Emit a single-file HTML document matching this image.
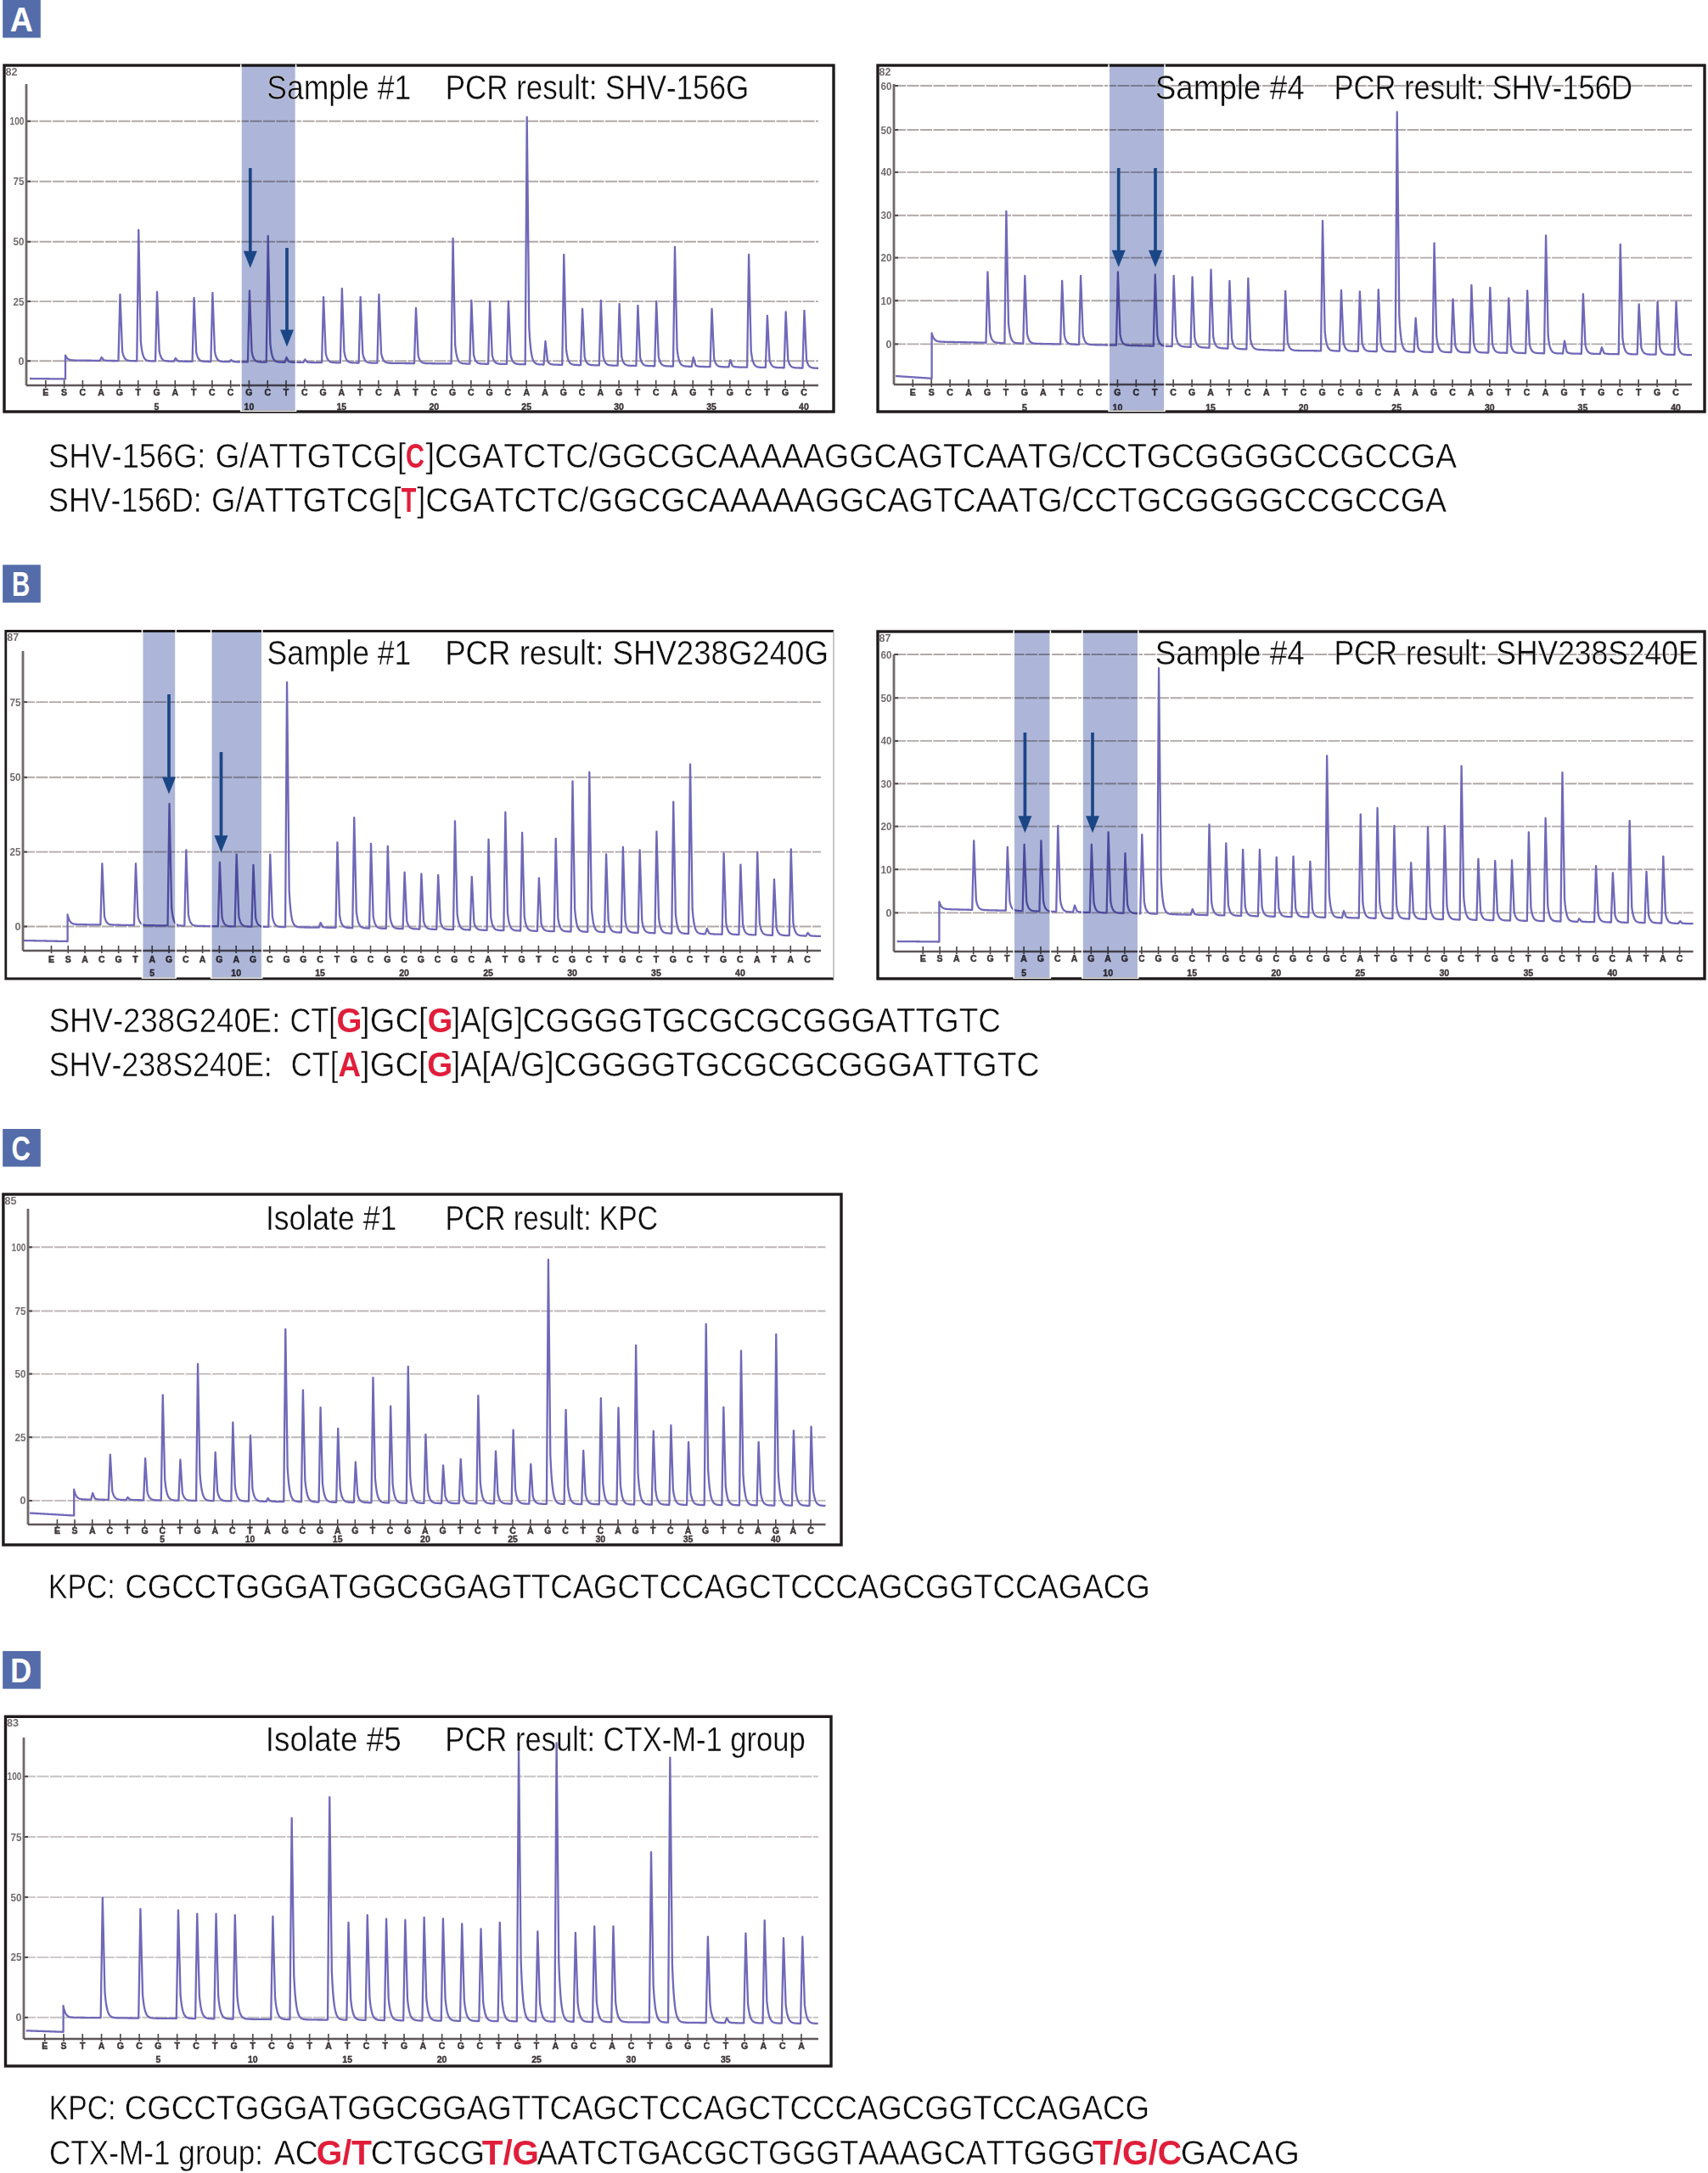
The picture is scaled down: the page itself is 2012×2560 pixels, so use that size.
<!DOCTYPE html>
<html><head><meta charset="utf-8"><style>
html,body{margin:0;padding:0;background:#fff;}
body{width:2012px;height:2560px;overflow:hidden;}
svg{display:block;}
</style></head><body>
<svg width="2012" height="2560" viewBox="0 0 2012 2560">
<defs><filter id="soft" x="-1%" y="-2%" width="102%" height="104%"><feGaussianBlur stdDeviation="0.6"/></filter></defs>
<rect x="0" y="0" width="2012" height="2560" fill="#fff"/>
<rect x="3.2" y="0" width="44.6" height="44.5" fill="#546ca9"/>
<text x="11.86" y="36.7" font-family="Liberation Sans" font-size="41.4" font-weight="bold" fill="#fff" textLength="27.23" lengthAdjust="spacingAndGlyphs" style="font-kerning:none" xml:space="preserve">A</text>
<rect x="3.2" y="665.4" width="44.6" height="44.5" fill="#546ca9"/>
<text x="14.04" y="702.1" font-family="Liberation Sans" font-size="41.4" font-weight="bold" fill="#fff" textLength="21.2" lengthAdjust="spacingAndGlyphs" style="font-kerning:none" xml:space="preserve">B</text>
<rect x="3.2" y="1330" width="44.6" height="44.5" fill="#546ca9"/>
<text x="13.53" y="1366.7" font-family="Liberation Sans" font-size="41.4" font-weight="bold" fill="#fff" textLength="22.42" lengthAdjust="spacingAndGlyphs" style="font-kerning:none" xml:space="preserve">C</text>
<rect x="3.2" y="1945.1" width="44.6" height="44.5" fill="#546ca9"/>
<text x="12.29" y="1981.8" font-family="Liberation Sans" font-size="41.4" font-weight="bold" fill="#fff" textLength="24.96" lengthAdjust="spacingAndGlyphs" style="font-kerning:none" xml:space="preserve">D</text>
<g filter="url(#soft)">
<line x1="31" y1="142.8" x2="964" y2="142.8" stroke="#b0a9a8" stroke-width="1.9" stroke-dasharray="14 1.5"/>
<line x1="31" y1="142.8" x2="36" y2="142.8" stroke="#4b4547" stroke-width="2"/>
<text x="28.5" y="147.3" font-family="Liberation Sans" font-weight="bold" font-size="12" fill="#5a5254" text-anchor="end" textLength="17" lengthAdjust="spacingAndGlyphs" opacity="0.85">100</text>
<line x1="31" y1="213.7" x2="964" y2="213.7" stroke="#b0a9a8" stroke-width="1.9" stroke-dasharray="14 1.5"/>
<line x1="31" y1="213.7" x2="36" y2="213.7" stroke="#4b4547" stroke-width="2"/>
<text x="28.5" y="218.2" font-family="Liberation Sans" font-weight="bold" font-size="12" fill="#5a5254" text-anchor="end" textLength="13" lengthAdjust="spacingAndGlyphs" opacity="0.85">75</text>
<line x1="31" y1="284.8" x2="964" y2="284.8" stroke="#b0a9a8" stroke-width="1.9" stroke-dasharray="14 1.5"/>
<line x1="31" y1="284.8" x2="36" y2="284.8" stroke="#4b4547" stroke-width="2"/>
<text x="28.5" y="289.3" font-family="Liberation Sans" font-weight="bold" font-size="12" fill="#5a5254" text-anchor="end" textLength="13" lengthAdjust="spacingAndGlyphs" opacity="0.85">50</text>
<line x1="31" y1="355.1" x2="964" y2="355.1" stroke="#b0a9a8" stroke-width="1.9" stroke-dasharray="14 1.5"/>
<line x1="31" y1="355.1" x2="36" y2="355.1" stroke="#4b4547" stroke-width="2"/>
<text x="28.5" y="359.6" font-family="Liberation Sans" font-weight="bold" font-size="12" fill="#5a5254" text-anchor="end" textLength="13" lengthAdjust="spacingAndGlyphs" opacity="0.85">25</text>
<line x1="31" y1="425.3" x2="964" y2="425.3" stroke="#b0a9a8" stroke-width="1.9" stroke-dasharray="14 1.5"/>
<line x1="31" y1="425.3" x2="36" y2="425.3" stroke="#4b4547" stroke-width="2"/>
<text x="28.5" y="429.8" font-family="Liberation Sans" font-weight="bold" font-size="12" fill="#5a5254" text-anchor="end" textLength="7" lengthAdjust="spacingAndGlyphs" opacity="0.85">0</text>
<text x="6.5" y="88.5" font-family="Liberation Sans" font-weight="bold" font-size="12" fill="#5a5254" textLength="14" lengthAdjust="spacingAndGlyphs" opacity="0.85">82</text>
<line x1="31" y1="99" x2="31" y2="454" stroke="#6f6769" stroke-width="2.8"/>
<line x1="31" y1="454" x2="964" y2="454" stroke="#5f5759" stroke-width="2.6"/>
<line x1="53.82" y1="448" x2="53.82" y2="457" stroke="#4b4547" stroke-width="1.6"/>
<text x="53.82" y="466" font-family="Liberation Sans" font-weight="bold" font-size="10.5" fill="#3d3638" stroke="#3d3638" stroke-width="0.5" text-anchor="middle">E</text>
<line x1="75.6" y1="448" x2="75.6" y2="457" stroke="#4b4547" stroke-width="1.6"/>
<text x="75.6" y="466" font-family="Liberation Sans" font-weight="bold" font-size="10.5" fill="#3d3638" stroke="#3d3638" stroke-width="0.5" text-anchor="middle">S</text>
<line x1="97.39" y1="448" x2="97.39" y2="457" stroke="#4b4547" stroke-width="1.6"/>
<text x="97.39" y="466" font-family="Liberation Sans" font-weight="bold" font-size="10.5" fill="#3d3638" stroke="#3d3638" stroke-width="0.5" text-anchor="middle">C</text>
<line x1="119.17" y1="448" x2="119.17" y2="457" stroke="#4b4547" stroke-width="1.6"/>
<text x="119.17" y="466" font-family="Liberation Sans" font-weight="bold" font-size="10.5" fill="#3d3638" stroke="#3d3638" stroke-width="0.5" text-anchor="middle">A</text>
<line x1="140.96" y1="448" x2="140.96" y2="457" stroke="#4b4547" stroke-width="1.6"/>
<text x="140.96" y="466" font-family="Liberation Sans" font-weight="bold" font-size="10.5" fill="#3d3638" stroke="#3d3638" stroke-width="0.5" text-anchor="middle">G</text>
<line x1="162.74" y1="448" x2="162.74" y2="457" stroke="#4b4547" stroke-width="1.6"/>
<text x="162.74" y="466" font-family="Liberation Sans" font-weight="bold" font-size="10.5" fill="#3d3638" stroke="#3d3638" stroke-width="0.5" text-anchor="middle">T</text>
<line x1="184.52" y1="448" x2="184.52" y2="457" stroke="#4b4547" stroke-width="1.6"/>
<text x="184.52" y="466" font-family="Liberation Sans" font-weight="bold" font-size="10.5" fill="#3d3638" stroke="#3d3638" stroke-width="0.5" text-anchor="middle">G</text>
<line x1="206.31" y1="448" x2="206.31" y2="457" stroke="#4b4547" stroke-width="1.6"/>
<text x="206.31" y="466" font-family="Liberation Sans" font-weight="bold" font-size="10.5" fill="#3d3638" stroke="#3d3638" stroke-width="0.5" text-anchor="middle">A</text>
<line x1="228.09" y1="448" x2="228.09" y2="457" stroke="#4b4547" stroke-width="1.6"/>
<text x="228.09" y="466" font-family="Liberation Sans" font-weight="bold" font-size="10.5" fill="#3d3638" stroke="#3d3638" stroke-width="0.5" text-anchor="middle">T</text>
<line x1="249.88" y1="448" x2="249.88" y2="457" stroke="#4b4547" stroke-width="1.6"/>
<text x="249.88" y="466" font-family="Liberation Sans" font-weight="bold" font-size="10.5" fill="#3d3638" stroke="#3d3638" stroke-width="0.5" text-anchor="middle">C</text>
<line x1="271.66" y1="448" x2="271.66" y2="457" stroke="#4b4547" stroke-width="1.6"/>
<text x="271.66" y="466" font-family="Liberation Sans" font-weight="bold" font-size="10.5" fill="#3d3638" stroke="#3d3638" stroke-width="0.5" text-anchor="middle">C</text>
<line x1="293.44" y1="448" x2="293.44" y2="457" stroke="#4b4547" stroke-width="1.6"/>
<text x="293.44" y="466" font-family="Liberation Sans" font-weight="bold" font-size="10.5" fill="#3d3638" stroke="#3d3638" stroke-width="0.5" text-anchor="middle">G</text>
<line x1="315.23" y1="448" x2="315.23" y2="457" stroke="#4b4547" stroke-width="1.6"/>
<text x="315.23" y="466" font-family="Liberation Sans" font-weight="bold" font-size="10.5" fill="#3d3638" stroke="#3d3638" stroke-width="0.5" text-anchor="middle">C</text>
<line x1="337.01" y1="448" x2="337.01" y2="457" stroke="#4b4547" stroke-width="1.6"/>
<text x="337.01" y="466" font-family="Liberation Sans" font-weight="bold" font-size="10.5" fill="#3d3638" stroke="#3d3638" stroke-width="0.5" text-anchor="middle">T</text>
<line x1="358.8" y1="448" x2="358.8" y2="457" stroke="#4b4547" stroke-width="1.6"/>
<text x="358.8" y="466" font-family="Liberation Sans" font-weight="bold" font-size="10.5" fill="#3d3638" stroke="#3d3638" stroke-width="0.5" text-anchor="middle">C</text>
<line x1="380.58" y1="448" x2="380.58" y2="457" stroke="#4b4547" stroke-width="1.6"/>
<text x="380.58" y="466" font-family="Liberation Sans" font-weight="bold" font-size="10.5" fill="#3d3638" stroke="#3d3638" stroke-width="0.5" text-anchor="middle">G</text>
<line x1="402.36" y1="448" x2="402.36" y2="457" stroke="#4b4547" stroke-width="1.6"/>
<text x="402.36" y="466" font-family="Liberation Sans" font-weight="bold" font-size="10.5" fill="#3d3638" stroke="#3d3638" stroke-width="0.5" text-anchor="middle">A</text>
<line x1="424.15" y1="448" x2="424.15" y2="457" stroke="#4b4547" stroke-width="1.6"/>
<text x="424.15" y="466" font-family="Liberation Sans" font-weight="bold" font-size="10.5" fill="#3d3638" stroke="#3d3638" stroke-width="0.5" text-anchor="middle">T</text>
<line x1="445.93" y1="448" x2="445.93" y2="457" stroke="#4b4547" stroke-width="1.6"/>
<text x="445.93" y="466" font-family="Liberation Sans" font-weight="bold" font-size="10.5" fill="#3d3638" stroke="#3d3638" stroke-width="0.5" text-anchor="middle">C</text>
<line x1="467.72" y1="448" x2="467.72" y2="457" stroke="#4b4547" stroke-width="1.6"/>
<text x="467.72" y="466" font-family="Liberation Sans" font-weight="bold" font-size="10.5" fill="#3d3638" stroke="#3d3638" stroke-width="0.5" text-anchor="middle">A</text>
<line x1="489.5" y1="448" x2="489.5" y2="457" stroke="#4b4547" stroke-width="1.6"/>
<text x="489.5" y="466" font-family="Liberation Sans" font-weight="bold" font-size="10.5" fill="#3d3638" stroke="#3d3638" stroke-width="0.5" text-anchor="middle">T</text>
<line x1="511.28" y1="448" x2="511.28" y2="457" stroke="#4b4547" stroke-width="1.6"/>
<text x="511.28" y="466" font-family="Liberation Sans" font-weight="bold" font-size="10.5" fill="#3d3638" stroke="#3d3638" stroke-width="0.5" text-anchor="middle">C</text>
<line x1="533.07" y1="448" x2="533.07" y2="457" stroke="#4b4547" stroke-width="1.6"/>
<text x="533.07" y="466" font-family="Liberation Sans" font-weight="bold" font-size="10.5" fill="#3d3638" stroke="#3d3638" stroke-width="0.5" text-anchor="middle">G</text>
<line x1="554.85" y1="448" x2="554.85" y2="457" stroke="#4b4547" stroke-width="1.6"/>
<text x="554.85" y="466" font-family="Liberation Sans" font-weight="bold" font-size="10.5" fill="#3d3638" stroke="#3d3638" stroke-width="0.5" text-anchor="middle">C</text>
<line x1="576.64" y1="448" x2="576.64" y2="457" stroke="#4b4547" stroke-width="1.6"/>
<text x="576.64" y="466" font-family="Liberation Sans" font-weight="bold" font-size="10.5" fill="#3d3638" stroke="#3d3638" stroke-width="0.5" text-anchor="middle">G</text>
<line x1="598.42" y1="448" x2="598.42" y2="457" stroke="#4b4547" stroke-width="1.6"/>
<text x="598.42" y="466" font-family="Liberation Sans" font-weight="bold" font-size="10.5" fill="#3d3638" stroke="#3d3638" stroke-width="0.5" text-anchor="middle">C</text>
<line x1="620.2" y1="448" x2="620.2" y2="457" stroke="#4b4547" stroke-width="1.6"/>
<text x="620.2" y="466" font-family="Liberation Sans" font-weight="bold" font-size="10.5" fill="#3d3638" stroke="#3d3638" stroke-width="0.5" text-anchor="middle">A</text>
<line x1="641.99" y1="448" x2="641.99" y2="457" stroke="#4b4547" stroke-width="1.6"/>
<text x="641.99" y="466" font-family="Liberation Sans" font-weight="bold" font-size="10.5" fill="#3d3638" stroke="#3d3638" stroke-width="0.5" text-anchor="middle">A</text>
<line x1="663.77" y1="448" x2="663.77" y2="457" stroke="#4b4547" stroke-width="1.6"/>
<text x="663.77" y="466" font-family="Liberation Sans" font-weight="bold" font-size="10.5" fill="#3d3638" stroke="#3d3638" stroke-width="0.5" text-anchor="middle">G</text>
<line x1="685.56" y1="448" x2="685.56" y2="457" stroke="#4b4547" stroke-width="1.6"/>
<text x="685.56" y="466" font-family="Liberation Sans" font-weight="bold" font-size="10.5" fill="#3d3638" stroke="#3d3638" stroke-width="0.5" text-anchor="middle">C</text>
<line x1="707.34" y1="448" x2="707.34" y2="457" stroke="#4b4547" stroke-width="1.6"/>
<text x="707.34" y="466" font-family="Liberation Sans" font-weight="bold" font-size="10.5" fill="#3d3638" stroke="#3d3638" stroke-width="0.5" text-anchor="middle">A</text>
<line x1="729.12" y1="448" x2="729.12" y2="457" stroke="#4b4547" stroke-width="1.6"/>
<text x="729.12" y="466" font-family="Liberation Sans" font-weight="bold" font-size="10.5" fill="#3d3638" stroke="#3d3638" stroke-width="0.5" text-anchor="middle">G</text>
<line x1="750.91" y1="448" x2="750.91" y2="457" stroke="#4b4547" stroke-width="1.6"/>
<text x="750.91" y="466" font-family="Liberation Sans" font-weight="bold" font-size="10.5" fill="#3d3638" stroke="#3d3638" stroke-width="0.5" text-anchor="middle">T</text>
<line x1="772.69" y1="448" x2="772.69" y2="457" stroke="#4b4547" stroke-width="1.6"/>
<text x="772.69" y="466" font-family="Liberation Sans" font-weight="bold" font-size="10.5" fill="#3d3638" stroke="#3d3638" stroke-width="0.5" text-anchor="middle">C</text>
<line x1="794.48" y1="448" x2="794.48" y2="457" stroke="#4b4547" stroke-width="1.6"/>
<text x="794.48" y="466" font-family="Liberation Sans" font-weight="bold" font-size="10.5" fill="#3d3638" stroke="#3d3638" stroke-width="0.5" text-anchor="middle">A</text>
<line x1="816.26" y1="448" x2="816.26" y2="457" stroke="#4b4547" stroke-width="1.6"/>
<text x="816.26" y="466" font-family="Liberation Sans" font-weight="bold" font-size="10.5" fill="#3d3638" stroke="#3d3638" stroke-width="0.5" text-anchor="middle">G</text>
<line x1="838.04" y1="448" x2="838.04" y2="457" stroke="#4b4547" stroke-width="1.6"/>
<text x="838.04" y="466" font-family="Liberation Sans" font-weight="bold" font-size="10.5" fill="#3d3638" stroke="#3d3638" stroke-width="0.5" text-anchor="middle">T</text>
<line x1="859.83" y1="448" x2="859.83" y2="457" stroke="#4b4547" stroke-width="1.6"/>
<text x="859.83" y="466" font-family="Liberation Sans" font-weight="bold" font-size="10.5" fill="#3d3638" stroke="#3d3638" stroke-width="0.5" text-anchor="middle">G</text>
<line x1="881.61" y1="448" x2="881.61" y2="457" stroke="#4b4547" stroke-width="1.6"/>
<text x="881.61" y="466" font-family="Liberation Sans" font-weight="bold" font-size="10.5" fill="#3d3638" stroke="#3d3638" stroke-width="0.5" text-anchor="middle">C</text>
<line x1="903.4" y1="448" x2="903.4" y2="457" stroke="#4b4547" stroke-width="1.6"/>
<text x="903.4" y="466" font-family="Liberation Sans" font-weight="bold" font-size="10.5" fill="#3d3638" stroke="#3d3638" stroke-width="0.5" text-anchor="middle">T</text>
<line x1="925.18" y1="448" x2="925.18" y2="457" stroke="#4b4547" stroke-width="1.6"/>
<text x="925.18" y="466" font-family="Liberation Sans" font-weight="bold" font-size="10.5" fill="#3d3638" stroke="#3d3638" stroke-width="0.5" text-anchor="middle">G</text>
<line x1="946.96" y1="448" x2="946.96" y2="457" stroke="#4b4547" stroke-width="1.6"/>
<text x="946.96" y="466" font-family="Liberation Sans" font-weight="bold" font-size="10.5" fill="#3d3638" stroke="#3d3638" stroke-width="0.5" text-anchor="middle">C</text>
<text x="184.52" y="482.5" font-family="Liberation Sans" font-weight="bold" font-size="10.5" fill="#3d3638" stroke="#3d3638" stroke-width="0.4" text-anchor="middle">5</text>
<text x="293.44" y="482.5" font-family="Liberation Sans" font-weight="bold" font-size="10.5" fill="#3d3638" stroke="#3d3638" stroke-width="0.4" text-anchor="middle">10</text>
<text x="402.36" y="482.5" font-family="Liberation Sans" font-weight="bold" font-size="10.5" fill="#3d3638" stroke="#3d3638" stroke-width="0.4" text-anchor="middle">15</text>
<text x="511.28" y="482.5" font-family="Liberation Sans" font-weight="bold" font-size="10.5" fill="#3d3638" stroke="#3d3638" stroke-width="0.4" text-anchor="middle">20</text>
<text x="620.2" y="482.5" font-family="Liberation Sans" font-weight="bold" font-size="10.5" fill="#3d3638" stroke="#3d3638" stroke-width="0.4" text-anchor="middle">25</text>
<text x="729.12" y="482.5" font-family="Liberation Sans" font-weight="bold" font-size="10.5" fill="#3d3638" stroke="#3d3638" stroke-width="0.4" text-anchor="middle">30</text>
<text x="838.04" y="482.5" font-family="Liberation Sans" font-weight="bold" font-size="10.5" fill="#3d3638" stroke="#3d3638" stroke-width="0.4" text-anchor="middle">35</text>
<text x="946.96" y="482.5" font-family="Liberation Sans" font-weight="bold" font-size="10.5" fill="#3d3638" stroke="#3d3638" stroke-width="0.4" text-anchor="middle">40</text>
<path d="M35 446 L35.5 446.01 L36 446.01 L36.5 446.02 L37 446.02 L37.5 446.03 L38 446.04 L38.5 446.04 L39 446.05 L39.5 446.05 L40 446.06 L40.5 446.07 L41 446.07 L41.5 446.08 L42 446.08 L42.5 446.09 L43 446.1 L43.5 446.1 L44 446.11 L44.5 446.11 L45 446.12 L45.5 446.12 L46 446.13 L46.5 446.14 L47 446.14 L47.5 446.15 L48 446.15 L48.5 446.16 L49 446.17 L49.5 446.17 L50 446.18 L50.5 446.18 L51 446.19 L51.5 446.2 L52 446.2 L52.5 446.21 L53 446.21 L53.5 446.22 L54 446.23 L54.5 446.23 L55 446.24 L55.5 446.24 L56 446.25 L56.5 446.26 L57 446.26 L57.5 446.27 L58 446.27 L58.5 446.28 L59 446.29 L59.5 446.29 L60 446.3 L60.5 446.3 L61 446.31 L61.5 446.32 L62 446.32 L62.5 446.33 L63 446.33 L63.5 446.34 L64 446.35 L64.5 446.35 L65 446.36 L65.5 446.36 L66 446.37 L66.5 446.38 L67 446.38 L67.5 446.39 L68 446.39 L68.5 446.4 L69 446.4 L69.5 446.41 L70 446.42 L70.5 446.42 L71 446.43 L71.5 446.43 L72 446.44 L72.5 446.45 L73 446.45 L73.5 446.46 L74 446.46 L74.5 446.47 L75 446.48 L75.5 446.48 L76 446.49 L76.5 446.49 L77 446.5 L77 418.6 L77.5 419.67 L78 420.55 L78.5 421.27 L79 421.86 L79.5 422.34 L80 422.74 L80.5 423.07 L81 423.34 L81.5 423.56 L82 423.74 L82.5 423.89 L83 424.01 L83.5 424.12 L84 424.2 L84.5 424.27 L85 424.33 L85.5 424.38 L86 424.42 L86.5 424.45 L87 424.48 L87.5 424.5 L88 424.53 L88.5 424.54 L89 424.56 L89.5 424.57 L90 424.58 L90.5 424.59 L91 424.6 L91.5 424.61 L92 424.62 L92.5 424.63 L93 424.63 L93.5 424.64 L94 424.65 L94.5 424.65 L95 424.66 L95.5 424.66 L96 424.67 L96.5 424.67 L97 424.68 L97.5 424.68 L98 424.69 L98.5 424.69 L99 424.7 L99.5 424.7 L100 424.71 L100.5 424.71 L101 424.71 L101.5 424.72 L102 424.72 L102.5 424.73 L103 424.73 L103.5 424.74 L104 424.74 L104.5 424.75 L105 424.75 L105.5 424.76 L106 424.76 L106.5 424.76 L107 424.77 L107.5 424.77 L108 424.78 L108.5 424.78 L109 424.79 L109.5 424.79 L110 424.8 L110.5 424.8 L111 424.8 L111.5 424.81 L112 424.81 L112.5 424.82 L113 424.82 L113.5 424.83 L114 424.83 L114.5 424.84 L115 424.84 L115.5 424.85 L116 424.85 L116.5 424.85 L117 424.86 L117.5 424.86 L117.67 424.86 L118 424.23 L118.5 423.26 L119 422.3 L119.5 421.33 L119.67 421 L120 421.42 L120.5 422.06 L121 422.7 L121.5 423.34 L122 423.98 L122.27 424.32 L122.5 424.38 L123 424.49 L123.5 424.58 L124 424.66 L124.5 424.71 L125 424.76 L125.5 424.8 L126 424.83 L126.5 424.86 L127 424.88 L127.5 424.9 L128 424.91 L128.5 424.93 L129 424.94 L129.5 424.95 L130 424.96 L130.5 424.97 L131 424.97 L131.5 424.98 L132 424.99 L132.5 424.99 L133 425 L133.5 425 L134 425.01 L134.5 425.01 L135 425.02 L135.5 425.02 L136 425.03 L136.5 425.03 L137 425.04 L137.5 425.04 L138 425.05 L138.5 425.05 L139 425.06 L139.46 425.06 L139.5 423.34 L140 403.83 L140.5 384.31 L141 364.8 L141.46 347 L141.5 348.12 L142 360.89 L142.5 373.66 L143 386.43 L143.5 399.19 L144 411.96 L144.06 413.39 L144.5 415.53 L145 417.48 L145.5 419.04 L146 420.28 L146.5 421.27 L147 422.06 L147.5 422.68 L148 423.19 L148.5 423.59 L149 423.91 L149.5 424.16 L150 424.37 L150.5 424.53 L151 424.66 L151.5 424.77 L152 424.86 L152.5 424.92 L153 424.98 L153.5 425.03 L154 425.06 L154.5 425.09 L155 425.12 L155.5 425.14 L156 425.16 L156.5 425.17 L157 425.18 L157.5 425.2 L158 425.21 L158.5 425.21 L159 425.22 L159.5 425.23 L160 425.24 L160.5 425.24 L161 425.25 L161.24 425.25 L161.5 405.2 L162 366.64 L162.5 328.07 L163 289.51 L163.24 271 L163.5 284.11 L164 309.34 L164.5 334.56 L165 359.78 L165.5 385 L165.84 402.16 L166 403.78 L166.5 408.16 L167 411.65 L167.5 414.43 L168 416.65 L168.5 418.41 L169 419.82 L169.5 420.95 L170 421.84 L170.5 422.56 L171 423.13 L171.5 423.58 L172 423.94 L172.5 424.24 L173 424.47 L173.5 424.65 L174 424.8 L174.5 424.92 L175 425.02 L175.5 425.1 L176 425.16 L176.5 425.21 L177 425.25 L177.5 425.29 L178 425.31 L178.5 425.34 L179 425.36 L179.5 425.37 L180 425.39 L180.5 425.4 L181 425.41 L181.5 425.42 L182 425.43 L182.5 425.43 L183 425.44 L183.02 425.44 L183.5 406.06 L184 385.7 L184.5 365.34 L185 344.97 L185.02 344 L185.5 356.68 L186 370 L186.5 383.32 L187 396.65 L187.5 409.97 L187.62 413.27 L188 415.19 L188.5 417.29 L189 418.97 L189.5 420.3 L190 421.36 L190.5 422.21 L191 422.89 L191.5 423.43 L192 423.86 L192.5 424.2 L193 424.48 L193.5 424.7 L194 424.88 L194.5 425.02 L195 425.13 L195.5 425.22 L196 425.3 L196.5 425.36 L197 425.4 L197.5 425.44 L198 425.48 L198.5 425.5 L199 425.52 L199.5 425.54 L200 425.56 L200.5 425.57 L201 425.58 L201.5 425.59 L202 425.6 L202.5 425.61 L203 425.62 L203.5 425.63 L204 425.63 L204.5 425.64 L204.81 425.64 L205 425.29 L205.5 424.38 L206 423.47 L206.5 422.56 L206.81 422 L207 422.23 L207.5 422.83 L208 423.44 L208.5 424.04 L209 424.64 L209.41 425.14 L209.5 425.16 L210 425.27 L210.5 425.36 L211 425.43 L211.5 425.49 L212 425.54 L212.5 425.58 L213 425.61 L213.5 425.64 L214 425.66 L214.5 425.68 L215 425.69 L215.5 425.71 L216 425.72 L216.5 425.73 L217 425.74 L217.5 425.75 L218 425.75 L218.5 425.76 L219 425.77 L219.5 425.77 L220 425.78 L220.5 425.78 L221 425.79 L221.5 425.79 L222 425.8 L222.5 425.8 L223 425.81 L223.5 425.81 L224 425.82 L224.5 425.82 L225 425.83 L225.5 425.83 L226 425.84 L226.5 425.84 L226.59 425.84 L227 410.57 L227.5 391.86 L228 373.15 L228.5 354.44 L228.59 351 L229 360.99 L229.5 373.23 L230 385.47 L230.5 397.71 L231 409.95 L231.19 414.65 L231.5 416.12 L232 418.11 L232.5 419.7 L233 420.96 L233.5 421.97 L234 422.77 L234.5 423.42 L235 423.93 L235.5 424.34 L236 424.66 L236.5 424.92 L237 425.13 L237.5 425.3 L238 425.44 L238.5 425.54 L239 425.63 L239.5 425.7 L240 425.76 L240.5 425.8 L241 425.84 L241.5 425.87 L242 425.9 L242.5 425.92 L243 425.94 L243.5 425.95 L244 425.96 L244.5 425.98 L245 425.99 L245.5 425.99 L246 426 L246.5 426.01 L247 426.02 L247.5 426.02 L248 426.03 L248.38 426.03 L248.5 421.01 L249 400.75 L249.5 380.49 L250 360.23 L250.38 345 L250.5 348.29 L251 361.54 L251.5 374.79 L252 388.05 L252.5 401.3 L252.98 413.92 L253 414.05 L253.5 416.5 L254 418.45 L254.5 420.01 L255 421.25 L255.5 422.24 L256 423.03 L256.5 423.66 L257 424.16 L257.5 424.56 L258 424.88 L258.5 425.14 L259 425.35 L259.5 425.51 L260 425.64 L260.5 425.75 L261 425.83 L261.5 425.9 L262 425.96 L262.5 426 L263 426.04 L263.5 426.07 L264 426.1 L264.5 426.12 L265 426.13 L265.5 426.15 L266 426.16 L266.5 426.17 L267 426.18 L267.5 426.19 L268 426.2 L268.5 426.21 L269 426.21 L269.5 426.22 L270 426.23 L270.16 426.23 L270.5 425.85 L271 425.29 L271.5 424.73 L272 424.18 L272.16 424 L272.5 424.25 L273 424.62 L273.5 425 L274 425.37 L274.5 425.74 L274.76 425.94 L275 425.97 L275.5 426.04 L276 426.09 L276.5 426.14 L277 426.17 L277.5 426.2 L278 426.23 L278.5 426.25 L279 426.26 L279.5 426.28 L280 426.29 L280.5 426.3 L281 426.31 L281.5 426.32 L282 426.33 L282.5 426.33 L283 426.34 L283.5 426.35 L284 426.35 L284.5 426.36 L285 426.36 L285.5 426.37 L286 426.37 L286.5 426.38 L287 426.38 L287.5 426.39 L288 426.39 L288.5 426.4 L289 426.4 L289.5 426.41 L290 426.41 L290.5 426.41 L291 426.42 L291.5 426.42 L291.94 426.43 L292 424.08 L292.5 403.1 L293 382.11 L293.5 361.13 L293.94 342.5 L294 344.04 L294.5 357.76 L295 371.49 L295.5 385.22 L296 398.94 L296.5 412.67 L296.54 413.88 L297 416.24 L297.5 418.32 L298 419.99 L298.5 421.31 L299 422.37 L299.5 423.21 L300 423.88 L300.5 424.42 L301 424.85 L301.5 425.19 L302 425.46 L302.5 425.68 L303 425.86 L303.5 426 L304 426.11 L304.5 426.2 L305 426.27 L305.5 426.33 L306 426.38 L306.5 426.42 L307 426.45 L307.5 426.48 L308 426.5 L308.5 426.52 L309 426.53 L309.5 426.54 L310 426.56 L310.5 426.57 L311 426.57 L311.5 426.58 L312 426.59 L312.5 426.6 L313 426.6 L313.5 426.61 L313.73 426.61 L314 406.4 L314.5 369.25 L315 332.09 L315.5 294.94 L315.73 278 L316 291.22 L316.5 315.52 L317 339.82 L317.5 364.12 L318 388.42 L318.33 404.36 L318.5 406.04 L319 410.23 L319.5 413.58 L320 416.24 L320.5 418.36 L321 420.06 L321.5 421.41 L322 422.48 L322.5 423.34 L323 424.03 L323.5 424.57 L324 425.01 L324.5 425.36 L325 425.63 L325.5 425.86 L326 426.03 L326.5 426.18 L327 426.29 L327.5 426.38 L328 426.46 L328.5 426.52 L329 426.57 L329.5 426.61 L330 426.64 L330.5 426.67 L331 426.69 L331.5 426.71 L332 426.72 L332.5 426.74 L333 426.75 L333.5 426.76 L334 426.77 L334.5 426.77 L335 426.78 L335.5 426.79 L335.51 426.79 L336 425.37 L336.5 423.93 L337 422.48 L337.5 421.03 L337.51 421 L338 421.93 L338.5 422.88 L339 423.84 L339.5 424.79 L340 425.75 L340.11 425.96 L340.5 426.11 L341 426.26 L341.5 426.38 L342 426.48 L342.5 426.56 L343 426.62 L343.5 426.68 L344 426.72 L344.5 426.75 L345 426.78 L345.5 426.8 L346 426.82 L346.5 426.84 L347 426.85 L347.5 426.87 L348 426.88 L348.5 426.88 L349 426.89 L349.5 426.9 L350 426.91 L350.5 426.91 L351 426.92 L351.5 426.92 L352 426.93 L352.5 426.93 L353 426.94 L353.5 426.94 L354 426.95 L354.5 426.95 L355 426.96 L355.5 426.96 L356 426.97 L356.5 426.97 L357 426.97 L357.3 426.98 L357.5 426.62 L358 425.75 L358.5 424.88 L359 424.01 L359.3 423.5 L359.5 423.73 L360 424.31 L360.5 424.89 L361 425.46 L361.5 426.04 L361.9 426.49 L362 426.52 L362.5 426.62 L363 426.71 L363.5 426.78 L364 426.83 L364.5 426.88 L365 426.91 L365.5 426.94 L366 426.97 L366.5 426.99 L367 427.01 L367.5 427.02 L368 427.03 L368.5 427.04 L369 427.05 L369.5 427.06 L370 427.07 L370.5 427.08 L371 427.08 L371.5 427.09 L372 427.09 L372.5 427.1 L373 427.1 L373.5 427.11 L374 427.11 L374.5 427.12 L375 427.12 L375.5 427.13 L376 427.13 L376.5 427.14 L377 427.14 L377.5 427.15 L378 427.15 L378.5 427.15 L379 427.16 L379.08 427.16 L379.5 410.96 L380 391.67 L380.5 372.38 L381 353.09 L381.08 350 L381.5 360.6 L382 373.22 L382.5 385.84 L383 398.46 L383.5 411.08 L383.68 415.62 L384 417.19 L384.5 419.23 L385 420.86 L385.5 422.15 L386 423.18 L386.5 424.01 L387 424.67 L387.5 425.19 L388 425.61 L388.5 425.94 L389 426.21 L389.5 426.42 L390 426.6 L390.5 426.73 L391 426.84 L391.5 426.93 L392 427 L392.5 427.06 L393 427.11 L393.5 427.15 L394 427.18 L394.5 427.2 L395 427.22 L395.5 427.24 L396 427.26 L396.5 427.27 L397 427.28 L397.5 427.29 L398 427.3 L398.5 427.31 L399 427.31 L399.5 427.32 L400 427.33 L400.5 427.33 L400.86 427.34 L401 421.4 L401.5 399.56 L402 377.73 L402.5 355.89 L402.86 340 L403 343.88 L403.5 358.17 L404 372.45 L404.5 386.74 L405 401.02 L405.46 414.27 L405.5 414.49 L406 417.11 L406.5 419.2 L407 420.87 L407.5 422.2 L408 423.26 L408.5 424.11 L409 424.78 L409.5 425.32 L410 425.75 L410.5 426.09 L411 426.37 L411.5 426.59 L412 426.76 L412.5 426.9 L413 427.02 L413.5 427.11 L414 427.18 L414.5 427.24 L415 427.29 L415.5 427.33 L416 427.36 L416.5 427.38 L417 427.41 L417.5 427.42 L418 427.44 L418.5 427.45 L419 427.46 L419.5 427.47 L420 427.48 L420.5 427.49 L421 427.5 L421.5 427.5 L422 427.51 L422.5 427.52 L422.65 427.52 L423 413.87 L423.5 394.49 L424 375.11 L424.5 355.73 L424.65 350 L425 358.92 L425.5 371.6 L426 384.28 L426.5 396.96 L427 409.64 L427.25 415.93 L427.5 417.19 L428 419.3 L428.5 420.99 L429 422.33 L429.5 423.4 L430 424.25 L430.5 424.93 L431 425.48 L431.5 425.91 L432 426.26 L432.5 426.54 L433 426.76 L433.5 426.93 L434 427.08 L434.5 427.19 L435 427.28 L435.5 427.36 L436 427.42 L436.5 427.46 L437 427.5 L437.5 427.54 L438 427.56 L438.5 427.58 L439 427.6 L439.5 427.62 L440 427.63 L440.5 427.64 L441 427.65 L441.5 427.66 L442 427.67 L442.5 427.68 L443 427.68 L443.5 427.69 L444 427.69 L444.43 427.7 L444.5 424.96 L445 404.78 L445.5 384.6 L446 364.43 L446.43 347 L446.5 348.79 L447 361.99 L447.5 375.19 L448 388.39 L448.5 401.59 L449 414.79 L449.03 415.63 L449.5 417.96 L450 419.95 L450.5 421.54 L451 422.81 L451.5 423.82 L452 424.62 L452.5 425.27 L453 425.78 L453.5 426.19 L454 426.52 L454.5 426.78 L455 426.99 L455.5 427.16 L456 427.29 L456.5 427.4 L457 427.48 L457.5 427.55 L458 427.61 L458.5 427.66 L459 427.69 L459.5 427.73 L460 427.75 L460.5 427.77 L461 427.79 L461.5 427.8 L462 427.82 L462.5 427.83 L463 427.84 L463.5 427.85 L464 427.85 L464.5 427.86 L465 427.87 L465.5 427.87 L466 427.88 L466.5 427.88 L467 427.89 L467.5 427.89 L468 427.9 L468.5 427.9 L469 427.91 L469.5 427.91 L470 427.92 L470.5 427.92 L471 427.92 L471.5 427.93 L472 427.93 L472.5 427.94 L473 427.94 L473.5 427.95 L474 427.95 L474.5 427.95 L475 427.96 L475.5 427.96 L476 427.97 L476.5 427.97 L477 427.98 L477.5 427.98 L478 427.98 L478.5 427.99 L479 427.99 L479.5 428 L480 428 L480.5 428 L481 428.01 L481.5 428.01 L482 428.02 L482.5 428.02 L483 428.02 L483.5 428.03 L484 428.03 L484.5 428.04 L485 428.04 L485.5 428.05 L486 428.05 L486.5 428.05 L487 428.06 L487.5 428.06 L488 428.07 L488.5 411.8 L489 395.53 L489.5 379.27 L490 363 L490.5 373.64 L491 384.29 L491.5 394.93 L492 405.57 L492.5 416.21 L492.6 418.34 L493 419.97 L493.5 421.63 L494 422.95 L494.5 424 L495 424.85 L495.5 425.52 L496 426.05 L496.5 426.48 L497 426.82 L497.5 427.09 L498 427.31 L498.5 427.49 L499 427.63 L499.5 427.74 L500 427.83 L500.5 427.9 L501 427.96 L501.5 428.01 L502 428.05 L502.5 428.08 L503 428.11 L503.5 428.13 L504 428.15 L504.5 428.16 L505 428.17 L505.5 428.18 L506 428.19 L506.5 428.2 L507 428.21 L507.5 428.22 L508 428.22 L508.5 428.23 L509 428.24 L509.5 428.24 L510 428.25 L510.5 428.25 L511 428.26 L511.5 428.26 L512 428.27 L512.5 428.27 L513 428.27 L513.5 428.28 L514 428.28 L514.5 428.29 L515 428.29 L515.5 428.3 L516 428.3 L516.5 428.3 L517 428.31 L517.5 428.31 L518 428.32 L518.5 428.32 L519 428.32 L519.5 428.33 L520 428.33 L520.5 428.34 L521 428.34 L521.5 428.35 L522 428.35 L522.5 428.35 L523 428.36 L523.5 428.36 L524 428.37 L524.5 428.37 L525 428.38 L525.5 428.38 L526 428.38 L526.5 428.39 L527 428.39 L527.5 428.4 L528 428.4 L528.5 428.4 L529 428.41 L529.5 428.41 L530 428.42 L530.5 428.42 L531 428.43 L531.5 428.43 L531.57 428.43 L532 396.58 L532.5 359.73 L533 322.87 L533.5 286.01 L533.57 281 L534 301.83 L534.5 325.93 L535 350.04 L535.5 374.15 L536 398.25 L536.17 406.35 L536.5 409.45 L537 413.32 L537.5 416.41 L538 418.87 L538.5 420.82 L539 422.39 L539.5 423.63 L540 424.63 L540.5 425.42 L541 426.05 L541.5 426.55 L542 426.96 L542.5 427.28 L543 427.53 L543.5 427.74 L544 427.9 L544.5 428.04 L545 428.14 L545.5 428.23 L546 428.3 L546.5 428.35 L547 428.4 L547.5 428.43 L548 428.46 L548.5 428.49 L549 428.51 L549.5 428.53 L550 428.54 L550.5 428.55 L551 428.57 L551.5 428.58 L552 428.58 L552.5 428.59 L553 428.6 L553.35 428.6 L553.5 423.08 L554 404.43 L554.5 385.78 L555 367.13 L555.35 354 L555.5 357.61 L556 369.81 L556.5 382.02 L557 394.22 L557.5 406.42 L557.95 417.45 L558 417.7 L558.5 419.93 L559 421.71 L559.5 423.12 L560 424.25 L560.5 425.15 L561 425.87 L561.5 426.45 L562 426.91 L562.5 427.27 L563 427.56 L563.5 427.8 L564 427.98 L564.5 428.13 L565 428.25 L565.5 428.35 L566 428.43 L566.5 428.49 L567 428.54 L567.5 428.58 L568 428.62 L568.5 428.64 L569 428.67 L569.5 428.69 L570 428.7 L570.5 428.72 L571 428.73 L571.5 428.74 L572 428.75 L572.5 428.76 L573 428.76 L573.5 428.77 L574 428.78 L574.5 428.78 L575 428.79 L575.14 428.79 L575.5 415.36 L576 396.91 L576.5 378.46 L577 360.02 L577.14 355 L577.5 363.78 L578 375.85 L578.5 387.92 L579 399.99 L579.5 412.06 L579.74 417.76 L580 419.01 L580.5 421.01 L581 422.61 L581.5 423.88 L582 424.89 L582.5 425.7 L583 426.35 L583.5 426.86 L584 427.27 L584.5 427.6 L585 427.86 L585.5 428.07 L586 428.24 L586.5 428.38 L587 428.48 L587.5 428.57 L588 428.64 L588.5 428.7 L589 428.74 L589.5 428.78 L590 428.81 L590.5 428.84 L591 428.86 L591.5 428.88 L592 428.89 L592.5 428.9 L593 428.92 L593.5 428.92 L594 428.93 L594.5 428.94 L595 428.95 L595.5 428.95 L596 428.96 L596.5 428.97 L596.92 428.97 L597 426.01 L597.5 407.52 L598 389.03 L598.5 370.53 L598.92 355 L599 356.93 L599.5 369.03 L600 381.13 L600.5 393.23 L601 405.34 L601.5 417.44 L601.52 417.92 L602 420.1 L602.5 421.92 L603 423.38 L603.5 424.53 L604 425.46 L604.5 426.2 L605 426.78 L605.5 427.25 L606 427.63 L606.5 427.93 L607 428.17 L607.5 428.37 L608 428.52 L608.5 428.65 L609 428.75 L609.5 428.83 L610 428.9 L610.5 428.95 L611 429 L611.5 429.03 L612 429.06 L612.5 429.09 L613 429.11 L613.5 429.13 L614 429.15 L614.5 429.16 L615 429.17 L615.5 429.19 L616 429.2 L616.5 429.21 L617 429.21 L617.5 429.22 L618 429.23 L618.5 429.24 L618.7 429.24 L619 386.14 L619.5 313.33 L620 240.52 L620.5 167.71 L620.7 138 L621 166.19 L621.5 213.81 L622 261.43 L622.5 309.04 L623 356.66 L623.3 385.62 L623.5 389.34 L624 397.47 L624.5 403.95 L625 409.12 L625.5 413.23 L626 416.51 L626.5 419.13 L627 421.21 L627.5 422.88 L628 424.2 L628.5 425.26 L629 426.1 L629.5 426.78 L630 427.31 L630.5 427.74 L631 428.09 L631.5 428.36 L632 428.58 L632.5 428.76 L633 428.9 L633.5 429.02 L634 429.11 L634.5 429.19 L635 429.25 L635.5 429.3 L636 429.34 L636.5 429.37 L637 429.4 L637.5 429.43 L638 429.45 L638.5 429.46 L639 429.48 L639.5 429.49 L640 429.51 L640.49 429.52 L640.5 429.35 L641 422.47 L641.5 415.59 L642 408.71 L642.49 401.99 L642.5 402.1 L643 406.61 L643.5 411.13 L644 415.64 L644.5 420.15 L645 424.66 L645.09 425.46 L645.5 426.17 L646 426.87 L646.5 427.44 L647 427.89 L647.5 428.24 L648 428.53 L648.5 428.76 L649 428.95 L649.5 429.1 L650 429.22 L650.5 429.31 L651 429.39 L651.5 429.45 L652 429.51 L652.5 429.55 L653 429.59 L653.5 429.62 L654 429.64 L654.5 429.66 L655 429.68 L655.5 429.7 L656 429.71 L656.5 429.72 L657 429.73 L657.5 429.74 L658 429.75 L658.5 429.76 L659 429.77 L659.5 429.78 L660 429.79 L660.5 429.79 L661 429.8 L661.5 429.81 L662 429.82 L662.27 429.82 L662.5 415.02 L663 382.57 L663.5 350.11 L664 317.65 L664.27 300 L664.5 309.68 L665 330.91 L665.5 352.14 L666 373.38 L666.5 394.61 L666.87 410.4 L667 411.51 L667.5 415.25 L668 418.23 L668.5 420.61 L669 422.51 L669.5 424.02 L670 425.22 L670.5 426.19 L671 426.95 L671.5 427.57 L672 428.06 L672.5 428.45 L673 428.76 L673.5 429.01 L674 429.21 L674.5 429.37 L675 429.5 L675.5 429.61 L676 429.69 L676.5 429.76 L677 429.82 L677.5 429.87 L678 429.9 L678.5 429.94 L679 429.96 L679.5 429.99 L680 430.01 L680.5 430.02 L681 430.04 L681.5 430.05 L682 430.06 L682.5 430.07 L683 430.08 L683.5 430.09 L684 430.1 L684.06 430.1 L684.5 415.43 L685 398.9 L685.5 382.37 L686 365.85 L686.06 364 L686.5 373.6 L687 384.42 L687.5 395.24 L688 406.06 L688.5 416.87 L688.66 420.25 L689 421.69 L689.5 423.42 L690 424.8 L690.5 425.9 L691 426.78 L691.5 427.48 L692 428.04 L692.5 428.49 L693 428.85 L693.5 429.14 L694 429.37 L694.5 429.55 L695 429.7 L695.5 429.82 L696 429.91 L696.5 429.99 L697 430.06 L697.5 430.11 L698 430.15 L698.5 430.19 L699 430.22 L699.5 430.24 L700 430.26 L700.5 430.28 L701 430.3 L701.5 430.31 L702 430.32 L702.5 430.33 L703 430.34 L703.5 430.35 L704 430.36 L704.5 430.37 L705 430.38 L705.5 430.39 L705.84 430.39 L706 424.28 L706.5 405.18 L707 386.08 L707.5 366.99 L707.84 354 L708 358 L708.5 370.5 L709 383 L709.5 395.49 L710 407.99 L710.44 418.99 L710.5 419.3 L711 421.58 L711.5 423.39 L712 424.84 L712.5 425.99 L713 426.91 L713.5 427.64 L714 428.23 L714.5 428.7 L715 429.07 L715.5 429.37 L716 429.61 L716.5 429.81 L717 429.96 L717.5 430.09 L718 430.19 L718.5 430.27 L719 430.34 L719.5 430.39 L720 430.43 L720.5 430.47 L721 430.5 L721.5 430.53 L722 430.55 L722.5 430.57 L723 430.58 L723.5 430.6 L724 430.61 L724.5 430.62 L725 430.63 L725.5 430.64 L726 430.65 L726.5 430.66 L727 430.67 L727.5 430.68 L727.62 430.68 L728 417.01 L728.5 398.84 L729 380.67 L729.5 362.5 L729.62 358 L730 366.94 L730.5 378.83 L731 390.73 L731.5 402.62 L732 414.51 L732.22 419.84 L732.5 421.13 L733 423.09 L733.5 424.65 L734 425.9 L734.5 426.9 L735 427.69 L735.5 428.33 L736 428.83 L736.5 429.24 L737 429.56 L737.5 429.82 L738 430.03 L738.5 430.2 L739 430.33 L739.5 430.44 L740 430.53 L740.5 430.6 L741 430.66 L741.5 430.71 L742 430.74 L742.5 430.78 L743 430.8 L743.5 430.83 L744 430.85 L744.5 430.86 L745 430.88 L745.5 430.89 L746 430.9 L746.5 430.92 L747 430.93 L747.5 430.93 L748 430.94 L748.5 430.95 L749 430.96 L749.41 430.97 L749.5 427.7 L750 409.96 L750.5 392.22 L751 374.48 L751.41 360 L751.5 362.13 L752 373.75 L752.5 385.36 L753 396.97 L753.5 408.58 L754 420.2 L754.01 420.38 L754.5 422.52 L755 424.26 L755.5 425.65 L756 426.75 L756.5 427.63 L757 428.34 L757.5 428.9 L758 429.35 L758.5 429.71 L759 430 L759.5 430.23 L760 430.41 L760.5 430.56 L761 430.68 L761.5 430.78 L762 430.85 L762.5 430.92 L763 430.97 L763.5 431.01 L764 431.05 L764.5 431.08 L765 431.1 L765.5 431.13 L766 431.14 L766.5 431.16 L767 431.17 L767.5 431.19 L768 431.2 L768.5 431.21 L769 431.22 L769.5 431.23 L770 431.23 L770.5 431.24 L771 431.25 L771.19 431.25 L771.5 419.51 L772 400.45 L772.5 381.38 L773 362.32 L773.19 355 L773.5 362.68 L774 375.16 L774.5 387.64 L775 400.11 L775.5 412.59 L775.79 419.88 L776 420.91 L776.5 423.03 L777 424.73 L777.5 426.08 L778 427.15 L778.5 428.01 L779 428.7 L779.5 429.25 L780 429.68 L780.5 430.03 L781 430.31 L781.5 430.54 L782 430.72 L782.5 430.86 L783 430.98 L783.5 431.08 L784 431.15 L784.5 431.21 L785 431.27 L785.5 431.31 L786 431.34 L786.5 431.37 L787 431.4 L787.5 431.42 L788 431.43 L788.5 431.45 L789 431.46 L789.5 431.48 L790 431.49 L790.5 431.5 L791 431.51 L791.5 431.52 L792 431.52 L792.5 431.53 L792.98 431.54 L793 429.85 L793.5 394.72 L794 359.58 L794.5 324.45 L794.98 291 L795 292.1 L795.5 315.09 L796 338.07 L796.5 361.06 L797 384.04 L797.5 407.03 L797.58 410.52 L798 414.22 L798.5 417.76 L799 420.59 L799.5 422.84 L800 424.63 L800.5 426.06 L801 427.2 L801.5 428.11 L802 428.84 L802.5 429.42 L803 429.89 L803.5 430.26 L804 430.55 L804.5 430.79 L805 430.98 L805.5 431.13 L806 431.26 L806.5 431.36 L807 431.44 L807.5 431.5 L808 431.56 L808.5 431.6 L809 431.64 L809.5 431.67 L810 431.69 L810.5 431.72 L811 431.74 L811.5 431.75 L812 431.77 L812.5 431.78 L813 431.79 L813.5 431.8 L814 431.81 L814.5 431.82 L814.76 431.82 L815 430.52 L815.5 427.82 L816 425.11 L816.5 422.4 L816.76 421 L817 421.85 L817.5 423.63 L818 425.42 L818.5 427.2 L819 428.98 L819.36 430.26 L819.5 430.37 L820 430.68 L820.5 430.94 L821 431.14 L821.5 431.3 L822 431.44 L822.5 431.54 L823 431.63 L823.5 431.7 L824 431.76 L824.5 431.8 L825 431.84 L825.5 431.87 L826 431.9 L826.5 431.92 L827 431.94 L827.5 431.96 L828 431.97 L828.5 431.99 L829 432 L829.5 432.01 L830 432.02 L830.5 432.03 L831 432.04 L831.5 432.05 L832 432.05 L832.5 432.06 L833 432.07 L833.5 432.08 L834 432.08 L834.5 432.09 L835 432.1 L835.5 432.1 L836 432.11 L836.5 432.12 L836.54 432.12 L837 416.59 L837.5 399.56 L838 382.53 L838.5 365.5 L838.54 364 L839 374.16 L839.5 385.31 L840 396.46 L840.5 407.6 L841 418.75 L841.14 421.96 L841.5 423.49 L842 425.26 L842.5 426.68 L843 427.81 L843.5 428.71 L844 429.43 L844.5 430 L845 430.46 L845.5 430.83 L846 431.12 L846.5 431.35 L847 431.54 L847.5 431.7 L848 431.82 L848.5 431.92 L849 432 L849.5 432.06 L850 432.11 L850.5 432.16 L851 432.19 L851.5 432.22 L852 432.25 L852.5 432.27 L853 432.29 L853.5 432.31 L854 432.32 L854.5 432.33 L855 432.34 L855.5 432.35 L856 432.36 L856.5 432.37 L857 432.38 L857.5 432.39 L858 432.4 L858.33 432.4 L858.5 431.68 L859 429.58 L859.5 427.48 L860 425.38 L860.33 424 L860.5 424.47 L861 425.86 L861.5 427.25 L862 428.63 L862.5 430.02 L862.93 431.2 L863 431.24 L863.5 431.5 L864 431.7 L864.5 431.87 L865 432 L865.5 432.11 L866 432.19 L866.5 432.26 L867 432.32 L867.5 432.37 L868 432.41 L868.5 432.44 L869 432.47 L869.5 432.49 L870 432.51 L870.5 432.53 L871 432.54 L871.5 432.55 L872 432.57 L872.5 432.58 L873 432.59 L873.5 432.6 L874 432.6 L874.5 432.61 L875 432.62 L875.5 432.63 L876 432.64 L876.5 432.64 L877 432.65 L877.5 432.66 L878 432.66 L878.5 432.67 L879 432.68 L879.5 432.69 L880 432.69 L880.11 432.69 L880.5 406.95 L881 373.78 L881.5 340.6 L882 307.43 L882.11 300 L882.5 316.84 L883 338.54 L883.5 360.24 L884 381.94 L884.5 403.65 L884.71 412.85 L885 415.29 L885.5 418.85 L886 421.69 L886.5 423.95 L887 425.75 L887.5 427.19 L888 428.33 L888.5 429.25 L889 429.98 L889.5 430.56 L890 431.02 L890.5 431.4 L891 431.7 L891.5 431.93 L892 432.13 L892.5 432.28 L893 432.4 L893.5 432.5 L894 432.58 L894.5 432.65 L895 432.7 L895.5 432.75 L896 432.79 L896.5 432.82 L897 432.84 L897.5 432.86 L898 432.88 L898.5 432.9 L899 432.91 L899.5 432.93 L900 432.94 L900.5 432.95 L901 432.96 L901.5 432.97 L901.9 432.97 L902 429.8 L902.5 414.56 L903 399.31 L903.5 384.07 L903.9 372 L904 374.07 L904.5 384.05 L905 394.03 L905.5 404.01 L906 413.99 L906.5 423.89 L906.5 423.91 L907 425.77 L907.5 427.26 L908 428.44 L908.5 429.39 L909 430.14 L909.5 430.75 L910 431.23 L910.5 431.61 L911 431.92 L911.5 432.17 L912 432.36 L912.5 432.52 L913 432.65 L913.5 432.75 L914 432.84 L914.5 432.91 L915 432.96 L915.5 433.01 L916 433.05 L916.5 433.08 L917 433.1 L917.5 433.13 L918 433.14 L918.5 433.16 L919 433.18 L919.5 433.19 L920 433.2 L920.5 433.21 L921 433.22 L921.5 433.23 L922 433.24 L922.5 433.25 L923 433.25 L923.5 433.26 L923.68 433.26 L924 422.74 L924.5 406.3 L925 389.86 L925.5 373.42 L925.68 367.5 L926 374.39 L926.5 385.15 L927 395.91 L927.5 406.67 L928 417.43 L928.28 423.46 L928.5 424.4 L929 426.22 L929.5 427.68 L930 428.84 L930.5 429.76 L931 430.5 L931.5 431.09 L932 431.56 L932.5 431.94 L933 432.24 L933.5 432.48 L934 432.67 L934.5 432.83 L935 432.95 L935.5 433.05 L936 433.14 L936.5 433.2 L937 433.26 L937.5 433.3 L938 433.34 L938.5 433.37 L939 433.39 L939.5 433.42 L940 433.44 L940.5 433.45 L941 433.47 L941.5 433.48 L942 433.49 L942.5 433.5 L943 433.51 L943.5 433.52 L944 433.53 L944.5 433.54 L945 433.54 L945.46 433.55 L945.5 432.34 L946 415.45 L946.5 398.56 L947 381.67 L947.46 366 L947.5 366.79 L948 377.85 L948.5 388.9 L949 399.96 L949.5 411.01 L950 422.06 L950.06 423.48 L950.5 425.31 L951 427 L951.5 428.36 L952 429.44 L952.5 430.3 L953 430.99 L953.5 431.54 L954 431.97 L954.5 432.32 L955 432.61 L955.5 432.83 L956 433.01 L956.5 433.16 L957 433.27 L957.5 433.37 L958 433.45 L958.5 433.51 L959 433.56 L959.5 433.6 L960 433.64 L960.5 433.67 L961 433.69 L961.5 433.71 L962 433.73 L962.5 433.74 L963 433.76 L963.5 433.77 L964 433.78" fill="none" stroke="#7068b8" stroke-width="2.3" stroke-linejoin="round"/>
</g>
<rect x="5" y="77" width="977" height="408" fill="none" stroke="#1f1b1c" stroke-width="3.4"/>
<rect x="284.5" y="77" width="63.3" height="406.5" fill="#adb6d8" style="mix-blend-mode:multiply"/>
<path d="M283.7 75.5 V484.3 H348.6 V75.5" fill="none" stroke="#fff" stroke-width="1.5"/>
<line x1="294.8" y1="198" x2="294.8" y2="297.7" stroke="#1b4685" stroke-width="3.7"/>
<path d="M286.8 295.7 L302.8 295.7 L294.8 315.7 Z" fill="#1b4685"/>
<line x1="338" y1="292" x2="338" y2="390.4" stroke="#1b4685" stroke-width="3.7"/>
<path d="M330 388.4 L346 388.4 L338 408.4 Z" fill="#1b4685"/>
<text x="314.18" y="117.4" font-family="Liberation Sans" font-size="41.3" fill="#0c0c0c" textLength="170.15" lengthAdjust="spacingAndGlyphs" style="font-kerning:none" xml:space="preserve" stroke="#fff" stroke-width="0.5" stroke-opacity="0.8">Sample #1</text>
<text x="524.73" y="117.4" font-family="Liberation Sans" font-size="41.3" fill="#0c0c0c" textLength="357.38" lengthAdjust="spacingAndGlyphs" style="font-kerning:none" xml:space="preserve" stroke="#fff" stroke-width="0.5" stroke-opacity="0.8">PCR result: SHV-156G</text>
<g filter="url(#soft)">
<line x1="1053" y1="101" x2="1993" y2="101" stroke="#b0a9a8" stroke-width="1.9" stroke-dasharray="14 1.5"/>
<line x1="1053" y1="101" x2="1058" y2="101" stroke="#4b4547" stroke-width="2"/>
<text x="1050.5" y="105.5" font-family="Liberation Sans" font-weight="bold" font-size="12" fill="#5a5254" text-anchor="end" textLength="13" lengthAdjust="spacingAndGlyphs" opacity="0.85">60</text>
<line x1="1053" y1="153" x2="1993" y2="153" stroke="#b0a9a8" stroke-width="1.9" stroke-dasharray="14 1.5"/>
<line x1="1053" y1="153" x2="1058" y2="153" stroke="#4b4547" stroke-width="2"/>
<text x="1050.5" y="157.5" font-family="Liberation Sans" font-weight="bold" font-size="12" fill="#5a5254" text-anchor="end" textLength="13" lengthAdjust="spacingAndGlyphs" opacity="0.85">50</text>
<line x1="1053" y1="202.9" x2="1993" y2="202.9" stroke="#b0a9a8" stroke-width="1.9" stroke-dasharray="14 1.5"/>
<line x1="1053" y1="202.9" x2="1058" y2="202.9" stroke="#4b4547" stroke-width="2"/>
<text x="1050.5" y="207.4" font-family="Liberation Sans" font-weight="bold" font-size="12" fill="#5a5254" text-anchor="end" textLength="13" lengthAdjust="spacingAndGlyphs" opacity="0.85">40</text>
<line x1="1053" y1="253.8" x2="1993" y2="253.8" stroke="#b0a9a8" stroke-width="1.9" stroke-dasharray="14 1.5"/>
<line x1="1053" y1="253.8" x2="1058" y2="253.8" stroke="#4b4547" stroke-width="2"/>
<text x="1050.5" y="258.3" font-family="Liberation Sans" font-weight="bold" font-size="12" fill="#5a5254" text-anchor="end" textLength="13" lengthAdjust="spacingAndGlyphs" opacity="0.85">30</text>
<line x1="1053" y1="303.6" x2="1993" y2="303.6" stroke="#b0a9a8" stroke-width="1.9" stroke-dasharray="14 1.5"/>
<line x1="1053" y1="303.6" x2="1058" y2="303.6" stroke="#4b4547" stroke-width="2"/>
<text x="1050.5" y="308.1" font-family="Liberation Sans" font-weight="bold" font-size="12" fill="#5a5254" text-anchor="end" textLength="13" lengthAdjust="spacingAndGlyphs" opacity="0.85">20</text>
<line x1="1053" y1="354.2" x2="1993" y2="354.2" stroke="#b0a9a8" stroke-width="1.9" stroke-dasharray="14 1.5"/>
<line x1="1053" y1="354.2" x2="1058" y2="354.2" stroke="#4b4547" stroke-width="2"/>
<text x="1050.5" y="358.7" font-family="Liberation Sans" font-weight="bold" font-size="12" fill="#5a5254" text-anchor="end" textLength="13" lengthAdjust="spacingAndGlyphs" opacity="0.85">10</text>
<line x1="1053" y1="405.4" x2="1993" y2="405.4" stroke="#b0a9a8" stroke-width="1.9" stroke-dasharray="14 1.5"/>
<line x1="1053" y1="405.4" x2="1058" y2="405.4" stroke="#4b4547" stroke-width="2"/>
<text x="1050.5" y="409.9" font-family="Liberation Sans" font-weight="bold" font-size="12" fill="#5a5254" text-anchor="end" textLength="7" lengthAdjust="spacingAndGlyphs" opacity="0.85">0</text>
<text x="1035.5" y="88.5" font-family="Liberation Sans" font-weight="bold" font-size="12" fill="#5a5254" textLength="14" lengthAdjust="spacingAndGlyphs" opacity="0.85">82</text>
<line x1="1053" y1="99" x2="1053" y2="453" stroke="#6f6769" stroke-width="2.8"/>
<line x1="1053" y1="453" x2="1993" y2="453" stroke="#5f5759" stroke-width="2.6"/>
<line x1="1075.29" y1="447" x2="1075.29" y2="456" stroke="#4b4547" stroke-width="1.6"/>
<text x="1075.29" y="466" font-family="Liberation Sans" font-weight="bold" font-size="10.5" fill="#3d3638" stroke="#3d3638" stroke-width="0.5" text-anchor="middle">E</text>
<line x1="1097.21" y1="447" x2="1097.21" y2="456" stroke="#4b4547" stroke-width="1.6"/>
<text x="1097.21" y="466" font-family="Liberation Sans" font-weight="bold" font-size="10.5" fill="#3d3638" stroke="#3d3638" stroke-width="0.5" text-anchor="middle">S</text>
<line x1="1119.13" y1="447" x2="1119.13" y2="456" stroke="#4b4547" stroke-width="1.6"/>
<text x="1119.13" y="466" font-family="Liberation Sans" font-weight="bold" font-size="10.5" fill="#3d3638" stroke="#3d3638" stroke-width="0.5" text-anchor="middle">C</text>
<line x1="1141.05" y1="447" x2="1141.05" y2="456" stroke="#4b4547" stroke-width="1.6"/>
<text x="1141.05" y="466" font-family="Liberation Sans" font-weight="bold" font-size="10.5" fill="#3d3638" stroke="#3d3638" stroke-width="0.5" text-anchor="middle">A</text>
<line x1="1162.97" y1="447" x2="1162.97" y2="456" stroke="#4b4547" stroke-width="1.6"/>
<text x="1162.97" y="466" font-family="Liberation Sans" font-weight="bold" font-size="10.5" fill="#3d3638" stroke="#3d3638" stroke-width="0.5" text-anchor="middle">G</text>
<line x1="1184.89" y1="447" x2="1184.89" y2="456" stroke="#4b4547" stroke-width="1.6"/>
<text x="1184.89" y="466" font-family="Liberation Sans" font-weight="bold" font-size="10.5" fill="#3d3638" stroke="#3d3638" stroke-width="0.5" text-anchor="middle">T</text>
<line x1="1206.81" y1="447" x2="1206.81" y2="456" stroke="#4b4547" stroke-width="1.6"/>
<text x="1206.81" y="466" font-family="Liberation Sans" font-weight="bold" font-size="10.5" fill="#3d3638" stroke="#3d3638" stroke-width="0.5" text-anchor="middle">G</text>
<line x1="1228.73" y1="447" x2="1228.73" y2="456" stroke="#4b4547" stroke-width="1.6"/>
<text x="1228.73" y="466" font-family="Liberation Sans" font-weight="bold" font-size="10.5" fill="#3d3638" stroke="#3d3638" stroke-width="0.5" text-anchor="middle">A</text>
<line x1="1250.65" y1="447" x2="1250.65" y2="456" stroke="#4b4547" stroke-width="1.6"/>
<text x="1250.65" y="466" font-family="Liberation Sans" font-weight="bold" font-size="10.5" fill="#3d3638" stroke="#3d3638" stroke-width="0.5" text-anchor="middle">T</text>
<line x1="1272.57" y1="447" x2="1272.57" y2="456" stroke="#4b4547" stroke-width="1.6"/>
<text x="1272.57" y="466" font-family="Liberation Sans" font-weight="bold" font-size="10.5" fill="#3d3638" stroke="#3d3638" stroke-width="0.5" text-anchor="middle">C</text>
<line x1="1294.49" y1="447" x2="1294.49" y2="456" stroke="#4b4547" stroke-width="1.6"/>
<text x="1294.49" y="466" font-family="Liberation Sans" font-weight="bold" font-size="10.5" fill="#3d3638" stroke="#3d3638" stroke-width="0.5" text-anchor="middle">C</text>
<line x1="1316.41" y1="447" x2="1316.41" y2="456" stroke="#4b4547" stroke-width="1.6"/>
<text x="1316.41" y="466" font-family="Liberation Sans" font-weight="bold" font-size="10.5" fill="#3d3638" stroke="#3d3638" stroke-width="0.5" text-anchor="middle">G</text>
<line x1="1338.33" y1="447" x2="1338.33" y2="456" stroke="#4b4547" stroke-width="1.6"/>
<text x="1338.33" y="466" font-family="Liberation Sans" font-weight="bold" font-size="10.5" fill="#3d3638" stroke="#3d3638" stroke-width="0.5" text-anchor="middle">C</text>
<line x1="1360.25" y1="447" x2="1360.25" y2="456" stroke="#4b4547" stroke-width="1.6"/>
<text x="1360.25" y="466" font-family="Liberation Sans" font-weight="bold" font-size="10.5" fill="#3d3638" stroke="#3d3638" stroke-width="0.5" text-anchor="middle">T</text>
<line x1="1382.17" y1="447" x2="1382.17" y2="456" stroke="#4b4547" stroke-width="1.6"/>
<text x="1382.17" y="466" font-family="Liberation Sans" font-weight="bold" font-size="10.5" fill="#3d3638" stroke="#3d3638" stroke-width="0.5" text-anchor="middle">C</text>
<line x1="1404.09" y1="447" x2="1404.09" y2="456" stroke="#4b4547" stroke-width="1.6"/>
<text x="1404.09" y="466" font-family="Liberation Sans" font-weight="bold" font-size="10.5" fill="#3d3638" stroke="#3d3638" stroke-width="0.5" text-anchor="middle">G</text>
<line x1="1426.01" y1="447" x2="1426.01" y2="456" stroke="#4b4547" stroke-width="1.6"/>
<text x="1426.01" y="466" font-family="Liberation Sans" font-weight="bold" font-size="10.5" fill="#3d3638" stroke="#3d3638" stroke-width="0.5" text-anchor="middle">A</text>
<line x1="1447.93" y1="447" x2="1447.93" y2="456" stroke="#4b4547" stroke-width="1.6"/>
<text x="1447.93" y="466" font-family="Liberation Sans" font-weight="bold" font-size="10.5" fill="#3d3638" stroke="#3d3638" stroke-width="0.5" text-anchor="middle">T</text>
<line x1="1469.85" y1="447" x2="1469.85" y2="456" stroke="#4b4547" stroke-width="1.6"/>
<text x="1469.85" y="466" font-family="Liberation Sans" font-weight="bold" font-size="10.5" fill="#3d3638" stroke="#3d3638" stroke-width="0.5" text-anchor="middle">C</text>
<line x1="1491.77" y1="447" x2="1491.77" y2="456" stroke="#4b4547" stroke-width="1.6"/>
<text x="1491.77" y="466" font-family="Liberation Sans" font-weight="bold" font-size="10.5" fill="#3d3638" stroke="#3d3638" stroke-width="0.5" text-anchor="middle">A</text>
<line x1="1513.69" y1="447" x2="1513.69" y2="456" stroke="#4b4547" stroke-width="1.6"/>
<text x="1513.69" y="466" font-family="Liberation Sans" font-weight="bold" font-size="10.5" fill="#3d3638" stroke="#3d3638" stroke-width="0.5" text-anchor="middle">T</text>
<line x1="1535.61" y1="447" x2="1535.61" y2="456" stroke="#4b4547" stroke-width="1.6"/>
<text x="1535.61" y="466" font-family="Liberation Sans" font-weight="bold" font-size="10.5" fill="#3d3638" stroke="#3d3638" stroke-width="0.5" text-anchor="middle">C</text>
<line x1="1557.53" y1="447" x2="1557.53" y2="456" stroke="#4b4547" stroke-width="1.6"/>
<text x="1557.53" y="466" font-family="Liberation Sans" font-weight="bold" font-size="10.5" fill="#3d3638" stroke="#3d3638" stroke-width="0.5" text-anchor="middle">G</text>
<line x1="1579.45" y1="447" x2="1579.45" y2="456" stroke="#4b4547" stroke-width="1.6"/>
<text x="1579.45" y="466" font-family="Liberation Sans" font-weight="bold" font-size="10.5" fill="#3d3638" stroke="#3d3638" stroke-width="0.5" text-anchor="middle">C</text>
<line x1="1601.37" y1="447" x2="1601.37" y2="456" stroke="#4b4547" stroke-width="1.6"/>
<text x="1601.37" y="466" font-family="Liberation Sans" font-weight="bold" font-size="10.5" fill="#3d3638" stroke="#3d3638" stroke-width="0.5" text-anchor="middle">G</text>
<line x1="1623.29" y1="447" x2="1623.29" y2="456" stroke="#4b4547" stroke-width="1.6"/>
<text x="1623.29" y="466" font-family="Liberation Sans" font-weight="bold" font-size="10.5" fill="#3d3638" stroke="#3d3638" stroke-width="0.5" text-anchor="middle">C</text>
<line x1="1645.21" y1="447" x2="1645.21" y2="456" stroke="#4b4547" stroke-width="1.6"/>
<text x="1645.21" y="466" font-family="Liberation Sans" font-weight="bold" font-size="10.5" fill="#3d3638" stroke="#3d3638" stroke-width="0.5" text-anchor="middle">A</text>
<line x1="1667.13" y1="447" x2="1667.13" y2="456" stroke="#4b4547" stroke-width="1.6"/>
<text x="1667.13" y="466" font-family="Liberation Sans" font-weight="bold" font-size="10.5" fill="#3d3638" stroke="#3d3638" stroke-width="0.5" text-anchor="middle">A</text>
<line x1="1689.05" y1="447" x2="1689.05" y2="456" stroke="#4b4547" stroke-width="1.6"/>
<text x="1689.05" y="466" font-family="Liberation Sans" font-weight="bold" font-size="10.5" fill="#3d3638" stroke="#3d3638" stroke-width="0.5" text-anchor="middle">G</text>
<line x1="1710.97" y1="447" x2="1710.97" y2="456" stroke="#4b4547" stroke-width="1.6"/>
<text x="1710.97" y="466" font-family="Liberation Sans" font-weight="bold" font-size="10.5" fill="#3d3638" stroke="#3d3638" stroke-width="0.5" text-anchor="middle">C</text>
<line x1="1732.89" y1="447" x2="1732.89" y2="456" stroke="#4b4547" stroke-width="1.6"/>
<text x="1732.89" y="466" font-family="Liberation Sans" font-weight="bold" font-size="10.5" fill="#3d3638" stroke="#3d3638" stroke-width="0.5" text-anchor="middle">A</text>
<line x1="1754.81" y1="447" x2="1754.81" y2="456" stroke="#4b4547" stroke-width="1.6"/>
<text x="1754.81" y="466" font-family="Liberation Sans" font-weight="bold" font-size="10.5" fill="#3d3638" stroke="#3d3638" stroke-width="0.5" text-anchor="middle">G</text>
<line x1="1776.73" y1="447" x2="1776.73" y2="456" stroke="#4b4547" stroke-width="1.6"/>
<text x="1776.73" y="466" font-family="Liberation Sans" font-weight="bold" font-size="10.5" fill="#3d3638" stroke="#3d3638" stroke-width="0.5" text-anchor="middle">T</text>
<line x1="1798.65" y1="447" x2="1798.65" y2="456" stroke="#4b4547" stroke-width="1.6"/>
<text x="1798.65" y="466" font-family="Liberation Sans" font-weight="bold" font-size="10.5" fill="#3d3638" stroke="#3d3638" stroke-width="0.5" text-anchor="middle">C</text>
<line x1="1820.57" y1="447" x2="1820.57" y2="456" stroke="#4b4547" stroke-width="1.6"/>
<text x="1820.57" y="466" font-family="Liberation Sans" font-weight="bold" font-size="10.5" fill="#3d3638" stroke="#3d3638" stroke-width="0.5" text-anchor="middle">A</text>
<line x1="1842.49" y1="447" x2="1842.49" y2="456" stroke="#4b4547" stroke-width="1.6"/>
<text x="1842.49" y="466" font-family="Liberation Sans" font-weight="bold" font-size="10.5" fill="#3d3638" stroke="#3d3638" stroke-width="0.5" text-anchor="middle">G</text>
<line x1="1864.41" y1="447" x2="1864.41" y2="456" stroke="#4b4547" stroke-width="1.6"/>
<text x="1864.41" y="466" font-family="Liberation Sans" font-weight="bold" font-size="10.5" fill="#3d3638" stroke="#3d3638" stroke-width="0.5" text-anchor="middle">T</text>
<line x1="1886.33" y1="447" x2="1886.33" y2="456" stroke="#4b4547" stroke-width="1.6"/>
<text x="1886.33" y="466" font-family="Liberation Sans" font-weight="bold" font-size="10.5" fill="#3d3638" stroke="#3d3638" stroke-width="0.5" text-anchor="middle">G</text>
<line x1="1908.25" y1="447" x2="1908.25" y2="456" stroke="#4b4547" stroke-width="1.6"/>
<text x="1908.25" y="466" font-family="Liberation Sans" font-weight="bold" font-size="10.5" fill="#3d3638" stroke="#3d3638" stroke-width="0.5" text-anchor="middle">C</text>
<line x1="1930.17" y1="447" x2="1930.17" y2="456" stroke="#4b4547" stroke-width="1.6"/>
<text x="1930.17" y="466" font-family="Liberation Sans" font-weight="bold" font-size="10.5" fill="#3d3638" stroke="#3d3638" stroke-width="0.5" text-anchor="middle">T</text>
<line x1="1952.09" y1="447" x2="1952.09" y2="456" stroke="#4b4547" stroke-width="1.6"/>
<text x="1952.09" y="466" font-family="Liberation Sans" font-weight="bold" font-size="10.5" fill="#3d3638" stroke="#3d3638" stroke-width="0.5" text-anchor="middle">G</text>
<line x1="1974.01" y1="447" x2="1974.01" y2="456" stroke="#4b4547" stroke-width="1.6"/>
<text x="1974.01" y="466" font-family="Liberation Sans" font-weight="bold" font-size="10.5" fill="#3d3638" stroke="#3d3638" stroke-width="0.5" text-anchor="middle">C</text>
<text x="1206.81" y="483.5" font-family="Liberation Sans" font-weight="bold" font-size="10.5" fill="#3d3638" stroke="#3d3638" stroke-width="0.4" text-anchor="middle">5</text>
<text x="1316.41" y="483.5" font-family="Liberation Sans" font-weight="bold" font-size="10.5" fill="#3d3638" stroke="#3d3638" stroke-width="0.4" text-anchor="middle">10</text>
<text x="1426.01" y="483.5" font-family="Liberation Sans" font-weight="bold" font-size="10.5" fill="#3d3638" stroke="#3d3638" stroke-width="0.4" text-anchor="middle">15</text>
<text x="1535.61" y="483.5" font-family="Liberation Sans" font-weight="bold" font-size="10.5" fill="#3d3638" stroke="#3d3638" stroke-width="0.4" text-anchor="middle">20</text>
<text x="1645.21" y="483.5" font-family="Liberation Sans" font-weight="bold" font-size="10.5" fill="#3d3638" stroke="#3d3638" stroke-width="0.4" text-anchor="middle">25</text>
<text x="1754.81" y="483.5" font-family="Liberation Sans" font-weight="bold" font-size="10.5" fill="#3d3638" stroke="#3d3638" stroke-width="0.4" text-anchor="middle">30</text>
<text x="1864.41" y="483.5" font-family="Liberation Sans" font-weight="bold" font-size="10.5" fill="#3d3638" stroke="#3d3638" stroke-width="0.4" text-anchor="middle">35</text>
<text x="1974.01" y="483.5" font-family="Liberation Sans" font-weight="bold" font-size="10.5" fill="#3d3638" stroke="#3d3638" stroke-width="0.4" text-anchor="middle">40</text>
<path d="M1055 443 L1055.5 443.03 L1056 443.07 L1056.5 443.1 L1057 443.13 L1057.5 443.16 L1058 443.2 L1058.5 443.23 L1059 443.26 L1059.5 443.3 L1060 443.33 L1060.5 443.36 L1061 443.39 L1061.5 443.43 L1062 443.46 L1062.5 443.49 L1063 443.53 L1063.5 443.56 L1064 443.59 L1064.5 443.62 L1065 443.66 L1065.5 443.69 L1066 443.72 L1066.5 443.76 L1067 443.79 L1067.5 443.82 L1068 443.85 L1068.5 443.89 L1069 443.92 L1069.5 443.95 L1070 443.99 L1070.5 444.02 L1071 444.05 L1071.5 444.08 L1072 444.12 L1072.5 444.15 L1073 444.18 L1073.5 444.22 L1074 444.25 L1074.5 444.28 L1075 444.31 L1075.5 444.35 L1076 444.38 L1076.5 444.41 L1077 444.45 L1077.5 444.48 L1078 444.51 L1078.5 444.54 L1079 444.58 L1079.5 444.61 L1080 444.64 L1080.5 444.68 L1081 444.71 L1081.5 444.74 L1082 444.77 L1082.5 444.81 L1083 444.84 L1083.5 444.87 L1084 444.91 L1084.5 444.94 L1085 444.97 L1085.5 445 L1086 445.04 L1086.5 445.07 L1087 445.1 L1087.5 445.14 L1088 445.17 L1088.5 445.2 L1089 445.23 L1089.5 445.27 L1090 445.3 L1090.5 445.33 L1091 445.37 L1091.5 445.4 L1092 445.43 L1092.5 445.46 L1093 445.5 L1093.5 445.53 L1094 445.56 L1094.5 445.6 L1095 445.63 L1095.5 445.66 L1096 445.69 L1096.5 445.73 L1097 445.76 L1097.5 445.79 L1097.6 445.8 L1097.6 392.3 L1098 393.81 L1098.5 395.39 L1099 396.68 L1099.5 397.75 L1100 398.62 L1100.5 399.34 L1101 399.93 L1101.5 400.41 L1102 400.81 L1102.5 401.14 L1103 401.41 L1103.5 401.63 L1104 401.82 L1104.5 401.97 L1105 402.1 L1105.5 402.21 L1106 402.3 L1106.5 402.37 L1107 402.43 L1107.5 402.49 L1108 402.53 L1108.5 402.57 L1109 402.61 L1109.5 402.64 L1110 402.66 L1110.5 402.68 L1111 402.7 L1111.5 402.72 L1112 402.74 L1112.5 402.76 L1113 402.77 L1113.5 402.78 L1114 402.8 L1114.5 402.81 L1115 402.82 L1115.5 402.83 L1116 402.84 L1116.5 402.86 L1117 402.87 L1117.5 402.88 L1118 402.89 L1118.5 402.9 L1119 402.91 L1119.5 402.92 L1120 402.93 L1120.5 402.94 L1121 402.95 L1121.5 402.96 L1122 402.97 L1122.5 402.98 L1123 402.99 L1123.5 403 L1124 403.01 L1124.5 403.02 L1125 403.03 L1125.5 403.04 L1126 403.05 L1126.5 403.06 L1127 403.07 L1127.5 403.08 L1128 403.09 L1128.5 403.09 L1129 403.1 L1129.5 403.11 L1130 403.12 L1130.5 403.13 L1131 403.14 L1131.5 403.15 L1132 403.16 L1132.5 403.17 L1133 403.18 L1133.5 403.19 L1134 403.2 L1134.5 403.21 L1135 403.22 L1135.5 403.23 L1136 403.24 L1136.5 403.25 L1137 403.26 L1137.5 403.27 L1138 403.28 L1138.5 403.29 L1139 403.3 L1139.5 403.31 L1140 403.32 L1140.5 403.33 L1141 403.34 L1141.5 403.35 L1142 403.36 L1142.5 403.37 L1143 403.38 L1143.5 403.39 L1144 403.4 L1144.5 403.41 L1145 403.42 L1145.5 403.43 L1146 403.44 L1146.5 403.45 L1147 403.46 L1147.5 403.47 L1148 403.48 L1148.5 403.48 L1149 403.49 L1149.5 403.5 L1150 403.51 L1150.5 403.52 L1151 403.53 L1151.5 403.54 L1152 403.55 L1152.5 403.56 L1153 403.57 L1153.5 403.58 L1154 403.59 L1154.5 403.6 L1155 403.61 L1155.5 403.62 L1156 403.63 L1156.5 403.64 L1157 403.65 L1157.5 403.66 L1158 403.67 L1158.5 403.68 L1159 403.69 L1159.5 403.7 L1160 403.71 L1160.5 403.72 L1161 403.73 L1161.47 403.74 L1161.5 402.49 L1162 381.68 L1162.5 360.87 L1163 340.06 L1163.47 320.5 L1163.5 321.32 L1164 334.94 L1164.5 348.56 L1165 362.18 L1165.5 375.81 L1166 389.43 L1166.07 391.34 L1166.5 393.56 L1167 395.66 L1167.5 397.33 L1168 398.67 L1168.5 399.74 L1169 400.59 L1169.5 401.27 L1170 401.81 L1170.5 402.25 L1171 402.6 L1171.5 402.87 L1172 403.1 L1172.5 403.28 L1173 403.43 L1173.5 403.55 L1174 403.64 L1174.5 403.72 L1175 403.79 L1175.5 403.84 L1176 403.88 L1176.5 403.92 L1177 403.95 L1177.5 403.98 L1178 404.01 L1178.5 404.03 L1179 404.04 L1179.5 404.06 L1180 404.08 L1180.5 404.09 L1181 404.1 L1181.5 404.12 L1182 404.13 L1182.5 404.14 L1183 404.15 L1183.39 404.16 L1183.5 395.62 L1184 356.78 L1184.5 317.93 L1185 279.09 L1185.39 248.8 L1185.5 254.39 L1186 279.8 L1186.5 305.21 L1187 330.63 L1187.5 356.04 L1187.99 380.94 L1188 381.05 L1188.5 385.78 L1189 389.55 L1189.5 392.55 L1190 394.95 L1190.5 396.86 L1191 398.38 L1191.5 399.6 L1192 400.57 L1192.5 401.34 L1193 401.96 L1193.5 402.46 L1194 402.85 L1194.5 403.17 L1195 403.43 L1195.5 403.63 L1196 403.8 L1196.5 403.93 L1197 404.04 L1197.5 404.13 L1198 404.2 L1198.5 404.26 L1199 404.31 L1199.5 404.36 L1200 404.39 L1200.5 404.42 L1201 404.45 L1201.5 404.47 L1202 404.49 L1202.5 404.51 L1203 404.52 L1203.5 404.54 L1204 404.55 L1204.5 404.56 L1205 404.58 L1205.31 404.58 L1205.5 397.02 L1206 377.13 L1206.5 357.23 L1207 337.33 L1207.31 325 L1207.5 329.95 L1208 342.97 L1208.5 356 L1209 369.03 L1209.5 382.05 L1209.91 392.74 L1210 393.22 L1210.5 395.56 L1211 397.43 L1211.5 398.91 L1212 400.1 L1212.5 401.05 L1213 401.81 L1213.5 402.42 L1214 402.9 L1214.5 403.29 L1215 403.6 L1215.5 403.85 L1216 404.05 L1216.5 404.21 L1217 404.34 L1217.5 404.45 L1218 404.54 L1218.5 404.61 L1219 404.67 L1219.5 404.72 L1220 404.76 L1220.5 404.79 L1221 404.82 L1221.5 404.85 L1222 404.87 L1222.5 404.89 L1223 404.91 L1223.5 404.92 L1224 404.94 L1224.5 404.95 L1225 404.96 L1225.5 404.98 L1226 404.99 L1226.5 405 L1227 405.01 L1227.5 405.02 L1228 405.03 L1228.5 405.04 L1229 405.05 L1229.5 405.06 L1230 405.07 L1230.5 405.08 L1231 405.09 L1231.5 405.1 L1232 405.11 L1232.5 405.12 L1233 405.13 L1233.5 405.14 L1234 405.15 L1234.5 405.16 L1235 405.17 L1235.5 405.18 L1236 405.19 L1236.5 405.2 L1237 405.21 L1237.5 405.22 L1238 405.23 L1238.5 405.24 L1239 405.25 L1239.5 405.26 L1240 405.27 L1240.5 405.28 L1241 405.29 L1241.5 405.3 L1242 405.31 L1242.5 405.32 L1243 405.33 L1243.5 405.34 L1244 405.35 L1244.5 405.36 L1245 405.37 L1245.5 405.38 L1246 405.39 L1246.5 405.4 L1247 405.41 L1247.5 405.42 L1248 405.43 L1248.5 405.44 L1249 405.45 L1249.15 405.45 L1249.5 392.38 L1250 373.72 L1250.5 355.06 L1251 336.4 L1251.15 330.8 L1251.5 339.35 L1252 351.57 L1252.5 363.79 L1253 376.01 L1253.5 388.23 L1253.75 394.33 L1254 395.54 L1254.5 397.59 L1255 399.21 L1255.5 400.52 L1256 401.55 L1256.5 402.38 L1257 403.04 L1257.5 403.57 L1258 404 L1258.5 404.34 L1259 404.61 L1259.5 404.83 L1260 405.01 L1260.5 405.15 L1261 405.26 L1261.5 405.36 L1262 405.44 L1262.5 405.5 L1263 405.55 L1263.5 405.59 L1264 405.63 L1264.5 405.66 L1265 405.69 L1265.5 405.71 L1266 405.73 L1266.5 405.75 L1267 405.77 L1267.5 405.78 L1268 405.8 L1268.5 405.81 L1269 405.82 L1269.5 405.84 L1270 405.85 L1270.5 405.86 L1271 405.87 L1271.07 405.87 L1271.5 388.48 L1272 368.27 L1272.5 348.05 L1273 327.83 L1273.07 325 L1273.5 336.38 L1274 349.62 L1274.5 362.85 L1275 376.09 L1275.5 389.33 L1275.67 393.83 L1276 395.52 L1276.5 397.66 L1277 399.36 L1277.5 400.72 L1278 401.8 L1278.5 402.67 L1279 403.36 L1279.5 403.91 L1280 404.35 L1280.5 404.71 L1281 404.99 L1281.5 405.22 L1282 405.41 L1282.5 405.55 L1283 405.67 L1283.5 405.77 L1284 405.85 L1284.5 405.92 L1285 405.97 L1285.5 406.02 L1286 406.06 L1286.5 406.09 L1287 406.12 L1287.5 406.14 L1288 406.16 L1288.5 406.18 L1289 406.2 L1289.5 406.21 L1290 406.23 L1290.5 406.24 L1291 406.25 L1291.5 406.26 L1292 406.28 L1292.5 406.29 L1293 406.3 L1293.5 406.31 L1294 406.32 L1294.5 406.33 L1295 406.34 L1295.5 406.35 L1296 406.36 L1296.5 406.37 L1297 406.38 L1297.5 406.39 L1298 406.4 L1298.5 406.41 L1299 406.42 L1299.5 406.43 L1300 406.44 L1300.5 406.45 L1301 406.46 L1301.5 406.47 L1302 406.48 L1302.5 406.49 L1303 406.5 L1303.5 406.51 L1304 406.52 L1304.5 406.53 L1305 406.54 L1305.5 406.55 L1306 406.56 L1306.5 406.57 L1307 406.58 L1307.5 406.59 L1308 406.6 L1308.5 406.61 L1309 406.62 L1309.5 406.62 L1310 406.63 L1310.5 406.64 L1311 406.65 L1311.5 406.66 L1312 406.67 L1312.5 406.68 L1313 406.69 L1313.5 406.7 L1314 406.71 L1314.5 406.72 L1314.91 406.73 L1315 402.85 L1315.5 381.29 L1316 359.73 L1316.5 338.18 L1316.91 320.5 L1317 323.04 L1317.5 337.15 L1318 351.26 L1318.5 365.37 L1319 379.49 L1319.5 393.6 L1319.51 393.88 L1320 396.47 L1320.5 398.59 L1321 400.28 L1321.5 401.62 L1322 402.7 L1322.5 403.55 L1323 404.24 L1323.5 404.79 L1324 405.23 L1324.5 405.58 L1325 405.86 L1325.5 406.09 L1326 406.27 L1326.5 406.42 L1327 406.54 L1327.5 406.63 L1328 406.71 L1328.5 406.78 L1329 406.83 L1329.5 406.88 L1330 406.91 L1330.5 406.95 L1331 406.97 L1331.5 407 L1332 407.02 L1332.5 407.04 L1333 407.06 L1333.5 407.07 L1334 407.08 L1334.5 407.1 L1335 407.11 L1335.5 407.12 L1336 407.13 L1336.5 407.15 L1337 407.16 L1337.5 407.17 L1338 407.18 L1338.5 407.19 L1339 407.2 L1339.5 407.21 L1340 407.22 L1340.5 407.23 L1341 407.24 L1341.5 407.25 L1342 407.26 L1342.5 407.27 L1343 407.28 L1343.5 407.29 L1344 407.3 L1344.5 407.31 L1345 407.32 L1345.5 407.33 L1346 407.34 L1346.5 407.35 L1347 407.36 L1347.5 407.37 L1348 407.38 L1348.5 407.39 L1349 407.4 L1349.5 407.41 L1350 407.41 L1350.5 407.42 L1351 407.43 L1351.5 407.44 L1352 407.45 L1352.5 407.46 L1353 407.47 L1353.5 407.48 L1354 407.49 L1354.5 407.5 L1355 407.51 L1355.5 407.52 L1356 407.53 L1356.5 407.54 L1357 407.55 L1357.5 407.56 L1358 407.57 L1358.5 407.58 L1358.75 407.59 L1359 397.07 L1359.5 376.05 L1360 355.03 L1360.5 334.01 L1360.75 323.5 L1361 330.38 L1361.5 344.14 L1362 357.9 L1362.5 371.66 L1363 385.42 L1363.35 395.06 L1363.5 395.89 L1364 398.3 L1364.5 400.22 L1365 401.75 L1365.5 402.97 L1366 403.94 L1366.5 404.72 L1367 405.34 L1367.5 405.84 L1368 406.24 L1368.5 406.56 L1369 406.82 L1369.5 407.02 L1370 407.19 L1370.5 407.33 L1371 407.43 L1371.5 407.52 L1372 407.6 L1372.5 407.66 L1373 407.71 L1373.5 407.75 L1374 407.78 L1374.5 407.81 L1375 407.84 L1375.5 407.86 L1376 407.88 L1376.5 407.9 L1377 407.92 L1377.5 407.93 L1378 407.94 L1378.5 407.96 L1379 407.97 L1379.5 407.98 L1380 407.99 L1380.5 408.01 L1380.67 408.02 L1381 394.32 L1381.5 373.57 L1382 352.81 L1382.5 332.06 L1382.67 325 L1383 333.98 L1383.5 347.58 L1384 361.19 L1384.5 374.79 L1385 388.39 L1385.27 395.74 L1385.5 396.99 L1386 399.29 L1386.5 401.13 L1387 402.6 L1387.5 403.77 L1388 404.71 L1388.5 405.46 L1389 406.06 L1389.5 406.55 L1390 406.94 L1390.5 407.25 L1391 407.51 L1391.5 407.72 L1392 407.88 L1392.5 408.02 L1393 408.14 L1393.5 408.23 L1394 408.31 L1394.5 408.38 L1395 408.44 L1395.5 408.49 L1396 408.53 L1396.5 408.57 L1397 408.61 L1397.5 408.64 L1398 408.67 L1398.5 408.69 L1399 408.72 L1399.5 408.74 L1400 408.77 L1400.5 408.79 L1401 408.81 L1401.5 408.83 L1402 408.86 L1402.5 408.88 L1402.59 408.88 L1403 391.97 L1403.5 371.35 L1404 350.73 L1404.5 330.11 L1404.59 326.4 L1405 337.48 L1405.5 351 L1406 364.51 L1406.5 378.03 L1407 391.54 L1407.19 396.68 L1407.5 398.32 L1408 400.53 L1408.5 402.29 L1409 403.7 L1409.5 404.82 L1410 405.72 L1410.5 406.44 L1411 407.02 L1411.5 407.49 L1412 407.86 L1412.5 408.16 L1413 408.41 L1413.5 408.61 L1414 408.77 L1414.5 408.9 L1415 409.02 L1415.5 409.11 L1416 409.18 L1416.5 409.25 L1417 409.31 L1417.5 409.35 L1418 409.4 L1418.5 409.44 L1419 409.47 L1419.5 409.5 L1420 409.53 L1420.5 409.56 L1421 409.58 L1421.5 409.61 L1422 409.63 L1422.5 409.65 L1423 409.67 L1423.5 409.7 L1424 409.72 L1424.5 409.74 L1424.51 409.74 L1425 387.16 L1425.5 364.13 L1426 341.09 L1426.5 318.06 L1426.51 317.6 L1427 332.39 L1427.5 347.49 L1428 362.58 L1428.5 377.67 L1429 392.77 L1429.11 396.09 L1429.5 398.35 L1430 400.73 L1430.5 402.62 L1431 404.14 L1431.5 405.35 L1432 406.32 L1432.5 407.09 L1433 407.72 L1433.5 408.21 L1434 408.62 L1434.5 408.94 L1435 409.2 L1435.5 409.42 L1436 409.59 L1436.5 409.73 L1437 409.85 L1437.5 409.95 L1438 410.03 L1438.5 410.1 L1439 410.16 L1439.5 410.21 L1440 410.25 L1440.5 410.29 L1441 410.33 L1441.5 410.36 L1442 410.39 L1442.5 410.42 L1443 410.44 L1443.5 410.47 L1444 410.49 L1444.5 410.51 L1445 410.54 L1445.5 410.56 L1446 410.58 L1446.43 410.6 L1446.5 407.8 L1447 387.85 L1447.5 367.9 L1448 347.95 L1448.43 330.8 L1448.5 332.63 L1449 345.71 L1449.5 358.78 L1450 371.86 L1450.5 384.94 L1451 398.01 L1451.03 398.8 L1451.5 401.12 L1452 403.11 L1452.5 404.7 L1453 405.97 L1453.5 406.98 L1454 407.79 L1454.5 408.44 L1455 408.97 L1455.5 409.39 L1456 409.73 L1456.5 410 L1457 410.22 L1457.5 410.4 L1458 410.55 L1458.5 410.67 L1459 410.77 L1459.5 410.86 L1460 410.93 L1460.5 410.99 L1461 411.04 L1461.5 411.09 L1462 411.13 L1462.5 411.17 L1463 411.2 L1463.5 411.23 L1464 411.26 L1464.5 411.28 L1465 411.31 L1465.5 411.33 L1466 411.36 L1466.5 411.38 L1467 411.4 L1467.5 411.42 L1468 411.44 L1468.35 411.46 L1468.5 405.19 L1469 384.3 L1469.5 363.41 L1470 342.52 L1470.35 327.9 L1470.5 332.01 L1471 345.7 L1471.5 359.39 L1472 373.08 L1472.5 386.77 L1472.95 399.09 L1473 399.38 L1473.5 401.89 L1474 403.9 L1474.5 405.5 L1475 406.78 L1475.5 407.8 L1476 408.62 L1476.5 409.28 L1477 409.81 L1477.5 410.23 L1478 410.57 L1478.5 410.85 L1479 411.08 L1479.5 411.26 L1480 411.41 L1480.5 411.53 L1481 411.63 L1481.5 411.72 L1482 411.79 L1482.5 411.85 L1483 411.9 L1483.5 411.95 L1484 411.99 L1484.5 412.03 L1485 412.06 L1485.5 412.09 L1486 412.12 L1486.5 412.14 L1487 412.17 L1487.5 412.19 L1488 412.22 L1488.5 412.24 L1489 412.26 L1489.5 412.28 L1490 412.3 L1490.5 412.32 L1491 412.34 L1491.5 412.36 L1492 412.38 L1492.5 412.4 L1493 412.42 L1493.5 412.44 L1494 412.46 L1494.5 412.48 L1495 412.5 L1495.5 412.52 L1496 412.54 L1496.5 412.56 L1497 412.58 L1497.5 412.6 L1498 412.62 L1498.5 412.64 L1499 412.66 L1499.5 412.68 L1500 412.7 L1500.5 412.71 L1501 412.71 L1501.5 412.72 L1502 412.72 L1502.5 412.73 L1503 412.73 L1503.5 412.74 L1504 412.74 L1504.5 412.75 L1505 412.76 L1505.5 412.76 L1506 412.77 L1506.5 412.77 L1507 412.78 L1507.5 412.78 L1508 412.79 L1508.5 412.79 L1509 412.8 L1509.5 412.81 L1510 412.81 L1510.5 412.82 L1511 412.82 L1511.5 412.83 L1512 412.83 L1512.19 412.84 L1512.5 402.01 L1513 384.55 L1513.5 367.09 L1514 349.63 L1514.19 343 L1514.5 350.08 L1515 361.51 L1515.5 372.93 L1516 384.36 L1516.5 395.78 L1516.79 402.41 L1517 403.36 L1517.5 405.31 L1518 406.86 L1518.5 408.09 L1519 409.07 L1519.5 409.86 L1520 410.49 L1520.5 410.99 L1521 411.39 L1521.5 411.71 L1522 411.96 L1522.5 412.17 L1523 412.33 L1523.5 412.47 L1524 412.57 L1524.5 412.66 L1525 412.73 L1525.5 412.78 L1526 412.83 L1526.5 412.87 L1527 412.9 L1527.5 412.93 L1528 412.95 L1528.5 412.97 L1529 412.98 L1529.5 413 L1530 413.01 L1530.5 413.02 L1531 413.03 L1531.5 413.04 L1532 413.05 L1532.5 413.05 L1533 413.06 L1533.5 413.07 L1534 413.08 L1534.5 413.08 L1535 413.09 L1535.5 413.09 L1536 413.1 L1536.5 413.11 L1537 413.11 L1537.5 413.12 L1538 413.12 L1538.5 413.13 L1539 413.13 L1539.5 413.14 L1540 413.15 L1540.5 413.15 L1541 413.16 L1541.5 413.16 L1542 413.17 L1542.5 413.17 L1543 413.18 L1543.5 413.19 L1544 413.19 L1544.5 413.2 L1545 413.2 L1545.5 413.21 L1546 413.21 L1546.5 413.22 L1547 413.22 L1547.5 413.23 L1548 413.24 L1548.5 413.24 L1549 413.25 L1549.5 413.25 L1550 413.26 L1550.5 413.26 L1551 413.27 L1551.5 413.27 L1552 413.28 L1552.5 413.29 L1553 413.29 L1553.5 413.3 L1554 413.3 L1554.5 413.31 L1555 413.31 L1555.5 413.32 L1556 413.32 L1556.03 413.33 L1556.5 377.34 L1557 339.06 L1557.5 300.78 L1558 262.5 L1558.03 260.2 L1558.5 283.74 L1559 308.78 L1559.5 333.82 L1560 358.85 L1560.5 383.89 L1560.63 390.4 L1561 393.96 L1561.5 397.92 L1562 401.07 L1562.5 403.58 L1563 405.58 L1563.5 407.18 L1564 408.45 L1564.5 409.46 L1565 410.27 L1565.5 410.92 L1566 411.44 L1566.5 411.85 L1567 412.18 L1567.5 412.44 L1568 412.65 L1568.5 412.82 L1569 412.96 L1569.5 413.07 L1570 413.16 L1570.5 413.23 L1571 413.29 L1571.5 413.33 L1572 413.37 L1572.5 413.4 L1573 413.43 L1573.5 413.45 L1574 413.47 L1574.5 413.49 L1575 413.5 L1575.5 413.52 L1576 413.53 L1576.5 413.54 L1577 413.55 L1577.5 413.55 L1577.95 413.56 L1578 411.77 L1578.5 393.83 L1579 375.89 L1579.5 357.94 L1579.95 341.8 L1580 342.97 L1580.5 354.71 L1581 366.45 L1581.5 378.19 L1582 389.94 L1582.5 401.68 L1582.55 402.85 L1583 404.85 L1583.5 406.64 L1584 408.07 L1584.5 409.2 L1585 410.11 L1585.5 410.84 L1586 411.41 L1586.5 411.88 L1587 412.25 L1587.5 412.54 L1588 412.78 L1588.5 412.97 L1589 413.12 L1589.5 413.24 L1590 413.34 L1590.5 413.42 L1591 413.48 L1591.5 413.54 L1592 413.58 L1592.5 413.62 L1593 413.64 L1593.5 413.67 L1594 413.69 L1594.5 413.71 L1595 413.72 L1595.5 413.74 L1596 413.75 L1596.5 413.76 L1597 413.77 L1597.5 413.78 L1598 413.78 L1598.5 413.79 L1599 413.8 L1599.5 413.81 L1599.87 413.81 L1600 409.23 L1600.5 391.6 L1601 373.97 L1601.5 356.34 L1601.87 343.3 L1602 346.3 L1602.5 357.83 L1603 369.37 L1603.5 380.91 L1604 392.44 L1604.47 403.28 L1604.5 403.43 L1605 405.56 L1605.5 407.25 L1606 408.6 L1606.5 409.68 L1607 410.54 L1607.5 411.23 L1608 411.78 L1608.5 412.22 L1609 412.57 L1609.5 412.85 L1610 413.07 L1610.5 413.25 L1611 413.39 L1611.5 413.51 L1612 413.6 L1612.5 413.68 L1613 413.74 L1613.5 413.79 L1614 413.83 L1614.5 413.87 L1615 413.89 L1615.5 413.92 L1616 413.94 L1616.5 413.96 L1617 413.97 L1617.5 413.98 L1618 413.99 L1618.5 414 L1619 414.01 L1619.5 414.02 L1620 414.03 L1620.5 414.04 L1621 414.04 L1621.5 414.05 L1621.79 414.05 L1622 406.4 L1622.5 388.19 L1623 369.98 L1623.5 351.76 L1623.79 341.2 L1624 346.2 L1624.5 358.12 L1625 370.04 L1625.5 381.96 L1626 393.88 L1626.39 403.18 L1626.5 403.71 L1627 405.83 L1627.5 407.52 L1628 408.87 L1628.5 409.94 L1629 410.8 L1629.5 411.49 L1630 412.03 L1630.5 412.47 L1631 412.82 L1631.5 413.1 L1632 413.32 L1632.5 413.5 L1633 413.64 L1633.5 413.76 L1634 413.85 L1634.5 413.93 L1635 413.99 L1635.5 414.04 L1636 414.08 L1636.5 414.11 L1637 414.14 L1637.5 414.16 L1638 414.18 L1638.5 414.2 L1639 414.22 L1639.5 414.23 L1640 414.24 L1640.5 414.25 L1641 414.26 L1641.5 414.27 L1642 414.28 L1642.5 414.28 L1643 414.29 L1643.5 414.3 L1643.71 414.3 L1644 373.37 L1644.5 302.79 L1645 232.22 L1645.5 161.64 L1645.71 132 L1646 158.77 L1646.5 204.92 L1647 251.08 L1647.5 297.23 L1648 343.39 L1648.31 372.01 L1648.5 375.51 L1649 383.41 L1649.5 389.71 L1650 394.73 L1650.5 398.73 L1651 401.92 L1651.5 404.46 L1652 406.48 L1652.5 408.1 L1653 409.38 L1653.5 410.41 L1654 411.23 L1654.5 411.88 L1655 412.41 L1655.5 412.82 L1656 413.16 L1656.5 413.42 L1657 413.64 L1657.5 413.81 L1658 413.95 L1658.5 414.06 L1659 414.15 L1659.5 414.22 L1660 414.28 L1660.5 414.32 L1661 414.36 L1661.5 414.4 L1662 414.42 L1662.5 414.45 L1663 414.47 L1663.5 414.48 L1664 414.5 L1664.5 414.51 L1665 414.52 L1665.5 414.53 L1665.63 414.53 L1666 407.16 L1666.5 397.2 L1667 387.24 L1667.5 377.28 L1667.63 374.69 L1668 379.52 L1668.5 386.05 L1669 392.57 L1669.5 399.09 L1670 405.62 L1670.23 408.62 L1670.5 409.31 L1671 410.39 L1671.5 411.25 L1672 411.94 L1672.5 412.49 L1673 412.93 L1673.5 413.28 L1674 413.56 L1674.5 413.79 L1675 413.97 L1675.5 414.11 L1676 414.23 L1676.5 414.32 L1677 414.4 L1677.5 414.46 L1678 414.51 L1678.5 414.55 L1679 414.59 L1679.5 414.61 L1680 414.64 L1680.5 414.66 L1681 414.67 L1681.5 414.69 L1682 414.7 L1682.5 414.71 L1683 414.72 L1683.5 414.73 L1684 414.74 L1684.5 414.75 L1685 414.76 L1685.5 414.76 L1686 414.77 L1686.5 414.78 L1687 414.78 L1687.5 414.79 L1687.55 414.79 L1688 385.88 L1688.5 353.76 L1689 321.63 L1689.5 289.51 L1689.55 286.3 L1690 305.21 L1690.5 326.22 L1691 347.24 L1691.5 368.25 L1692 389.26 L1692.15 395.57 L1692.5 398.41 L1693 401.75 L1693.5 404.42 L1694 406.55 L1694.5 408.25 L1695 409.6 L1695.5 410.68 L1696 411.54 L1696.5 412.22 L1697 412.77 L1697.5 413.21 L1698 413.56 L1698.5 413.84 L1699 414.06 L1699.5 414.24 L1700 414.39 L1700.5 414.5 L1701 414.6 L1701.5 414.67 L1702 414.73 L1702.5 414.78 L1703 414.83 L1703.5 414.86 L1704 414.89 L1704.5 414.91 L1705 414.93 L1705.5 414.95 L1706 414.96 L1706.5 414.98 L1707 414.99 L1707.5 415 L1708 415.01 L1708.5 415.01 L1709 415.02 L1709.47 415.03 L1709.5 414.09 L1710 398.41 L1710.5 382.72 L1711 367.04 L1711.47 352.3 L1711.5 352.91 L1712 363.18 L1712.5 373.44 L1713 383.71 L1713.5 393.97 L1714 404.24 L1714.07 405.67 L1714.5 407.35 L1715 408.93 L1715.5 410.19 L1716 411.19 L1716.5 412 L1717 412.64 L1717.5 413.15 L1718 413.55 L1718.5 413.88 L1719 414.14 L1719.5 414.35 L1720 414.52 L1720.5 414.65 L1721 414.76 L1721.5 414.85 L1722 414.92 L1722.5 414.98 L1723 415.03 L1723.5 415.06 L1724 415.1 L1724.5 415.12 L1725 415.14 L1725.5 415.16 L1726 415.18 L1726.5 415.19 L1727 415.21 L1727.5 415.22 L1728 415.23 L1728.5 415.24 L1729 415.24 L1729.5 415.25 L1730 415.26 L1730.5 415.27 L1731 415.27 L1731.39 415.28 L1731.5 410.91 L1732 391.04 L1732.5 371.17 L1733 351.3 L1733.39 335.8 L1733.5 338.66 L1734 351.66 L1734.5 364.66 L1735 377.66 L1735.5 390.67 L1735.99 403.41 L1736 403.46 L1736.5 405.88 L1737 407.81 L1737.5 409.35 L1738 410.57 L1738.5 411.55 L1739 412.33 L1739.5 412.95 L1740 413.45 L1740.5 413.85 L1741 414.17 L1741.5 414.42 L1742 414.62 L1742.5 414.79 L1743 414.92 L1743.5 415.02 L1744 415.11 L1744.5 415.18 L1745 415.23 L1745.5 415.28 L1746 415.32 L1746.5 415.35 L1747 415.38 L1747.5 415.4 L1748 415.42 L1748.5 415.43 L1749 415.45 L1749.5 415.46 L1750 415.47 L1750.5 415.48 L1751 415.49 L1751.5 415.5 L1752 415.5 L1752.5 415.51 L1753 415.52 L1753.31 415.52 L1753.5 408.23 L1754 389.05 L1754.5 369.87 L1755 350.69 L1755.31 338.8 L1755.5 343.57 L1756 356.12 L1756.5 368.67 L1757 381.22 L1757.5 393.77 L1757.91 404.06 L1758 404.53 L1758.5 406.78 L1759 408.57 L1759.5 410.01 L1760 411.15 L1760.5 412.06 L1761 412.79 L1761.5 413.37 L1762 413.83 L1762.5 414.2 L1763 414.5 L1763.5 414.73 L1764 414.92 L1764.5 415.08 L1765 415.2 L1765.5 415.3 L1766 415.38 L1766.5 415.44 L1767 415.49 L1767.5 415.54 L1768 415.57 L1768.5 415.6 L1769 415.63 L1769.5 415.65 L1770 415.66 L1770.5 415.68 L1771 415.69 L1771.5 415.71 L1772 415.72 L1772.5 415.72 L1773 415.73 L1773.5 415.74 L1774 415.75 L1774.5 415.76 L1775 415.76 L1775.23 415.77 L1775.5 407.08 L1776 390.98 L1776.5 374.89 L1777 358.8 L1777.23 351.4 L1777.5 357.09 L1778 367.62 L1778.5 378.15 L1779 388.68 L1779.5 399.21 L1779.83 406.16 L1780 406.88 L1780.5 408.71 L1781 410.16 L1781.5 411.32 L1782 412.24 L1782.5 412.98 L1783 413.57 L1783.5 414.04 L1784 414.42 L1784.5 414.72 L1785 414.96 L1785.5 415.15 L1786 415.31 L1786.5 415.43 L1787 415.53 L1787.5 415.61 L1788 415.68 L1788.5 415.73 L1789 415.77 L1789.5 415.81 L1790 415.84 L1790.5 415.87 L1791 415.89 L1791.5 415.9 L1792 415.92 L1792.5 415.93 L1793 415.94 L1793.5 415.96 L1794 415.96 L1794.5 415.97 L1795 415.98 L1795.5 415.99 L1796 416 L1796.5 416 L1797 416.01 L1797.15 416.01 L1797.5 403.13 L1798 384.73 L1798.5 366.32 L1799 347.92 L1799.15 342.4 L1799.5 350.83 L1800 362.87 L1800.5 374.91 L1801 386.96 L1801.5 399 L1801.75 405.02 L1802 406.21 L1802.5 408.22 L1803 409.82 L1803.5 411.1 L1804 412.12 L1804.5 412.93 L1805 413.58 L1805.5 414.1 L1806 414.51 L1806.5 414.84 L1807 415.11 L1807.5 415.32 L1808 415.49 L1808.5 415.63 L1809 415.74 L1809.5 415.83 L1810 415.9 L1810.5 415.96 L1811 416 L1811.5 416.04 L1812 416.08 L1812.5 416.1 L1813 416.13 L1813.5 416.14 L1814 416.16 L1814.5 416.18 L1815 416.19 L1815.5 416.2 L1816 416.21 L1816.5 416.22 L1817 416.23 L1817.5 416.23 L1818 416.24 L1818.5 416.25 L1819 416.25 L1819.07 416.26 L1819.5 386.38 L1820 351.64 L1820.5 316.9 L1821 282.16 L1821.07 277.3 L1821.5 296.84 L1822 319.57 L1822.5 342.29 L1823 365.01 L1823.5 387.74 L1823.67 395.46 L1824 398.37 L1824.5 402.02 L1825 404.94 L1825.5 407.26 L1826 409.11 L1826.5 410.58 L1827 411.76 L1827.5 412.7 L1828 413.45 L1828.5 414.04 L1829 414.52 L1829.5 414.9 L1830 415.21 L1830.5 415.45 L1831 415.65 L1831.5 415.8 L1832 415.93 L1832.5 416.03 L1833 416.11 L1833.5 416.18 L1834 416.24 L1834.5 416.28 L1835 416.32 L1835.5 416.35 L1836 416.37 L1836.5 416.39 L1837 416.41 L1837.5 416.43 L1838 416.44 L1838.5 416.45 L1839 416.46 L1839.5 416.47 L1840 416.48 L1840.5 416.49 L1840.99 416.5 L1841 416.42 L1841.5 412.72 L1842 409.02 L1842.5 405.32 L1842.99 401.7 L1843 401.75 L1843.5 404.18 L1844 406.6 L1844.5 409.03 L1845 411.46 L1845.5 413.89 L1845.59 414.33 L1846 414.71 L1846.5 415.09 L1847 415.4 L1847.5 415.64 L1848 415.84 L1848.5 416 L1849 416.12 L1849.5 416.22 L1850 416.3 L1850.5 416.37 L1851 416.43 L1851.5 416.47 L1852 416.51 L1852.5 416.54 L1853 416.56 L1853.5 416.58 L1854 416.6 L1854.5 416.62 L1855 416.63 L1855.5 416.64 L1856 416.65 L1856.5 416.66 L1857 416.67 L1857.5 416.68 L1858 416.69 L1858.5 416.69 L1859 416.7 L1859.5 416.71 L1860 416.71 L1860.5 416.72 L1861 416.73 L1861.5 416.73 L1862 416.74 L1862.5 416.74 L1862.91 416.75 L1863 413.58 L1863.5 395.97 L1864 378.35 L1864.5 360.74 L1864.91 346.3 L1865 348.37 L1865.5 359.9 L1866 371.42 L1866.5 382.95 L1867 394.47 L1867.5 406 L1867.51 406.23 L1868 408.35 L1868.5 410.07 L1869 411.45 L1869.5 412.54 L1870 413.42 L1870.5 414.12 L1871 414.68 L1871.5 415.12 L1872 415.48 L1872.5 415.76 L1873 415.99 L1873.5 416.17 L1874 416.32 L1874.5 416.44 L1875 416.53 L1875.5 416.61 L1876 416.67 L1876.5 416.72 L1877 416.76 L1877.5 416.8 L1878 416.83 L1878.5 416.85 L1879 416.87 L1879.5 416.89 L1880 416.9 L1880.5 416.92 L1881 416.93 L1881.5 416.94 L1882 416.95 L1882.5 416.96 L1883 416.96 L1883.5 416.97 L1884 416.98 L1884.5 416.98 L1884.83 416.99 L1885 416.33 L1885.5 414.38 L1886 412.43 L1886.5 410.48 L1886.83 409.2 L1887 409.63 L1887.5 410.92 L1888 412.2 L1888.5 413.48 L1889 414.77 L1889.43 415.87 L1889.5 415.91 L1890 416.15 L1890.5 416.34 L1891 416.49 L1891.5 416.61 L1892 416.71 L1892.5 416.79 L1893 416.85 L1893.5 416.91 L1894 416.95 L1894.5 416.98 L1895 417.01 L1895.5 417.04 L1896 417.06 L1896.5 417.08 L1897 417.09 L1897.5 417.1 L1898 417.12 L1898.5 417.13 L1899 417.14 L1899.5 417.14 L1900 417.15 L1900.5 417.16 L1901 417.17 L1901.5 417.17 L1902 417.18 L1902.5 417.19 L1903 417.19 L1903.5 417.2 L1904 417.21 L1904.5 417.21 L1905 417.22 L1905.5 417.22 L1906 417.23 L1906.5 417.23 L1906.75 417.24 L1907 401.06 L1907.5 368.7 L1908 336.34 L1908.5 303.98 L1908.75 287.8 L1909 298.38 L1909.5 319.55 L1910 340.72 L1910.5 361.89 L1911 383.05 L1911.35 397.87 L1911.5 399.15 L1912 402.84 L1912.5 405.79 L1913 408.13 L1913.5 410 L1914 411.5 L1914.5 412.69 L1915 413.63 L1915.5 414.39 L1916 415 L1916.5 415.48 L1917 415.86 L1917.5 416.17 L1918 416.42 L1918.5 416.62 L1919 416.77 L1919.5 416.9 L1920 417 L1920.5 417.09 L1921 417.16 L1921.5 417.21 L1922 417.25 L1922.5 417.29 L1923 417.32 L1923.5 417.35 L1924 417.37 L1924.5 417.39 L1925 417.4 L1925.5 417.42 L1926 417.43 L1926.5 417.44 L1927 417.45 L1927.5 417.46 L1928 417.46 L1928.5 417.47 L1928.67 417.47 L1929 407.71 L1929.5 392.92 L1930 378.12 L1930.5 363.33 L1930.67 358.3 L1931 364.69 L1931.5 374.37 L1932 384.06 L1932.5 393.74 L1933 403.42 L1933.27 408.65 L1933.5 409.54 L1934 411.17 L1934.5 412.47 L1935 413.51 L1935.5 414.34 L1936 415 L1936.5 415.52 L1937 415.95 L1937.5 416.28 L1938 416.55 L1938.5 416.77 L1939 416.94 L1939.5 417.08 L1940 417.19 L1940.5 417.28 L1941 417.36 L1941.5 417.41 L1942 417.46 L1942.5 417.5 L1943 417.54 L1943.5 417.56 L1944 417.59 L1944.5 417.61 L1945 417.62 L1945.5 417.64 L1946 417.65 L1946.5 417.66 L1947 417.67 L1947.5 417.68 L1948 417.69 L1948.5 417.69 L1949 417.7 L1949.5 417.71 L1950 417.72 L1950.5 417.72 L1950.59 417.72 L1951 404.93 L1951.5 389.32 L1952 373.71 L1952.5 358.11 L1952.59 355.3 L1953 363.67 L1953.5 373.89 L1954 384.1 L1954.5 394.32 L1955 404.53 L1955.19 408.41 L1955.5 409.65 L1956 411.3 L1956.5 412.63 L1957 413.68 L1957.5 414.53 L1958 415.2 L1958.5 415.73 L1959 416.16 L1959.5 416.51 L1960 416.78 L1960.5 417 L1961 417.18 L1961.5 417.32 L1962 417.43 L1962.5 417.52 L1963 417.6 L1963.5 417.66 L1964 417.71 L1964.5 417.75 L1965 417.78 L1965.5 417.81 L1966 417.83 L1966.5 417.85 L1967 417.87 L1967.5 417.88 L1968 417.89 L1968.5 417.9 L1969 417.91 L1969.5 417.92 L1970 417.93 L1970.5 417.94 L1971 417.95 L1971.5 417.95 L1972 417.96 L1972.5 417.97 L1972.51 417.97 L1973 402.61 L1973.5 386.95 L1974 371.28 L1974.5 355.61 L1974.51 355.3 L1975 365.35 L1975.5 375.6 L1976 385.85 L1976.5 396.11 L1977 406.36 L1977.11 408.62 L1977.5 410.15 L1978 411.76 L1978.5 413.04 L1979 414.06 L1979.5 414.88 L1980 415.53 L1980.5 416.05 L1981 416.46 L1981.5 416.79 L1982 417.06 L1982.5 417.27 L1983 417.44 L1983.5 417.58 L1984 417.69 L1984.5 417.78 L1985 417.85 L1985.5 417.91 L1986 417.96 L1986.5 418 L1987 418.03 L1987.5 418.06 L1988 418.08 L1988.5 418.1 L1989 418.11 L1989.5 418.13 L1990 418.14 L1990.5 418.15 L1991 418.16 L1991.5 418.17 L1992 418.18 L1992.5 418.19 L1993 418.19" fill="none" stroke="#7068b8" stroke-width="2.3" stroke-linejoin="round"/>
</g>
<rect x="1034" y="77" width="974" height="408" fill="none" stroke="#1f1b1c" stroke-width="3.4"/>
<rect x="1306.9" y="77" width="64.4" height="406.5" fill="#adb6d8" style="mix-blend-mode:multiply"/>
<path d="M1306.1 75.5 V484.3 H1372.1 V75.5" fill="none" stroke="#fff" stroke-width="1.5"/>
<line x1="1317.7" y1="198" x2="1317.7" y2="296.7" stroke="#1b4685" stroke-width="3.7"/>
<path d="M1309.7 294.7 L1325.7 294.7 L1317.7 314.7 Z" fill="#1b4685"/>
<line x1="1361" y1="198" x2="1361" y2="296.7" stroke="#1b4685" stroke-width="3.7"/>
<path d="M1353 294.7 L1369 294.7 L1361 314.7 Z" fill="#1b4685"/>
<text x="1360.83" y="117.4" font-family="Liberation Sans" font-size="41.3" fill="#0c0c0c" textLength="175.75" lengthAdjust="spacingAndGlyphs" style="font-kerning:none" xml:space="preserve" stroke="#fff" stroke-width="0.5" stroke-opacity="0.8">Sample #4</text>
<text x="1571.47" y="117.4" font-family="Liberation Sans" font-size="41.3" fill="#0c0c0c" textLength="351.39" lengthAdjust="spacingAndGlyphs" style="font-kerning:none" xml:space="preserve" stroke="#fff" stroke-width="0.5" stroke-opacity="0.8">PCR result: SHV-156D</text>
<g filter="url(#soft)">
<line x1="27" y1="827.1" x2="967" y2="827.1" stroke="#b0a9a8" stroke-width="1.9" stroke-dasharray="14 1.5"/>
<line x1="27" y1="827.1" x2="32" y2="827.1" stroke="#4b4547" stroke-width="2"/>
<text x="24.5" y="831.6" font-family="Liberation Sans" font-weight="bold" font-size="12" fill="#5a5254" text-anchor="end" textLength="13" lengthAdjust="spacingAndGlyphs" opacity="0.85">75</text>
<line x1="27" y1="915.8" x2="967" y2="915.8" stroke="#b0a9a8" stroke-width="1.9" stroke-dasharray="14 1.5"/>
<line x1="27" y1="915.8" x2="32" y2="915.8" stroke="#4b4547" stroke-width="2"/>
<text x="24.5" y="920.3" font-family="Liberation Sans" font-weight="bold" font-size="12" fill="#5a5254" text-anchor="end" textLength="13" lengthAdjust="spacingAndGlyphs" opacity="0.85">50</text>
<line x1="27" y1="1003.6" x2="967" y2="1003.6" stroke="#b0a9a8" stroke-width="1.9" stroke-dasharray="14 1.5"/>
<line x1="27" y1="1003.6" x2="32" y2="1003.6" stroke="#4b4547" stroke-width="2"/>
<text x="24.5" y="1008.1" font-family="Liberation Sans" font-weight="bold" font-size="12" fill="#5a5254" text-anchor="end" textLength="13" lengthAdjust="spacingAndGlyphs" opacity="0.85">25</text>
<line x1="27" y1="1091.5" x2="967" y2="1091.5" stroke="#b0a9a8" stroke-width="1.9" stroke-dasharray="14 1.5"/>
<line x1="27" y1="1091.5" x2="32" y2="1091.5" stroke="#4b4547" stroke-width="2"/>
<text x="24.5" y="1096" font-family="Liberation Sans" font-weight="bold" font-size="12" fill="#5a5254" text-anchor="end" textLength="7" lengthAdjust="spacingAndGlyphs" opacity="0.85">0</text>
<text x="8.3" y="755.0" font-family="Liberation Sans" font-weight="bold" font-size="12" fill="#5a5254" textLength="14" lengthAdjust="spacingAndGlyphs" opacity="0.85">87</text>
<line x1="27" y1="767" x2="27" y2="1120" stroke="#6f6769" stroke-width="2.8"/>
<line x1="27" y1="1120" x2="967" y2="1120" stroke="#5f5759" stroke-width="2.6"/>
<line x1="60.48" y1="1114" x2="60.48" y2="1123" stroke="#4b4547" stroke-width="1.6"/>
<text x="60.48" y="1134" font-family="Liberation Sans" font-weight="bold" font-size="10.5" fill="#3d3638" stroke="#3d3638" stroke-width="0.5" text-anchor="middle">E</text>
<line x1="80.27" y1="1114" x2="80.27" y2="1123" stroke="#4b4547" stroke-width="1.6"/>
<text x="80.27" y="1134" font-family="Liberation Sans" font-weight="bold" font-size="10.5" fill="#3d3638" stroke="#3d3638" stroke-width="0.5" text-anchor="middle">S</text>
<line x1="100.06" y1="1114" x2="100.06" y2="1123" stroke="#4b4547" stroke-width="1.6"/>
<text x="100.06" y="1134" font-family="Liberation Sans" font-weight="bold" font-size="10.5" fill="#3d3638" stroke="#3d3638" stroke-width="0.5" text-anchor="middle">A</text>
<line x1="119.85" y1="1114" x2="119.85" y2="1123" stroke="#4b4547" stroke-width="1.6"/>
<text x="119.85" y="1134" font-family="Liberation Sans" font-weight="bold" font-size="10.5" fill="#3d3638" stroke="#3d3638" stroke-width="0.5" text-anchor="middle">C</text>
<line x1="139.64" y1="1114" x2="139.64" y2="1123" stroke="#4b4547" stroke-width="1.6"/>
<text x="139.64" y="1134" font-family="Liberation Sans" font-weight="bold" font-size="10.5" fill="#3d3638" stroke="#3d3638" stroke-width="0.5" text-anchor="middle">G</text>
<line x1="159.44" y1="1114" x2="159.44" y2="1123" stroke="#4b4547" stroke-width="1.6"/>
<text x="159.44" y="1134" font-family="Liberation Sans" font-weight="bold" font-size="10.5" fill="#3d3638" stroke="#3d3638" stroke-width="0.5" text-anchor="middle">T</text>
<line x1="179.23" y1="1114" x2="179.23" y2="1123" stroke="#4b4547" stroke-width="1.6"/>
<text x="179.23" y="1134" font-family="Liberation Sans" font-weight="bold" font-size="10.5" fill="#3d3638" stroke="#3d3638" stroke-width="0.5" text-anchor="middle">A</text>
<line x1="199.02" y1="1114" x2="199.02" y2="1123" stroke="#4b4547" stroke-width="1.6"/>
<text x="199.02" y="1134" font-family="Liberation Sans" font-weight="bold" font-size="10.5" fill="#3d3638" stroke="#3d3638" stroke-width="0.5" text-anchor="middle">G</text>
<line x1="218.81" y1="1114" x2="218.81" y2="1123" stroke="#4b4547" stroke-width="1.6"/>
<text x="218.81" y="1134" font-family="Liberation Sans" font-weight="bold" font-size="10.5" fill="#3d3638" stroke="#3d3638" stroke-width="0.5" text-anchor="middle">C</text>
<line x1="238.6" y1="1114" x2="238.6" y2="1123" stroke="#4b4547" stroke-width="1.6"/>
<text x="238.6" y="1134" font-family="Liberation Sans" font-weight="bold" font-size="10.5" fill="#3d3638" stroke="#3d3638" stroke-width="0.5" text-anchor="middle">A</text>
<line x1="258.39" y1="1114" x2="258.39" y2="1123" stroke="#4b4547" stroke-width="1.6"/>
<text x="258.39" y="1134" font-family="Liberation Sans" font-weight="bold" font-size="10.5" fill="#3d3638" stroke="#3d3638" stroke-width="0.5" text-anchor="middle">G</text>
<line x1="278.18" y1="1114" x2="278.18" y2="1123" stroke="#4b4547" stroke-width="1.6"/>
<text x="278.18" y="1134" font-family="Liberation Sans" font-weight="bold" font-size="10.5" fill="#3d3638" stroke="#3d3638" stroke-width="0.5" text-anchor="middle">A</text>
<line x1="297.97" y1="1114" x2="297.97" y2="1123" stroke="#4b4547" stroke-width="1.6"/>
<text x="297.97" y="1134" font-family="Liberation Sans" font-weight="bold" font-size="10.5" fill="#3d3638" stroke="#3d3638" stroke-width="0.5" text-anchor="middle">G</text>
<line x1="317.76" y1="1114" x2="317.76" y2="1123" stroke="#4b4547" stroke-width="1.6"/>
<text x="317.76" y="1134" font-family="Liberation Sans" font-weight="bold" font-size="10.5" fill="#3d3638" stroke="#3d3638" stroke-width="0.5" text-anchor="middle">C</text>
<line x1="337.55" y1="1114" x2="337.55" y2="1123" stroke="#4b4547" stroke-width="1.6"/>
<text x="337.55" y="1134" font-family="Liberation Sans" font-weight="bold" font-size="10.5" fill="#3d3638" stroke="#3d3638" stroke-width="0.5" text-anchor="middle">G</text>
<line x1="357.35" y1="1114" x2="357.35" y2="1123" stroke="#4b4547" stroke-width="1.6"/>
<text x="357.35" y="1134" font-family="Liberation Sans" font-weight="bold" font-size="10.5" fill="#3d3638" stroke="#3d3638" stroke-width="0.5" text-anchor="middle">G</text>
<line x1="377.14" y1="1114" x2="377.14" y2="1123" stroke="#4b4547" stroke-width="1.6"/>
<text x="377.14" y="1134" font-family="Liberation Sans" font-weight="bold" font-size="10.5" fill="#3d3638" stroke="#3d3638" stroke-width="0.5" text-anchor="middle">C</text>
<line x1="396.93" y1="1114" x2="396.93" y2="1123" stroke="#4b4547" stroke-width="1.6"/>
<text x="396.93" y="1134" font-family="Liberation Sans" font-weight="bold" font-size="10.5" fill="#3d3638" stroke="#3d3638" stroke-width="0.5" text-anchor="middle">T</text>
<line x1="416.72" y1="1114" x2="416.72" y2="1123" stroke="#4b4547" stroke-width="1.6"/>
<text x="416.72" y="1134" font-family="Liberation Sans" font-weight="bold" font-size="10.5" fill="#3d3638" stroke="#3d3638" stroke-width="0.5" text-anchor="middle">G</text>
<line x1="436.51" y1="1114" x2="436.51" y2="1123" stroke="#4b4547" stroke-width="1.6"/>
<text x="436.51" y="1134" font-family="Liberation Sans" font-weight="bold" font-size="10.5" fill="#3d3638" stroke="#3d3638" stroke-width="0.5" text-anchor="middle">C</text>
<line x1="456.3" y1="1114" x2="456.3" y2="1123" stroke="#4b4547" stroke-width="1.6"/>
<text x="456.3" y="1134" font-family="Liberation Sans" font-weight="bold" font-size="10.5" fill="#3d3638" stroke="#3d3638" stroke-width="0.5" text-anchor="middle">G</text>
<line x1="476.09" y1="1114" x2="476.09" y2="1123" stroke="#4b4547" stroke-width="1.6"/>
<text x="476.09" y="1134" font-family="Liberation Sans" font-weight="bold" font-size="10.5" fill="#3d3638" stroke="#3d3638" stroke-width="0.5" text-anchor="middle">C</text>
<line x1="495.88" y1="1114" x2="495.88" y2="1123" stroke="#4b4547" stroke-width="1.6"/>
<text x="495.88" y="1134" font-family="Liberation Sans" font-weight="bold" font-size="10.5" fill="#3d3638" stroke="#3d3638" stroke-width="0.5" text-anchor="middle">G</text>
<line x1="515.67" y1="1114" x2="515.67" y2="1123" stroke="#4b4547" stroke-width="1.6"/>
<text x="515.67" y="1134" font-family="Liberation Sans" font-weight="bold" font-size="10.5" fill="#3d3638" stroke="#3d3638" stroke-width="0.5" text-anchor="middle">C</text>
<line x1="535.46" y1="1114" x2="535.46" y2="1123" stroke="#4b4547" stroke-width="1.6"/>
<text x="535.46" y="1134" font-family="Liberation Sans" font-weight="bold" font-size="10.5" fill="#3d3638" stroke="#3d3638" stroke-width="0.5" text-anchor="middle">G</text>
<line x1="555.25" y1="1114" x2="555.25" y2="1123" stroke="#4b4547" stroke-width="1.6"/>
<text x="555.25" y="1134" font-family="Liberation Sans" font-weight="bold" font-size="10.5" fill="#3d3638" stroke="#3d3638" stroke-width="0.5" text-anchor="middle">C</text>
<line x1="575.05" y1="1114" x2="575.05" y2="1123" stroke="#4b4547" stroke-width="1.6"/>
<text x="575.05" y="1134" font-family="Liberation Sans" font-weight="bold" font-size="10.5" fill="#3d3638" stroke="#3d3638" stroke-width="0.5" text-anchor="middle">A</text>
<line x1="594.84" y1="1114" x2="594.84" y2="1123" stroke="#4b4547" stroke-width="1.6"/>
<text x="594.84" y="1134" font-family="Liberation Sans" font-weight="bold" font-size="10.5" fill="#3d3638" stroke="#3d3638" stroke-width="0.5" text-anchor="middle">T</text>
<line x1="614.63" y1="1114" x2="614.63" y2="1123" stroke="#4b4547" stroke-width="1.6"/>
<text x="614.63" y="1134" font-family="Liberation Sans" font-weight="bold" font-size="10.5" fill="#3d3638" stroke="#3d3638" stroke-width="0.5" text-anchor="middle">G</text>
<line x1="634.42" y1="1114" x2="634.42" y2="1123" stroke="#4b4547" stroke-width="1.6"/>
<text x="634.42" y="1134" font-family="Liberation Sans" font-weight="bold" font-size="10.5" fill="#3d3638" stroke="#3d3638" stroke-width="0.5" text-anchor="middle">T</text>
<line x1="654.21" y1="1114" x2="654.21" y2="1123" stroke="#4b4547" stroke-width="1.6"/>
<text x="654.21" y="1134" font-family="Liberation Sans" font-weight="bold" font-size="10.5" fill="#3d3638" stroke="#3d3638" stroke-width="0.5" text-anchor="middle">C</text>
<line x1="674" y1="1114" x2="674" y2="1123" stroke="#4b4547" stroke-width="1.6"/>
<text x="674" y="1134" font-family="Liberation Sans" font-weight="bold" font-size="10.5" fill="#3d3638" stroke="#3d3638" stroke-width="0.5" text-anchor="middle">G</text>
<line x1="693.79" y1="1114" x2="693.79" y2="1123" stroke="#4b4547" stroke-width="1.6"/>
<text x="693.79" y="1134" font-family="Liberation Sans" font-weight="bold" font-size="10.5" fill="#3d3638" stroke="#3d3638" stroke-width="0.5" text-anchor="middle">C</text>
<line x1="713.58" y1="1114" x2="713.58" y2="1123" stroke="#4b4547" stroke-width="1.6"/>
<text x="713.58" y="1134" font-family="Liberation Sans" font-weight="bold" font-size="10.5" fill="#3d3638" stroke="#3d3638" stroke-width="0.5" text-anchor="middle">T</text>
<line x1="733.37" y1="1114" x2="733.37" y2="1123" stroke="#4b4547" stroke-width="1.6"/>
<text x="733.37" y="1134" font-family="Liberation Sans" font-weight="bold" font-size="10.5" fill="#3d3638" stroke="#3d3638" stroke-width="0.5" text-anchor="middle">G</text>
<line x1="753.17" y1="1114" x2="753.17" y2="1123" stroke="#4b4547" stroke-width="1.6"/>
<text x="753.17" y="1134" font-family="Liberation Sans" font-weight="bold" font-size="10.5" fill="#3d3638" stroke="#3d3638" stroke-width="0.5" text-anchor="middle">C</text>
<line x1="772.96" y1="1114" x2="772.96" y2="1123" stroke="#4b4547" stroke-width="1.6"/>
<text x="772.96" y="1134" font-family="Liberation Sans" font-weight="bold" font-size="10.5" fill="#3d3638" stroke="#3d3638" stroke-width="0.5" text-anchor="middle">T</text>
<line x1="792.75" y1="1114" x2="792.75" y2="1123" stroke="#4b4547" stroke-width="1.6"/>
<text x="792.75" y="1134" font-family="Liberation Sans" font-weight="bold" font-size="10.5" fill="#3d3638" stroke="#3d3638" stroke-width="0.5" text-anchor="middle">G</text>
<line x1="812.54" y1="1114" x2="812.54" y2="1123" stroke="#4b4547" stroke-width="1.6"/>
<text x="812.54" y="1134" font-family="Liberation Sans" font-weight="bold" font-size="10.5" fill="#3d3638" stroke="#3d3638" stroke-width="0.5" text-anchor="middle">C</text>
<line x1="832.33" y1="1114" x2="832.33" y2="1123" stroke="#4b4547" stroke-width="1.6"/>
<text x="832.33" y="1134" font-family="Liberation Sans" font-weight="bold" font-size="10.5" fill="#3d3638" stroke="#3d3638" stroke-width="0.5" text-anchor="middle">T</text>
<line x1="852.12" y1="1114" x2="852.12" y2="1123" stroke="#4b4547" stroke-width="1.6"/>
<text x="852.12" y="1134" font-family="Liberation Sans" font-weight="bold" font-size="10.5" fill="#3d3638" stroke="#3d3638" stroke-width="0.5" text-anchor="middle">G</text>
<line x1="871.91" y1="1114" x2="871.91" y2="1123" stroke="#4b4547" stroke-width="1.6"/>
<text x="871.91" y="1134" font-family="Liberation Sans" font-weight="bold" font-size="10.5" fill="#3d3638" stroke="#3d3638" stroke-width="0.5" text-anchor="middle">C</text>
<line x1="891.7" y1="1114" x2="891.7" y2="1123" stroke="#4b4547" stroke-width="1.6"/>
<text x="891.7" y="1134" font-family="Liberation Sans" font-weight="bold" font-size="10.5" fill="#3d3638" stroke="#3d3638" stroke-width="0.5" text-anchor="middle">A</text>
<line x1="911.49" y1="1114" x2="911.49" y2="1123" stroke="#4b4547" stroke-width="1.6"/>
<text x="911.49" y="1134" font-family="Liberation Sans" font-weight="bold" font-size="10.5" fill="#3d3638" stroke="#3d3638" stroke-width="0.5" text-anchor="middle">T</text>
<line x1="931.28" y1="1114" x2="931.28" y2="1123" stroke="#4b4547" stroke-width="1.6"/>
<text x="931.28" y="1134" font-family="Liberation Sans" font-weight="bold" font-size="10.5" fill="#3d3638" stroke="#3d3638" stroke-width="0.5" text-anchor="middle">A</text>
<line x1="951.08" y1="1114" x2="951.08" y2="1123" stroke="#4b4547" stroke-width="1.6"/>
<text x="951.08" y="1134" font-family="Liberation Sans" font-weight="bold" font-size="10.5" fill="#3d3638" stroke="#3d3638" stroke-width="0.5" text-anchor="middle">C</text>
<text x="179.23" y="1150" font-family="Liberation Sans" font-weight="bold" font-size="10.5" fill="#3d3638" stroke="#3d3638" stroke-width="0.4" text-anchor="middle">5</text>
<text x="278.18" y="1150" font-family="Liberation Sans" font-weight="bold" font-size="10.5" fill="#3d3638" stroke="#3d3638" stroke-width="0.4" text-anchor="middle">10</text>
<text x="377.14" y="1150" font-family="Liberation Sans" font-weight="bold" font-size="10.5" fill="#3d3638" stroke="#3d3638" stroke-width="0.4" text-anchor="middle">15</text>
<text x="476.09" y="1150" font-family="Liberation Sans" font-weight="bold" font-size="10.5" fill="#3d3638" stroke="#3d3638" stroke-width="0.4" text-anchor="middle">20</text>
<text x="575.05" y="1150" font-family="Liberation Sans" font-weight="bold" font-size="10.5" fill="#3d3638" stroke="#3d3638" stroke-width="0.4" text-anchor="middle">25</text>
<text x="674" y="1150" font-family="Liberation Sans" font-weight="bold" font-size="10.5" fill="#3d3638" stroke="#3d3638" stroke-width="0.4" text-anchor="middle">30</text>
<text x="772.96" y="1150" font-family="Liberation Sans" font-weight="bold" font-size="10.5" fill="#3d3638" stroke="#3d3638" stroke-width="0.4" text-anchor="middle">35</text>
<text x="871.91" y="1150" font-family="Liberation Sans" font-weight="bold" font-size="10.5" fill="#3d3638" stroke="#3d3638" stroke-width="0.4" text-anchor="middle">40</text>
<path d="M28 1108 L28.5 1108.01 L29 1108.02 L29.5 1108.03 L30 1108.04 L30.5 1108.05 L31 1108.06 L31.5 1108.07 L32 1108.08 L32.5 1108.09 L33 1108.1 L33.5 1108.11 L34 1108.12 L34.5 1108.13 L35 1108.14 L35.5 1108.15 L36 1108.16 L36.5 1108.16 L37 1108.17 L37.5 1108.18 L38 1108.19 L38.5 1108.2 L39 1108.21 L39.5 1108.22 L40 1108.23 L40.5 1108.24 L41 1108.25 L41.5 1108.26 L42 1108.27 L42.5 1108.28 L43 1108.29 L43.5 1108.3 L44 1108.31 L44.5 1108.32 L45 1108.33 L45.5 1108.34 L46 1108.35 L46.5 1108.36 L47 1108.37 L47.5 1108.38 L48 1108.39 L48.5 1108.4 L49 1108.41 L49.5 1108.42 L50 1108.43 L50.5 1108.44 L51 1108.45 L51.5 1108.46 L52 1108.47 L52.5 1108.47 L53 1108.48 L53.5 1108.49 L54 1108.5 L54.5 1108.51 L55 1108.52 L55.5 1108.53 L56 1108.54 L56.5 1108.55 L57 1108.56 L57.5 1108.57 L58 1108.58 L58.5 1108.59 L59 1108.6 L59.5 1108.61 L60 1108.62 L60.5 1108.63 L61 1108.64 L61.5 1108.65 L62 1108.66 L62.5 1108.67 L63 1108.68 L63.5 1108.69 L64 1108.7 L64.5 1108.71 L65 1108.72 L65.5 1108.73 L66 1108.74 L66.5 1108.75 L67 1108.76 L67.5 1108.77 L68 1108.78 L68.5 1108.78 L69 1108.79 L69.5 1108.8 L70 1108.81 L70.5 1108.82 L71 1108.83 L71.5 1108.84 L72 1108.85 L72.5 1108.86 L73 1108.87 L73.5 1108.88 L74 1108.89 L74.5 1108.9 L75 1108.91 L75.5 1108.92 L76 1108.93 L76.5 1108.94 L77 1108.95 L77.5 1108.96 L78 1108.97 L78.5 1108.98 L79 1108.99 L79.5 1109 L79.6 1109 L79.6 1077.4 L80 1079.12 L80.5 1080.91 L81 1082.38 L81.5 1083.59 L82 1084.57 L82.5 1085.39 L83 1086.05 L83.5 1086.6 L84 1087.05 L84.5 1087.41 L85 1087.72 L85.5 1087.97 L86 1088.17 L86.5 1088.34 L87 1088.48 L87.5 1088.6 L88 1088.69 L88.5 1088.77 L89 1088.84 L89.5 1088.9 L90 1088.94 L90.5 1088.98 L91 1089.01 L91.5 1089.04 L92 1089.07 L92.5 1089.09 L93 1089.11 L93.5 1089.12 L94 1089.14 L94.5 1089.15 L95 1089.16 L95.5 1089.17 L96 1089.18 L96.5 1089.19 L97 1089.2 L97.5 1089.21 L98 1089.22 L98.5 1089.23 L99 1089.23 L99.5 1089.24 L100 1089.25 L100.5 1089.25 L101 1089.26 L101.5 1089.27 L102 1089.27 L102.5 1089.28 L103 1089.29 L103.5 1089.29 L104 1089.3 L104.5 1089.31 L105 1089.31 L105.5 1089.32 L106 1089.32 L106.5 1089.33 L107 1089.34 L107.5 1089.34 L108 1089.35 L108.5 1089.36 L109 1089.36 L109.5 1089.37 L110 1089.37 L110.5 1089.38 L111 1089.39 L111.5 1089.39 L112 1089.4 L112.5 1089.41 L113 1089.41 L113.5 1089.42 L114 1089.42 L114.5 1089.43 L115 1089.44 L115.5 1089.44 L116 1089.45 L116.5 1089.46 L117 1089.46 L117.5 1089.47 L118 1089.47 L118.35 1089.48 L118.5 1084.18 L119 1066.16 L119.5 1048.14 L120 1030.12 L120.35 1017.4 L120.5 1020.87 L121 1032.66 L121.5 1044.45 L122 1056.24 L122.5 1068.04 L122.95 1078.72 L123 1078.95 L123.5 1081.11 L124 1082.83 L124.5 1084.2 L125 1085.3 L125.5 1086.17 L126 1086.87 L126.5 1087.42 L127 1087.87 L127.5 1088.22 L128 1088.51 L128.5 1088.74 L129 1088.92 L129.5 1089.07 L130 1089.19 L130.5 1089.28 L131 1089.36 L131.5 1089.42 L132 1089.47 L132.5 1089.52 L133 1089.55 L133.5 1089.58 L134 1089.6 L134.5 1089.62 L135 1089.64 L135.5 1089.66 L136 1089.67 L136.5 1089.68 L137 1089.69 L137.5 1089.7 L138 1089.71 L138.5 1089.72 L139 1089.73 L139.5 1089.74 L140 1089.75 L140.5 1089.75 L141 1089.76 L141.5 1089.77 L142 1089.77 L142.5 1089.78 L143 1089.79 L143.5 1089.79 L144 1089.8 L144.5 1089.81 L145 1089.81 L145.5 1089.82 L146 1089.82 L146.5 1089.83 L147 1089.84 L147.5 1089.84 L148 1089.85 L148.5 1089.86 L149 1089.86 L149.5 1089.87 L150 1089.87 L150.5 1089.88 L151 1089.89 L151.5 1089.89 L152 1089.9 L152.5 1089.91 L153 1089.91 L153.5 1089.92 L154 1089.92 L154.5 1089.93 L155 1089.94 L155.5 1089.94 L156 1089.95 L156.5 1089.96 L157 1089.96 L157.5 1089.97 L157.94 1089.97 L158 1087.62 L158.5 1069.47 L159 1051.33 L159.5 1033.18 L159.94 1017.4 L160 1018.94 L160.5 1030.82 L161 1042.69 L161.5 1054.56 L162 1066.44 L162.5 1078.31 L162.53 1079.14 L163 1081.22 L163.5 1083.02 L164 1084.45 L164.5 1085.6 L165 1086.51 L165.5 1087.24 L166 1087.82 L166.5 1088.29 L167 1088.66 L167.5 1088.95 L168 1089.19 L168.5 1089.38 L169 1089.54 L169.5 1089.66 L170 1089.76 L170.5 1089.84 L171 1089.91 L171.5 1089.96 L172 1090 L172.5 1090.04 L173 1090.07 L173.5 1090.09 L174 1090.12 L174.5 1090.13 L175 1090.15 L175.5 1090.16 L176 1090.18 L176.5 1090.19 L177 1090.2 L177.5 1090.21 L178 1090.22 L178.5 1090.22 L179 1090.23 L179.5 1090.24 L180 1090.25 L180.5 1090.25 L181 1090.26 L181.5 1090.27 L182 1090.27 L182.5 1090.28 L183 1090.29 L183.5 1090.29 L184 1090.3 L184.5 1090.31 L185 1090.31 L185.5 1090.32 L186 1090.32 L186.5 1090.33 L187 1090.34 L187.5 1090.34 L188 1090.35 L188.5 1090.36 L189 1090.36 L189.5 1090.37 L190 1090.38 L190.5 1090.38 L191 1090.39 L191.5 1090.39 L192 1090.4 L192.5 1090.41 L193 1090.41 L193.5 1090.42 L194 1090.42 L194.5 1090.43 L195 1090.44 L195.5 1090.44 L196 1090.45 L196.5 1090.46 L197 1090.46 L197.5 1090.47 L197.52 1090.47 L198 1055.82 L198.5 1019.95 L199 984.09 L199.5 948.22 L199.52 947 L200 969.66 L200.5 993.13 L201 1016.59 L201.5 1040.05 L202 1063.51 L202.12 1069 L202.5 1072.45 L203 1076.13 L203.5 1079.06 L204 1081.4 L204.5 1083.27 L205 1084.76 L205.5 1085.94 L206 1086.89 L206.5 1087.65 L207 1088.25 L207.5 1088.73 L208 1089.12 L208.5 1089.42 L209 1089.67 L209.5 1089.87 L210 1090.03 L210.5 1090.15 L211 1090.26 L211.5 1090.34 L212 1090.41 L212.5 1090.46 L213 1090.51 L213.5 1090.55 L214 1090.58 L214.5 1090.6 L215 1090.63 L215.5 1090.64 L216 1090.66 L216.5 1090.68 L217 1090.69 L217.31 1090.69 L217.5 1082.11 L218 1059.76 L218.5 1037.41 L219 1015.06 L219.31 1001.29 L219.5 1006.91 L220 1021.54 L220.5 1036.16 L221 1050.79 L221.5 1065.42 L221.91 1077.35 L222 1077.91 L222.5 1080.53 L223 1082.62 L223.5 1084.29 L224 1085.62 L224.5 1086.68 L225 1087.52 L225.5 1088.2 L226 1088.74 L226.5 1089.17 L227 1089.51 L227.5 1089.79 L228 1090.01 L228.5 1090.19 L229 1090.33 L229.5 1090.44 L230 1090.54 L230.5 1090.61 L231 1090.67 L231.5 1090.72 L232 1090.76 L232.5 1090.8 L233 1090.83 L233.5 1090.85 L234 1090.87 L234.5 1090.89 L235 1090.9 L235.5 1090.92 L236 1090.93 L236.5 1090.94 L237 1090.95 L237.5 1090.96 L238 1090.97 L238.5 1090.97 L239 1090.98 L239.5 1090.99 L240 1091 L240.5 1091 L241 1091.01 L241.5 1091.02 L242 1091.02 L242.5 1091.03 L243 1091.04 L243.5 1091.04 L244 1091.05 L244.5 1091.06 L245 1091.06 L245.5 1091.07 L246 1091.07 L246.5 1091.08 L247 1091.09 L247.5 1091.09 L248 1091.1 L248.5 1091.11 L249 1091.11 L249.5 1091.12 L250 1091.12 L250.5 1091.13 L251 1091.14 L251.5 1091.14 L252 1091.15 L252.5 1091.16 L253 1091.16 L253.5 1091.17 L254 1091.17 L254.5 1091.18 L255 1091.19 L255.5 1091.19 L256 1091.2 L256.5 1091.21 L256.89 1091.21 L257 1087.07 L257.5 1068.27 L258 1049.47 L258.5 1030.67 L258.89 1016 L259 1018.71 L259.5 1031.01 L260 1043.32 L260.5 1055.62 L261 1067.92 L261.49 1079.98 L261.5 1080.03 L262 1082.32 L262.5 1084.15 L263 1085.61 L263.5 1086.77 L264 1087.69 L264.5 1088.43 L265 1089.02 L265.5 1089.5 L266 1089.87 L266.5 1090.17 L267 1090.42 L267.5 1090.61 L268 1090.76 L268.5 1090.89 L269 1090.99 L269.5 1091.07 L270 1091.14 L270.5 1091.19 L271 1091.24 L271.5 1091.27 L272 1091.3 L272.5 1091.33 L273 1091.35 L273.5 1091.37 L274 1091.39 L274.5 1091.4 L275 1091.41 L275.5 1091.42 L276 1091.43 L276.5 1091.44 L276.68 1091.45 L277 1077.91 L277.5 1056.7 L278 1035.49 L278.5 1014.27 L278.68 1006.6 L279 1015.45 L279.5 1029.33 L280 1043.22 L280.5 1057.1 L281 1070.98 L281.28 1078.78 L281.5 1079.99 L282 1082.34 L282.5 1084.21 L283 1085.71 L283.5 1086.9 L284 1087.85 L284.5 1088.61 L285 1089.21 L285.5 1089.7 L286 1090.08 L286.5 1090.39 L287 1090.64 L287.5 1090.84 L288 1091 L288.5 1091.13 L289 1091.23 L289.5 1091.32 L290 1091.38 L290.5 1091.44 L291 1091.48 L291.5 1091.52 L292 1091.55 L292.5 1091.58 L293 1091.6 L293.5 1091.62 L294 1091.64 L294.5 1091.65 L295 1091.66 L295.5 1091.67 L296 1091.68 L296.47 1091.69 L296.5 1090.68 L297 1072.5 L297.5 1054.33 L298 1036.15 L298.47 1018.99 L298.5 1019.66 L299 1031.56 L299.5 1043.45 L300 1055.35 L300.5 1067.24 L301 1079.14 L301.07 1080.85 L301.5 1082.79 L302 1084.62 L302.5 1086.08 L303 1087.25 L303.5 1088.17 L304 1088.92 L304.5 1089.51 L305 1089.98 L305.5 1090.36 L306 1090.66 L306.5 1090.91 L307 1091.1 L307.5 1091.26 L308 1091.38 L308.5 1091.48 L309 1091.57 L309.5 1091.63 L310 1091.69 L310.5 1091.73 L311 1091.77 L311.5 1091.8 L312 1091.82 L312.5 1091.85 L313 1091.86 L313.5 1091.88 L314 1091.89 L314.5 1091.91 L315 1091.92 L315.5 1091.93 L316 1091.94 L316.26 1091.94 L316.5 1081.83 L317 1060.49 L317.5 1039.16 L318 1017.82 L318.26 1006.6 L318.5 1013.21 L319 1027.18 L319.5 1041.14 L320 1055.1 L320.5 1069.07 L320.86 1079.2 L321 1079.98 L321.5 1082.43 L322 1084.39 L322.5 1085.95 L323 1087.19 L323.5 1088.18 L324 1088.97 L324.5 1089.6 L325 1090.11 L325.5 1090.51 L326 1090.84 L326.5 1091.09 L327 1091.3 L327.5 1091.47 L328 1091.6 L328.5 1091.71 L329 1091.8 L329.5 1091.87 L330 1091.92 L330.5 1091.97 L331 1092.01 L331.5 1092.04 L332 1092.07 L332.5 1092.09 L333 1092.11 L333.5 1092.13 L334 1092.14 L334.5 1092.16 L335 1092.17 L335.5 1092.18 L336 1092.19 L336.05 1092.19 L336.5 1027.85 L337 955.73 L337.5 883.61 L338 811.48 L338.05 803.69 L338.5 845.77 L339 892.94 L339.5 940.11 L340 987.28 L340.5 1034.45 L340.65 1048.98 L341 1055.28 L341.5 1062.81 L342 1068.8 L342.5 1073.58 L343 1077.39 L343.5 1080.42 L344 1082.84 L344.5 1084.77 L345 1086.31 L345.5 1087.54 L346 1088.51 L346.5 1089.3 L347 1089.92 L347.5 1090.42 L348 1090.81 L348.5 1091.13 L349 1091.39 L349.5 1091.59 L350 1091.76 L350.5 1091.89 L351 1091.99 L351.5 1092.08 L352 1092.15 L352.5 1092.21 L353 1092.25 L353.5 1092.29 L354 1092.32 L354.5 1092.35 L355 1092.37 L355.5 1092.39 L356 1092.41 L356.5 1092.42 L357 1092.44 L357.5 1092.45 L358 1092.46 L358.5 1092.47 L359 1092.48 L359.5 1092.49 L360 1092.49 L360.5 1092.5 L361 1092.51 L361.5 1092.52 L362 1092.52 L362.5 1092.53 L363 1092.54 L363.5 1092.54 L364 1092.55 L364.5 1092.56 L365 1092.56 L365.5 1092.57 L366 1092.57 L366.5 1092.58 L367 1092.59 L367.5 1092.59 L368 1092.6 L368.5 1092.61 L369 1092.61 L369.5 1092.62 L370 1092.62 L370.5 1092.63 L371 1092.64 L371.5 1092.64 L372 1092.65 L372.5 1092.66 L373 1092.66 L373.5 1092.67 L374 1092.67 L374.5 1092.68 L375 1092.69 L375.5 1092.69 L375.64 1092.7 L376 1091.66 L376.5 1090.24 L377 1088.81 L377.5 1087.39 L377.64 1087 L378 1087.69 L378.5 1088.63 L379 1089.57 L379.5 1090.51 L380 1091.45 L380.24 1091.89 L380.5 1092 L381 1092.16 L381.5 1092.29 L382 1092.39 L382.5 1092.47 L383 1092.54 L383.5 1092.6 L384 1092.64 L384.5 1092.68 L385 1092.71 L385.5 1092.74 L386 1092.76 L386.5 1092.78 L387 1092.8 L387.5 1092.81 L388 1092.82 L388.5 1092.84 L389 1092.85 L389.5 1092.86 L390 1092.86 L390.5 1092.87 L391 1092.88 L391.5 1092.89 L392 1092.9 L392.5 1092.9 L393 1092.91 L393.5 1092.92 L394 1092.92 L394.5 1092.93 L395 1092.94 L395.43 1092.94 L395.5 1089.28 L396 1064.17 L396.5 1039.05 L397 1013.94 L397.43 992.5 L397.5 994.9 L398 1011.33 L398.5 1027.76 L399 1044.19 L399.5 1060.61 L400 1077.04 L400.03 1077.93 L400.5 1080.85 L401 1083.33 L401.5 1085.31 L402 1086.89 L402.5 1088.14 L403 1089.15 L403.5 1089.95 L404 1090.59 L404.5 1091.1 L405 1091.51 L405.5 1091.84 L406 1092.1 L406.5 1092.31 L407 1092.48 L407.5 1092.62 L408 1092.73 L408.5 1092.82 L409 1092.89 L409.5 1092.96 L410 1093 L410.5 1093.05 L411 1093.08 L411.5 1093.11 L412 1093.13 L412.5 1093.16 L413 1093.18 L413.5 1093.19 L414 1093.21 L414.5 1093.22 L415 1093.23 L415.22 1093.24 L415.5 1074.9 L416 1042.39 L416.5 1009.88 L417 977.37 L417.22 963.19 L417.5 975.19 L418 996.47 L418.5 1017.74 L419 1039.01 L419.5 1060.29 L419.82 1073.82 L420 1075.37 L420.5 1079.03 L421 1081.95 L421.5 1084.27 L422 1086.13 L422.5 1087.61 L423 1088.79 L423.5 1089.73 L424 1090.48 L424.5 1091.09 L425 1091.57 L425.5 1091.95 L426 1092.26 L426.5 1092.51 L427 1092.7 L427.5 1092.86 L428 1092.99 L428.5 1093.1 L429 1093.18 L429.5 1093.25 L430 1093.31 L430.5 1093.36 L431 1093.4 L431.5 1093.43 L432 1093.46 L432.5 1093.48 L433 1093.5 L433.5 1093.52 L434 1093.54 L434.5 1093.55 L435 1093.56 L435.01 1093.56 L435.5 1069.12 L436 1044.23 L436.5 1019.33 L437 994.44 L437.01 993.99 L437.5 1009.99 L438 1026.29 L438.5 1042.58 L439 1058.87 L439.5 1075.16 L439.61 1078.72 L440 1081.16 L440.5 1083.71 L441 1085.74 L441.5 1087.36 L442 1088.66 L442.5 1089.69 L443 1090.52 L443.5 1091.18 L444 1091.7 L444.5 1092.12 L445 1092.46 L445.5 1092.73 L446 1092.95 L446.5 1093.12 L447 1093.26 L447.5 1093.38 L448 1093.47 L448.5 1093.55 L449 1093.61 L449.5 1093.66 L450 1093.7 L450.5 1093.74 L451 1093.77 L451.5 1093.79 L452 1093.81 L452.5 1093.83 L453 1093.85 L453.5 1093.86 L454 1093.88 L454.5 1093.89 L454.8 1093.9 L455 1084.21 L455.5 1059.98 L456 1035.76 L456.5 1011.53 L456.8 996.99 L457 1003.34 L457.5 1019.19 L458 1035.05 L458.5 1050.91 L459 1066.76 L459.4 1079.45 L459.5 1080.09 L460 1082.93 L460.5 1085.19 L461 1086.99 L461.5 1088.43 L462 1089.57 L462.5 1090.49 L463 1091.22 L463.5 1091.8 L464 1092.27 L464.5 1092.64 L465 1092.94 L465.5 1093.18 L466 1093.38 L466.5 1093.53 L467 1093.66 L467.5 1093.76 L468 1093.84 L468.5 1093.91 L469 1093.96 L469.5 1094.01 L470 1094.05 L470.5 1094.08 L471 1094.11 L471.5 1094.13 L472 1094.15 L472.5 1094.17 L473 1094.19 L473.5 1094.2 L474 1094.21 L474.5 1094.23 L474.59 1094.23 L475 1080.6 L475.5 1063.94 L476 1047.29 L476.5 1030.63 L476.59 1027.59 L477 1036.52 L477.5 1047.43 L478 1058.33 L478.5 1069.24 L479 1080.15 L479.19 1084.32 L479.5 1085.63 L480 1087.41 L480.5 1088.82 L481 1089.95 L481.5 1090.86 L482 1091.58 L482.5 1092.15 L483 1092.61 L483.5 1092.98 L484 1093.28 L484.5 1093.51 L485 1093.7 L485.5 1093.86 L486 1093.98 L486.5 1094.08 L487 1094.16 L487.5 1094.23 L488 1094.28 L488.5 1094.33 L489 1094.37 L489.5 1094.4 L490 1094.43 L490.5 1094.45 L491 1094.47 L491.5 1094.49 L492 1094.5 L492.5 1094.52 L493 1094.53 L493.5 1094.54 L494 1094.55 L494.38 1094.56 L494.5 1090.72 L495 1074.46 L495.5 1058.19 L496 1041.92 L496.38 1029.5 L496.5 1032.01 L497 1042.66 L497.5 1053.31 L498 1063.96 L498.5 1074.61 L498.98 1084.88 L499 1084.96 L499.5 1086.94 L500 1088.52 L500.5 1089.78 L501 1090.78 L501.5 1091.58 L502 1092.22 L502.5 1092.73 L503 1093.14 L503.5 1093.47 L504 1093.74 L504.5 1093.95 L505 1094.12 L505.5 1094.25 L506 1094.36 L506.5 1094.45 L507 1094.53 L507.5 1094.59 L508 1094.64 L508.5 1094.68 L509 1094.71 L509.5 1094.74 L510 1094.77 L510.5 1094.79 L511 1094.81 L511.5 1094.83 L512 1094.84 L512.5 1094.85 L513 1094.87 L513.5 1094.88 L514 1094.89 L514.17 1094.89 L514.5 1084.41 L515 1068.39 L515.5 1052.37 L516 1036.34 L516.17 1030.8 L516.5 1037.66 L517 1048.15 L517.5 1058.64 L518 1069.14 L518.5 1079.63 L518.77 1085.36 L519 1086.3 L519.5 1088.08 L520 1089.49 L520.5 1090.62 L521 1091.52 L521.5 1092.24 L522 1092.81 L522.5 1093.27 L523 1093.64 L523.5 1093.94 L524 1094.17 L524.5 1094.36 L525 1094.52 L525.5 1094.64 L526 1094.74 L526.5 1094.82 L527 1094.89 L527.5 1094.94 L528 1094.99 L528.5 1095.03 L529 1095.06 L529.5 1095.08 L530 1095.11 L530.5 1095.13 L531 1095.15 L531.5 1095.16 L532 1095.18 L532.5 1095.19 L533 1095.2 L533.5 1095.21 L533.96 1095.22 L534 1092.92 L534.5 1060.97 L535 1029.01 L535.5 997.05 L535.96 967.4 L536 968.9 L536.5 989.81 L537 1010.72 L537.5 1031.63 L538 1052.54 L538.5 1073.45 L538.56 1076.13 L539 1079.58 L539.5 1082.79 L540 1085.35 L540.5 1087.39 L541 1089.01 L541.5 1090.31 L542 1091.34 L542.5 1092.17 L543 1092.83 L543.5 1093.36 L544 1093.78 L544.5 1094.12 L545 1094.39 L545.5 1094.61 L546 1094.78 L546.5 1094.92 L547 1095.04 L547.5 1095.13 L548 1095.2 L548.5 1095.27 L549 1095.32 L549.5 1095.36 L550 1095.39 L550.5 1095.42 L551 1095.45 L551.5 1095.47 L552 1095.49 L552.5 1095.51 L553 1095.52 L553.5 1095.54 L553.75 1095.54 L554 1087.87 L554.5 1072.21 L555 1056.54 L555.5 1040.88 L555.75 1032.89 L556 1037.92 L556.5 1048.18 L557 1058.43 L557.5 1068.69 L558 1078.95 L558.36 1086.23 L558.5 1086.83 L559 1088.63 L559.5 1090.07 L560 1091.21 L560.5 1092.13 L561 1092.86 L561.5 1093.44 L562 1093.91 L562.5 1094.28 L563 1094.58 L563.5 1094.82 L564 1095.01 L564.5 1095.17 L565 1095.29 L565.5 1095.39 L566 1095.48 L566.5 1095.54 L567 1095.6 L567.5 1095.64 L568 1095.68 L568.5 1095.71 L569 1095.74 L569.5 1095.77 L570 1095.79 L570.5 1095.8 L571 1095.82 L571.5 1095.83 L572 1095.85 L572.5 1095.86 L573 1095.87 L573.5 1095.88 L573.55 1095.88 L574 1071.57 L574.5 1044.8 L575 1018.03 L575.5 991.26 L575.55 988.8 L576 1004.7 L576.5 1022.22 L577 1039.74 L577.5 1057.26 L578 1074.78 L578.15 1079.9 L578.5 1082.29 L579 1085.08 L579.5 1087.31 L580 1089.08 L580.5 1090.5 L581 1091.63 L581.5 1092.53 L582 1093.25 L582.5 1093.82 L583 1094.28 L583.5 1094.65 L584 1094.94 L584.5 1095.18 L585 1095.37 L585.5 1095.52 L586 1095.65 L586.5 1095.75 L587 1095.83 L587.5 1095.9 L588 1095.95 L588.5 1096 L589 1096.03 L589.5 1096.07 L590 1096.09 L590.5 1096.12 L591 1096.14 L591.5 1096.15 L592 1096.17 L592.5 1096.18 L593 1096.2 L593.34 1096.21 L593.5 1084.84 L594 1049.99 L594.5 1015.14 L595 980.29 L595.34 956.79 L595.5 964.23 L596 987.03 L596.5 1009.84 L597 1032.64 L597.5 1055.45 L597.94 1075.38 L598 1075.97 L598.5 1080.11 L599 1083.41 L599.5 1086.04 L600 1088.14 L600.5 1089.82 L601 1091.15 L601.5 1092.22 L602 1093.07 L602.5 1093.75 L603 1094.29 L603.5 1094.72 L604 1095.07 L604.5 1095.35 L605 1095.57 L605.5 1095.75 L606 1095.9 L606.5 1096.01 L607 1096.11 L607.5 1096.19 L608 1096.25 L608.5 1096.3 L609 1096.35 L609.5 1096.38 L610 1096.41 L610.5 1096.44 L611 1096.46 L611.5 1096.48 L612 1096.5 L612.5 1096.51 L613 1096.53 L613.13 1096.53 L613.5 1075.04 L614 1046.16 L614.5 1017.27 L615 988.39 L615.13 980.99 L615.5 995.06 L616 1013.96 L616.5 1032.86 L617 1051.77 L617.5 1070.67 L617.73 1079.29 L618 1081.31 L618.5 1084.43 L619 1086.92 L619.5 1088.91 L620 1090.49 L620.5 1091.76 L621 1092.76 L621.5 1093.57 L622 1094.21 L622.5 1094.73 L623 1095.14 L623.5 1095.47 L624 1095.73 L624.5 1095.94 L625 1096.11 L625.5 1096.25 L626 1096.36 L626.5 1096.45 L627 1096.53 L627.5 1096.59 L628 1096.64 L628.5 1096.68 L629 1096.71 L629.5 1096.74 L630 1096.77 L630.5 1096.79 L631 1096.81 L631.5 1096.83 L632 1096.84 L632.5 1096.85 L632.92 1096.86 L633 1094.33 L633.5 1078.72 L634 1063.1 L634.5 1047.48 L634.92 1034.39 L635 1036.05 L635.5 1046.28 L636 1056.51 L636.5 1066.73 L637 1076.96 L637.5 1087.19 L637.52 1087.58 L638 1089.43 L638.5 1090.97 L639 1092.2 L639.5 1093.18 L640 1093.96 L640.5 1094.59 L641 1095.09 L641.5 1095.49 L642 1095.81 L642.5 1096.07 L643 1096.27 L643.5 1096.44 L644 1096.57 L644.5 1096.68 L645 1096.77 L645.5 1096.84 L646 1096.9 L646.5 1096.95 L647 1096.99 L647.5 1097.02 L648 1097.05 L648.5 1097.08 L649 1097.1 L649.5 1097.12 L650 1097.13 L650.5 1097.15 L651 1097.16 L651.5 1097.18 L652 1097.19 L652.5 1097.2 L652.71 1097.2 L653 1081.37 L653.5 1054.07 L654 1026.76 L654.5 999.46 L654.71 988 L655 998.36 L655.5 1016.23 L656 1034.09 L656.5 1051.96 L657 1069.82 L657.31 1080.9 L657.5 1082.26 L658 1085.32 L658.5 1087.77 L659 1089.72 L659.5 1091.27 L660 1092.51 L660.5 1093.5 L661 1094.29 L661.5 1094.92 L662 1095.42 L662.5 1095.83 L663 1096.15 L663.5 1096.41 L664 1096.62 L664.5 1096.78 L665 1096.92 L665.5 1097.03 L666 1097.12 L666.5 1097.19 L667 1097.25 L667.5 1097.3 L668 1097.34 L668.5 1097.37 L669 1097.4 L669.5 1097.43 L670 1097.45 L670.5 1097.47 L671 1097.48 L671.5 1097.5 L672 1097.51 L672.5 1097.53 L672.5 1097.53 L673 1053.31 L673.5 1009 L674 964.69 L674.5 920.38 L674.5 920.29 L675 949.22 L675.5 978.21 L676 1007.2 L676.5 1036.18 L677 1065.17 L677.1 1071.03 L677.5 1075.44 L678 1079.96 L678.5 1083.56 L679 1086.43 L679.5 1088.72 L680 1090.55 L680.5 1092 L681 1093.16 L681.5 1094.09 L682 1094.83 L682.5 1095.42 L683 1095.9 L683.5 1096.27 L684 1096.58 L684.5 1096.82 L685 1097.02 L685.5 1097.17 L686 1097.3 L686.5 1097.4 L687 1097.49 L687.5 1097.56 L688 1097.61 L688.5 1097.66 L689 1097.7 L689.5 1097.73 L690 1097.76 L690.5 1097.78 L691 1097.8 L691.5 1097.82 L692 1097.84 L692.29 1097.84 L692.5 1078.27 L693 1031.2 L693.5 984.14 L694 937.08 L694.29 909.59 L694.5 922.4 L695 953.19 L695.5 983.98 L696 1014.77 L696.5 1045.56 L696.89 1069.7 L697 1071.05 L697.5 1076.53 L698 1080.89 L698.5 1084.37 L699 1087.15 L699.5 1089.36 L700 1091.12 L700.5 1092.53 L701 1093.65 L701.5 1094.55 L702 1095.27 L702.5 1095.84 L703 1096.3 L703.5 1096.66 L704 1096.96 L704.5 1097.19 L705 1097.38 L705.5 1097.54 L706 1097.66 L706.5 1097.76 L707 1097.84 L707.5 1097.91 L708 1097.97 L708.5 1098.01 L709 1098.05 L709.5 1098.08 L710 1098.11 L710.5 1098.13 L711 1098.16 L711.5 1098.17 L712 1098.19 L712.08 1098.19 L712.5 1079.05 L713 1056.1 L713.5 1033.15 L714 1010.2 L714.08 1006.39 L714.5 1018.92 L715 1033.95 L715.5 1048.97 L716 1064 L716.5 1079.02 L716.68 1084.52 L717 1086.38 L717.5 1088.81 L718 1090.76 L718.5 1092.31 L719 1093.54 L719.5 1094.53 L720 1095.32 L720.5 1095.95 L721 1096.45 L721.5 1096.85 L722 1097.17 L722.5 1097.43 L723 1097.64 L723.5 1097.81 L724 1097.95 L724.5 1098.06 L725 1098.14 L725.5 1098.22 L726 1098.28 L726.5 1098.33 L727 1098.37 L727.5 1098.4 L728 1098.43 L728.5 1098.46 L729 1098.48 L729.5 1098.5 L730 1098.52 L730.5 1098.53 L731 1098.55 L731.5 1098.56 L731.87 1098.57 L732 1092.24 L732.5 1067.09 L733 1041.95 L733.5 1016.8 L733.87 997.99 L734 1002.14 L734.5 1018.6 L735 1035.06 L735.5 1051.52 L736 1067.97 L736.47 1083.57 L736.5 1083.75 L737 1086.79 L737.5 1089.22 L738 1091.15 L738.5 1092.7 L739 1093.93 L739.5 1094.91 L740 1095.69 L740.5 1096.32 L741 1096.82 L741.5 1097.22 L742 1097.55 L742.5 1097.8 L743 1098.01 L743.5 1098.18 L744 1098.31 L744.5 1098.42 L745 1098.51 L745.5 1098.59 L746 1098.65 L746.5 1098.7 L747 1098.74 L747.5 1098.77 L748 1098.8 L748.5 1098.83 L749 1098.85 L749.5 1098.87 L750 1098.89 L750.5 1098.9 L751 1098.92 L751.5 1098.93 L751.66 1098.93 L752 1082.61 L752.5 1058.25 L753 1033.89 L753.5 1009.53 L753.66 1001.49 L754 1012.18 L754.5 1028.12 L755 1044.07 L755.5 1060.01 L756 1075.96 L756.26 1084.41 L756.5 1085.89 L757 1088.58 L757.5 1090.71 L758 1092.42 L758.5 1093.78 L759 1094.86 L759.5 1095.73 L760 1096.42 L760.5 1096.98 L761 1097.42 L761.5 1097.77 L762 1098.06 L762.5 1098.29 L763 1098.47 L763.5 1098.62 L764 1098.74 L764.5 1098.84 L765 1098.92 L765.5 1098.98 L766 1099.04 L766.5 1099.08 L767 1099.12 L767.5 1099.15 L768 1099.18 L768.5 1099.2 L769 1099.22 L769.5 1099.24 L770 1099.26 L770.5 1099.27 L771 1099.28 L771.46 1099.3 L771.5 1096.66 L772 1066.74 L772.5 1036.81 L773 1006.89 L773.46 979.59 L773.5 981.32 L774 1000.9 L774.5 1020.49 L775 1040.07 L775.5 1059.65 L776 1079.24 L776.06 1081.43 L776.5 1084.72 L777 1087.72 L777.5 1090.1 L778 1092.01 L778.5 1093.53 L779 1094.74 L779.5 1095.7 L780 1096.48 L780.5 1097.09 L781 1097.59 L781.5 1097.98 L782 1098.3 L782.5 1098.55 L783 1098.76 L783.5 1098.92 L784 1099.06 L784.5 1099.16 L785 1099.25 L785.5 1099.32 L786 1099.38 L786.5 1099.43 L787 1099.47 L787.5 1099.51 L788 1099.54 L788.5 1099.56 L789 1099.58 L789.5 1099.6 L790 1099.62 L790.5 1099.64 L791 1099.65 L791.25 1099.66 L791.5 1080.04 L792 1041.28 L792.5 1002.51 L793 963.74 L793.25 944.59 L793.5 957.43 L794 982.79 L794.5 1008.16 L795 1033.52 L795.5 1058.89 L795.85 1076.49 L796 1078.06 L796.5 1082.48 L797 1086 L797.5 1088.81 L798 1091.05 L798.5 1092.84 L799 1094.27 L799.5 1095.4 L800 1096.31 L800.5 1097.04 L801 1097.62 L801.5 1098.08 L802 1098.45 L802.5 1098.75 L803 1098.99 L803.5 1099.18 L804 1099.34 L804.5 1099.46 L805 1099.56 L805.5 1099.65 L806 1099.71 L806.5 1099.77 L807 1099.82 L807.5 1099.86 L808 1099.89 L808.5 1099.92 L809 1099.94 L809.5 1099.96 L810 1099.98 L810.5 1100 L811 1100.01 L811.04 1100.01 L811.5 1053.93 L812 1004.05 L812.5 954.16 L813 904.28 L813.04 900.49 L813.5 930.64 L814 963.28 L814.5 995.91 L815 1028.54 L815.5 1061.18 L815.64 1070.18 L816 1074.73 L816.5 1079.9 L817 1084.03 L817.5 1087.31 L818 1089.93 L818.5 1092.02 L819 1093.69 L819.5 1095.02 L820 1096.08 L820.5 1096.93 L821 1097.6 L821.5 1098.15 L822 1098.58 L822.5 1098.92 L823 1099.2 L823.5 1099.43 L824 1099.61 L824.5 1099.75 L825 1099.87 L825.5 1099.96 L826 1100.04 L826.5 1100.11 L827 1100.16 L827.5 1100.2 L828 1100.24 L828.5 1100.27 L829 1100.3 L829.5 1100.32 L830 1100.34 L830.5 1100.36 L830.83 1100.37 L831 1099.83 L831.5 1098.23 L832 1096.64 L832.5 1095.04 L832.83 1093.99 L833 1094.35 L833.5 1095.42 L834 1096.48 L834.5 1097.54 L835 1098.6 L835.43 1099.52 L835.5 1099.55 L836 1099.75 L836.5 1099.91 L837 1100.04 L837.5 1100.15 L838 1100.23 L838.5 1100.3 L839 1100.36 L839.5 1100.41 L840 1100.45 L840.5 1100.48 L841 1100.51 L841.5 1100.54 L842 1100.56 L842.5 1100.58 L843 1100.59 L843.5 1100.61 L844 1100.62 L844.5 1100.64 L845 1100.65 L845.5 1100.66 L846 1100.67 L846.5 1100.68 L847 1100.69 L847.5 1100.7 L848 1100.71 L848.5 1100.72 L849 1100.73 L849.5 1100.74 L850 1100.75 L850.5 1100.76 L850.62 1100.76 L851 1082.66 L851.5 1058.85 L852 1035.03 L852.5 1011.22 L852.62 1005.5 L853 1017.35 L853.5 1032.93 L854 1048.52 L854.5 1064.11 L855 1079.69 L855.22 1086.55 L855.5 1088.27 L856 1090.83 L856.5 1092.88 L857 1094.52 L857.5 1095.82 L858 1096.86 L858.5 1097.69 L859 1098.35 L859.5 1098.88 L860 1099.31 L860.5 1099.65 L861 1099.92 L861.5 1100.14 L862 1100.32 L862.5 1100.46 L863 1100.58 L863.5 1100.67 L864 1100.75 L864.5 1100.81 L865 1100.86 L865.5 1100.9 L866 1100.94 L866.5 1100.97 L867 1101 L867.5 1101.02 L868 1101.04 L868.5 1101.06 L869 1101.07 L869.5 1101.09 L870 1101.1 L870.41 1101.11 L870.5 1097.44 L871 1076.81 L871.5 1056.18 L872 1035.55 L872.41 1018.59 L872.5 1021 L873 1034.5 L873.5 1048.01 L874 1061.52 L874.5 1075.02 L875 1088.53 L875.01 1088.83 L875.5 1091.3 L876 1093.33 L876.5 1094.94 L877 1096.23 L877.5 1097.26 L878 1098.08 L878.5 1098.74 L879 1099.26 L879.5 1099.68 L880 1100.02 L880.5 1100.29 L881 1100.51 L881.5 1100.68 L882 1100.82 L882.5 1100.94 L883 1101.03 L883.5 1101.11 L884 1101.17 L884.5 1101.22 L885 1101.26 L885.5 1101.3 L886 1101.33 L886.5 1101.36 L887 1101.38 L887.5 1101.4 L888 1101.42 L888.5 1101.43 L889 1101.45 L889.5 1101.46 L890 1101.47 L890.2 1101.48 L890.5 1086.95 L891 1062.58 L891.5 1038.21 L892 1013.84 L892.2 1003.99 L892.5 1013.5 L893 1029.45 L893.5 1045.41 L894 1061.36 L894.5 1077.31 L894.8 1086.94 L895 1088.21 L895.5 1090.93 L896 1093.11 L896.5 1094.84 L897 1096.23 L897.5 1097.33 L898 1098.21 L898.5 1098.92 L899 1099.48 L899.5 1099.93 L900 1100.29 L900.5 1100.58 L901 1100.81 L901.5 1101 L902 1101.15 L902.5 1101.27 L903 1101.37 L903.5 1101.45 L904 1101.52 L904.5 1101.57 L905 1101.62 L905.5 1101.66 L906 1101.69 L906.5 1101.72 L907 1101.74 L907.5 1101.76 L908 1101.78 L908.5 1101.8 L909 1101.81 L909.5 1101.83 L909.99 1101.84 L910 1101.61 L910.5 1085.15 L911 1068.69 L911.5 1052.23 L911.99 1035.99 L912 1036.15 L912.5 1046.93 L913 1057.71 L913.5 1068.49 L914 1079.27 L914.5 1090.05 L914.59 1092.05 L915 1093.73 L915.5 1095.41 L916 1096.75 L916.5 1097.82 L917 1098.67 L917.5 1099.35 L918 1099.9 L918.5 1100.34 L919 1100.69 L919.5 1100.97 L920 1101.19 L920.5 1101.37 L921 1101.52 L921.5 1101.64 L922 1101.73 L922.5 1101.81 L923 1101.88 L923.5 1101.93 L924 1101.97 L924.5 1102.01 L925 1102.04 L925.5 1102.07 L926 1102.09 L926.5 1102.11 L927 1102.13 L927.5 1102.15 L928 1102.16 L928.5 1102.18 L929 1102.19 L929.5 1102.2 L929.78 1102.21 L930 1091.2 L930.5 1065.72 L931 1040.25 L931.5 1014.77 L931.78 1000.3 L932 1007.5 L932.5 1024.18 L933 1040.85 L933.5 1057.53 L934 1074.2 L934.38 1087.01 L934.5 1087.79 L935 1090.75 L935.5 1093.11 L936 1094.99 L936.5 1096.49 L937 1097.69 L937.5 1098.65 L938 1099.41 L938.5 1100.02 L939 1100.51 L939.5 1100.9 L940 1101.21 L940.5 1101.46 L941 1101.67 L941.5 1101.83 L942 1101.96 L942.5 1102.07 L943 1102.16 L943.5 1102.23 L944 1102.28 L944.5 1102.33 L945 1102.37 L945.5 1102.41 L946 1102.44 L946.5 1102.46 L947 1102.48 L947.5 1102.5 L948 1102.52 L948.5 1102.54 L949 1102.55 L949.5 1102.56 L949.58 1102.56 L950 1101.81 L950.5 1100.91 L951 1100.02 L951.5 1099.13 L951.58 1098.99 L952 1099.51 L952.5 1100.11 L953 1100.71 L953.5 1101.31 L954 1101.91 L954.17 1102.12 L954.5 1102.2 L955 1102.31 L955.5 1102.39 L956 1102.46 L956.5 1102.52 L957 1102.57 L957.5 1102.61 L958 1102.64 L958.5 1102.67 L959 1102.69 L959.5 1102.71 L960 1102.73 L960.5 1102.75 L961 1102.77 L961.5 1102.78 L962 1102.79 L962.5 1102.81 L963 1102.82 L963.5 1102.83 L964 1102.84 L964.5 1102.85 L965 1102.86 L965.5 1102.87 L966 1102.88 L966.5 1102.89 L967 1102.9" fill="none" stroke="#7068b8" stroke-width="2.3" stroke-linejoin="round"/>
</g>
<path d="M982 743.5 H6.8 V1153 H982" fill="none" stroke="#1f1b1c" stroke-width="2.8"/>
<line x1="982" y1="743.5" x2="982" y2="1153" stroke="#b9b3b3" stroke-width="1.5"/>
<rect x="168.3" y="743.5" width="38.1" height="408" fill="#adb6d8" style="mix-blend-mode:multiply"/>
<path d="M167.5 742.0 V1152.3 H207.2 V742.0" fill="none" stroke="#fff" stroke-width="1.5"/>
<rect x="249.4" y="743.5" width="58.6" height="408" fill="#adb6d8" style="mix-blend-mode:multiply"/>
<path d="M248.6 742.0 V1152.3 H308.8 V742.0" fill="none" stroke="#fff" stroke-width="1.5"/>
<line x1="199" y1="818" x2="199" y2="917.4" stroke="#1b4685" stroke-width="3.7"/>
<path d="M191 915.4 L207 915.4 L199 935.4 Z" fill="#1b4685"/>
<line x1="260.5" y1="886" x2="260.5" y2="986.2" stroke="#1b4685" stroke-width="3.7"/>
<path d="M252.5 984.2 L268.5 984.2 L260.5 1004.2 Z" fill="#1b4685"/>
<text x="314.59" y="782.5" font-family="Liberation Sans" font-size="41.3" fill="#0c0c0c" textLength="169.75" lengthAdjust="spacingAndGlyphs" style="font-kerning:none" xml:space="preserve" stroke="#fff" stroke-width="0.5" stroke-opacity="0.8">Sample #1</text>
<text x="524.2" y="782.5" font-family="Liberation Sans" font-size="41.3" fill="#0c0c0c" textLength="451.74" lengthAdjust="spacingAndGlyphs" style="font-kerning:none" xml:space="preserve" stroke="#fff" stroke-width="0.5" stroke-opacity="0.8">PCR result: SHV238G240G</text>
<g filter="url(#soft)">
<line x1="1053" y1="771" x2="1994.6" y2="771" stroke="#b0a9a8" stroke-width="1.9" stroke-dasharray="14 1.5"/>
<line x1="1053" y1="771" x2="1058" y2="771" stroke="#4b4547" stroke-width="2"/>
<text x="1050.5" y="775.5" font-family="Liberation Sans" font-weight="bold" font-size="12" fill="#5a5254" text-anchor="end" textLength="13" lengthAdjust="spacingAndGlyphs" opacity="0.85">60</text>
<line x1="1053" y1="822.2" x2="1994.6" y2="822.2" stroke="#b0a9a8" stroke-width="1.9" stroke-dasharray="14 1.5"/>
<line x1="1053" y1="822.2" x2="1058" y2="822.2" stroke="#4b4547" stroke-width="2"/>
<text x="1050.5" y="826.7" font-family="Liberation Sans" font-weight="bold" font-size="12" fill="#5a5254" text-anchor="end" textLength="13" lengthAdjust="spacingAndGlyphs" opacity="0.85">50</text>
<line x1="1053" y1="872.9" x2="1994.6" y2="872.9" stroke="#b0a9a8" stroke-width="1.9" stroke-dasharray="14 1.5"/>
<line x1="1053" y1="872.9" x2="1058" y2="872.9" stroke="#4b4547" stroke-width="2"/>
<text x="1050.5" y="877.4" font-family="Liberation Sans" font-weight="bold" font-size="12" fill="#5a5254" text-anchor="end" textLength="13" lengthAdjust="spacingAndGlyphs" opacity="0.85">40</text>
<line x1="1053" y1="923.2" x2="1994.6" y2="923.2" stroke="#b0a9a8" stroke-width="1.9" stroke-dasharray="14 1.5"/>
<line x1="1053" y1="923.2" x2="1058" y2="923.2" stroke="#4b4547" stroke-width="2"/>
<text x="1050.5" y="927.7" font-family="Liberation Sans" font-weight="bold" font-size="12" fill="#5a5254" text-anchor="end" textLength="13" lengthAdjust="spacingAndGlyphs" opacity="0.85">30</text>
<line x1="1053" y1="973.6" x2="1994.6" y2="973.6" stroke="#b0a9a8" stroke-width="1.9" stroke-dasharray="14 1.5"/>
<line x1="1053" y1="973.6" x2="1058" y2="973.6" stroke="#4b4547" stroke-width="2"/>
<text x="1050.5" y="978.1" font-family="Liberation Sans" font-weight="bold" font-size="12" fill="#5a5254" text-anchor="end" textLength="13" lengthAdjust="spacingAndGlyphs" opacity="0.85">20</text>
<line x1="1053" y1="1024.2" x2="1994.6" y2="1024.2" stroke="#b0a9a8" stroke-width="1.9" stroke-dasharray="14 1.5"/>
<line x1="1053" y1="1024.2" x2="1058" y2="1024.2" stroke="#4b4547" stroke-width="2"/>
<text x="1050.5" y="1028.7" font-family="Liberation Sans" font-weight="bold" font-size="12" fill="#5a5254" text-anchor="end" textLength="13" lengthAdjust="spacingAndGlyphs" opacity="0.85">10</text>
<line x1="1053" y1="1075.4" x2="1994.6" y2="1075.4" stroke="#b0a9a8" stroke-width="1.9" stroke-dasharray="14 1.5"/>
<line x1="1053" y1="1075.4" x2="1058" y2="1075.4" stroke="#4b4547" stroke-width="2"/>
<text x="1050.5" y="1079.9" font-family="Liberation Sans" font-weight="bold" font-size="12" fill="#5a5254" text-anchor="end" textLength="7" lengthAdjust="spacingAndGlyphs" opacity="0.85">0</text>
<text x="1035.5" y="755.5" font-family="Liberation Sans" font-weight="bold" font-size="12" fill="#5a5254" textLength="14" lengthAdjust="spacingAndGlyphs" opacity="0.85">87</text>
<line x1="1053" y1="771" x2="1053" y2="1121" stroke="#6f6769" stroke-width="2.8"/>
<line x1="1053" y1="1121" x2="1994.6" y2="1121" stroke="#5f5759" stroke-width="2.6"/>
<line x1="1087.28" y1="1115" x2="1087.28" y2="1124" stroke="#4b4547" stroke-width="1.6"/>
<text x="1087.28" y="1132.5" font-family="Liberation Sans" font-weight="bold" font-size="10.5" fill="#3d3638" stroke="#3d3638" stroke-width="0.5" text-anchor="middle">E</text>
<line x1="1107.09" y1="1115" x2="1107.09" y2="1124" stroke="#4b4547" stroke-width="1.6"/>
<text x="1107.09" y="1132.5" font-family="Liberation Sans" font-weight="bold" font-size="10.5" fill="#3d3638" stroke="#3d3638" stroke-width="0.5" text-anchor="middle">S</text>
<line x1="1126.89" y1="1115" x2="1126.89" y2="1124" stroke="#4b4547" stroke-width="1.6"/>
<text x="1126.89" y="1132.5" font-family="Liberation Sans" font-weight="bold" font-size="10.5" fill="#3d3638" stroke="#3d3638" stroke-width="0.5" text-anchor="middle">A</text>
<line x1="1146.7" y1="1115" x2="1146.7" y2="1124" stroke="#4b4547" stroke-width="1.6"/>
<text x="1146.7" y="1132.5" font-family="Liberation Sans" font-weight="bold" font-size="10.5" fill="#3d3638" stroke="#3d3638" stroke-width="0.5" text-anchor="middle">C</text>
<line x1="1166.51" y1="1115" x2="1166.51" y2="1124" stroke="#4b4547" stroke-width="1.6"/>
<text x="1166.51" y="1132.5" font-family="Liberation Sans" font-weight="bold" font-size="10.5" fill="#3d3638" stroke="#3d3638" stroke-width="0.5" text-anchor="middle">G</text>
<line x1="1186.32" y1="1115" x2="1186.32" y2="1124" stroke="#4b4547" stroke-width="1.6"/>
<text x="1186.32" y="1132.5" font-family="Liberation Sans" font-weight="bold" font-size="10.5" fill="#3d3638" stroke="#3d3638" stroke-width="0.5" text-anchor="middle">T</text>
<line x1="1206.12" y1="1115" x2="1206.12" y2="1124" stroke="#4b4547" stroke-width="1.6"/>
<text x="1206.12" y="1132.5" font-family="Liberation Sans" font-weight="bold" font-size="10.5" fill="#3d3638" stroke="#3d3638" stroke-width="0.5" text-anchor="middle">A</text>
<line x1="1225.93" y1="1115" x2="1225.93" y2="1124" stroke="#4b4547" stroke-width="1.6"/>
<text x="1225.93" y="1132.5" font-family="Liberation Sans" font-weight="bold" font-size="10.5" fill="#3d3638" stroke="#3d3638" stroke-width="0.5" text-anchor="middle">G</text>
<line x1="1245.74" y1="1115" x2="1245.74" y2="1124" stroke="#4b4547" stroke-width="1.6"/>
<text x="1245.74" y="1132.5" font-family="Liberation Sans" font-weight="bold" font-size="10.5" fill="#3d3638" stroke="#3d3638" stroke-width="0.5" text-anchor="middle">C</text>
<line x1="1265.54" y1="1115" x2="1265.54" y2="1124" stroke="#4b4547" stroke-width="1.6"/>
<text x="1265.54" y="1132.5" font-family="Liberation Sans" font-weight="bold" font-size="10.5" fill="#3d3638" stroke="#3d3638" stroke-width="0.5" text-anchor="middle">A</text>
<line x1="1285.35" y1="1115" x2="1285.35" y2="1124" stroke="#4b4547" stroke-width="1.6"/>
<text x="1285.35" y="1132.5" font-family="Liberation Sans" font-weight="bold" font-size="10.5" fill="#3d3638" stroke="#3d3638" stroke-width="0.5" text-anchor="middle">G</text>
<line x1="1305.16" y1="1115" x2="1305.16" y2="1124" stroke="#4b4547" stroke-width="1.6"/>
<text x="1305.16" y="1132.5" font-family="Liberation Sans" font-weight="bold" font-size="10.5" fill="#3d3638" stroke="#3d3638" stroke-width="0.5" text-anchor="middle">A</text>
<line x1="1324.96" y1="1115" x2="1324.96" y2="1124" stroke="#4b4547" stroke-width="1.6"/>
<text x="1324.96" y="1132.5" font-family="Liberation Sans" font-weight="bold" font-size="10.5" fill="#3d3638" stroke="#3d3638" stroke-width="0.5" text-anchor="middle">G</text>
<line x1="1344.77" y1="1115" x2="1344.77" y2="1124" stroke="#4b4547" stroke-width="1.6"/>
<text x="1344.77" y="1132.5" font-family="Liberation Sans" font-weight="bold" font-size="10.5" fill="#3d3638" stroke="#3d3638" stroke-width="0.5" text-anchor="middle">C</text>
<line x1="1364.58" y1="1115" x2="1364.58" y2="1124" stroke="#4b4547" stroke-width="1.6"/>
<text x="1364.58" y="1132.5" font-family="Liberation Sans" font-weight="bold" font-size="10.5" fill="#3d3638" stroke="#3d3638" stroke-width="0.5" text-anchor="middle">G</text>
<line x1="1384.38" y1="1115" x2="1384.38" y2="1124" stroke="#4b4547" stroke-width="1.6"/>
<text x="1384.38" y="1132.5" font-family="Liberation Sans" font-weight="bold" font-size="10.5" fill="#3d3638" stroke="#3d3638" stroke-width="0.5" text-anchor="middle">G</text>
<line x1="1404.19" y1="1115" x2="1404.19" y2="1124" stroke="#4b4547" stroke-width="1.6"/>
<text x="1404.19" y="1132.5" font-family="Liberation Sans" font-weight="bold" font-size="10.5" fill="#3d3638" stroke="#3d3638" stroke-width="0.5" text-anchor="middle">C</text>
<line x1="1424" y1="1115" x2="1424" y2="1124" stroke="#4b4547" stroke-width="1.6"/>
<text x="1424" y="1132.5" font-family="Liberation Sans" font-weight="bold" font-size="10.5" fill="#3d3638" stroke="#3d3638" stroke-width="0.5" text-anchor="middle">T</text>
<line x1="1443.81" y1="1115" x2="1443.81" y2="1124" stroke="#4b4547" stroke-width="1.6"/>
<text x="1443.81" y="1132.5" font-family="Liberation Sans" font-weight="bold" font-size="10.5" fill="#3d3638" stroke="#3d3638" stroke-width="0.5" text-anchor="middle">G</text>
<line x1="1463.61" y1="1115" x2="1463.61" y2="1124" stroke="#4b4547" stroke-width="1.6"/>
<text x="1463.61" y="1132.5" font-family="Liberation Sans" font-weight="bold" font-size="10.5" fill="#3d3638" stroke="#3d3638" stroke-width="0.5" text-anchor="middle">C</text>
<line x1="1483.42" y1="1115" x2="1483.42" y2="1124" stroke="#4b4547" stroke-width="1.6"/>
<text x="1483.42" y="1132.5" font-family="Liberation Sans" font-weight="bold" font-size="10.5" fill="#3d3638" stroke="#3d3638" stroke-width="0.5" text-anchor="middle">G</text>
<line x1="1503.23" y1="1115" x2="1503.23" y2="1124" stroke="#4b4547" stroke-width="1.6"/>
<text x="1503.23" y="1132.5" font-family="Liberation Sans" font-weight="bold" font-size="10.5" fill="#3d3638" stroke="#3d3638" stroke-width="0.5" text-anchor="middle">C</text>
<line x1="1523.03" y1="1115" x2="1523.03" y2="1124" stroke="#4b4547" stroke-width="1.6"/>
<text x="1523.03" y="1132.5" font-family="Liberation Sans" font-weight="bold" font-size="10.5" fill="#3d3638" stroke="#3d3638" stroke-width="0.5" text-anchor="middle">G</text>
<line x1="1542.84" y1="1115" x2="1542.84" y2="1124" stroke="#4b4547" stroke-width="1.6"/>
<text x="1542.84" y="1132.5" font-family="Liberation Sans" font-weight="bold" font-size="10.5" fill="#3d3638" stroke="#3d3638" stroke-width="0.5" text-anchor="middle">C</text>
<line x1="1562.65" y1="1115" x2="1562.65" y2="1124" stroke="#4b4547" stroke-width="1.6"/>
<text x="1562.65" y="1132.5" font-family="Liberation Sans" font-weight="bold" font-size="10.5" fill="#3d3638" stroke="#3d3638" stroke-width="0.5" text-anchor="middle">G</text>
<line x1="1582.45" y1="1115" x2="1582.45" y2="1124" stroke="#4b4547" stroke-width="1.6"/>
<text x="1582.45" y="1132.5" font-family="Liberation Sans" font-weight="bold" font-size="10.5" fill="#3d3638" stroke="#3d3638" stroke-width="0.5" text-anchor="middle">C</text>
<line x1="1602.26" y1="1115" x2="1602.26" y2="1124" stroke="#4b4547" stroke-width="1.6"/>
<text x="1602.26" y="1132.5" font-family="Liberation Sans" font-weight="bold" font-size="10.5" fill="#3d3638" stroke="#3d3638" stroke-width="0.5" text-anchor="middle">A</text>
<line x1="1622.07" y1="1115" x2="1622.07" y2="1124" stroke="#4b4547" stroke-width="1.6"/>
<text x="1622.07" y="1132.5" font-family="Liberation Sans" font-weight="bold" font-size="10.5" fill="#3d3638" stroke="#3d3638" stroke-width="0.5" text-anchor="middle">T</text>
<line x1="1641.88" y1="1115" x2="1641.88" y2="1124" stroke="#4b4547" stroke-width="1.6"/>
<text x="1641.88" y="1132.5" font-family="Liberation Sans" font-weight="bold" font-size="10.5" fill="#3d3638" stroke="#3d3638" stroke-width="0.5" text-anchor="middle">G</text>
<line x1="1661.68" y1="1115" x2="1661.68" y2="1124" stroke="#4b4547" stroke-width="1.6"/>
<text x="1661.68" y="1132.5" font-family="Liberation Sans" font-weight="bold" font-size="10.5" fill="#3d3638" stroke="#3d3638" stroke-width="0.5" text-anchor="middle">T</text>
<line x1="1681.49" y1="1115" x2="1681.49" y2="1124" stroke="#4b4547" stroke-width="1.6"/>
<text x="1681.49" y="1132.5" font-family="Liberation Sans" font-weight="bold" font-size="10.5" fill="#3d3638" stroke="#3d3638" stroke-width="0.5" text-anchor="middle">C</text>
<line x1="1701.3" y1="1115" x2="1701.3" y2="1124" stroke="#4b4547" stroke-width="1.6"/>
<text x="1701.3" y="1132.5" font-family="Liberation Sans" font-weight="bold" font-size="10.5" fill="#3d3638" stroke="#3d3638" stroke-width="0.5" text-anchor="middle">G</text>
<line x1="1721.1" y1="1115" x2="1721.1" y2="1124" stroke="#4b4547" stroke-width="1.6"/>
<text x="1721.1" y="1132.5" font-family="Liberation Sans" font-weight="bold" font-size="10.5" fill="#3d3638" stroke="#3d3638" stroke-width="0.5" text-anchor="middle">C</text>
<line x1="1740.91" y1="1115" x2="1740.91" y2="1124" stroke="#4b4547" stroke-width="1.6"/>
<text x="1740.91" y="1132.5" font-family="Liberation Sans" font-weight="bold" font-size="10.5" fill="#3d3638" stroke="#3d3638" stroke-width="0.5" text-anchor="middle">T</text>
<line x1="1760.72" y1="1115" x2="1760.72" y2="1124" stroke="#4b4547" stroke-width="1.6"/>
<text x="1760.72" y="1132.5" font-family="Liberation Sans" font-weight="bold" font-size="10.5" fill="#3d3638" stroke="#3d3638" stroke-width="0.5" text-anchor="middle">G</text>
<line x1="1780.53" y1="1115" x2="1780.53" y2="1124" stroke="#4b4547" stroke-width="1.6"/>
<text x="1780.53" y="1132.5" font-family="Liberation Sans" font-weight="bold" font-size="10.5" fill="#3d3638" stroke="#3d3638" stroke-width="0.5" text-anchor="middle">C</text>
<line x1="1800.33" y1="1115" x2="1800.33" y2="1124" stroke="#4b4547" stroke-width="1.6"/>
<text x="1800.33" y="1132.5" font-family="Liberation Sans" font-weight="bold" font-size="10.5" fill="#3d3638" stroke="#3d3638" stroke-width="0.5" text-anchor="middle">T</text>
<line x1="1820.14" y1="1115" x2="1820.14" y2="1124" stroke="#4b4547" stroke-width="1.6"/>
<text x="1820.14" y="1132.5" font-family="Liberation Sans" font-weight="bold" font-size="10.5" fill="#3d3638" stroke="#3d3638" stroke-width="0.5" text-anchor="middle">G</text>
<line x1="1839.95" y1="1115" x2="1839.95" y2="1124" stroke="#4b4547" stroke-width="1.6"/>
<text x="1839.95" y="1132.5" font-family="Liberation Sans" font-weight="bold" font-size="10.5" fill="#3d3638" stroke="#3d3638" stroke-width="0.5" text-anchor="middle">C</text>
<line x1="1859.75" y1="1115" x2="1859.75" y2="1124" stroke="#4b4547" stroke-width="1.6"/>
<text x="1859.75" y="1132.5" font-family="Liberation Sans" font-weight="bold" font-size="10.5" fill="#3d3638" stroke="#3d3638" stroke-width="0.5" text-anchor="middle">T</text>
<line x1="1879.56" y1="1115" x2="1879.56" y2="1124" stroke="#4b4547" stroke-width="1.6"/>
<text x="1879.56" y="1132.5" font-family="Liberation Sans" font-weight="bold" font-size="10.5" fill="#3d3638" stroke="#3d3638" stroke-width="0.5" text-anchor="middle">G</text>
<line x1="1899.37" y1="1115" x2="1899.37" y2="1124" stroke="#4b4547" stroke-width="1.6"/>
<text x="1899.37" y="1132.5" font-family="Liberation Sans" font-weight="bold" font-size="10.5" fill="#3d3638" stroke="#3d3638" stroke-width="0.5" text-anchor="middle">C</text>
<line x1="1919.17" y1="1115" x2="1919.17" y2="1124" stroke="#4b4547" stroke-width="1.6"/>
<text x="1919.17" y="1132.5" font-family="Liberation Sans" font-weight="bold" font-size="10.5" fill="#3d3638" stroke="#3d3638" stroke-width="0.5" text-anchor="middle">A</text>
<line x1="1938.98" y1="1115" x2="1938.98" y2="1124" stroke="#4b4547" stroke-width="1.6"/>
<text x="1938.98" y="1132.5" font-family="Liberation Sans" font-weight="bold" font-size="10.5" fill="#3d3638" stroke="#3d3638" stroke-width="0.5" text-anchor="middle">T</text>
<line x1="1958.79" y1="1115" x2="1958.79" y2="1124" stroke="#4b4547" stroke-width="1.6"/>
<text x="1958.79" y="1132.5" font-family="Liberation Sans" font-weight="bold" font-size="10.5" fill="#3d3638" stroke="#3d3638" stroke-width="0.5" text-anchor="middle">A</text>
<line x1="1978.59" y1="1115" x2="1978.59" y2="1124" stroke="#4b4547" stroke-width="1.6"/>
<text x="1978.59" y="1132.5" font-family="Liberation Sans" font-weight="bold" font-size="10.5" fill="#3d3638" stroke="#3d3638" stroke-width="0.5" text-anchor="middle">C</text>
<text x="1206.12" y="1150" font-family="Liberation Sans" font-weight="bold" font-size="10.5" fill="#3d3638" stroke="#3d3638" stroke-width="0.4" text-anchor="middle">5</text>
<text x="1305.16" y="1150" font-family="Liberation Sans" font-weight="bold" font-size="10.5" fill="#3d3638" stroke="#3d3638" stroke-width="0.4" text-anchor="middle">10</text>
<text x="1404.19" y="1150" font-family="Liberation Sans" font-weight="bold" font-size="10.5" fill="#3d3638" stroke="#3d3638" stroke-width="0.4" text-anchor="middle">15</text>
<text x="1503.23" y="1150" font-family="Liberation Sans" font-weight="bold" font-size="10.5" fill="#3d3638" stroke="#3d3638" stroke-width="0.4" text-anchor="middle">20</text>
<text x="1602.26" y="1150" font-family="Liberation Sans" font-weight="bold" font-size="10.5" fill="#3d3638" stroke="#3d3638" stroke-width="0.4" text-anchor="middle">25</text>
<text x="1701.3" y="1150" font-family="Liberation Sans" font-weight="bold" font-size="10.5" fill="#3d3638" stroke="#3d3638" stroke-width="0.4" text-anchor="middle">30</text>
<text x="1800.33" y="1150" font-family="Liberation Sans" font-weight="bold" font-size="10.5" fill="#3d3638" stroke="#3d3638" stroke-width="0.4" text-anchor="middle">35</text>
<text x="1899.37" y="1150" font-family="Liberation Sans" font-weight="bold" font-size="10.5" fill="#3d3638" stroke="#3d3638" stroke-width="0.4" text-anchor="middle">40</text>
<path d="M1056.6 1109 L1057.1 1109.01 L1057.6 1109.01 L1058.1 1109.02 L1058.6 1109.02 L1059.1 1109.03 L1059.6 1109.03 L1060.1 1109.04 L1060.6 1109.04 L1061.1 1109.05 L1061.6 1109.05 L1062.1 1109.06 L1062.6 1109.06 L1063.1 1109.07 L1063.6 1109.07 L1064.1 1109.08 L1064.6 1109.08 L1065.1 1109.09 L1065.6 1109.09 L1066.1 1109.1 L1066.6 1109.1 L1067.1 1109.11 L1067.6 1109.11 L1068.1 1109.12 L1068.6 1109.12 L1069.1 1109.13 L1069.6 1109.13 L1070.1 1109.14 L1070.6 1109.14 L1071.1 1109.15 L1071.6 1109.15 L1072.1 1109.16 L1072.6 1109.16 L1073.1 1109.17 L1073.6 1109.17 L1074.1 1109.18 L1074.6 1109.18 L1075.1 1109.19 L1075.6 1109.19 L1076.1 1109.2 L1076.6 1109.2 L1077.1 1109.21 L1077.6 1109.21 L1078.1 1109.22 L1078.6 1109.22 L1079.1 1109.23 L1079.6 1109.23 L1080.1 1109.24 L1080.6 1109.24 L1081.1 1109.25 L1081.6 1109.25 L1082.1 1109.26 L1082.6 1109.26 L1083.1 1109.27 L1083.6 1109.27 L1084.1 1109.28 L1084.6 1109.28 L1085.1 1109.29 L1085.6 1109.29 L1086.1 1109.3 L1086.6 1109.3 L1087.1 1109.31 L1087.6 1109.31 L1088.1 1109.32 L1088.6 1109.32 L1089.1 1109.33 L1089.6 1109.33 L1090.1 1109.34 L1090.6 1109.34 L1091.1 1109.35 L1091.6 1109.35 L1092.1 1109.36 L1092.6 1109.36 L1093.1 1109.37 L1093.6 1109.37 L1094.1 1109.38 L1094.6 1109.38 L1095.1 1109.39 L1095.6 1109.39 L1096.1 1109.4 L1096.6 1109.4 L1097.1 1109.41 L1097.6 1109.41 L1098.1 1109.42 L1098.6 1109.42 L1099.1 1109.43 L1099.6 1109.43 L1100.1 1109.44 L1100.6 1109.44 L1101.1 1109.45 L1101.6 1109.45 L1102.1 1109.46 L1102.6 1109.46 L1103.1 1109.47 L1103.6 1109.47 L1104.1 1109.48 L1104.6 1109.48 L1105.1 1109.49 L1105.6 1109.49 L1106.1 1109.5 L1106.4 1109.5 L1106.4 1062.3 L1106.6 1062.97 L1107.1 1064.43 L1107.6 1065.62 L1108.1 1066.6 L1108.6 1067.41 L1109.1 1068.08 L1109.6 1068.62 L1110.1 1069.07 L1110.6 1069.44 L1111.1 1069.75 L1111.6 1070 L1112.1 1070.21 L1112.6 1070.39 L1113.1 1070.53 L1113.6 1070.65 L1114.1 1070.75 L1114.6 1070.84 L1115.1 1070.91 L1115.6 1070.97 L1116.1 1071.02 L1116.6 1071.06 L1117.1 1071.1 L1117.6 1071.14 L1118.1 1071.17 L1118.6 1071.19 L1119.1 1071.22 L1119.6 1071.24 L1120.1 1071.26 L1120.6 1071.27 L1121.1 1071.29 L1121.6 1071.31 L1122.1 1071.32 L1122.6 1071.34 L1123.1 1071.35 L1123.6 1071.36 L1124.1 1071.38 L1124.6 1071.39 L1125.1 1071.4 L1125.6 1071.41 L1126.1 1071.42 L1126.6 1071.44 L1127.1 1071.45 L1127.6 1071.46 L1128.1 1071.47 L1128.6 1071.48 L1129.1 1071.49 L1129.6 1071.51 L1130.1 1071.52 L1130.6 1071.53 L1131.1 1071.54 L1131.6 1071.55 L1132.1 1071.56 L1132.6 1071.57 L1133.1 1071.58 L1133.6 1071.6 L1134.1 1071.61 L1134.6 1071.62 L1135.1 1071.63 L1135.6 1071.64 L1136.1 1071.65 L1136.6 1071.66 L1137.1 1071.67 L1137.6 1071.69 L1138.1 1071.7 L1138.6 1071.71 L1139.1 1071.72 L1139.6 1071.73 L1140.1 1071.74 L1140.6 1071.75 L1141.1 1071.76 L1141.6 1071.77 L1142.1 1071.79 L1142.6 1071.8 L1143.1 1071.81 L1143.6 1071.82 L1144.1 1071.83 L1144.6 1071.84 L1145.1 1071.85 L1145.2 1071.86 L1145.6 1055.62 L1146.1 1035.29 L1146.6 1014.95 L1147.1 994.61 L1147.2 990.5 L1147.6 1001.13 L1148.1 1014.44 L1148.6 1027.76 L1149.1 1041.08 L1149.6 1054.39 L1149.8 1059.75 L1150.1 1061.31 L1150.6 1063.48 L1151.1 1065.22 L1151.6 1066.61 L1152.1 1067.72 L1152.6 1068.6 L1153.1 1069.31 L1153.6 1069.87 L1154.1 1070.32 L1154.6 1070.69 L1155.1 1070.98 L1155.6 1071.21 L1156.1 1071.4 L1156.6 1071.56 L1157.1 1071.68 L1157.6 1071.78 L1158.1 1071.86 L1158.6 1071.93 L1159.1 1071.99 L1159.6 1072.04 L1160.1 1072.08 L1160.6 1072.11 L1161.1 1072.14 L1161.6 1072.17 L1162.1 1072.19 L1162.6 1072.21 L1163.1 1072.23 L1163.6 1072.24 L1164.1 1072.26 L1164.6 1072.28 L1165.1 1072.29 L1165.6 1072.3 L1166.1 1072.32 L1166.6 1072.33 L1167.1 1072.34 L1167.6 1072.35 L1168.1 1072.37 L1168.6 1072.38 L1169.1 1072.39 L1169.6 1072.4 L1170.1 1072.41 L1170.6 1072.42 L1171.1 1072.43 L1171.6 1072.45 L1172.1 1072.46 L1172.6 1072.47 L1173.1 1072.48 L1173.6 1072.49 L1174.1 1072.5 L1174.6 1072.51 L1175.1 1072.52 L1175.6 1072.54 L1176.1 1072.55 L1176.6 1072.56 L1177.1 1072.57 L1177.6 1072.58 L1178.1 1072.59 L1178.6 1072.6 L1179.1 1072.61 L1179.6 1072.63 L1180.1 1072.64 L1180.6 1072.65 L1181.1 1072.66 L1181.6 1072.67 L1182.1 1072.68 L1182.6 1072.69 L1183.1 1072.7 L1183.6 1072.72 L1184.1 1072.73 L1184.6 1072.74 L1184.82 1072.74 L1185.1 1062.08 L1185.6 1043.37 L1186.1 1024.66 L1186.6 1005.95 L1186.82 997.9 L1187.1 1004.88 L1187.6 1017.14 L1188.1 1029.39 L1188.6 1041.64 L1189.1 1053.89 L1189.41 1061.61 L1189.6 1062.52 L1190.1 1064.63 L1190.6 1066.32 L1191.1 1067.66 L1191.6 1068.73 L1192.1 1069.59 L1192.6 1070.28 L1193.1 1070.82 L1193.6 1071.26 L1194.1 1071.61 L1194.6 1071.9 L1195.1 1072.13 L1195.6 1072.31 L1196.1 1072.46 L1196.6 1072.58 L1197.1 1072.68 L1197.6 1072.76 L1198.1 1072.82 L1198.6 1072.88 L1199.1 1072.92 L1199.6 1072.96 L1200.1 1073 L1200.6 1073.03 L1201.1 1073.05 L1201.6 1073.07 L1202.1 1073.09 L1202.6 1073.11 L1203.1 1073.13 L1203.6 1073.15 L1204.1 1073.16 L1204.6 1073.17 L1204.62 1073.17 L1205.1 1054.47 L1205.6 1034.9 L1206.1 1015.33 L1206.6 995.76 L1206.62 994.9 L1207.1 1007.15 L1207.6 1019.96 L1208.1 1032.78 L1208.6 1045.6 L1209.1 1058.41 L1209.22 1061.54 L1209.6 1063.4 L1210.1 1065.42 L1210.6 1067.04 L1211.1 1068.33 L1211.6 1069.36 L1212.1 1070.18 L1212.6 1070.83 L1213.1 1071.36 L1213.6 1071.78 L1214.1 1072.12 L1214.6 1072.39 L1215.1 1072.61 L1215.6 1072.78 L1216.1 1072.93 L1216.6 1073.04 L1217.1 1073.14 L1217.6 1073.22 L1218.1 1073.28 L1218.6 1073.33 L1219.1 1073.38 L1219.6 1073.42 L1220.1 1073.45 L1220.6 1073.48 L1221.1 1073.5 L1221.6 1073.52 L1222.1 1073.54 L1222.6 1073.56 L1223.1 1073.58 L1223.6 1073.59 L1224.1 1073.61 L1224.43 1073.62 L1224.6 1066.51 L1225.1 1045.73 L1225.6 1024.95 L1226.1 1004.17 L1226.43 990.5 L1226.6 995.15 L1227.1 1008.76 L1227.6 1022.36 L1228.1 1035.97 L1228.6 1049.58 L1229.03 1061.25 L1229.1 1061.65 L1229.6 1064.12 L1230.1 1066.09 L1230.6 1067.66 L1231.1 1068.91 L1231.6 1069.91 L1232.1 1070.71 L1232.6 1071.35 L1233.1 1071.86 L1233.6 1072.27 L1234.1 1072.6 L1234.6 1072.87 L1235.1 1073.08 L1235.6 1073.25 L1236.1 1073.39 L1236.6 1073.5 L1237.1 1073.59 L1237.6 1073.67 L1238.1 1073.73 L1238.6 1073.79 L1239.1 1073.83 L1239.6 1073.87 L1240.1 1073.9 L1240.6 1073.93 L1241.1 1073.95 L1241.6 1073.97 L1242.1 1073.99 L1242.6 1074.01 L1243.1 1074.03 L1243.6 1074.04 L1244.1 1074.06 L1244.24 1074.06 L1244.6 1055.67 L1245.1 1030.4 L1245.6 1005.13 L1246.1 979.87 L1246.24 972.99 L1246.6 985.04 L1247.1 1001.58 L1247.6 1018.12 L1248.1 1034.66 L1248.6 1051.2 L1248.84 1059.01 L1249.1 1060.73 L1249.6 1063.47 L1250.1 1065.66 L1250.6 1067.41 L1251.1 1068.81 L1251.6 1069.92 L1252.1 1070.81 L1252.6 1071.52 L1253.1 1072.09 L1253.6 1072.54 L1254.1 1072.91 L1254.6 1073.2 L1255.1 1073.44 L1255.6 1073.63 L1256.1 1073.78 L1256.6 1073.9 L1257.1 1074.01 L1257.6 1074.09 L1258.1 1074.16 L1258.6 1074.22 L1259.1 1074.26 L1259.6 1074.3 L1260.1 1074.34 L1260.6 1074.37 L1261.1 1074.39 L1261.6 1074.42 L1262.1 1074.44 L1262.6 1074.46 L1263.1 1074.47 L1263.6 1074.49 L1264.04 1074.5 L1264.1 1074.28 L1264.6 1072.3 L1265.1 1070.32 L1265.6 1068.35 L1266.04 1066.59 L1266.1 1066.74 L1266.6 1068.06 L1267.1 1069.37 L1267.6 1070.68 L1268.1 1072 L1268.6 1073.31 L1268.64 1073.42 L1269.1 1073.66 L1269.6 1073.87 L1270.1 1074.04 L1270.6 1074.17 L1271.1 1074.28 L1271.6 1074.37 L1272.1 1074.45 L1272.6 1074.51 L1273.1 1074.56 L1273.6 1074.6 L1274.1 1074.64 L1274.6 1074.67 L1275.1 1074.7 L1275.6 1074.72 L1276.1 1074.75 L1276.6 1074.77 L1277.1 1074.78 L1277.6 1074.8 L1278.1 1074.82 L1278.6 1074.83 L1279.1 1074.84 L1279.6 1074.86 L1280.1 1074.87 L1280.6 1074.88 L1281.1 1074.89 L1281.6 1074.91 L1282.1 1074.92 L1282.6 1074.93 L1283.1 1074.94 L1283.6 1074.95 L1283.85 1074.96 L1284.1 1064.95 L1284.6 1044.94 L1285.1 1024.92 L1285.6 1004.91 L1285.85 994.9 L1286.1 1001.45 L1286.6 1014.56 L1287.1 1027.66 L1287.6 1040.77 L1288.1 1053.87 L1288.45 1063.05 L1288.6 1063.84 L1289.1 1066.14 L1289.6 1067.96 L1290.1 1069.42 L1290.6 1070.59 L1291.1 1071.52 L1291.6 1072.26 L1292.1 1072.86 L1292.6 1073.33 L1293.1 1073.72 L1293.6 1074.02 L1294.1 1074.27 L1294.6 1074.47 L1295.1 1074.63 L1295.6 1074.76 L1296.1 1074.86 L1296.6 1074.95 L1297.1 1075.02 L1297.6 1075.08 L1298.1 1075.13 L1298.6 1075.17 L1299.1 1075.21 L1299.6 1075.24 L1300.1 1075.26 L1300.6 1075.29 L1301.1 1075.31 L1301.6 1075.33 L1302.1 1075.34 L1302.6 1075.36 L1303.1 1075.38 L1303.6 1075.39 L1303.66 1075.39 L1304.1 1054.33 L1304.6 1030.55 L1305.1 1006.78 L1305.6 983.01 L1305.66 980.3 L1306.1 994.09 L1306.6 1009.65 L1307.1 1025.22 L1307.6 1040.78 L1308.1 1056.35 L1308.26 1061.23 L1308.6 1063.3 L1309.1 1065.8 L1309.6 1067.78 L1310.1 1069.37 L1310.6 1070.64 L1311.1 1071.65 L1311.6 1072.46 L1312.1 1073.1 L1312.6 1073.62 L1313.1 1074.04 L1313.6 1074.37 L1314.1 1074.63 L1314.6 1074.85 L1315.1 1075.02 L1315.6 1075.16 L1316.1 1075.28 L1316.6 1075.37 L1317.1 1075.45 L1317.6 1075.51 L1318.1 1075.56 L1318.6 1075.61 L1319.1 1075.65 L1319.6 1075.68 L1320.1 1075.71 L1320.6 1075.73 L1321.1 1075.75 L1321.6 1075.77 L1322.1 1075.79 L1322.6 1075.81 L1323.1 1075.82 L1323.46 1075.83 L1323.6 1071.03 L1324.1 1053.37 L1324.6 1035.71 L1325.1 1018.05 L1325.46 1005.19 L1325.6 1008.34 L1326.1 1019.91 L1326.6 1031.48 L1327.1 1043.04 L1327.6 1054.61 L1328.06 1065.34 L1328.1 1065.52 L1328.6 1067.65 L1329.1 1069.35 L1329.6 1070.71 L1330.1 1071.79 L1330.6 1072.66 L1331.1 1073.35 L1331.6 1073.9 L1332.1 1074.35 L1332.6 1074.7 L1333.1 1074.99 L1333.6 1075.22 L1334.1 1075.4 L1334.6 1075.55 L1335.1 1075.67 L1335.6 1075.77 L1336.1 1075.86 L1336.6 1075.92 L1337.1 1075.98 L1337.6 1076.02 L1338.1 1076.06 L1338.6 1076.1 L1339.1 1076.13 L1339.6 1076.15 L1340.1 1076.17 L1340.6 1076.2 L1341.1 1076.21 L1341.6 1076.23 L1342.1 1076.25 L1342.6 1076.26 L1343.1 1076.28 L1343.27 1076.28 L1343.6 1060.97 L1344.1 1037.7 L1344.6 1014.43 L1345.1 991.15 L1345.27 983.2 L1345.6 993.22 L1346.1 1008.46 L1346.6 1023.69 L1347.1 1038.93 L1347.6 1054.16 L1347.87 1062.42 L1348.1 1063.81 L1348.6 1066.38 L1349.1 1068.43 L1349.6 1070.07 L1350.1 1071.37 L1350.6 1072.41 L1351.1 1073.25 L1351.6 1073.91 L1352.1 1074.44 L1352.6 1074.87 L1353.1 1075.21 L1353.6 1075.49 L1354.1 1075.71 L1354.6 1075.89 L1355.1 1076.03 L1355.6 1076.15 L1356.1 1076.25 L1356.6 1076.32 L1357.1 1076.39 L1357.6 1076.44 L1358.1 1076.49 L1358.6 1076.53 L1359.1 1076.56 L1359.6 1076.59 L1360.1 1076.61 L1360.6 1076.64 L1361.1 1076.66 L1361.6 1076.67 L1362.1 1076.69 L1362.6 1076.71 L1363.08 1076.72 L1363.1 1073.53 L1363.6 1001.13 L1364.1 928.72 L1364.6 856.32 L1365.08 787.09 L1365.1 789.18 L1365.6 836.54 L1366.1 883.91 L1366.6 931.27 L1367.1 978.63 L1367.6 1025.99 L1367.68 1033.38 L1368.1 1040.98 L1368.6 1048.28 L1369.1 1054.1 L1369.6 1058.74 L1370.1 1062.44 L1370.6 1065.39 L1371.1 1067.74 L1371.6 1069.62 L1372.1 1071.11 L1372.6 1072.31 L1373.1 1073.26 L1373.6 1074.03 L1374.1 1074.64 L1374.6 1075.12 L1375.1 1075.51 L1375.6 1075.83 L1376.1 1076.08 L1376.6 1076.28 L1377.1 1076.45 L1377.6 1076.58 L1378.1 1076.69 L1378.6 1076.78 L1379.1 1076.85 L1379.6 1076.91 L1380.1 1076.96 L1380.6 1077 L1381.1 1077.04 L1381.6 1077.07 L1382.1 1077.1 L1382.6 1077.12 L1383.1 1077.14 L1383.6 1077.16 L1384.1 1077.18 L1384.6 1077.2 L1385.1 1077.21 L1385.6 1077.23 L1386.1 1077.24 L1386.6 1077.25 L1387.1 1077.27 L1387.6 1077.28 L1388.1 1077.29 L1388.6 1077.3 L1389.1 1077.31 L1389.6 1077.33 L1390.1 1077.34 L1390.6 1077.35 L1391.1 1077.36 L1391.6 1077.37 L1392.1 1077.38 L1392.6 1077.39 L1393.1 1077.41 L1393.6 1077.42 L1394.1 1077.43 L1394.6 1077.44 L1395.1 1077.45 L1395.6 1077.46 L1396.1 1077.47 L1396.6 1077.48 L1397.1 1077.5 L1397.6 1077.51 L1398.1 1077.52 L1398.6 1077.53 L1399.1 1077.54 L1399.6 1077.55 L1400.1 1077.56 L1400.6 1077.57 L1401.1 1077.59 L1401.6 1077.6 L1402.1 1077.61 L1402.6 1077.62 L1402.69 1077.62 L1403.1 1076.27 L1403.6 1074.62 L1404.1 1072.96 L1404.6 1071.3 L1404.69 1071 L1405.1 1071.9 L1405.6 1073 L1406.1 1074.1 L1406.6 1075.2 L1407.1 1076.3 L1407.29 1076.72 L1407.6 1076.86 L1408.1 1077.05 L1408.6 1077.2 L1409.1 1077.33 L1409.6 1077.43 L1410.1 1077.51 L1410.6 1077.58 L1411.1 1077.63 L1411.6 1077.68 L1412.1 1077.72 L1412.6 1077.75 L1413.1 1077.78 L1413.6 1077.81 L1414.1 1077.83 L1414.6 1077.85 L1415.1 1077.87 L1415.6 1077.89 L1416.1 1077.9 L1416.6 1077.92 L1417.1 1077.93 L1417.6 1077.95 L1418.1 1077.96 L1418.6 1077.97 L1419.1 1077.98 L1419.6 1078 L1420.1 1078.01 L1420.6 1078.02 L1421.1 1078.03 L1421.6 1078.04 L1422.1 1078.05 L1422.5 1078.06 L1422.6 1072.68 L1423.1 1046.04 L1423.6 1019.4 L1424.1 992.76 L1424.5 971.5 L1424.6 975.02 L1425.1 992.46 L1425.6 1009.9 L1426.1 1027.34 L1426.6 1044.77 L1427.1 1062.18 L1427.1 1062.18 L1427.6 1065.44 L1428.1 1068.04 L1428.6 1070.12 L1429.1 1071.77 L1429.6 1073.09 L1430.1 1074.15 L1430.6 1074.99 L1431.1 1075.66 L1431.6 1076.2 L1432.1 1076.63 L1432.6 1076.98 L1433.1 1077.26 L1433.6 1077.48 L1434.1 1077.66 L1434.6 1077.81 L1435.1 1077.93 L1435.6 1078.02 L1436.1 1078.1 L1436.6 1078.17 L1437.1 1078.22 L1437.6 1078.27 L1438.1 1078.31 L1438.6 1078.34 L1439.1 1078.37 L1439.6 1078.39 L1440.1 1078.42 L1440.6 1078.44 L1441.1 1078.45 L1441.6 1078.47 L1442.1 1078.49 L1442.31 1078.49 L1442.6 1066 L1443.1 1044.75 L1443.6 1023.5 L1444.1 1002.25 L1444.31 993.49 L1444.6 1001.68 L1445.1 1015.59 L1445.6 1029.51 L1446.1 1043.42 L1446.6 1057.34 L1446.91 1065.85 L1447.1 1066.93 L1447.6 1069.32 L1448.1 1071.22 L1448.6 1072.74 L1449.1 1073.95 L1449.6 1074.92 L1450.1 1075.69 L1450.6 1076.31 L1451.1 1076.81 L1451.6 1077.21 L1452.1 1077.52 L1452.6 1077.78 L1453.1 1077.99 L1453.6 1078.15 L1454.1 1078.29 L1454.6 1078.4 L1455.1 1078.49 L1455.6 1078.56 L1456.1 1078.62 L1456.6 1078.67 L1457.1 1078.72 L1457.6 1078.75 L1458.1 1078.78 L1458.6 1078.81 L1459.1 1078.83 L1459.6 1078.86 L1460.1 1078.87 L1460.6 1078.89 L1461.1 1078.91 L1461.6 1078.92 L1462.1 1078.94 L1462.11 1078.94 L1462.6 1059.91 L1463.1 1040.38 L1463.6 1020.84 L1464.1 1001.3 L1464.11 1000.79 L1464.6 1013.26 L1465.1 1026.05 L1465.6 1038.84 L1466.1 1051.64 L1466.6 1064.43 L1466.71 1067.32 L1467.1 1069.22 L1467.6 1071.24 L1468.1 1072.84 L1468.6 1074.12 L1469.1 1075.14 L1469.6 1075.96 L1470.1 1076.61 L1470.6 1077.14 L1471.1 1077.56 L1471.6 1077.89 L1472.1 1078.16 L1472.6 1078.38 L1473.1 1078.55 L1473.6 1078.7 L1474.1 1078.81 L1474.6 1078.91 L1475.1 1078.98 L1475.6 1079.05 L1476.1 1079.1 L1476.6 1079.14 L1477.1 1079.18 L1477.6 1079.22 L1478.1 1079.24 L1478.6 1079.27 L1479.1 1079.29 L1479.6 1079.31 L1480.1 1079.33 L1480.6 1079.34 L1481.1 1079.36 L1481.6 1079.37 L1481.92 1079.38 L1482.1 1072.31 L1482.6 1052.66 L1483.1 1033.02 L1483.6 1013.37 L1483.92 1000.8 L1484.1 1005.43 L1484.6 1018.29 L1485.1 1031.16 L1485.6 1044.03 L1486.1 1056.89 L1486.52 1067.7 L1486.6 1068.12 L1487.1 1070.45 L1487.6 1072.3 L1488.1 1073.78 L1488.6 1074.96 L1489.1 1075.9 L1489.6 1076.66 L1490.1 1077.26 L1490.6 1077.74 L1491.1 1078.13 L1491.6 1078.44 L1492.1 1078.69 L1492.6 1078.89 L1493.1 1079.05 L1493.6 1079.18 L1494.1 1079.29 L1494.6 1079.38 L1495.1 1079.45 L1495.6 1079.51 L1496.1 1079.56 L1496.6 1079.6 L1497.1 1079.64 L1497.6 1079.67 L1498.1 1079.7 L1498.6 1079.72 L1499.1 1079.74 L1499.6 1079.76 L1500.1 1079.78 L1500.6 1079.79 L1501.1 1079.8 L1501.6 1079.81 L1501.73 1079.82 L1502.1 1066.8 L1502.6 1049.34 L1503.1 1031.89 L1503.6 1014.43 L1503.73 1010 L1504.1 1018.52 L1504.6 1029.95 L1505.1 1041.38 L1505.6 1052.81 L1506.1 1064.24 L1506.33 1069.43 L1506.6 1070.65 L1507.1 1072.54 L1507.6 1074.05 L1508.1 1075.26 L1508.6 1076.22 L1509.1 1076.98 L1509.6 1077.6 L1510.1 1078.09 L1510.6 1078.48 L1511.1 1078.79 L1511.6 1079.04 L1512.1 1079.25 L1512.6 1079.41 L1513.1 1079.54 L1513.6 1079.65 L1514.1 1079.73 L1514.6 1079.8 L1515.1 1079.86 L1515.6 1079.91 L1516.1 1079.95 L1516.6 1079.98 L1517.1 1080.01 L1517.6 1080.04 L1518.1 1080.06 L1518.6 1080.08 L1519.1 1080.09 L1519.6 1080.11 L1520.1 1080.12 L1520.6 1080.13 L1521.1 1080.15 L1521.53 1080.16 L1521.6 1077.8 L1522.1 1059.96 L1522.6 1042.12 L1523.1 1024.28 L1523.53 1008.8 L1523.6 1010.34 L1524.1 1022.02 L1524.6 1033.7 L1525.1 1045.38 L1525.6 1057.06 L1526.1 1068.74 L1526.13 1069.53 L1526.6 1071.59 L1527.1 1073.36 L1527.6 1074.77 L1528.1 1075.89 L1528.6 1076.79 L1529.1 1077.51 L1529.6 1078.09 L1530.1 1078.55 L1530.6 1078.91 L1531.1 1079.21 L1531.6 1079.44 L1532.1 1079.63 L1532.6 1079.79 L1533.1 1079.91 L1533.6 1080.01 L1534.1 1080.09 L1534.6 1080.16 L1535.1 1080.21 L1535.6 1080.26 L1536.1 1080.3 L1536.6 1080.33 L1537.1 1080.36 L1537.6 1080.38 L1538.1 1080.4 L1538.6 1080.42 L1539.1 1080.43 L1539.6 1080.45 L1540.1 1080.46 L1540.6 1080.47 L1541.1 1080.49 L1541.34 1080.49 L1541.6 1071.98 L1542.1 1055.56 L1542.6 1039.14 L1543.1 1022.71 L1543.34 1014.8 L1543.6 1020.37 L1544.1 1031.12 L1544.6 1041.88 L1545.1 1052.63 L1545.6 1063.38 L1545.94 1070.72 L1546.1 1071.41 L1546.6 1073.28 L1547.1 1074.78 L1547.6 1075.97 L1548.1 1076.92 L1548.6 1077.68 L1549.1 1078.29 L1549.6 1078.77 L1550.1 1079.16 L1550.6 1079.47 L1551.1 1079.72 L1551.6 1079.92 L1552.1 1080.08 L1552.6 1080.22 L1553.1 1080.32 L1553.6 1080.41 L1554.1 1080.48 L1554.6 1080.53 L1555.1 1080.58 L1555.6 1080.62 L1556.1 1080.66 L1556.6 1080.68 L1557.1 1080.71 L1557.6 1080.73 L1558.1 1080.75 L1558.6 1080.76 L1559.1 1080.78 L1559.6 1080.79 L1560.1 1080.8 L1560.6 1080.82 L1561.1 1080.83 L1561.15 1080.83 L1561.6 1037.79 L1562.1 990.18 L1562.6 942.58 L1563.1 894.97 L1563.15 890.4 L1563.6 918.55 L1564.1 949.69 L1564.6 980.84 L1565.1 1011.98 L1565.6 1043.13 L1565.75 1052.34 L1566.1 1056.58 L1566.6 1061.53 L1567.1 1065.49 L1567.6 1068.64 L1568.1 1071.15 L1568.6 1073.15 L1569.1 1074.75 L1569.6 1076.02 L1570.1 1077.04 L1570.6 1077.85 L1571.1 1078.5 L1571.6 1079.02 L1572.1 1079.43 L1572.6 1079.76 L1573.1 1080.03 L1573.6 1080.24 L1574.1 1080.42 L1574.6 1080.56 L1575.1 1080.67 L1575.6 1080.76 L1576.1 1080.83 L1576.6 1080.9 L1577.1 1080.95 L1577.6 1080.99 L1578.1 1081.02 L1578.6 1081.05 L1579.1 1081.08 L1579.6 1081.1 L1580.1 1081.12 L1580.6 1081.14 L1580.95 1081.15 L1581.1 1080.57 L1581.6 1078.58 L1582.1 1076.59 L1582.6 1074.6 L1582.95 1073.19 L1583.1 1073.57 L1583.6 1074.89 L1584.1 1076.21 L1584.6 1077.53 L1585.1 1078.85 L1585.56 1080.05 L1585.6 1080.07 L1586.1 1080.32 L1586.6 1080.52 L1587.1 1080.68 L1587.6 1080.81 L1588.1 1080.92 L1588.6 1081 L1589.1 1081.07 L1589.6 1081.13 L1590.1 1081.18 L1590.6 1081.22 L1591.1 1081.25 L1591.6 1081.28 L1592.1 1081.3 L1592.6 1081.32 L1593.1 1081.34 L1593.6 1081.36 L1594.1 1081.37 L1594.6 1081.39 L1595.1 1081.4 L1595.6 1081.41 L1596.1 1081.42 L1596.6 1081.43 L1597.1 1081.44 L1597.6 1081.45 L1598.1 1081.46 L1598.6 1081.47 L1599.1 1081.48 L1599.6 1081.49 L1600.1 1081.5 L1600.6 1081.51 L1600.76 1081.51 L1601.1 1060.86 L1601.6 1030.3 L1602.1 999.75 L1602.6 969.2 L1602.76 959.3 L1603.1 972.81 L1603.6 992.8 L1604.1 1012.8 L1604.6 1032.79 L1605.1 1052.78 L1605.36 1063.25 L1605.6 1065.14 L1606.1 1068.49 L1606.6 1071.16 L1607.1 1073.3 L1607.6 1075 L1608.1 1076.35 L1608.6 1077.44 L1609.1 1078.3 L1609.6 1078.99 L1610.1 1079.54 L1610.6 1079.98 L1611.1 1080.34 L1611.6 1080.62 L1612.1 1080.85 L1612.6 1081.03 L1613.1 1081.18 L1613.6 1081.3 L1614.1 1081.39 L1614.6 1081.47 L1615.1 1081.54 L1615.6 1081.59 L1616.1 1081.63 L1616.6 1081.67 L1617.1 1081.7 L1617.6 1081.73 L1618.1 1081.75 L1618.6 1081.77 L1619.1 1081.79 L1619.6 1081.8 L1620.1 1081.82 L1620.57 1081.83 L1620.6 1079.81 L1621.1 1047.31 L1621.6 1014.8 L1622.1 982.29 L1622.57 951.79 L1622.6 953.11 L1623.1 974.38 L1623.6 995.66 L1624.1 1016.93 L1624.6 1038.2 L1625.1 1059.48 L1625.17 1062.41 L1625.6 1065.89 L1626.1 1069.16 L1626.6 1071.77 L1627.1 1073.85 L1627.6 1075.5 L1628.1 1076.83 L1628.6 1077.88 L1629.1 1078.72 L1629.6 1079.4 L1630.1 1079.93 L1630.6 1080.37 L1631.1 1080.71 L1631.6 1080.99 L1632.1 1081.21 L1632.6 1081.39 L1633.1 1081.53 L1633.6 1081.65 L1634.1 1081.74 L1634.6 1081.82 L1635.1 1081.88 L1635.6 1081.93 L1636.1 1081.98 L1636.6 1082.01 L1637.1 1082.04 L1637.6 1082.07 L1638.1 1082.09 L1638.6 1082.11 L1639.1 1082.13 L1639.6 1082.14 L1640.1 1082.16 L1640.38 1082.16 L1640.6 1069.92 L1641.1 1042.57 L1641.6 1015.23 L1642.1 987.89 L1642.38 972.79 L1642.6 980.81 L1643.1 998.71 L1643.6 1016.6 L1644.1 1034.5 L1644.6 1052.39 L1644.98 1065.85 L1645.1 1066.75 L1645.6 1069.91 L1646.1 1072.43 L1646.6 1074.44 L1647.1 1076.05 L1647.6 1077.33 L1648.1 1078.35 L1648.6 1079.16 L1649.1 1079.81 L1649.6 1080.33 L1650.1 1080.75 L1650.6 1081.08 L1651.1 1081.35 L1651.6 1081.57 L1652.1 1081.74 L1652.6 1081.88 L1653.1 1081.99 L1653.6 1082.08 L1654.1 1082.16 L1654.6 1082.22 L1655.1 1082.27 L1655.6 1082.31 L1656.1 1082.35 L1656.6 1082.38 L1657.1 1082.4 L1657.6 1082.42 L1658.1 1082.44 L1658.6 1082.46 L1659.1 1082.48 L1659.6 1082.49 L1660.1 1082.5 L1660.18 1082.5 L1660.6 1068.7 L1661.1 1052.15 L1661.6 1035.59 L1662.1 1019.04 L1662.18 1016.29 L1662.6 1025.33 L1663.1 1036.17 L1663.6 1047.01 L1664.1 1057.85 L1664.6 1068.69 L1664.78 1072.66 L1665.1 1074 L1665.6 1075.76 L1666.1 1077.16 L1666.6 1078.28 L1667.1 1079.17 L1667.6 1079.88 L1668.1 1080.45 L1668.6 1080.91 L1669.1 1081.27 L1669.6 1081.57 L1670.1 1081.8 L1670.6 1081.99 L1671.1 1082.14 L1671.6 1082.27 L1672.1 1082.37 L1672.6 1082.45 L1673.1 1082.51 L1673.6 1082.57 L1674.1 1082.61 L1674.6 1082.65 L1675.1 1082.68 L1675.6 1082.71 L1676.1 1082.73 L1676.6 1082.75 L1677.1 1082.77 L1677.6 1082.79 L1678.1 1082.8 L1678.6 1082.81 L1679.1 1082.83 L1679.6 1082.84 L1679.99 1082.85 L1680.1 1076.88 L1680.6 1049.74 L1681.1 1022.6 L1681.6 995.46 L1681.99 974.3 L1682.1 978.2 L1682.6 995.96 L1683.1 1013.72 L1683.6 1031.48 L1684.1 1049.24 L1684.59 1066.65 L1684.6 1066.72 L1685.1 1070.02 L1685.6 1072.66 L1686.1 1074.76 L1686.6 1076.44 L1687.1 1077.77 L1687.6 1078.84 L1688.1 1079.69 L1688.6 1080.37 L1689.1 1080.91 L1689.6 1081.35 L1690.1 1081.7 L1690.6 1081.98 L1691.1 1082.2 L1691.6 1082.38 L1692.1 1082.53 L1692.6 1082.64 L1693.1 1082.74 L1693.6 1082.82 L1694.1 1082.88 L1694.6 1082.93 L1695.1 1082.98 L1695.6 1083.01 L1696.1 1083.04 L1696.6 1083.07 L1697.1 1083.09 L1697.6 1083.11 L1698.1 1083.13 L1698.6 1083.14 L1699.1 1083.16 L1699.6 1083.17 L1699.8 1083.18 L1700.1 1066.45 L1700.6 1038.86 L1701.1 1011.26 L1701.6 983.67 L1701.8 972.79 L1702.1 983.74 L1702.6 1001.8 L1703.1 1019.86 L1703.6 1037.92 L1704.1 1055.98 L1704.4 1066.71 L1704.6 1068.17 L1705.1 1071.25 L1705.6 1073.7 L1706.1 1075.66 L1706.6 1077.22 L1707.1 1078.47 L1707.6 1079.46 L1708.1 1080.26 L1708.6 1080.89 L1709.1 1081.4 L1709.6 1081.8 L1710.1 1082.13 L1710.6 1082.39 L1711.1 1082.6 L1711.6 1082.77 L1712.1 1082.9 L1712.6 1083.01 L1713.1 1083.1 L1713.6 1083.18 L1714.1 1083.23 L1714.6 1083.28 L1715.1 1083.33 L1715.6 1083.36 L1716.1 1083.39 L1716.6 1083.41 L1717.1 1083.44 L1717.6 1083.45 L1718.1 1083.47 L1718.6 1083.49 L1719.1 1083.5 L1719.6 1083.51 L1719.6 1083.51 L1720.1 1038.6 L1720.6 993.32 L1721.1 948.04 L1721.6 902.76 L1721.6 902.39 L1722.1 931.78 L1722.6 961.4 L1723.1 991.02 L1723.6 1020.65 L1724.1 1050.27 L1724.2 1056.43 L1724.6 1060.91 L1725.1 1065.54 L1725.6 1069.22 L1726.1 1072.16 L1726.6 1074.5 L1727.1 1076.37 L1727.6 1077.86 L1728.1 1079.05 L1728.6 1080 L1729.1 1080.76 L1729.6 1081.36 L1730.1 1081.84 L1730.6 1082.23 L1731.1 1082.54 L1731.6 1082.79 L1732.1 1082.99 L1732.6 1083.15 L1733.1 1083.28 L1733.6 1083.39 L1734.1 1083.47 L1734.6 1083.54 L1735.1 1083.6 L1735.6 1083.65 L1736.1 1083.69 L1736.6 1083.72 L1737.1 1083.75 L1737.6 1083.77 L1738.1 1083.79 L1738.6 1083.81 L1739.1 1083.83 L1739.41 1083.84 L1739.6 1077.03 L1740.1 1059.02 L1740.6 1041.01 L1741.1 1022.99 L1741.41 1011.79 L1741.6 1016.25 L1742.1 1028.04 L1742.6 1039.84 L1743.1 1051.64 L1743.6 1063.43 L1744.01 1073.13 L1744.1 1073.56 L1744.6 1075.68 L1745.1 1077.37 L1745.6 1078.72 L1746.1 1079.79 L1746.6 1080.65 L1747.1 1081.34 L1747.6 1081.89 L1748.1 1082.33 L1748.6 1082.68 L1749.1 1082.96 L1749.6 1083.19 L1750.1 1083.37 L1750.6 1083.51 L1751.1 1083.63 L1751.6 1083.73 L1752.1 1083.81 L1752.6 1083.87 L1753.1 1083.92 L1753.6 1083.97 L1754.1 1084.01 L1754.6 1084.04 L1755.1 1084.06 L1755.6 1084.09 L1756.1 1084.11 L1756.6 1084.12 L1757.1 1084.14 L1757.6 1084.15 L1758.1 1084.17 L1758.6 1084.18 L1759.1 1084.19 L1759.22 1084.19 L1759.6 1070.82 L1760.1 1053.32 L1760.6 1035.82 L1761.1 1018.33 L1761.22 1014.2 L1761.6 1022.95 L1762.1 1034.41 L1762.6 1045.86 L1763.1 1057.32 L1763.6 1068.78 L1763.82 1073.77 L1764.1 1075.04 L1764.6 1076.93 L1765.1 1078.44 L1765.6 1079.64 L1766.1 1080.6 L1766.6 1081.36 L1767.1 1081.97 L1767.6 1082.46 L1768.1 1082.85 L1768.6 1083.17 L1769.1 1083.42 L1769.6 1083.62 L1770.1 1083.78 L1770.6 1083.91 L1771.1 1084.02 L1771.6 1084.11 L1772.1 1084.18 L1772.6 1084.24 L1773.1 1084.28 L1773.6 1084.32 L1774.1 1084.36 L1774.6 1084.39 L1775.1 1084.41 L1775.6 1084.43 L1776.1 1084.45 L1776.6 1084.47 L1777.1 1084.48 L1777.6 1084.49 L1778.1 1084.51 L1778.6 1084.52 L1779.03 1084.53 L1779.1 1081.86 L1779.6 1064.05 L1780.1 1046.24 L1780.6 1028.43 L1781.03 1013.3 L1781.1 1015.04 L1781.6 1026.7 L1782.1 1038.36 L1782.6 1050.02 L1783.1 1061.68 L1783.6 1073.34 L1783.62 1073.92 L1784.1 1076.01 L1784.6 1077.77 L1785.1 1079.17 L1785.6 1080.29 L1786.1 1081.19 L1786.6 1081.9 L1787.1 1082.47 L1787.6 1082.93 L1788.1 1083.29 L1788.6 1083.59 L1789.1 1083.82 L1789.6 1084.01 L1790.1 1084.16 L1790.6 1084.29 L1791.1 1084.39 L1791.6 1084.47 L1792.1 1084.53 L1792.6 1084.59 L1793.1 1084.63 L1793.6 1084.67 L1794.1 1084.7 L1794.6 1084.73 L1795.1 1084.75 L1795.6 1084.77 L1796.1 1084.79 L1796.6 1084.81 L1797.1 1084.82 L1797.6 1084.84 L1798.1 1084.85 L1798.6 1084.86 L1798.83 1084.86 L1799.1 1070.85 L1799.6 1044.71 L1800.1 1018.57 L1800.6 992.43 L1800.83 980.3 L1801.1 989.47 L1801.6 1006.57 L1802.1 1023.68 L1802.6 1040.79 L1803.1 1057.9 L1803.43 1069.26 L1803.6 1070.42 L1804.1 1073.38 L1804.6 1075.74 L1805.1 1077.63 L1805.6 1079.13 L1806.1 1080.33 L1806.6 1081.29 L1807.1 1082.05 L1807.6 1082.66 L1808.1 1083.15 L1808.6 1083.54 L1809.1 1083.86 L1809.6 1084.11 L1810.1 1084.31 L1810.6 1084.47 L1811.1 1084.6 L1811.6 1084.71 L1812.1 1084.8 L1812.6 1084.87 L1813.1 1084.92 L1813.6 1084.97 L1814.1 1085.01 L1814.6 1085.05 L1815.1 1085.07 L1815.6 1085.1 L1816.1 1085.12 L1816.6 1085.14 L1817.1 1085.15 L1817.6 1085.17 L1818.1 1085.18 L1818.6 1085.2 L1818.64 1085.2 L1819.1 1057.21 L1819.6 1026.86 L1820.1 996.51 L1820.6 966.16 L1820.64 963.79 L1821.1 982.11 L1821.6 1001.97 L1822.1 1021.83 L1822.6 1041.69 L1823.1 1061.55 L1823.24 1067.07 L1823.6 1069.83 L1824.1 1072.99 L1824.6 1075.5 L1825.1 1077.5 L1825.6 1079.1 L1826.1 1080.38 L1826.6 1081.39 L1827.1 1082.21 L1827.6 1082.85 L1828.1 1083.37 L1828.6 1083.79 L1829.1 1084.12 L1829.6 1084.39 L1830.1 1084.6 L1830.6 1084.77 L1831.1 1084.91 L1831.6 1085.02 L1832.1 1085.12 L1832.6 1085.19 L1833.1 1085.25 L1833.6 1085.3 L1834.1 1085.34 L1834.6 1085.38 L1835.1 1085.41 L1835.6 1085.43 L1836.1 1085.46 L1836.6 1085.47 L1837.1 1085.49 L1837.6 1085.51 L1838.1 1085.52 L1838.45 1085.53 L1838.6 1072.01 L1839.1 1028.1 L1839.6 984.19 L1840.1 940.28 L1840.45 909.89 L1840.6 918.74 L1841.1 947.47 L1841.6 976.19 L1842.1 1004.92 L1842.6 1033.65 L1843.05 1059.27 L1843.1 1059.91 L1843.6 1065.15 L1844.1 1069.32 L1844.6 1072.65 L1845.1 1075.3 L1845.6 1077.42 L1846.1 1079.1 L1846.6 1080.45 L1847.1 1081.52 L1847.6 1082.38 L1848.1 1083.06 L1848.6 1083.61 L1849.1 1084.05 L1849.6 1084.4 L1850.1 1084.68 L1850.6 1084.9 L1851.1 1085.09 L1851.6 1085.23 L1852.1 1085.35 L1852.6 1085.45 L1853.1 1085.52 L1853.6 1085.59 L1854.1 1085.64 L1854.6 1085.68 L1855.1 1085.72 L1855.6 1085.75 L1856.1 1085.78 L1856.6 1085.8 L1857.1 1085.82 L1857.6 1085.84 L1858.1 1085.85 L1858.25 1085.86 L1858.6 1085.22 L1859.1 1084.31 L1859.6 1083.39 L1860.1 1082.47 L1860.25 1082.19 L1860.6 1082.62 L1861.1 1083.24 L1861.6 1083.85 L1862.1 1084.47 L1862.6 1085.09 L1862.85 1085.4 L1863.1 1085.47 L1863.6 1085.58 L1864.1 1085.67 L1864.6 1085.74 L1865.1 1085.8 L1865.6 1085.85 L1866.1 1085.89 L1866.6 1085.92 L1867.1 1085.95 L1867.6 1085.98 L1868.1 1086 L1868.6 1086.02 L1869.1 1086.04 L1869.6 1086.05 L1870.1 1086.06 L1870.6 1086.08 L1871.1 1086.09 L1871.6 1086.1 L1872.1 1086.11 L1872.6 1086.12 L1873.1 1086.13 L1873.6 1086.14 L1874.1 1086.15 L1874.6 1086.16 L1875.1 1086.17 L1875.6 1086.18 L1876.1 1086.19 L1876.6 1086.19 L1877.1 1086.2 L1877.6 1086.21 L1878.06 1086.22 L1878.1 1084.9 L1878.6 1068.39 L1879.1 1051.89 L1879.6 1035.38 L1880.06 1020.2 L1880.1 1021.06 L1880.6 1031.87 L1881.1 1042.68 L1881.6 1053.48 L1882.1 1064.29 L1882.6 1075.09 L1882.66 1076.39 L1883.1 1078.19 L1883.6 1079.85 L1884.1 1081.17 L1884.6 1082.23 L1885.1 1083.07 L1885.6 1083.74 L1886.1 1084.28 L1886.6 1084.71 L1887.1 1085.06 L1887.6 1085.33 L1888.1 1085.56 L1888.6 1085.73 L1889.1 1085.88 L1889.6 1085.99 L1890.1 1086.09 L1890.6 1086.17 L1891.1 1086.23 L1891.6 1086.28 L1892.1 1086.32 L1892.6 1086.36 L1893.1 1086.39 L1893.6 1086.42 L1894.1 1086.44 L1894.6 1086.46 L1895.1 1086.48 L1895.6 1086.49 L1896.1 1086.51 L1896.6 1086.52 L1897.1 1086.53 L1897.6 1086.54 L1897.87 1086.55 L1898.1 1079.76 L1898.6 1065.2 L1899.1 1050.64 L1899.6 1036.07 L1899.87 1028.3 L1900.1 1032.74 L1900.6 1042.28 L1901.1 1051.82 L1901.6 1061.35 L1902.1 1070.89 L1902.47 1077.89 L1902.6 1078.41 L1903.1 1080.09 L1903.6 1081.43 L1904.1 1082.5 L1904.6 1083.35 L1905.1 1084.04 L1905.6 1084.58 L1906.1 1085.02 L1906.6 1085.37 L1907.1 1085.65 L1907.6 1085.87 L1908.1 1086.06 L1908.6 1086.2 L1909.1 1086.32 L1909.6 1086.41 L1910.1 1086.49 L1910.6 1086.56 L1911.1 1086.61 L1911.6 1086.65 L1912.1 1086.69 L1912.6 1086.72 L1913.1 1086.75 L1913.6 1086.77 L1914.1 1086.79 L1914.6 1086.81 L1915.1 1086.82 L1915.6 1086.84 L1916.1 1086.85 L1916.6 1086.86 L1917.1 1086.87 L1917.6 1086.88 L1917.67 1086.88 L1918.1 1061.31 L1918.6 1031.28 L1919.1 1001.26 L1919.6 971.24 L1919.67 966.8 L1920.1 983.53 L1920.6 1003.18 L1921.1 1022.82 L1921.6 1042.47 L1922.1 1062.12 L1922.27 1068.95 L1922.6 1071.44 L1923.1 1074.61 L1923.6 1077.13 L1924.1 1079.14 L1924.6 1080.75 L1925.1 1082.03 L1925.6 1083.05 L1926.1 1083.87 L1926.6 1084.52 L1927.1 1085.04 L1927.6 1085.46 L1928.1 1085.8 L1928.6 1086.06 L1929.1 1086.28 L1929.6 1086.45 L1930.1 1086.59 L1930.6 1086.7 L1931.1 1086.8 L1931.6 1086.87 L1932.1 1086.93 L1932.6 1086.98 L1933.1 1087.02 L1933.6 1087.06 L1934.1 1087.09 L1934.6 1087.11 L1935.1 1087.14 L1935.6 1087.16 L1936.1 1087.17 L1936.6 1087.19 L1937.1 1087.2 L1937.48 1087.21 L1937.6 1083.62 L1938.1 1068.51 L1938.6 1053.41 L1939.1 1038.3 L1939.48 1026.79 L1939.6 1029.15 L1940.1 1039.04 L1940.6 1048.93 L1941.1 1058.83 L1941.6 1068.72 L1942.08 1078.24 L1942.1 1078.31 L1942.6 1080.15 L1943.1 1081.62 L1943.6 1082.79 L1944.1 1083.72 L1944.6 1084.46 L1945.1 1085.06 L1945.6 1085.54 L1946.1 1085.92 L1946.6 1086.22 L1947.1 1086.47 L1947.6 1086.66 L1948.1 1086.82 L1948.6 1086.95 L1949.1 1087.05 L1949.6 1087.14 L1950.1 1087.21 L1950.6 1087.26 L1951.1 1087.31 L1951.6 1087.35 L1952.1 1087.38 L1952.6 1087.41 L1953.1 1087.43 L1953.6 1087.46 L1954.1 1087.47 L1954.6 1087.49 L1955.1 1087.5 L1955.6 1087.52 L1956.1 1087.53 L1956.6 1087.54 L1957.1 1087.55 L1957.29 1087.56 L1957.6 1075.27 L1958.1 1055.58 L1958.6 1035.89 L1959.1 1016.2 L1959.29 1008.8 L1959.6 1016.84 L1960.1 1029.73 L1960.6 1042.62 L1961.1 1055.51 L1961.6 1068.4 L1961.89 1075.82 L1962.1 1076.91 L1962.6 1079.1 L1963.1 1080.85 L1963.6 1082.24 L1964.1 1083.36 L1964.6 1084.24 L1965.1 1084.95 L1965.6 1085.52 L1966.1 1085.97 L1966.6 1086.34 L1967.1 1086.63 L1967.6 1086.86 L1968.1 1087.05 L1968.6 1087.2 L1969.1 1087.32 L1969.6 1087.42 L1970.1 1087.5 L1970.6 1087.57 L1971.1 1087.62 L1971.6 1087.67 L1972.1 1087.7 L1972.6 1087.74 L1973.1 1087.76 L1973.6 1087.79 L1974.1 1087.81 L1974.6 1087.82 L1975.1 1087.84 L1975.6 1087.85 L1976.1 1087.87 L1976.6 1087.88 L1977.1 1087.89 L1977.1 1087.88 L1977.6 1087.21 L1978.1 1086.54 L1978.6 1085.86 L1979.1 1085.2 L1979.1 1085.2 L1979.6 1085.66 L1980.1 1086.11 L1980.6 1086.57 L1981.1 1087.03 L1981.6 1087.48 L1981.69 1087.57 L1982.1 1087.65 L1982.6 1087.72 L1983.1 1087.79 L1983.6 1087.84 L1984.1 1087.88 L1984.6 1087.92 L1985.1 1087.95 L1985.6 1087.98 L1986.1 1088 L1986.6 1088.02 L1987.1 1088.04 L1987.6 1088.05 L1988.1 1088.07 L1988.6 1088.08 L1989.1 1088.09 L1989.6 1088.1 L1990.1 1088.11 L1990.6 1088.12 L1991.1 1088.13 L1991.6 1088.14 L1992.1 1088.15 L1992.6 1088.16 L1993.1 1088.17 L1993.6 1088.18 L1994.1 1088.19 L1994.6 1088.2" fill="none" stroke="#7068b8" stroke-width="2.3" stroke-linejoin="round"/>
</g>
<rect x="1034" y="744" width="974" height="409" fill="none" stroke="#1f1b1c" stroke-width="3.4"/>
<rect x="1195" y="744" width="41.6" height="407.5" fill="#adb6d8" style="mix-blend-mode:multiply"/>
<path d="M1194.2 742.5 V1152.3 H1237.4 V742.5" fill="none" stroke="#fff" stroke-width="1.5"/>
<rect x="1275.6" y="744" width="64.4" height="407.5" fill="#adb6d8" style="mix-blend-mode:multiply"/>
<path d="M1274.8 742.5 V1152.3 H1340.8 V742.5" fill="none" stroke="#fff" stroke-width="1.5"/>
<line x1="1207.4" y1="863" x2="1207.4" y2="963.2" stroke="#1b4685" stroke-width="3.7"/>
<path d="M1199.4 961.2 L1215.4 961.2 L1207.4 981.2 Z" fill="#1b4685"/>
<line x1="1287" y1="863" x2="1287" y2="963.2" stroke="#1b4685" stroke-width="3.7"/>
<path d="M1279 961.2 L1295 961.2 L1287 981.2 Z" fill="#1b4685"/>
<text x="1360.83" y="782.5" font-family="Liberation Sans" font-size="41.3" fill="#0c0c0c" textLength="175.75" lengthAdjust="spacingAndGlyphs" style="font-kerning:none" xml:space="preserve" stroke="#fff" stroke-width="0.5" stroke-opacity="0.8">Sample #4</text>
<text x="1571.39" y="782.5" font-family="Liberation Sans" font-size="41.3" fill="#0c0c0c" textLength="429.23" lengthAdjust="spacingAndGlyphs" style="font-kerning:none" xml:space="preserve" stroke="#fff" stroke-width="0.5" stroke-opacity="0.8">PCR result: SHV238S240E</text>
<g filter="url(#soft)">
<line x1="33" y1="1469.3" x2="972.5" y2="1469.3" stroke="#bdb7b6" stroke-width="1.9" stroke-dasharray="14 1.5"/>
<line x1="33" y1="1469.3" x2="38" y2="1469.3" stroke="#4b4547" stroke-width="2"/>
<text x="30.5" y="1473.8" font-family="Liberation Sans" font-weight="bold" font-size="12" fill="#5a5254" text-anchor="end" textLength="17" lengthAdjust="spacingAndGlyphs" opacity="0.85">100</text>
<line x1="33" y1="1544.5" x2="972.5" y2="1544.5" stroke="#bdb7b6" stroke-width="1.9" stroke-dasharray="14 1.5"/>
<line x1="33" y1="1544.5" x2="38" y2="1544.5" stroke="#4b4547" stroke-width="2"/>
<text x="30.5" y="1549" font-family="Liberation Sans" font-weight="bold" font-size="12" fill="#5a5254" text-anchor="end" textLength="13" lengthAdjust="spacingAndGlyphs" opacity="0.85">75</text>
<line x1="33" y1="1618.6" x2="972.5" y2="1618.6" stroke="#bdb7b6" stroke-width="1.9" stroke-dasharray="14 1.5"/>
<line x1="33" y1="1618.6" x2="38" y2="1618.6" stroke="#4b4547" stroke-width="2"/>
<text x="30.5" y="1623.1" font-family="Liberation Sans" font-weight="bold" font-size="12" fill="#5a5254" text-anchor="end" textLength="13" lengthAdjust="spacingAndGlyphs" opacity="0.85">50</text>
<line x1="33" y1="1693.2" x2="972.5" y2="1693.2" stroke="#bdb7b6" stroke-width="1.9" stroke-dasharray="14 1.5"/>
<line x1="33" y1="1693.2" x2="38" y2="1693.2" stroke="#4b4547" stroke-width="2"/>
<text x="30.5" y="1697.7" font-family="Liberation Sans" font-weight="bold" font-size="12" fill="#5a5254" text-anchor="end" textLength="13" lengthAdjust="spacingAndGlyphs" opacity="0.85">25</text>
<line x1="33" y1="1767.9" x2="972.5" y2="1767.9" stroke="#bdb7b6" stroke-width="1.9" stroke-dasharray="14 1.5"/>
<line x1="33" y1="1767.9" x2="38" y2="1767.9" stroke="#4b4547" stroke-width="2"/>
<text x="30.5" y="1772.4" font-family="Liberation Sans" font-weight="bold" font-size="12" fill="#5a5254" text-anchor="end" textLength="7" lengthAdjust="spacingAndGlyphs" opacity="0.85">0</text>
<text x="5.4" y="1418.5" font-family="Liberation Sans" font-weight="bold" font-size="12" fill="#5a5254" textLength="14" lengthAdjust="spacingAndGlyphs" opacity="0.85">85</text>
<line x1="33" y1="1424" x2="33" y2="1796" stroke="#6f6769" stroke-width="2.8"/>
<line x1="33" y1="1796" x2="972.5" y2="1796" stroke="#5f5759" stroke-width="2.6"/>
<line x1="67.41" y1="1790" x2="67.41" y2="1799" stroke="#4b4547" stroke-width="1.6"/>
<text x="67.41" y="1807" font-family="Liberation Sans" font-weight="bold" font-size="10.5" fill="#3d3638" stroke="#3d3638" stroke-width="0.5" text-anchor="middle">E</text>
<line x1="88.05" y1="1790" x2="88.05" y2="1799" stroke="#4b4547" stroke-width="1.6"/>
<text x="88.05" y="1807" font-family="Liberation Sans" font-weight="bold" font-size="10.5" fill="#3d3638" stroke="#3d3638" stroke-width="0.5" text-anchor="middle">S</text>
<line x1="108.7" y1="1790" x2="108.7" y2="1799" stroke="#4b4547" stroke-width="1.6"/>
<text x="108.7" y="1807" font-family="Liberation Sans" font-weight="bold" font-size="10.5" fill="#3d3638" stroke="#3d3638" stroke-width="0.5" text-anchor="middle">A</text>
<line x1="129.34" y1="1790" x2="129.34" y2="1799" stroke="#4b4547" stroke-width="1.6"/>
<text x="129.34" y="1807" font-family="Liberation Sans" font-weight="bold" font-size="10.5" fill="#3d3638" stroke="#3d3638" stroke-width="0.5" text-anchor="middle">C</text>
<line x1="149.98" y1="1790" x2="149.98" y2="1799" stroke="#4b4547" stroke-width="1.6"/>
<text x="149.98" y="1807" font-family="Liberation Sans" font-weight="bold" font-size="10.5" fill="#3d3638" stroke="#3d3638" stroke-width="0.5" text-anchor="middle">T</text>
<line x1="170.62" y1="1790" x2="170.62" y2="1799" stroke="#4b4547" stroke-width="1.6"/>
<text x="170.62" y="1807" font-family="Liberation Sans" font-weight="bold" font-size="10.5" fill="#3d3638" stroke="#3d3638" stroke-width="0.5" text-anchor="middle">G</text>
<line x1="191.27" y1="1790" x2="191.27" y2="1799" stroke="#4b4547" stroke-width="1.6"/>
<text x="191.27" y="1807" font-family="Liberation Sans" font-weight="bold" font-size="10.5" fill="#3d3638" stroke="#3d3638" stroke-width="0.5" text-anchor="middle">C</text>
<line x1="211.91" y1="1790" x2="211.91" y2="1799" stroke="#4b4547" stroke-width="1.6"/>
<text x="211.91" y="1807" font-family="Liberation Sans" font-weight="bold" font-size="10.5" fill="#3d3638" stroke="#3d3638" stroke-width="0.5" text-anchor="middle">T</text>
<line x1="232.55" y1="1790" x2="232.55" y2="1799" stroke="#4b4547" stroke-width="1.6"/>
<text x="232.55" y="1807" font-family="Liberation Sans" font-weight="bold" font-size="10.5" fill="#3d3638" stroke="#3d3638" stroke-width="0.5" text-anchor="middle">G</text>
<line x1="253.2" y1="1790" x2="253.2" y2="1799" stroke="#4b4547" stroke-width="1.6"/>
<text x="253.2" y="1807" font-family="Liberation Sans" font-weight="bold" font-size="10.5" fill="#3d3638" stroke="#3d3638" stroke-width="0.5" text-anchor="middle">A</text>
<line x1="273.84" y1="1790" x2="273.84" y2="1799" stroke="#4b4547" stroke-width="1.6"/>
<text x="273.84" y="1807" font-family="Liberation Sans" font-weight="bold" font-size="10.5" fill="#3d3638" stroke="#3d3638" stroke-width="0.5" text-anchor="middle">C</text>
<line x1="294.48" y1="1790" x2="294.48" y2="1799" stroke="#4b4547" stroke-width="1.6"/>
<text x="294.48" y="1807" font-family="Liberation Sans" font-weight="bold" font-size="10.5" fill="#3d3638" stroke="#3d3638" stroke-width="0.5" text-anchor="middle">T</text>
<line x1="315.13" y1="1790" x2="315.13" y2="1799" stroke="#4b4547" stroke-width="1.6"/>
<text x="315.13" y="1807" font-family="Liberation Sans" font-weight="bold" font-size="10.5" fill="#3d3638" stroke="#3d3638" stroke-width="0.5" text-anchor="middle">A</text>
<line x1="335.77" y1="1790" x2="335.77" y2="1799" stroke="#4b4547" stroke-width="1.6"/>
<text x="335.77" y="1807" font-family="Liberation Sans" font-weight="bold" font-size="10.5" fill="#3d3638" stroke="#3d3638" stroke-width="0.5" text-anchor="middle">G</text>
<line x1="356.41" y1="1790" x2="356.41" y2="1799" stroke="#4b4547" stroke-width="1.6"/>
<text x="356.41" y="1807" font-family="Liberation Sans" font-weight="bold" font-size="10.5" fill="#3d3638" stroke="#3d3638" stroke-width="0.5" text-anchor="middle">C</text>
<line x1="377.05" y1="1790" x2="377.05" y2="1799" stroke="#4b4547" stroke-width="1.6"/>
<text x="377.05" y="1807" font-family="Liberation Sans" font-weight="bold" font-size="10.5" fill="#3d3638" stroke="#3d3638" stroke-width="0.5" text-anchor="middle">G</text>
<line x1="397.7" y1="1790" x2="397.7" y2="1799" stroke="#4b4547" stroke-width="1.6"/>
<text x="397.7" y="1807" font-family="Liberation Sans" font-weight="bold" font-size="10.5" fill="#3d3638" stroke="#3d3638" stroke-width="0.5" text-anchor="middle">A</text>
<line x1="418.34" y1="1790" x2="418.34" y2="1799" stroke="#4b4547" stroke-width="1.6"/>
<text x="418.34" y="1807" font-family="Liberation Sans" font-weight="bold" font-size="10.5" fill="#3d3638" stroke="#3d3638" stroke-width="0.5" text-anchor="middle">G</text>
<line x1="438.98" y1="1790" x2="438.98" y2="1799" stroke="#4b4547" stroke-width="1.6"/>
<text x="438.98" y="1807" font-family="Liberation Sans" font-weight="bold" font-size="10.5" fill="#3d3638" stroke="#3d3638" stroke-width="0.5" text-anchor="middle">T</text>
<line x1="459.63" y1="1790" x2="459.63" y2="1799" stroke="#4b4547" stroke-width="1.6"/>
<text x="459.63" y="1807" font-family="Liberation Sans" font-weight="bold" font-size="10.5" fill="#3d3638" stroke="#3d3638" stroke-width="0.5" text-anchor="middle">C</text>
<line x1="480.27" y1="1790" x2="480.27" y2="1799" stroke="#4b4547" stroke-width="1.6"/>
<text x="480.27" y="1807" font-family="Liberation Sans" font-weight="bold" font-size="10.5" fill="#3d3638" stroke="#3d3638" stroke-width="0.5" text-anchor="middle">G</text>
<line x1="500.91" y1="1790" x2="500.91" y2="1799" stroke="#4b4547" stroke-width="1.6"/>
<text x="500.91" y="1807" font-family="Liberation Sans" font-weight="bold" font-size="10.5" fill="#3d3638" stroke="#3d3638" stroke-width="0.5" text-anchor="middle">A</text>
<line x1="521.56" y1="1790" x2="521.56" y2="1799" stroke="#4b4547" stroke-width="1.6"/>
<text x="521.56" y="1807" font-family="Liberation Sans" font-weight="bold" font-size="10.5" fill="#3d3638" stroke="#3d3638" stroke-width="0.5" text-anchor="middle">G</text>
<line x1="542.2" y1="1790" x2="542.2" y2="1799" stroke="#4b4547" stroke-width="1.6"/>
<text x="542.2" y="1807" font-family="Liberation Sans" font-weight="bold" font-size="10.5" fill="#3d3638" stroke="#3d3638" stroke-width="0.5" text-anchor="middle">T</text>
<line x1="562.84" y1="1790" x2="562.84" y2="1799" stroke="#4b4547" stroke-width="1.6"/>
<text x="562.84" y="1807" font-family="Liberation Sans" font-weight="bold" font-size="10.5" fill="#3d3638" stroke="#3d3638" stroke-width="0.5" text-anchor="middle">C</text>
<line x1="583.49" y1="1790" x2="583.49" y2="1799" stroke="#4b4547" stroke-width="1.6"/>
<text x="583.49" y="1807" font-family="Liberation Sans" font-weight="bold" font-size="10.5" fill="#3d3638" stroke="#3d3638" stroke-width="0.5" text-anchor="middle">T</text>
<line x1="604.13" y1="1790" x2="604.13" y2="1799" stroke="#4b4547" stroke-width="1.6"/>
<text x="604.13" y="1807" font-family="Liberation Sans" font-weight="bold" font-size="10.5" fill="#3d3638" stroke="#3d3638" stroke-width="0.5" text-anchor="middle">C</text>
<line x1="624.77" y1="1790" x2="624.77" y2="1799" stroke="#4b4547" stroke-width="1.6"/>
<text x="624.77" y="1807" font-family="Liberation Sans" font-weight="bold" font-size="10.5" fill="#3d3638" stroke="#3d3638" stroke-width="0.5" text-anchor="middle">A</text>
<line x1="645.41" y1="1790" x2="645.41" y2="1799" stroke="#4b4547" stroke-width="1.6"/>
<text x="645.41" y="1807" font-family="Liberation Sans" font-weight="bold" font-size="10.5" fill="#3d3638" stroke="#3d3638" stroke-width="0.5" text-anchor="middle">G</text>
<line x1="666.06" y1="1790" x2="666.06" y2="1799" stroke="#4b4547" stroke-width="1.6"/>
<text x="666.06" y="1807" font-family="Liberation Sans" font-weight="bold" font-size="10.5" fill="#3d3638" stroke="#3d3638" stroke-width="0.5" text-anchor="middle">C</text>
<line x1="686.7" y1="1790" x2="686.7" y2="1799" stroke="#4b4547" stroke-width="1.6"/>
<text x="686.7" y="1807" font-family="Liberation Sans" font-weight="bold" font-size="10.5" fill="#3d3638" stroke="#3d3638" stroke-width="0.5" text-anchor="middle">T</text>
<line x1="707.34" y1="1790" x2="707.34" y2="1799" stroke="#4b4547" stroke-width="1.6"/>
<text x="707.34" y="1807" font-family="Liberation Sans" font-weight="bold" font-size="10.5" fill="#3d3638" stroke="#3d3638" stroke-width="0.5" text-anchor="middle">C</text>
<line x1="727.99" y1="1790" x2="727.99" y2="1799" stroke="#4b4547" stroke-width="1.6"/>
<text x="727.99" y="1807" font-family="Liberation Sans" font-weight="bold" font-size="10.5" fill="#3d3638" stroke="#3d3638" stroke-width="0.5" text-anchor="middle">A</text>
<line x1="748.63" y1="1790" x2="748.63" y2="1799" stroke="#4b4547" stroke-width="1.6"/>
<text x="748.63" y="1807" font-family="Liberation Sans" font-weight="bold" font-size="10.5" fill="#3d3638" stroke="#3d3638" stroke-width="0.5" text-anchor="middle">G</text>
<line x1="769.27" y1="1790" x2="769.27" y2="1799" stroke="#4b4547" stroke-width="1.6"/>
<text x="769.27" y="1807" font-family="Liberation Sans" font-weight="bold" font-size="10.5" fill="#3d3638" stroke="#3d3638" stroke-width="0.5" text-anchor="middle">T</text>
<line x1="789.91" y1="1790" x2="789.91" y2="1799" stroke="#4b4547" stroke-width="1.6"/>
<text x="789.91" y="1807" font-family="Liberation Sans" font-weight="bold" font-size="10.5" fill="#3d3638" stroke="#3d3638" stroke-width="0.5" text-anchor="middle">C</text>
<line x1="810.56" y1="1790" x2="810.56" y2="1799" stroke="#4b4547" stroke-width="1.6"/>
<text x="810.56" y="1807" font-family="Liberation Sans" font-weight="bold" font-size="10.5" fill="#3d3638" stroke="#3d3638" stroke-width="0.5" text-anchor="middle">A</text>
<line x1="831.2" y1="1790" x2="831.2" y2="1799" stroke="#4b4547" stroke-width="1.6"/>
<text x="831.2" y="1807" font-family="Liberation Sans" font-weight="bold" font-size="10.5" fill="#3d3638" stroke="#3d3638" stroke-width="0.5" text-anchor="middle">G</text>
<line x1="851.84" y1="1790" x2="851.84" y2="1799" stroke="#4b4547" stroke-width="1.6"/>
<text x="851.84" y="1807" font-family="Liberation Sans" font-weight="bold" font-size="10.5" fill="#3d3638" stroke="#3d3638" stroke-width="0.5" text-anchor="middle">T</text>
<line x1="872.49" y1="1790" x2="872.49" y2="1799" stroke="#4b4547" stroke-width="1.6"/>
<text x="872.49" y="1807" font-family="Liberation Sans" font-weight="bold" font-size="10.5" fill="#3d3638" stroke="#3d3638" stroke-width="0.5" text-anchor="middle">C</text>
<line x1="893.13" y1="1790" x2="893.13" y2="1799" stroke="#4b4547" stroke-width="1.6"/>
<text x="893.13" y="1807" font-family="Liberation Sans" font-weight="bold" font-size="10.5" fill="#3d3638" stroke="#3d3638" stroke-width="0.5" text-anchor="middle">A</text>
<line x1="913.77" y1="1790" x2="913.77" y2="1799" stroke="#4b4547" stroke-width="1.6"/>
<text x="913.77" y="1807" font-family="Liberation Sans" font-weight="bold" font-size="10.5" fill="#3d3638" stroke="#3d3638" stroke-width="0.5" text-anchor="middle">G</text>
<line x1="934.42" y1="1790" x2="934.42" y2="1799" stroke="#4b4547" stroke-width="1.6"/>
<text x="934.42" y="1807" font-family="Liberation Sans" font-weight="bold" font-size="10.5" fill="#3d3638" stroke="#3d3638" stroke-width="0.5" text-anchor="middle">A</text>
<line x1="955.06" y1="1790" x2="955.06" y2="1799" stroke="#4b4547" stroke-width="1.6"/>
<text x="955.06" y="1807" font-family="Liberation Sans" font-weight="bold" font-size="10.5" fill="#3d3638" stroke="#3d3638" stroke-width="0.5" text-anchor="middle">C</text>
<text x="191.27" y="1817" font-family="Liberation Sans" font-weight="bold" font-size="10.5" fill="#3d3638" stroke="#3d3638" stroke-width="0.4" text-anchor="middle">5</text>
<text x="294.48" y="1817" font-family="Liberation Sans" font-weight="bold" font-size="10.5" fill="#3d3638" stroke="#3d3638" stroke-width="0.4" text-anchor="middle">10</text>
<text x="397.7" y="1817" font-family="Liberation Sans" font-weight="bold" font-size="10.5" fill="#3d3638" stroke="#3d3638" stroke-width="0.4" text-anchor="middle">15</text>
<text x="500.91" y="1817" font-family="Liberation Sans" font-weight="bold" font-size="10.5" fill="#3d3638" stroke="#3d3638" stroke-width="0.4" text-anchor="middle">20</text>
<text x="604.13" y="1817" font-family="Liberation Sans" font-weight="bold" font-size="10.5" fill="#3d3638" stroke="#3d3638" stroke-width="0.4" text-anchor="middle">25</text>
<text x="707.34" y="1817" font-family="Liberation Sans" font-weight="bold" font-size="10.5" fill="#3d3638" stroke="#3d3638" stroke-width="0.4" text-anchor="middle">30</text>
<text x="810.56" y="1817" font-family="Liberation Sans" font-weight="bold" font-size="10.5" fill="#3d3638" stroke="#3d3638" stroke-width="0.4" text-anchor="middle">35</text>
<text x="913.77" y="1817" font-family="Liberation Sans" font-weight="bold" font-size="10.5" fill="#3d3638" stroke="#3d3638" stroke-width="0.4" text-anchor="middle">40</text>
<path d="M35 1782.5 L35.5 1782.53 L36 1782.56 L36.5 1782.59 L37 1782.61 L37.5 1782.64 L38 1782.67 L38.5 1782.7 L39 1782.73 L39.5 1782.76 L40 1782.79 L40.5 1782.82 L41 1782.84 L41.5 1782.87 L42 1782.9 L42.5 1782.93 L43 1782.96 L43.5 1782.99 L44 1783.02 L44.5 1783.05 L45 1783.07 L45.5 1783.1 L46 1783.13 L46.5 1783.16 L47 1783.19 L47.5 1783.22 L48 1783.25 L48.5 1783.28 L49 1783.3 L49.5 1783.33 L50 1783.36 L50.5 1783.39 L51 1783.42 L51.5 1783.45 L52 1783.48 L52.5 1783.51 L53 1783.53 L53.5 1783.56 L54 1783.59 L54.5 1783.62 L55 1783.65 L55.5 1783.68 L56 1783.71 L56.5 1783.74 L57 1783.76 L57.5 1783.79 L58 1783.82 L58.5 1783.85 L59 1783.88 L59.5 1783.91 L60 1783.94 L60.5 1783.97 L61 1783.99 L61.5 1784.02 L62 1784.05 L62.5 1784.08 L63 1784.11 L63.5 1784.14 L64 1784.17 L64.5 1784.2 L65 1784.22 L65.5 1784.25 L66 1784.28 L66.5 1784.31 L67 1784.34 L67.5 1784.37 L68 1784.4 L68.5 1784.43 L69 1784.45 L69.5 1784.48 L70 1784.51 L70.5 1784.54 L71 1784.57 L71.5 1784.6 L72 1784.63 L72.5 1784.66 L73 1784.68 L73.5 1784.71 L74 1784.74 L74.5 1784.77 L75 1784.8 L75.5 1784.83 L76 1784.86 L76.5 1784.89 L77 1784.91 L77.5 1784.94 L78 1784.97 L78.5 1785 L79 1785.03 L79.5 1785.06 L80 1785.09 L80.5 1785.11 L81 1785.14 L81.5 1785.17 L82 1785.2 L82.5 1785.23 L83 1785.26 L83.5 1785.29 L84 1785.32 L84.5 1785.34 L85 1785.37 L85.5 1785.4 L86 1785.43 L86.5 1785.46 L87 1785.49 L87.2 1785.5 L87.2 1754.7 L87.5 1756.02 L88 1757.9 L88.5 1759.45 L89 1760.71 L89.5 1761.75 L90 1762.6 L90.5 1763.3 L91 1763.87 L91.5 1764.34 L92 1764.72 L92.5 1765.04 L93 1765.3 L93.5 1765.52 L94 1765.69 L94.5 1765.84 L95 1765.96 L95.5 1766.06 L96 1766.14 L96.5 1766.21 L97 1766.27 L97.5 1766.31 L98 1766.36 L98.5 1766.39 L99 1766.42 L99.5 1766.44 L100 1766.46 L100.5 1766.48 L101 1766.5 L101.5 1766.51 L102 1766.53 L102.5 1766.54 L103 1766.55 L103.5 1766.56 L104 1766.57 L104.5 1766.57 L105 1766.58 L105.5 1766.59 L106 1766.6 L106.5 1766.6 L107 1766.61 L107.2 1766.61 L107.5 1765.45 L108 1763.55 L108.5 1761.65 L109 1759.74 L109.2 1759 L109.5 1759.78 L110 1761.05 L110.5 1762.33 L111 1763.61 L111.5 1764.89 L111.6 1765.14 L112 1765.38 L112.5 1765.63 L113 1765.83 L113.5 1765.99 L114 1766.13 L114.5 1766.24 L115 1766.33 L115.5 1766.41 L116 1766.47 L116.5 1766.52 L117 1766.56 L117.5 1766.6 L118 1766.63 L118.5 1766.66 L119 1766.68 L119.5 1766.7 L120 1766.71 L120.5 1766.73 L121 1766.74 L121.5 1766.75 L122 1766.76 L122.5 1766.77 L123 1766.78 L123.5 1766.79 L124 1766.8 L124.5 1766.8 L125 1766.81 L125.5 1766.82 L126 1766.82 L126.5 1766.83 L127 1766.84 L127.5 1766.84 L127.84 1766.85 L128 1762.57 L128.5 1749.28 L129 1735.99 L129.5 1722.71 L129.84 1713.7 L130 1716.55 L130.5 1725.42 L131 1734.29 L131.5 1743.16 L132 1752.02 L132.24 1756.26 L132.5 1757.36 L133 1759.16 L133.5 1760.62 L134 1761.81 L134.5 1762.78 L135 1763.56 L135.5 1764.2 L136 1764.72 L136.5 1765.14 L137 1765.49 L137.5 1765.77 L138 1766 L138.5 1766.18 L139 1766.34 L139.5 1766.46 L140 1766.56 L140.5 1766.65 L141 1766.72 L141.5 1766.78 L142 1766.82 L142.5 1766.86 L143 1766.9 L143.5 1766.93 L144 1766.95 L144.5 1766.97 L145 1766.99 L145.5 1767 L146 1767.02 L146.5 1767.03 L147 1767.04 L147.5 1767.05 L148 1767.06 L148.48 1767.07 L148.5 1767.04 L149 1766.27 L149.5 1765.5 L150 1764.74 L150.48 1763.99 L150.5 1764.01 L151 1764.54 L151.5 1765.06 L152 1765.58 L152.5 1766.11 L152.88 1766.51 L153 1766.54 L153.5 1766.65 L154 1766.75 L154.5 1766.83 L155 1766.89 L155.5 1766.95 L156 1766.99 L156.5 1767.03 L157 1767.06 L157.5 1767.09 L158 1767.11 L158.5 1767.13 L159 1767.15 L159.5 1767.16 L160 1767.18 L160.5 1767.19 L161 1767.2 L161.5 1767.21 L162 1767.22 L162.5 1767.22 L163 1767.23 L163.5 1767.24 L164 1767.25 L164.5 1767.25 L165 1767.26 L165.5 1767.27 L166 1767.27 L166.5 1767.28 L167 1767.29 L167.5 1767.29 L168 1767.3 L168.5 1767.3 L169 1767.31 L169.12 1767.31 L169.5 1758.08 L170 1745.78 L170.5 1733.48 L171 1721.18 L171.12 1718.1 L171.5 1724.26 L172 1732.47 L172.5 1740.68 L173 1748.89 L173.5 1757.1 L173.53 1757.51 L174 1759.29 L174.5 1760.81 L175 1762.05 L175.5 1763.06 L176 1763.88 L176.5 1764.54 L177 1765.08 L177.5 1765.53 L178 1765.88 L178.5 1766.18 L179 1766.42 L179.5 1766.61 L180 1766.77 L180.5 1766.9 L181 1767.01 L181.5 1767.09 L182 1767.17 L182.5 1767.23 L183 1767.28 L183.5 1767.32 L184 1767.35 L184.5 1767.38 L185 1767.41 L185.5 1767.43 L186 1767.45 L186.5 1767.46 L187 1767.48 L187.5 1767.49 L188 1767.5 L188.5 1767.51 L189 1767.52 L189.5 1767.53 L189.77 1767.53 L190 1753.14 L190.5 1722.13 L191 1691.13 L191.5 1660.12 L191.77 1643.5 L192 1653.09 L192.5 1673.78 L193 1694.46 L193.5 1715.14 L194 1735.83 L194.17 1742.78 L194.5 1745.99 L195 1750.06 L195.5 1753.36 L196 1756.05 L196.5 1758.23 L197 1760 L197.5 1761.44 L198 1762.61 L198.5 1763.56 L199 1764.33 L199.5 1764.96 L200 1765.47 L200.5 1765.89 L201 1766.23 L201.5 1766.5 L202 1766.73 L202.5 1766.91 L203 1767.06 L203.5 1767.19 L204 1767.29 L204.5 1767.37 L205 1767.44 L205.5 1767.5 L206 1767.55 L206.5 1767.58 L207 1767.62 L207.5 1767.65 L208 1767.67 L208.5 1767.69 L209 1767.71 L209.5 1767.72 L210 1767.74 L210.41 1767.75 L210.5 1765.6 L211 1753.56 L211.5 1741.53 L212 1729.49 L212.41 1719.59 L212.5 1721.02 L213 1729.06 L213.5 1737.1 L214 1745.14 L214.5 1753.18 L214.81 1758.18 L215 1758.91 L215.5 1760.59 L216 1761.96 L216.5 1763.07 L217 1763.97 L217.5 1764.71 L218 1765.31 L218.5 1765.79 L219 1766.19 L219.5 1766.51 L220 1766.77 L220.5 1766.99 L221 1767.16 L221.5 1767.3 L222 1767.42 L222.5 1767.52 L223 1767.6 L223.5 1767.66 L224 1767.72 L224.5 1767.76 L225 1767.8 L225.5 1767.83 L226 1767.86 L226.5 1767.88 L227 1767.9 L227.5 1767.92 L228 1767.93 L228.5 1767.94 L229 1767.96 L229.5 1767.97 L230 1767.98 L230.5 1767.99 L231 1767.99 L231.05 1767.99 L231.5 1732.07 L232 1691.8 L232.5 1651.52 L233 1611.24 L233.05 1606.9 L233.5 1630.86 L234 1657.72 L234.5 1684.58 L235 1711.44 L235.45 1735.83 L235.5 1736.44 L236 1742.39 L236.5 1747.22 L237 1751.15 L237.5 1754.34 L238 1756.93 L238.5 1759.03 L239 1760.74 L239.5 1762.13 L240 1763.26 L240.5 1764.18 L241 1764.92 L241.5 1765.53 L242 1766.02 L242.5 1766.42 L243 1766.75 L243.5 1767.02 L244 1767.24 L244.5 1767.41 L245 1767.56 L245.5 1767.68 L246 1767.78 L246.5 1767.86 L247 1767.92 L247.5 1767.98 L248 1768.02 L248.5 1768.06 L249 1768.09 L249.5 1768.12 L250 1768.14 L250.5 1768.16 L251 1768.18 L251.5 1768.19 L251.7 1768.2 L252 1759.5 L252.5 1745.15 L253 1730.8 L253.5 1716.44 L253.7 1710.78 L254 1716.59 L254.5 1726.18 L255 1735.76 L255.5 1745.35 L256 1754.93 L256.1 1756.79 L256.5 1758.57 L257 1760.4 L257.5 1761.89 L258 1763.11 L258.5 1764.09 L259 1764.89 L259.5 1765.54 L260 1766.07 L260.5 1766.5 L261 1766.85 L261.5 1767.14 L262 1767.37 L262.5 1767.56 L263 1767.72 L263.5 1767.84 L264 1767.95 L264.5 1768.03 L265 1768.11 L265.5 1768.16 L266 1768.21 L266.5 1768.25 L267 1768.29 L267.5 1768.32 L268 1768.34 L268.5 1768.36 L269 1768.38 L269.5 1768.39 L270 1768.41 L270.5 1768.42 L271 1768.43 L271.5 1768.44 L272 1768.45 L272.34 1768.46 L272.5 1761.04 L273 1737.85 L273.5 1714.65 L274 1691.46 L274.34 1675.69 L274.5 1680.65 L275 1696.12 L275.5 1711.59 L276 1727.06 L276.5 1742.53 L276.74 1749.96 L277 1751.87 L277.5 1755 L278 1757.55 L278.5 1759.62 L279 1761.31 L279.5 1762.67 L280 1763.78 L280.5 1764.69 L281 1765.42 L281.5 1766.02 L282 1766.5 L282.5 1766.9 L283 1767.22 L283.5 1767.48 L284 1767.7 L284.5 1767.87 L285 1768.02 L285.5 1768.13 L286 1768.23 L286.5 1768.31 L287 1768.38 L287.5 1768.43 L288 1768.47 L288.5 1768.51 L289 1768.54 L289.5 1768.57 L290 1768.59 L290.5 1768.61 L291 1768.63 L291.5 1768.64 L292 1768.66 L292.5 1768.67 L292.98 1768.68 L293 1768.02 L293.5 1748.65 L294 1729.28 L294.5 1709.91 L294.98 1691.19 L295 1691.63 L295.5 1704.56 L296 1717.49 L296.5 1730.41 L297 1743.34 L297.38 1753.24 L297.5 1753.98 L298 1756.76 L298.5 1759.03 L299 1760.86 L299.5 1762.35 L300 1763.57 L300.5 1764.55 L301 1765.35 L301.5 1766.01 L302 1766.54 L302.5 1766.97 L303 1767.32 L303.5 1767.61 L304 1767.84 L304.5 1768.03 L305 1768.19 L305.5 1768.31 L306 1768.42 L306.5 1768.51 L307 1768.58 L307.5 1768.63 L308 1768.68 L308.5 1768.72 L309 1768.76 L309.5 1768.79 L310 1768.81 L310.5 1768.83 L311 1768.85 L311.5 1768.87 L312 1768.88 L312.5 1768.89 L313 1768.9 L313.5 1768.91 L313.63 1768.91 L314 1768.18 L314.5 1767.2 L315 1766.22 L315.5 1765.24 L315.63 1764.99 L316 1765.49 L316.5 1766.16 L317 1766.82 L317.5 1767.49 L318 1768.15 L318.03 1768.19 L318.5 1768.34 L319 1768.46 L319.5 1768.57 L320 1768.66 L320.5 1768.73 L321 1768.79 L321.5 1768.83 L322 1768.87 L322.5 1768.91 L323 1768.94 L323.5 1768.96 L324 1768.98 L324.5 1769 L325 1769.02 L325.5 1769.03 L326 1769.04 L326.5 1769.05 L327 1769.06 L327.5 1769.07 L328 1769.08 L328.5 1769.09 L329 1769.1 L329.5 1769.1 L330 1769.11 L330.5 1769.12 L331 1769.12 L331.5 1769.13 L332 1769.14 L332.5 1769.14 L333 1769.15 L333.5 1769.15 L334 1769.16 L334.27 1769.16 L334.5 1745.69 L335 1694.87 L335.5 1644.05 L336 1593.24 L336.27 1565.9 L336.5 1581.56 L337 1615.44 L337.5 1649.33 L338 1683.22 L338.5 1717.1 L338.67 1728.56 L339 1733.8 L339.5 1740.46 L340 1745.88 L340.5 1750.28 L341 1753.85 L341.5 1756.75 L342 1759.1 L342.5 1761.02 L343 1762.57 L343.5 1763.84 L344 1764.86 L344.5 1765.7 L345 1766.38 L345.5 1766.93 L346 1767.38 L346.5 1767.75 L347 1768.04 L347.5 1768.29 L348 1768.49 L348.5 1768.65 L349 1768.78 L349.5 1768.89 L350 1768.98 L350.5 1769.05 L351 1769.11 L351.5 1769.16 L352 1769.21 L352.5 1769.24 L353 1769.27 L353.5 1769.3 L354 1769.32 L354.5 1769.34 L354.91 1769.35 L355 1763.55 L355.5 1730.61 L356 1697.67 L356.5 1664.73 L356.91 1637.58 L357 1641.45 L357.5 1663.43 L358 1685.41 L358.5 1707.38 L359 1729.36 L359.31 1743.07 L359.5 1745.06 L360 1749.65 L360.5 1753.38 L361 1756.41 L361.5 1758.87 L362 1760.87 L362.5 1762.49 L363 1763.81 L363.5 1764.89 L364 1765.76 L364.5 1766.47 L365 1767.04 L365.5 1767.51 L366 1767.9 L366.5 1768.21 L367 1768.46 L367.5 1768.67 L368 1768.84 L368.5 1768.98 L369 1769.09 L369.5 1769.18 L370 1769.26 L370.5 1769.32 L371 1769.37 L371.5 1769.42 L372 1769.45 L372.5 1769.49 L373 1769.51 L373.5 1769.53 L374 1769.55 L374.5 1769.57 L375 1769.58 L375.5 1769.6 L375.56 1769.6 L376 1744.79 L376.5 1716.91 L377 1689.03 L377.5 1661.15 L377.56 1658.09 L378 1674.64 L378.5 1693.24 L379 1711.84 L379.5 1730.44 L379.95 1747.36 L380 1747.78 L380.5 1751.9 L381 1755.25 L381.5 1757.97 L382 1760.18 L382.5 1761.98 L383 1763.44 L383.5 1764.62 L384 1765.59 L384.5 1766.37 L385 1767.01 L385.5 1767.53 L386 1767.95 L386.5 1768.29 L387 1768.57 L387.5 1768.8 L388 1768.99 L388.5 1769.14 L389 1769.26 L389.5 1769.37 L390 1769.45 L390.5 1769.52 L391 1769.58 L391.5 1769.62 L392 1769.66 L392.5 1769.7 L393 1769.73 L393.5 1769.75 L394 1769.77 L394.5 1769.79 L395 1769.8 L395.5 1769.82 L396 1769.83 L396.2 1769.83 L396.5 1756.72 L397 1735.01 L397.5 1713.3 L398 1691.59 L398.2 1682.99 L398.5 1691.74 L399 1706.23 L399.5 1720.71 L400 1735.2 L400.5 1749.69 L400.6 1752.53 L401 1755.21 L401.5 1757.98 L402 1760.23 L402.5 1762.06 L403 1763.55 L403.5 1764.75 L404 1765.74 L404.5 1766.53 L405 1767.18 L405.5 1767.71 L406 1768.14 L406.5 1768.49 L407 1768.77 L407.5 1769.01 L408 1769.2 L408.5 1769.35 L409 1769.48 L409.5 1769.58 L410 1769.67 L410.5 1769.74 L411 1769.8 L411.5 1769.85 L412 1769.89 L412.5 1769.92 L413 1769.95 L413.5 1769.97 L414 1769.99 L414.5 1770.01 L415 1770.03 L415.5 1770.04 L416 1770.05 L416.5 1770.06 L416.84 1770.07 L417 1766.29 L417.5 1754.39 L418 1742.5 L418.5 1730.6 L418.84 1722.49 L419 1725.02 L419.5 1732.96 L420 1740.9 L420.5 1748.84 L421 1756.79 L421.24 1760.61 L421.5 1761.59 L422 1763.21 L422.5 1764.52 L423 1765.58 L423.5 1766.45 L424 1767.15 L424.5 1767.73 L425 1768.19 L425.5 1768.57 L426 1768.88 L426.5 1769.13 L427 1769.34 L427.5 1769.51 L428 1769.65 L428.5 1769.76 L429 1769.85 L429.5 1769.93 L430 1769.99 L430.5 1770.04 L431 1770.09 L431.5 1770.12 L432 1770.15 L432.5 1770.18 L433 1770.2 L433.5 1770.22 L434 1770.24 L434.5 1770.25 L435 1770.26 L435.5 1770.28 L436 1770.29 L436.5 1770.3 L437 1770.3 L437.48 1770.31 L437.5 1769.13 L438 1732.3 L438.5 1695.48 L439 1658.65 L439.48 1623 L439.5 1623.78 L440 1648.35 L440.5 1672.91 L441 1697.47 L441.5 1722.04 L441.88 1740.9 L442 1742.29 L442.5 1747.58 L443 1751.87 L443.5 1755.36 L444 1758.19 L444.5 1760.49 L445 1762.36 L445.5 1763.88 L446 1765.11 L446.5 1766.12 L447 1766.93 L447.5 1767.6 L448 1768.14 L448.5 1768.57 L449 1768.93 L449.5 1769.22 L450 1769.46 L450.5 1769.66 L451 1769.81 L451.5 1769.94 L452 1770.05 L452.5 1770.14 L453 1770.21 L453.5 1770.27 L454 1770.32 L454.5 1770.36 L455 1770.39 L455.5 1770.42 L456 1770.45 L456.5 1770.47 L457 1770.49 L457.5 1770.5 L458 1770.52 L458.13 1770.52 L458.5 1749.27 L459 1720.79 L459.5 1692.31 L460 1663.82 L460.13 1656.59 L460.5 1670.76 L461 1689.77 L461.5 1708.77 L462 1727.77 L462.5 1746.78 L462.53 1747.8 L463 1751.89 L463.5 1755.41 L464 1758.28 L464.5 1760.6 L465 1762.49 L465.5 1764.03 L466 1765.28 L466.5 1766.29 L467 1767.12 L467.5 1767.79 L468 1768.33 L468.5 1768.78 L469 1769.14 L469.5 1769.43 L470 1769.67 L470.5 1769.87 L471 1770.03 L471.5 1770.16 L472 1770.27 L472.5 1770.36 L473 1770.43 L473.5 1770.49 L474 1770.54 L474.5 1770.58 L475 1770.62 L475.5 1770.65 L476 1770.67 L476.5 1770.69 L477 1770.71 L477.5 1770.73 L478 1770.74 L478.5 1770.75 L478.77 1770.76 L479 1752.27 L479.5 1712.08 L480 1671.89 L480.5 1631.69 L480.77 1609.99 L481 1622.32 L481.5 1649.13 L482 1675.93 L482.5 1702.74 L483 1729.54 L483.17 1738.66 L483.5 1742.79 L484 1748.06 L484.5 1752.35 L485 1755.83 L485.5 1758.65 L486 1760.95 L486.5 1762.81 L487 1764.32 L487.5 1765.55 L488 1766.55 L488.5 1767.36 L489 1768.02 L489.5 1768.56 L490 1769 L490.5 1769.35 L491 1769.64 L491.5 1769.87 L492 1770.07 L492.5 1770.22 L493 1770.35 L493.5 1770.45 L494 1770.54 L494.5 1770.61 L495 1770.66 L495.5 1770.71 L496 1770.75 L496.5 1770.78 L497 1770.81 L497.5 1770.83 L498 1770.85 L498.5 1770.87 L499 1770.88 L499.41 1770.89 L499.5 1767.36 L500 1747.09 L500.5 1726.81 L501 1706.53 L501.41 1689.78 L501.5 1692.14 L502 1705.67 L502.5 1719.2 L503 1732.72 L503.5 1746.25 L503.81 1754.72 L504 1755.94 L504.5 1758.77 L505 1761.06 L505.5 1762.93 L506 1764.44 L506.5 1765.67 L507 1766.67 L507.5 1767.49 L508 1768.15 L508.5 1768.68 L509 1769.12 L509.5 1769.47 L510 1769.76 L510.5 1770 L511 1770.19 L511.5 1770.35 L512 1770.47 L512.5 1770.58 L513 1770.66 L513.5 1770.73 L514 1770.79 L514.5 1770.84 L515 1770.87 L515.5 1770.91 L516 1770.93 L516.5 1770.96 L517 1770.97 L517.5 1770.99 L518 1771 L518.5 1771.01 L519 1771.02 L519.5 1771.03 L520 1771.04 L520.06 1771.04 L520.5 1761.13 L521 1749.97 L521.5 1738.81 L522 1727.64 L522.06 1726.39 L522.5 1733.01 L523 1740.46 L523.5 1747.91 L524 1755.36 L524.46 1762.15 L524.5 1762.31 L525 1763.97 L525.5 1765.31 L526 1766.4 L526.5 1767.29 L527 1768.01 L527.5 1768.59 L528 1769.07 L528.5 1769.46 L529 1769.77 L529.5 1770.03 L530 1770.24 L530.5 1770.41 L531 1770.55 L531.5 1770.66 L532 1770.75 L532.5 1770.83 L533 1770.89 L533.5 1770.94 L534 1770.98 L534.5 1771.02 L535 1771.05 L535.5 1771.07 L536 1771.09 L536.5 1771.11 L537 1771.12 L537.5 1771.13 L538 1771.15 L538.5 1771.15 L539 1771.16 L539.5 1771.17 L540 1771.18 L540.5 1771.18 L540.7 1771.18 L541 1763.3 L541.5 1750.2 L542 1737.11 L542.5 1724.01 L542.7 1718.8 L543 1724.06 L543.5 1732.79 L544 1741.53 L544.5 1750.27 L545 1759.01 L545.1 1760.74 L545.5 1762.36 L546 1764.03 L546.5 1765.38 L547 1766.49 L547.5 1767.38 L548 1768.11 L548.5 1768.7 L549 1769.18 L549.5 1769.58 L550 1769.89 L550.5 1770.15 L551 1770.36 L551.5 1770.54 L552 1770.68 L552.5 1770.79 L553 1770.88 L553.5 1770.96 L554 1771.02 L554.5 1771.08 L555 1771.12 L555.5 1771.15 L556 1771.18 L556.5 1771.21 L557 1771.23 L557.5 1771.24 L558 1771.26 L558.5 1771.27 L559 1771.28 L559.5 1771.29 L560 1771.3 L560.5 1771.31 L561 1771.31 L561.34 1771.32 L561.5 1761.27 L562 1729.49 L562.5 1697.71 L563 1665.93 L563.34 1644.19 L563.5 1650.89 L564 1672.09 L564.5 1693.28 L565 1714.48 L565.5 1735.67 L565.74 1745.93 L566 1748.52 L566.5 1752.82 L567 1756.31 L567.5 1759.14 L568 1761.45 L568.5 1763.32 L569 1764.83 L569.5 1766.07 L570 1767.07 L570.5 1767.89 L571 1768.55 L571.5 1769.09 L572 1769.52 L572.5 1769.88 L573 1770.17 L573.5 1770.4 L574 1770.6 L574.5 1770.75 L575 1770.88 L575.5 1770.98 L576 1771.07 L576.5 1771.14 L577 1771.2 L577.5 1771.24 L578 1771.28 L578.5 1771.32 L579 1771.34 L579.5 1771.36 L580 1771.38 L580.5 1771.4 L581 1771.41 L581.5 1771.42 L581.99 1771.43 L582 1770.97 L582.5 1755.51 L583 1740.05 L583.5 1724.59 L583.99 1709.59 L584 1709.9 L584.5 1720.22 L585 1730.53 L585.5 1740.85 L586 1751.17 L586.38 1759.11 L586.5 1759.69 L587 1761.91 L587.5 1763.72 L588 1765.19 L588.5 1766.38 L589 1767.34 L589.5 1768.13 L590 1768.77 L590.5 1769.29 L591 1769.71 L591.5 1770.06 L592 1770.33 L592.5 1770.56 L593 1770.75 L593.5 1770.9 L594 1771.02 L594.5 1771.12 L595 1771.21 L595.5 1771.27 L596 1771.33 L596.5 1771.37 L597 1771.41 L597.5 1771.44 L598 1771.47 L598.5 1771.49 L599 1771.51 L599.5 1771.52 L600 1771.54 L600.5 1771.55 L601 1771.56 L601.5 1771.57 L602 1771.57 L602.5 1771.58 L602.63 1771.58 L603 1755.42 L603.5 1733.7 L604 1711.98 L604.5 1690.25 L604.63 1684.69 L605 1695.47 L605.5 1709.96 L606 1724.45 L606.5 1738.94 L607 1753.43 L607.03 1754.24 L607.5 1757.35 L608 1760.04 L608.5 1762.22 L609 1763.99 L609.5 1765.44 L610 1766.61 L610.5 1767.56 L611 1768.33 L611.5 1768.96 L612 1769.47 L612.5 1769.88 L613 1770.22 L613.5 1770.5 L614 1770.72 L614.5 1770.9 L615 1771.05 L615.5 1771.17 L616 1771.27 L616.5 1771.35 L617 1771.42 L617.5 1771.47 L618 1771.52 L618.5 1771.55 L619 1771.58 L619.5 1771.61 L620 1771.63 L620.5 1771.65 L621 1771.66 L621.5 1771.68 L622 1771.69 L622.5 1771.7 L623 1771.71 L623.27 1771.71 L623.5 1766.35 L624 1754.65 L624.5 1742.94 L625 1731.24 L625.27 1724.89 L625.5 1728.47 L626 1736.28 L626.5 1744.09 L627 1751.9 L627.5 1759.72 L627.67 1762.39 L628 1763.59 L628.5 1765.13 L629 1766.38 L629.5 1767.4 L630 1768.22 L630.5 1768.89 L631 1769.44 L631.5 1769.88 L632 1770.24 L632.5 1770.54 L633 1770.78 L633.5 1770.97 L634 1771.13 L634.5 1771.26 L635 1771.37 L635.5 1771.45 L636 1771.52 L636.5 1771.58 L637 1771.63 L637.5 1771.67 L638 1771.7 L638.5 1771.73 L639 1771.75 L639.5 1771.77 L640 1771.78 L640.5 1771.8 L641 1771.81 L641.5 1771.82 L642 1771.83 L642.5 1771.84 L643 1771.84 L643.5 1771.85 L643.91 1771.85 L644 1759.47 L644.5 1687.45 L645 1615.44 L645.5 1543.42 L645.91 1483.8 L646 1492.05 L646.5 1540.07 L647 1588.09 L647.5 1636.11 L648 1684.12 L648.31 1714.28 L648.5 1718.57 L649 1728.61 L649.5 1736.75 L650 1743.36 L650.5 1748.73 L651 1753.1 L651.5 1756.64 L652 1759.51 L652.5 1761.85 L653 1763.75 L653.5 1765.29 L654 1766.54 L654.5 1767.56 L655 1768.38 L655.5 1769.06 L656 1769.6 L656.5 1770.04 L657 1770.41 L657.5 1770.7 L658 1770.94 L658.5 1771.13 L659 1771.29 L659.5 1771.42 L660 1771.53 L660.5 1771.61 L661 1771.68 L661.5 1771.74 L662 1771.79 L662.5 1771.83 L663 1771.86 L663.5 1771.89 L664 1771.91 L664.5 1771.93 L664.56 1771.93 L665 1747.34 L665.5 1719.57 L666 1691.8 L666.5 1664.04 L666.56 1660.87 L667 1677.29 L667.5 1695.81 L668 1714.34 L668.5 1732.86 L668.96 1749.79 L669 1750.19 L669.5 1754.3 L670 1757.64 L670.5 1760.35 L671 1762.55 L671.5 1764.34 L672 1765.79 L672.5 1766.97 L673 1767.93 L673.5 1768.71 L674 1769.34 L674.5 1769.86 L675 1770.27 L675.5 1770.61 L676 1770.89 L676.5 1771.12 L677 1771.3 L677.5 1771.45 L678 1771.57 L678.5 1771.67 L679 1771.75 L679.5 1771.82 L680 1771.88 L680.5 1771.92 L681 1771.96 L681.5 1771.99 L682 1772.02 L682.5 1772.04 L683 1772.06 L683.5 1772.07 L684 1772.08 L684.5 1772.09 L685 1772.1 L685.2 1772.11 L685.5 1762.64 L686 1746.86 L686.5 1731.08 L687 1715.3 L687.2 1708.99 L687.5 1715.31 L688 1725.84 L688.5 1736.37 L689 1746.89 L689.5 1757.42 L689.6 1759.53 L690 1761.47 L690.5 1763.48 L691 1765.12 L691.5 1766.45 L692 1767.53 L692.5 1768.41 L693 1769.12 L693.5 1769.7 L694 1770.17 L694.5 1770.55 L695 1770.87 L695.5 1771.12 L696 1771.33 L696.5 1771.49 L697 1771.63 L697.5 1771.74 L698 1771.84 L698.5 1771.91 L699 1771.97 L699.5 1772.02 L700 1772.06 L700.5 1772.1 L701 1772.13 L701.5 1772.15 L702 1772.17 L702.5 1772.19 L703 1772.2 L703.5 1772.21 L704 1772.22 L704.5 1772.23 L705 1772.24 L705.5 1772.25 L705.84 1772.25 L706 1762.44 L706.5 1731.17 L707 1699.91 L707.5 1668.64 L707.84 1647.19 L708 1653.74 L708.5 1674.59 L709 1695.44 L709.5 1716.29 L710 1737.14 L710.24 1747.28 L710.5 1749.82 L711 1754.05 L711.5 1757.49 L712 1760.28 L712.5 1762.54 L713 1764.38 L713.5 1765.88 L714 1767.09 L714.5 1768.08 L715 1768.88 L715.5 1769.53 L716 1770.06 L716.5 1770.49 L717 1770.84 L717.5 1771.13 L718 1771.36 L718.5 1771.55 L719 1771.7 L719.5 1771.83 L720 1771.93 L720.5 1772.01 L721 1772.08 L721.5 1772.14 L722 1772.19 L722.5 1772.22 L723 1772.26 L723.5 1772.28 L724 1772.3 L724.5 1772.32 L725 1772.34 L725.5 1772.35 L726 1772.36 L726.49 1772.37 L726.5 1771.58 L727 1743.11 L727.5 1714.63 L728 1686.16 L728.49 1658.49 L728.5 1659.02 L729 1678.01 L729.5 1697 L730 1715.99 L730.5 1734.98 L730.89 1749.64 L731 1750.7 L731.5 1754.79 L732 1758.11 L732.5 1760.81 L733 1763 L733.5 1764.78 L734 1766.22 L734.5 1767.4 L735 1768.35 L735.5 1769.13 L736 1769.76 L736.5 1770.27 L737 1770.69 L737.5 1771.02 L738 1771.3 L738.5 1771.53 L739 1771.71 L739.5 1771.86 L740 1771.98 L740.5 1772.08 L741 1772.16 L741.5 1772.23 L742 1772.28 L742.5 1772.33 L743 1772.36 L743.5 1772.39 L744 1772.42 L744.5 1772.44 L745 1772.46 L745.5 1772.47 L746 1772.49 L746.5 1772.5 L747 1772.51 L747.13 1772.51 L747.5 1737.69 L748 1690.76 L748.5 1643.83 L749 1596.9 L749.13 1584.79 L749.5 1608.01 L750 1639.31 L750.5 1670.6 L751 1701.9 L751.5 1733.2 L751.53 1735.01 L752 1741.71 L752.5 1747.51 L753 1752.23 L753.5 1756.06 L754 1759.17 L754.5 1761.69 L755 1763.74 L755.5 1765.41 L756 1766.76 L756.5 1767.86 L757 1768.76 L757.5 1769.48 L758 1770.07 L758.5 1770.55 L759 1770.94 L759.5 1771.26 L760 1771.52 L760.5 1771.73 L761 1771.9 L761.5 1772.04 L762 1772.15 L762.5 1772.25 L763 1772.32 L763.5 1772.39 L764 1772.44 L764.5 1772.48 L765 1772.51 L765.5 1772.54 L766 1772.57 L766.5 1772.59 L767 1772.61 L767.5 1772.62 L767.77 1772.63 L768 1762.74 L768.5 1741.05 L769 1719.37 L769.5 1697.68 L769.77 1685.88 L770 1692.48 L770.5 1706.95 L771 1721.42 L771.5 1735.89 L772 1750.36 L772.17 1755.33 L772.5 1757.56 L773 1760.41 L773.5 1762.72 L774 1764.6 L774.5 1766.13 L775 1767.37 L775.5 1768.38 L776 1769.2 L776.5 1769.87 L777 1770.41 L777.5 1770.85 L778 1771.21 L778.5 1771.5 L779 1771.73 L779.5 1771.93 L780 1772.08 L780.5 1772.21 L781 1772.32 L781.5 1772.4 L782 1772.47 L782.5 1772.53 L783 1772.58 L783.5 1772.62 L784 1772.65 L784.5 1772.68 L785 1772.7 L785.5 1772.72 L786 1772.73 L786.5 1772.75 L787 1772.76 L787.5 1772.77 L788 1772.78 L788.41 1772.78 L788.5 1768.81 L789 1745.41 L789.5 1722.01 L790 1698.61 L790.41 1679.19 L790.5 1681.84 L791 1697.45 L791.5 1713.06 L792 1728.67 L792.5 1744.27 L792.82 1754.11 L793 1755.5 L793.5 1758.76 L794 1761.41 L794.5 1763.56 L795 1765.31 L795.5 1766.73 L796 1767.89 L796.5 1768.82 L797 1769.59 L797.5 1770.2 L798 1770.71 L798.5 1771.12 L799 1771.45 L799.5 1771.72 L800 1771.94 L800.5 1772.12 L801 1772.27 L801.5 1772.39 L802 1772.48 L802.5 1772.56 L803 1772.63 L803.5 1772.68 L804 1772.73 L804.5 1772.76 L805 1772.79 L805.5 1772.82 L806 1772.84 L806.5 1772.86 L807 1772.87 L807.5 1772.89 L808 1772.9 L808.5 1772.91 L809 1772.92 L809.06 1772.92 L809.5 1756.58 L810 1738.1 L810.5 1719.62 L811 1701.13 L811.06 1698.99 L811.5 1709.89 L812 1722.22 L812.5 1734.55 L813 1746.88 L813.46 1758.17 L813.5 1758.43 L814 1761.17 L814.5 1763.39 L815 1765.2 L815.5 1766.66 L816 1767.85 L816.5 1768.82 L817 1769.61 L817.5 1770.25 L818 1770.77 L818.5 1771.19 L819 1771.53 L819.5 1771.81 L820 1772.04 L820.5 1772.23 L821 1772.38 L821.5 1772.5 L822 1772.6 L822.5 1772.68 L823 1772.75 L823.5 1772.81 L824 1772.85 L824.5 1772.89 L825 1772.92 L825.5 1772.95 L826 1772.97 L826.5 1772.99 L827 1773 L827.5 1773.02 L828 1773.03 L828.5 1773.04 L829 1773.04 L829.5 1773.05 L829.7 1773.06 L830 1741.19 L830.5 1687.9 L831 1634.61 L831.5 1581.32 L831.7 1559.89 L832 1581.14 L832.5 1616.68 L833 1652.21 L833.5 1687.75 L834 1723.28 L834.1 1730.46 L834.5 1736.99 L835 1743.79 L835.5 1749.31 L836 1753.79 L836.5 1757.42 L837 1760.38 L837.5 1762.78 L838 1764.73 L838.5 1766.31 L839 1767.6 L839.5 1768.64 L840 1769.49 L840.5 1770.18 L841 1770.74 L841.5 1771.19 L842 1771.57 L842.5 1771.87 L843 1772.11 L843.5 1772.31 L844 1772.48 L844.5 1772.61 L845 1772.72 L845.5 1772.81 L846 1772.88 L846.5 1772.94 L847 1772.99 L847.5 1773.03 L848 1773.06 L848.5 1773.09 L849 1773.11 L849.5 1773.13 L850 1773.15 L850.34 1773.16 L850.5 1764.17 L851 1735.35 L851.5 1706.53 L852 1677.71 L852.34 1657.88 L852.5 1663.88 L853 1683.1 L853.5 1702.33 L854 1721.56 L854.5 1740.78 L854.74 1750.16 L855 1752.5 L855.5 1756.4 L856 1759.57 L856.5 1762.15 L857 1764.24 L857.5 1765.94 L858 1767.31 L858.5 1768.44 L859 1769.35 L859.5 1770.09 L860 1770.69 L860.5 1771.18 L861 1771.57 L861.5 1771.9 L862 1772.16 L862.5 1772.37 L863 1772.55 L863.5 1772.69 L864 1772.81 L864.5 1772.9 L865 1772.98 L865.5 1773.04 L866 1773.1 L866.5 1773.14 L867 1773.17 L867.5 1773.2 L868 1773.23 L868.5 1773.25 L869 1773.27 L869.5 1773.28 L870 1773.29 L870.5 1773.3 L870.99 1773.31 L871 1772.13 L871.5 1726.68 L872 1681.22 L872.5 1635.76 L872.99 1591.49 L873 1592.28 L873.5 1622.59 L874 1652.9 L874.5 1683.22 L875 1713.53 L875.39 1736.99 L875.5 1738.67 L876 1745.2 L876.5 1750.5 L877 1754.8 L877.5 1758.3 L878 1761.14 L878.5 1763.45 L879 1765.32 L879.5 1766.84 L880 1768.08 L880.5 1769.08 L881 1769.9 L881.5 1770.56 L882 1771.1 L882.5 1771.54 L883 1771.89 L883.5 1772.18 L884 1772.42 L884.5 1772.61 L885 1772.77 L885.5 1772.9 L886 1773 L886.5 1773.09 L887 1773.16 L887.5 1773.21 L888 1773.26 L888.5 1773.3 L889 1773.33 L889.5 1773.36 L890 1773.38 L890.5 1773.4 L891 1773.42 L891.5 1773.43 L891.63 1773.43 L892 1759.66 L892.5 1741.05 L893 1722.44 L893.5 1703.82 L893.63 1698.98 L894 1708.17 L894.5 1720.59 L895 1733.01 L895.5 1745.43 L896 1757.85 L896.03 1758.6 L896.5 1761.25 L897 1763.56 L897.5 1765.43 L898 1766.96 L898.5 1768.19 L899 1769.2 L899.5 1770.02 L900 1770.68 L900.5 1771.22 L901 1771.66 L901.5 1772.01 L902 1772.3 L902.5 1772.54 L903 1772.73 L903.5 1772.89 L904 1773.02 L904.5 1773.12 L905 1773.21 L905.5 1773.28 L906 1773.33 L906.5 1773.38 L907 1773.42 L907.5 1773.45 L908 1773.48 L908.5 1773.5 L909 1773.52 L909.5 1773.54 L910 1773.55 L910.5 1773.56 L911 1773.57 L911.5 1773.58 L912 1773.59 L912.27 1773.59 L912.5 1750.71 L913 1700.31 L913.5 1649.91 L914 1599.51 L914.27 1571.99 L914.5 1587.25 L915 1620.86 L915.5 1654.47 L916 1688.07 L916.5 1721.68 L916.67 1733.31 L917 1738.45 L917.5 1745.07 L918 1750.45 L918.5 1754.81 L919 1758.36 L919.5 1761.24 L920 1763.58 L920.5 1765.48 L921 1767.02 L921.5 1768.27 L922 1769.29 L922.5 1770.12 L923 1770.79 L923.5 1771.34 L924 1771.78 L924.5 1772.14 L925 1772.44 L925.5 1772.68 L926 1772.87 L926.5 1773.03 L927 1773.16 L927.5 1773.26 L928 1773.35 L928.5 1773.42 L929 1773.48 L929.5 1773.53 L930 1773.57 L930.5 1773.6 L931 1773.63 L931.5 1773.65 L932 1773.67 L932.5 1773.68 L932.92 1773.7 L933 1769.98 L933.5 1747.88 L934 1725.78 L934.5 1703.67 L934.92 1685.28 L935 1687.76 L935.5 1702.51 L936 1717.26 L936.5 1732 L937 1746.75 L937.32 1756.07 L937.5 1757.38 L938 1760.47 L938.5 1762.97 L939 1765.01 L939.5 1766.66 L940 1768 L940.5 1769.1 L941 1769.98 L941.5 1770.7 L942 1771.29 L942.5 1771.76 L943 1772.15 L943.5 1772.47 L944 1772.72 L944.5 1772.93 L945 1773.1 L945.5 1773.24 L946 1773.35 L946.5 1773.45 L947 1773.52 L947.5 1773.58 L948 1773.63 L948.5 1773.68 L949 1773.71 L949.5 1773.74 L950 1773.76 L950.5 1773.78 L951 1773.8 L951.5 1773.82 L952 1773.83 L952.5 1773.84 L953 1773.85 L953.5 1773.86 L953.56 1773.86 L954 1753.31 L954.5 1730.02 L955 1706.73 L955.5 1683.44 L955.56 1680.69 L956 1694.39 L956.5 1709.93 L957 1725.47 L957.5 1741 L957.96 1755.26 L958 1755.58 L958.5 1759.03 L959 1761.83 L959.5 1764.11 L960 1765.95 L960.5 1767.46 L961 1768.67 L961.5 1769.67 L962 1770.47 L962.5 1771.12 L963 1771.66 L963.5 1772.09 L964 1772.44 L964.5 1772.73 L965 1772.96 L965.5 1773.15 L966 1773.3 L966.5 1773.43 L967 1773.53 L967.5 1773.62 L968 1773.69 L968.5 1773.74 L969 1773.79 L969.5 1773.83 L970 1773.86 L970.5 1773.89 L971 1773.91 L971.5 1773.93 L972 1773.94 L972.5 1773.96" fill="none" stroke="#7068b8" stroke-width="2.3" stroke-linejoin="round"/>
</g>
<rect x="3.9" y="1407" width="987.1" height="413" fill="none" stroke="#1f1b1c" stroke-width="3.4"/>
<text x="312.92" y="1448.6" font-family="Liberation Sans" font-size="41.3" fill="#0c0c0c" textLength="154.32" lengthAdjust="spacingAndGlyphs" style="font-kerning:none" xml:space="preserve" stroke="#fff" stroke-width="0.5" stroke-opacity="0.8">Isolate #1</text>
<text x="524.44" y="1448.6" font-family="Liberation Sans" font-size="41.3" fill="#0c0c0c" textLength="250.64" lengthAdjust="spacingAndGlyphs" style="font-kerning:none" xml:space="preserve" stroke="#fff" stroke-width="0.5" stroke-opacity="0.8">PCR result: KPC</text>
<g filter="url(#soft)">
<line x1="28" y1="2092.8" x2="964" y2="2092.8" stroke="#c8c3c2" stroke-width="1.9" stroke-dasharray="14 1.5"/>
<line x1="28" y1="2092.8" x2="33" y2="2092.8" stroke="#4b4547" stroke-width="2"/>
<text x="25.5" y="2097.3" font-family="Liberation Sans" font-weight="bold" font-size="12" fill="#5a5254" text-anchor="end" textLength="17" lengthAdjust="spacingAndGlyphs" opacity="0.85">100</text>
<line x1="28" y1="2164" x2="964" y2="2164" stroke="#c8c3c2" stroke-width="1.9" stroke-dasharray="14 1.5"/>
<line x1="28" y1="2164" x2="33" y2="2164" stroke="#4b4547" stroke-width="2"/>
<text x="25.5" y="2168.5" font-family="Liberation Sans" font-weight="bold" font-size="12" fill="#5a5254" text-anchor="end" textLength="13" lengthAdjust="spacingAndGlyphs" opacity="0.85">75</text>
<line x1="28" y1="2235.1" x2="964" y2="2235.1" stroke="#c8c3c2" stroke-width="1.9" stroke-dasharray="14 1.5"/>
<line x1="28" y1="2235.1" x2="33" y2="2235.1" stroke="#4b4547" stroke-width="2"/>
<text x="25.5" y="2239.6" font-family="Liberation Sans" font-weight="bold" font-size="12" fill="#5a5254" text-anchor="end" textLength="13" lengthAdjust="spacingAndGlyphs" opacity="0.85">50</text>
<line x1="28" y1="2305.9" x2="964" y2="2305.9" stroke="#c8c3c2" stroke-width="1.9" stroke-dasharray="14 1.5"/>
<line x1="28" y1="2305.9" x2="33" y2="2305.9" stroke="#4b4547" stroke-width="2"/>
<text x="25.5" y="2310.4" font-family="Liberation Sans" font-weight="bold" font-size="12" fill="#5a5254" text-anchor="end" textLength="13" lengthAdjust="spacingAndGlyphs" opacity="0.85">25</text>
<line x1="28" y1="2376.8" x2="964" y2="2376.8" stroke="#c8c3c2" stroke-width="1.9" stroke-dasharray="14 1.5"/>
<line x1="28" y1="2376.8" x2="33" y2="2376.8" stroke="#4b4547" stroke-width="2"/>
<text x="25.5" y="2381.3" font-family="Liberation Sans" font-weight="bold" font-size="12" fill="#5a5254" text-anchor="end" textLength="7" lengthAdjust="spacingAndGlyphs" opacity="0.85">0</text>
<text x="8.0" y="2033.8" font-family="Liberation Sans" font-weight="bold" font-size="12" fill="#5a5254" textLength="14" lengthAdjust="spacingAndGlyphs" opacity="0.85">83</text>
<line x1="28" y1="2047" x2="28" y2="2402" stroke="#6f6769" stroke-width="2.8"/>
<line x1="28" y1="2402" x2="964" y2="2402" stroke="#5f5759" stroke-width="2.6"/>
<line x1="52.7" y1="2396" x2="52.7" y2="2405" stroke="#4b4547" stroke-width="1.6"/>
<text x="52.7" y="2413.6" font-family="Liberation Sans" font-weight="bold" font-size="10.5" fill="#3d3638" stroke="#3d3638" stroke-width="0.5" text-anchor="middle">E</text>
<line x1="74.98" y1="2396" x2="74.98" y2="2405" stroke="#4b4547" stroke-width="1.6"/>
<text x="74.98" y="2413.6" font-family="Liberation Sans" font-weight="bold" font-size="10.5" fill="#3d3638" stroke="#3d3638" stroke-width="0.5" text-anchor="middle">S</text>
<line x1="97.26" y1="2396" x2="97.26" y2="2405" stroke="#4b4547" stroke-width="1.6"/>
<text x="97.26" y="2413.6" font-family="Liberation Sans" font-weight="bold" font-size="10.5" fill="#3d3638" stroke="#3d3638" stroke-width="0.5" text-anchor="middle">T</text>
<line x1="119.55" y1="2396" x2="119.55" y2="2405" stroke="#4b4547" stroke-width="1.6"/>
<text x="119.55" y="2413.6" font-family="Liberation Sans" font-weight="bold" font-size="10.5" fill="#3d3638" stroke="#3d3638" stroke-width="0.5" text-anchor="middle">A</text>
<line x1="141.83" y1="2396" x2="141.83" y2="2405" stroke="#4b4547" stroke-width="1.6"/>
<text x="141.83" y="2413.6" font-family="Liberation Sans" font-weight="bold" font-size="10.5" fill="#3d3638" stroke="#3d3638" stroke-width="0.5" text-anchor="middle">G</text>
<line x1="164.11" y1="2396" x2="164.11" y2="2405" stroke="#4b4547" stroke-width="1.6"/>
<text x="164.11" y="2413.6" font-family="Liberation Sans" font-weight="bold" font-size="10.5" fill="#3d3638" stroke="#3d3638" stroke-width="0.5" text-anchor="middle">C</text>
<line x1="186.39" y1="2396" x2="186.39" y2="2405" stroke="#4b4547" stroke-width="1.6"/>
<text x="186.39" y="2413.6" font-family="Liberation Sans" font-weight="bold" font-size="10.5" fill="#3d3638" stroke="#3d3638" stroke-width="0.5" text-anchor="middle">G</text>
<line x1="208.67" y1="2396" x2="208.67" y2="2405" stroke="#4b4547" stroke-width="1.6"/>
<text x="208.67" y="2413.6" font-family="Liberation Sans" font-weight="bold" font-size="10.5" fill="#3d3638" stroke="#3d3638" stroke-width="0.5" text-anchor="middle">T</text>
<line x1="230.96" y1="2396" x2="230.96" y2="2405" stroke="#4b4547" stroke-width="1.6"/>
<text x="230.96" y="2413.6" font-family="Liberation Sans" font-weight="bold" font-size="10.5" fill="#3d3638" stroke="#3d3638" stroke-width="0.5" text-anchor="middle">C</text>
<line x1="253.24" y1="2396" x2="253.24" y2="2405" stroke="#4b4547" stroke-width="1.6"/>
<text x="253.24" y="2413.6" font-family="Liberation Sans" font-weight="bold" font-size="10.5" fill="#3d3638" stroke="#3d3638" stroke-width="0.5" text-anchor="middle">T</text>
<line x1="275.52" y1="2396" x2="275.52" y2="2405" stroke="#4b4547" stroke-width="1.6"/>
<text x="275.52" y="2413.6" font-family="Liberation Sans" font-weight="bold" font-size="10.5" fill="#3d3638" stroke="#3d3638" stroke-width="0.5" text-anchor="middle">G</text>
<line x1="297.8" y1="2396" x2="297.8" y2="2405" stroke="#4b4547" stroke-width="1.6"/>
<text x="297.8" y="2413.6" font-family="Liberation Sans" font-weight="bold" font-size="10.5" fill="#3d3638" stroke="#3d3638" stroke-width="0.5" text-anchor="middle">T</text>
<line x1="320.08" y1="2396" x2="320.08" y2="2405" stroke="#4b4547" stroke-width="1.6"/>
<text x="320.08" y="2413.6" font-family="Liberation Sans" font-weight="bold" font-size="10.5" fill="#3d3638" stroke="#3d3638" stroke-width="0.5" text-anchor="middle">C</text>
<line x1="342.37" y1="2396" x2="342.37" y2="2405" stroke="#4b4547" stroke-width="1.6"/>
<text x="342.37" y="2413.6" font-family="Liberation Sans" font-weight="bold" font-size="10.5" fill="#3d3638" stroke="#3d3638" stroke-width="0.5" text-anchor="middle">G</text>
<line x1="364.65" y1="2396" x2="364.65" y2="2405" stroke="#4b4547" stroke-width="1.6"/>
<text x="364.65" y="2413.6" font-family="Liberation Sans" font-weight="bold" font-size="10.5" fill="#3d3638" stroke="#3d3638" stroke-width="0.5" text-anchor="middle">T</text>
<line x1="386.93" y1="2396" x2="386.93" y2="2405" stroke="#4b4547" stroke-width="1.6"/>
<text x="386.93" y="2413.6" font-family="Liberation Sans" font-weight="bold" font-size="10.5" fill="#3d3638" stroke="#3d3638" stroke-width="0.5" text-anchor="middle">A</text>
<line x1="409.21" y1="2396" x2="409.21" y2="2405" stroke="#4b4547" stroke-width="1.6"/>
<text x="409.21" y="2413.6" font-family="Liberation Sans" font-weight="bold" font-size="10.5" fill="#3d3638" stroke="#3d3638" stroke-width="0.5" text-anchor="middle">T</text>
<line x1="431.49" y1="2396" x2="431.49" y2="2405" stroke="#4b4547" stroke-width="1.6"/>
<text x="431.49" y="2413.6" font-family="Liberation Sans" font-weight="bold" font-size="10.5" fill="#3d3638" stroke="#3d3638" stroke-width="0.5" text-anchor="middle">C</text>
<line x1="453.78" y1="2396" x2="453.78" y2="2405" stroke="#4b4547" stroke-width="1.6"/>
<text x="453.78" y="2413.6" font-family="Liberation Sans" font-weight="bold" font-size="10.5" fill="#3d3638" stroke="#3d3638" stroke-width="0.5" text-anchor="middle">T</text>
<line x1="476.06" y1="2396" x2="476.06" y2="2405" stroke="#4b4547" stroke-width="1.6"/>
<text x="476.06" y="2413.6" font-family="Liberation Sans" font-weight="bold" font-size="10.5" fill="#3d3638" stroke="#3d3638" stroke-width="0.5" text-anchor="middle">G</text>
<line x1="498.34" y1="2396" x2="498.34" y2="2405" stroke="#4b4547" stroke-width="1.6"/>
<text x="498.34" y="2413.6" font-family="Liberation Sans" font-weight="bold" font-size="10.5" fill="#3d3638" stroke="#3d3638" stroke-width="0.5" text-anchor="middle">A</text>
<line x1="520.62" y1="2396" x2="520.62" y2="2405" stroke="#4b4547" stroke-width="1.6"/>
<text x="520.62" y="2413.6" font-family="Liberation Sans" font-weight="bold" font-size="10.5" fill="#3d3638" stroke="#3d3638" stroke-width="0.5" text-anchor="middle">C</text>
<line x1="542.9" y1="2396" x2="542.9" y2="2405" stroke="#4b4547" stroke-width="1.6"/>
<text x="542.9" y="2413.6" font-family="Liberation Sans" font-weight="bold" font-size="10.5" fill="#3d3638" stroke="#3d3638" stroke-width="0.5" text-anchor="middle">G</text>
<line x1="565.19" y1="2396" x2="565.19" y2="2405" stroke="#4b4547" stroke-width="1.6"/>
<text x="565.19" y="2413.6" font-family="Liberation Sans" font-weight="bold" font-size="10.5" fill="#3d3638" stroke="#3d3638" stroke-width="0.5" text-anchor="middle">C</text>
<line x1="587.47" y1="2396" x2="587.47" y2="2405" stroke="#4b4547" stroke-width="1.6"/>
<text x="587.47" y="2413.6" font-family="Liberation Sans" font-weight="bold" font-size="10.5" fill="#3d3638" stroke="#3d3638" stroke-width="0.5" text-anchor="middle">T</text>
<line x1="609.75" y1="2396" x2="609.75" y2="2405" stroke="#4b4547" stroke-width="1.6"/>
<text x="609.75" y="2413.6" font-family="Liberation Sans" font-weight="bold" font-size="10.5" fill="#3d3638" stroke="#3d3638" stroke-width="0.5" text-anchor="middle">G</text>
<line x1="632.03" y1="2396" x2="632.03" y2="2405" stroke="#4b4547" stroke-width="1.6"/>
<text x="632.03" y="2413.6" font-family="Liberation Sans" font-weight="bold" font-size="10.5" fill="#3d3638" stroke="#3d3638" stroke-width="0.5" text-anchor="middle">T</text>
<line x1="654.31" y1="2396" x2="654.31" y2="2405" stroke="#4b4547" stroke-width="1.6"/>
<text x="654.31" y="2413.6" font-family="Liberation Sans" font-weight="bold" font-size="10.5" fill="#3d3638" stroke="#3d3638" stroke-width="0.5" text-anchor="middle">A</text>
<line x1="676.6" y1="2396" x2="676.6" y2="2405" stroke="#4b4547" stroke-width="1.6"/>
<text x="676.6" y="2413.6" font-family="Liberation Sans" font-weight="bold" font-size="10.5" fill="#3d3638" stroke="#3d3638" stroke-width="0.5" text-anchor="middle">G</text>
<line x1="698.88" y1="2396" x2="698.88" y2="2405" stroke="#4b4547" stroke-width="1.6"/>
<text x="698.88" y="2413.6" font-family="Liberation Sans" font-weight="bold" font-size="10.5" fill="#3d3638" stroke="#3d3638" stroke-width="0.5" text-anchor="middle">C</text>
<line x1="721.16" y1="2396" x2="721.16" y2="2405" stroke="#4b4547" stroke-width="1.6"/>
<text x="721.16" y="2413.6" font-family="Liberation Sans" font-weight="bold" font-size="10.5" fill="#3d3638" stroke="#3d3638" stroke-width="0.5" text-anchor="middle">A</text>
<line x1="743.44" y1="2396" x2="743.44" y2="2405" stroke="#4b4547" stroke-width="1.6"/>
<text x="743.44" y="2413.6" font-family="Liberation Sans" font-weight="bold" font-size="10.5" fill="#3d3638" stroke="#3d3638" stroke-width="0.5" text-anchor="middle">C</text>
<line x1="765.72" y1="2396" x2="765.72" y2="2405" stroke="#4b4547" stroke-width="1.6"/>
<text x="765.72" y="2413.6" font-family="Liberation Sans" font-weight="bold" font-size="10.5" fill="#3d3638" stroke="#3d3638" stroke-width="0.5" text-anchor="middle">T</text>
<line x1="788.01" y1="2396" x2="788.01" y2="2405" stroke="#4b4547" stroke-width="1.6"/>
<text x="788.01" y="2413.6" font-family="Liberation Sans" font-weight="bold" font-size="10.5" fill="#3d3638" stroke="#3d3638" stroke-width="0.5" text-anchor="middle">G</text>
<line x1="810.29" y1="2396" x2="810.29" y2="2405" stroke="#4b4547" stroke-width="1.6"/>
<text x="810.29" y="2413.6" font-family="Liberation Sans" font-weight="bold" font-size="10.5" fill="#3d3638" stroke="#3d3638" stroke-width="0.5" text-anchor="middle">G</text>
<line x1="832.57" y1="2396" x2="832.57" y2="2405" stroke="#4b4547" stroke-width="1.6"/>
<text x="832.57" y="2413.6" font-family="Liberation Sans" font-weight="bold" font-size="10.5" fill="#3d3638" stroke="#3d3638" stroke-width="0.5" text-anchor="middle">C</text>
<line x1="854.85" y1="2396" x2="854.85" y2="2405" stroke="#4b4547" stroke-width="1.6"/>
<text x="854.85" y="2413.6" font-family="Liberation Sans" font-weight="bold" font-size="10.5" fill="#3d3638" stroke="#3d3638" stroke-width="0.5" text-anchor="middle">T</text>
<line x1="877.13" y1="2396" x2="877.13" y2="2405" stroke="#4b4547" stroke-width="1.6"/>
<text x="877.13" y="2413.6" font-family="Liberation Sans" font-weight="bold" font-size="10.5" fill="#3d3638" stroke="#3d3638" stroke-width="0.5" text-anchor="middle">G</text>
<line x1="899.42" y1="2396" x2="899.42" y2="2405" stroke="#4b4547" stroke-width="1.6"/>
<text x="899.42" y="2413.6" font-family="Liberation Sans" font-weight="bold" font-size="10.5" fill="#3d3638" stroke="#3d3638" stroke-width="0.5" text-anchor="middle">A</text>
<line x1="921.7" y1="2396" x2="921.7" y2="2405" stroke="#4b4547" stroke-width="1.6"/>
<text x="921.7" y="2413.6" font-family="Liberation Sans" font-weight="bold" font-size="10.5" fill="#3d3638" stroke="#3d3638" stroke-width="0.5" text-anchor="middle">C</text>
<line x1="943.98" y1="2396" x2="943.98" y2="2405" stroke="#4b4547" stroke-width="1.6"/>
<text x="943.98" y="2413.6" font-family="Liberation Sans" font-weight="bold" font-size="10.5" fill="#3d3638" stroke="#3d3638" stroke-width="0.5" text-anchor="middle">A</text>
<text x="186.39" y="2430" font-family="Liberation Sans" font-weight="bold" font-size="10.5" fill="#3d3638" stroke="#3d3638" stroke-width="0.4" text-anchor="middle">5</text>
<text x="297.8" y="2430" font-family="Liberation Sans" font-weight="bold" font-size="10.5" fill="#3d3638" stroke="#3d3638" stroke-width="0.4" text-anchor="middle">10</text>
<text x="409.21" y="2430" font-family="Liberation Sans" font-weight="bold" font-size="10.5" fill="#3d3638" stroke="#3d3638" stroke-width="0.4" text-anchor="middle">15</text>
<text x="520.62" y="2430" font-family="Liberation Sans" font-weight="bold" font-size="10.5" fill="#3d3638" stroke="#3d3638" stroke-width="0.4" text-anchor="middle">20</text>
<text x="632.03" y="2430" font-family="Liberation Sans" font-weight="bold" font-size="10.5" fill="#3d3638" stroke="#3d3638" stroke-width="0.4" text-anchor="middle">25</text>
<text x="743.44" y="2430" font-family="Liberation Sans" font-weight="bold" font-size="10.5" fill="#3d3638" stroke="#3d3638" stroke-width="0.4" text-anchor="middle">30</text>
<text x="854.85" y="2430" font-family="Liberation Sans" font-weight="bold" font-size="10.5" fill="#3d3638" stroke="#3d3638" stroke-width="0.4" text-anchor="middle">35</text>
<path d="M30.7 2392.3 L31.2 2392.32 L31.7 2392.33 L32.2 2392.35 L32.7 2392.37 L33.2 2392.39 L33.7 2392.4 L34.2 2392.42 L34.7 2392.44 L35.2 2392.45 L35.7 2392.47 L36.2 2392.49 L36.7 2392.51 L37.2 2392.52 L37.7 2392.54 L38.2 2392.56 L38.7 2392.57 L39.2 2392.59 L39.7 2392.61 L40.2 2392.62 L40.7 2392.64 L41.2 2392.66 L41.7 2392.68 L42.2 2392.69 L42.7 2392.71 L43.2 2392.73 L43.7 2392.74 L44.2 2392.76 L44.7 2392.78 L45.2 2392.8 L45.7 2392.81 L46.2 2392.83 L46.7 2392.85 L47.2 2392.86 L47.7 2392.88 L48.2 2392.9 L48.7 2392.92 L49.2 2392.93 L49.7 2392.95 L50.2 2392.97 L50.7 2392.98 L51.2 2393 L51.7 2393.02 L52.2 2393.03 L52.7 2393.05 L53.2 2393.07 L53.7 2393.09 L54.2 2393.1 L54.7 2393.12 L55.2 2393.14 L55.7 2393.15 L56.2 2393.17 L56.7 2393.19 L57.2 2393.21 L57.7 2393.22 L58.2 2393.24 L58.7 2393.26 L59.2 2393.27 L59.7 2393.29 L60.2 2393.31 L60.7 2393.33 L61.2 2393.34 L61.7 2393.36 L62.2 2393.38 L62.7 2393.39 L63.2 2393.41 L63.7 2393.43 L64.2 2393.44 L64.7 2393.46 L65.2 2393.48 L65.7 2393.5 L66.2 2393.51 L66.7 2393.53 L67.2 2393.55 L67.7 2393.56 L68.2 2393.58 L68.7 2393.6 L69.2 2393.62 L69.7 2393.63 L70.2 2393.65 L70.7 2393.67 L71.2 2393.68 L71.7 2393.7 L72.2 2393.72 L72.7 2393.74 L73.2 2393.75 L73.7 2393.77 L74.2 2393.79 L74.6 2393.8 L74.6 2363 L74.7 2363.54 L75.2 2365.94 L75.7 2367.91 L76.2 2369.53 L76.7 2370.85 L77.2 2371.94 L77.7 2372.82 L78.2 2373.55 L78.7 2374.15 L79.2 2374.64 L79.7 2375.04 L80.2 2375.37 L80.7 2375.64 L81.2 2375.87 L81.7 2376.05 L82.2 2376.2 L82.7 2376.33 L83.2 2376.43 L83.7 2376.51 L84.2 2376.58 L84.7 2376.64 L85.2 2376.69 L85.7 2376.73 L86.2 2376.77 L86.7 2376.79 L87.2 2376.82 L87.7 2376.84 L88.2 2376.86 L88.7 2376.87 L89.2 2376.89 L89.7 2376.9 L90.2 2376.91 L90.7 2376.92 L91.2 2376.93 L91.7 2376.93 L92.2 2376.94 L92.7 2376.95 L93.2 2376.95 L93.7 2376.96 L94.2 2376.97 L94.7 2376.97 L95.2 2376.98 L95.7 2376.98 L96.2 2376.99 L96.7 2376.99 L97.2 2377 L97.7 2377 L98.2 2377.01 L98.7 2377.01 L99.2 2377.02 L99.7 2377.02 L100.2 2377.02 L100.7 2377.03 L101.2 2377.03 L101.7 2377.04 L102.2 2377.04 L102.7 2377.05 L103.2 2377.05 L103.7 2377.06 L104.2 2377.06 L104.7 2377.07 L105.2 2377.07 L105.7 2377.07 L106.2 2377.08 L106.7 2377.08 L107.2 2377.09 L107.7 2377.09 L108.2 2377.1 L108.7 2377.1 L109.2 2377.11 L109.7 2377.11 L110.2 2377.11 L110.7 2377.12 L111.2 2377.12 L111.7 2377.13 L112.2 2377.13 L112.7 2377.14 L113.2 2377.14 L113.7 2377.15 L114.2 2377.15 L114.7 2377.15 L115.2 2377.16 L115.7 2377.16 L116.2 2377.17 L116.7 2377.17 L117.2 2377.18 L117.7 2377.18 L118.2 2377.19 L118.65 2377.19 L118.7 2373.72 L119.2 2341.56 L119.7 2309.4 L120.2 2277.25 L120.7 2245.09 L120.85 2235.7 L121.2 2250.73 L121.7 2271.96 L122.2 2293.19 L122.7 2314.42 L123.2 2335.66 L123.45 2346.1 L123.7 2349.11 L124.2 2354.21 L124.7 2358.39 L125.2 2361.81 L125.7 2364.62 L126.2 2366.91 L126.7 2368.79 L127.2 2370.33 L127.7 2371.59 L128.2 2372.63 L128.7 2373.47 L129.2 2374.17 L129.7 2374.74 L130.2 2375.2 L130.7 2375.59 L131.2 2375.9 L131.7 2376.16 L132.2 2376.37 L132.7 2376.55 L133.2 2376.69 L133.7 2376.81 L134.2 2376.91 L134.7 2376.99 L135.2 2377.06 L135.7 2377.11 L136.2 2377.16 L136.7 2377.2 L137.2 2377.23 L137.7 2377.26 L138.2 2377.28 L138.7 2377.3 L139.2 2377.32 L139.7 2377.33 L140.2 2377.34 L140.7 2377.36 L141.2 2377.37 L141.7 2377.38 L142.2 2377.38 L142.7 2377.39 L143.2 2377.4 L143.7 2377.4 L144.2 2377.41 L144.7 2377.42 L145.2 2377.42 L145.7 2377.43 L146.2 2377.43 L146.7 2377.44 L147.2 2377.44 L147.7 2377.45 L148.2 2377.45 L148.7 2377.46 L149.2 2377.46 L149.7 2377.47 L150.2 2377.47 L150.7 2377.48 L151.2 2377.48 L151.7 2377.49 L152.2 2377.49 L152.7 2377.49 L153.2 2377.5 L153.7 2377.5 L154.2 2377.51 L154.7 2377.51 L155.2 2377.52 L155.7 2377.52 L156.2 2377.53 L156.7 2377.53 L157.2 2377.53 L157.7 2377.54 L158.2 2377.54 L158.7 2377.55 L159.2 2377.55 L159.7 2377.56 L160.2 2377.56 L160.7 2377.57 L161.2 2377.57 L161.7 2377.58 L162.2 2377.58 L162.7 2377.58 L163.2 2377.59 L163.21 2377.59 L163.7 2348.9 L164.2 2319.63 L164.7 2290.36 L165.2 2261.09 L165.41 2248.8 L165.7 2260.01 L166.2 2279.33 L166.7 2298.66 L167.2 2317.99 L167.7 2337.31 L168.01 2349.29 L168.2 2351.37 L168.7 2356.13 L169.2 2360.04 L169.7 2363.23 L170.2 2365.85 L170.7 2367.99 L171.2 2369.75 L171.7 2371.19 L172.2 2372.37 L172.7 2373.33 L173.2 2374.12 L173.7 2374.77 L174.2 2375.3 L174.7 2375.74 L175.2 2376.1 L175.7 2376.39 L176.2 2376.63 L176.7 2376.83 L177.2 2377 L177.7 2377.13 L178.2 2377.24 L178.7 2377.33 L179.2 2377.41 L179.7 2377.47 L180.2 2377.52 L180.7 2377.57 L181.2 2377.6 L181.7 2377.64 L182.2 2377.66 L182.7 2377.68 L183.2 2377.7 L183.7 2377.72 L184.2 2377.73 L184.7 2377.75 L185.2 2377.76 L185.7 2377.77 L186.2 2377.77 L186.7 2377.78 L187.2 2377.79 L187.7 2377.8 L188.2 2377.8 L188.7 2377.81 L189.2 2377.82 L189.7 2377.82 L190.2 2377.83 L190.7 2377.83 L191.2 2377.84 L191.7 2377.84 L192.2 2377.85 L192.7 2377.85 L193.2 2377.86 L193.7 2377.86 L194.2 2377.86 L194.7 2377.87 L195.2 2377.87 L195.7 2377.88 L196.2 2377.88 L196.7 2377.89 L197.2 2377.89 L197.7 2377.9 L198.2 2377.9 L198.7 2377.91 L199.2 2377.91 L199.7 2377.91 L200.2 2377.92 L200.7 2377.92 L201.2 2377.93 L201.7 2377.93 L202.2 2377.94 L202.7 2377.94 L203.2 2377.95 L203.7 2377.95 L204.2 2377.96 L204.7 2377.96 L205.2 2377.96 L205.7 2377.97 L206.2 2377.97 L206.7 2377.98 L207.2 2377.98 L207.7 2377.99 L207.77 2377.99 L208.2 2353.26 L208.7 2324.24 L209.2 2295.22 L209.7 2266.2 L209.97 2250.3 L210.2 2258.96 L210.7 2278.12 L211.2 2297.28 L211.7 2316.44 L212.2 2335.6 L212.57 2349.93 L212.7 2351.32 L213.2 2356.16 L213.7 2360.13 L214.2 2363.38 L214.7 2366.05 L215.2 2368.23 L215.7 2370.01 L216.2 2371.47 L216.7 2372.67 L217.2 2373.66 L217.7 2374.46 L218.2 2375.12 L218.7 2375.66 L219.2 2376.11 L219.7 2376.47 L220.2 2376.77 L220.7 2377.01 L221.2 2377.22 L221.7 2377.38 L222.2 2377.52 L222.7 2377.63 L223.2 2377.72 L223.7 2377.8 L224.2 2377.87 L224.7 2377.92 L225.2 2377.96 L225.7 2378 L226.2 2378.03 L226.7 2378.06 L227.2 2378.08 L227.7 2378.1 L228.2 2378.12 L228.7 2378.13 L229.2 2378.14 L229.7 2378.15 L230.06 2378.16 L230.2 2370.08 L230.7 2342.02 L231.2 2313.96 L231.7 2285.9 L232.2 2257.83 L232.26 2254.69 L232.7 2271.15 L233.2 2289.68 L233.7 2308.21 L234.2 2326.74 L234.7 2345.27 L234.86 2351.05 L235.2 2354.55 L235.7 2358.85 L236.2 2362.37 L236.7 2365.25 L237.2 2367.61 L237.7 2369.54 L238.2 2371.13 L238.7 2372.42 L239.2 2373.49 L239.7 2374.36 L240.2 2375.07 L240.7 2375.66 L241.2 2376.14 L241.7 2376.53 L242.2 2376.86 L242.7 2377.12 L243.2 2377.34 L243.7 2377.52 L244.2 2377.67 L244.7 2377.79 L245.2 2377.89 L245.7 2377.97 L246.2 2378.04 L246.7 2378.1 L247.2 2378.14 L247.7 2378.18 L248.2 2378.22 L248.7 2378.25 L249.2 2378.27 L249.7 2378.29 L250.2 2378.31 L250.7 2378.32 L251.2 2378.34 L251.7 2378.35 L252.2 2378.36 L252.34 2378.36 L252.7 2358.01 L253.2 2329.91 L253.7 2301.8 L254.2 2273.69 L254.54 2254.69 L254.7 2260.7 L255.2 2279.27 L255.7 2297.83 L256.2 2316.39 L256.7 2334.95 L257.14 2351.21 L257.2 2351.88 L257.7 2356.69 L258.2 2360.64 L258.7 2363.87 L259.2 2366.52 L259.7 2368.68 L260.2 2370.46 L260.7 2371.91 L261.2 2373.1 L261.7 2374.08 L262.2 2374.88 L262.7 2375.54 L263.2 2376.07 L263.7 2376.52 L264.2 2376.88 L264.7 2377.17 L265.2 2377.42 L265.7 2377.62 L266.2 2377.78 L266.7 2377.92 L267.2 2378.03 L267.7 2378.12 L268.2 2378.2 L268.7 2378.27 L269.2 2378.32 L269.7 2378.36 L270.2 2378.4 L270.7 2378.43 L271.2 2378.46 L271.7 2378.48 L272.2 2378.5 L272.7 2378.51 L273.2 2378.53 L273.7 2378.54 L274.2 2378.55 L274.62 2378.56 L274.7 2374.11 L275.2 2346.3 L275.7 2318.49 L276.2 2290.68 L276.7 2262.86 L276.82 2256.19 L277.2 2270.15 L277.7 2288.52 L278.2 2306.88 L278.7 2325.25 L279.2 2343.61 L279.42 2351.7 L279.7 2354.55 L280.2 2358.92 L280.7 2362.5 L281.2 2365.43 L281.7 2367.83 L282.2 2369.79 L282.7 2371.4 L283.2 2372.72 L283.7 2373.8 L284.2 2374.69 L284.7 2375.42 L285.2 2376.01 L285.7 2376.5 L286.2 2376.9 L286.7 2377.23 L287.2 2377.5 L287.7 2377.72 L288.2 2377.9 L288.7 2378.05 L289.2 2378.18 L289.7 2378.28 L290.2 2378.36 L290.7 2378.43 L291.2 2378.49 L291.7 2378.54 L292.2 2378.58 L292.7 2378.61 L293.2 2378.64 L293.7 2378.67 L294.2 2378.69 L294.7 2378.7 L295.2 2378.72 L295.7 2378.73 L296.2 2378.75 L296.7 2378.76 L297.2 2378.76 L297.7 2378.77 L298.2 2378.78 L298.7 2378.79 L299.2 2378.79 L299.7 2378.8 L300.2 2378.81 L300.7 2378.81 L301.2 2378.82 L301.7 2378.82 L302.2 2378.83 L302.7 2378.83 L303.2 2378.84 L303.7 2378.84 L304.2 2378.85 L304.7 2378.85 L305.2 2378.86 L305.7 2378.86 L306.2 2378.87 L306.7 2378.87 L307.2 2378.88 L307.7 2378.88 L308.2 2378.89 L308.7 2378.89 L309.2 2378.89 L309.7 2378.9 L310.2 2378.9 L310.7 2378.91 L311.2 2378.91 L311.7 2378.92 L312.2 2378.92 L312.7 2378.93 L313.2 2378.93 L313.7 2378.93 L314.2 2378.94 L314.7 2378.94 L315.2 2378.95 L315.7 2378.95 L316.2 2378.96 L316.7 2378.96 L317.2 2378.97 L317.7 2378.97 L318.2 2378.97 L318.7 2378.98 L319.18 2378.98 L319.2 2378.1 L319.7 2350.51 L320.2 2322.93 L320.7 2295.34 L321.2 2267.75 L321.38 2257.6 L321.7 2269.11 L322.2 2287.33 L322.7 2305.54 L323.2 2323.76 L323.7 2341.97 L323.98 2352.32 L324.2 2354.53 L324.7 2358.98 L325.2 2362.62 L325.7 2365.6 L326.2 2368.04 L326.7 2370.04 L327.2 2371.68 L327.7 2373.02 L328.2 2374.12 L328.7 2375.02 L329.2 2375.76 L329.7 2376.36 L330.2 2376.86 L330.7 2377.27 L331.2 2377.6 L331.7 2377.88 L332.2 2378.1 L332.7 2378.29 L333.2 2378.44 L333.7 2378.57 L334.2 2378.67 L334.7 2378.75 L335.2 2378.83 L335.7 2378.88 L336.2 2378.93 L336.7 2378.97 L337.2 2379.01 L337.7 2379.04 L338.2 2379.06 L338.7 2379.08 L339.2 2379.1 L339.7 2379.12 L340.2 2379.13 L340.7 2379.14 L341.2 2379.15 L341.47 2379.16 L341.7 2353.93 L342.2 2300.03 L342.7 2246.13 L343.2 2192.23 L343.67 2141.99 L343.7 2144.41 L344.2 2180 L344.7 2215.58 L345.2 2251.17 L345.7 2286.75 L346.2 2322.34 L346.27 2327.04 L346.7 2335.36 L347.2 2343.32 L347.7 2349.83 L348.2 2355.17 L348.7 2359.53 L349.2 2363.11 L349.7 2366.04 L350.2 2368.44 L350.7 2370.41 L351.2 2372.02 L351.7 2373.34 L352.2 2374.42 L352.7 2375.3 L353.2 2376.03 L353.7 2376.62 L354.2 2377.11 L354.7 2377.51 L355.2 2377.84 L355.7 2378.11 L356.2 2378.33 L356.7 2378.52 L357.2 2378.67 L357.7 2378.79 L358.2 2378.89 L358.7 2378.98 L359.2 2379.05 L359.7 2379.1 L360.2 2379.15 L360.7 2379.19 L361.2 2379.23 L361.7 2379.25 L362.2 2379.28 L362.7 2379.3 L363.2 2379.32 L363.7 2379.33 L364.2 2379.35 L364.7 2379.36 L365.2 2379.37 L365.7 2379.38 L366.2 2379.39 L366.7 2379.39 L367.2 2379.4 L367.7 2379.41 L368.2 2379.41 L368.7 2379.42 L369.2 2379.43 L369.7 2379.43 L370.2 2379.44 L370.7 2379.44 L371.2 2379.45 L371.7 2379.45 L372.2 2379.46 L372.7 2379.46 L373.2 2379.47 L373.7 2379.47 L374.2 2379.48 L374.7 2379.48 L375.2 2379.48 L375.7 2379.49 L376.2 2379.49 L376.7 2379.5 L377.2 2379.5 L377.7 2379.51 L378.2 2379.51 L378.7 2379.52 L379.2 2379.52 L379.7 2379.52 L380.2 2379.53 L380.7 2379.53 L381.2 2379.54 L381.7 2379.54 L382.2 2379.55 L382.7 2379.55 L383.2 2379.56 L383.7 2379.56 L384.2 2379.56 L384.7 2379.57 L385.2 2379.57 L385.7 2379.58 L386.03 2379.58 L386.2 2359.3 L386.7 2299.64 L387.2 2239.99 L387.7 2180.33 L388.2 2120.68 L388.23 2117.1 L388.7 2154.12 L389.2 2193.5 L389.7 2232.88 L390.2 2272.26 L390.7 2311.64 L390.83 2321.87 L391.2 2329.82 L391.7 2338.85 L392.2 2346.25 L392.7 2352.31 L393.2 2357.27 L393.7 2361.33 L394.2 2364.65 L394.7 2367.38 L395.2 2369.61 L395.7 2371.43 L396.2 2372.93 L396.7 2374.16 L397.2 2375.16 L397.7 2375.99 L398.2 2376.66 L398.7 2377.21 L399.2 2377.67 L399.7 2378.04 L400.2 2378.35 L400.7 2378.6 L401.2 2378.8 L401.7 2378.97 L402.2 2379.11 L402.7 2379.23 L403.2 2379.32 L403.7 2379.4 L404.2 2379.47 L404.7 2379.52 L405.2 2379.57 L405.7 2379.61 L406.2 2379.64 L406.7 2379.66 L407.2 2379.69 L407.7 2379.71 L408.2 2379.72 L408.31 2379.73 L408.7 2359.49 L409.2 2333.41 L409.7 2307.33 L410.2 2281.25 L410.51 2264.98 L410.7 2271.46 L411.2 2288.68 L411.7 2305.91 L412.2 2323.14 L412.7 2340.37 L413.11 2354.56 L413.2 2355.43 L413.7 2359.86 L414.2 2363.48 L414.7 2366.45 L415.2 2368.88 L415.7 2370.87 L416.2 2372.5 L416.7 2373.84 L417.2 2374.94 L417.7 2375.83 L418.2 2376.57 L418.7 2377.17 L419.2 2377.67 L419.7 2378.07 L420.2 2378.4 L420.7 2378.68 L421.2 2378.9 L421.7 2379.09 L422.2 2379.24 L422.7 2379.36 L423.2 2379.47 L423.7 2379.55 L424.2 2379.62 L424.7 2379.68 L425.2 2379.73 L425.7 2379.77 L426.2 2379.81 L426.7 2379.83 L427.2 2379.86 L427.7 2379.88 L428.2 2379.9 L428.7 2379.91 L429.2 2379.93 L429.7 2379.94 L430.2 2379.95 L430.59 2379.96 L430.7 2373.99 L431.2 2345.87 L431.7 2317.74 L432.2 2289.61 L432.7 2261.48 L432.79 2256.19 L433.2 2271.27 L433.7 2289.85 L434.2 2308.43 L434.7 2327 L435.2 2345.58 L435.39 2352.78 L435.7 2355.92 L436.2 2360.3 L436.7 2363.88 L437.2 2366.81 L437.7 2369.21 L438.2 2371.18 L438.7 2372.79 L439.2 2374.11 L439.7 2375.19 L440.2 2376.08 L440.7 2376.81 L441.2 2377.4 L441.7 2377.89 L442.2 2378.29 L442.7 2378.62 L443.2 2378.89 L443.7 2379.11 L444.2 2379.3 L444.7 2379.45 L445.2 2379.57 L445.7 2379.67 L446.2 2379.76 L446.7 2379.83 L447.2 2379.89 L447.7 2379.93 L448.2 2379.97 L448.7 2380.01 L449.2 2380.04 L449.7 2380.06 L450.2 2380.08 L450.7 2380.1 L451.2 2380.11 L451.7 2380.13 L452.2 2380.14 L452.7 2380.15 L452.88 2380.15 L453.2 2362.55 L453.7 2335.37 L454.2 2308.2 L454.7 2281.03 L455.08 2260.59 L455.2 2265.04 L455.7 2282.99 L456.2 2300.93 L456.7 2318.88 L457.2 2336.82 L457.68 2353.91 L457.7 2354.16 L458.2 2358.89 L458.7 2362.76 L459.2 2365.93 L459.7 2368.53 L460.2 2370.66 L460.7 2372.4 L461.2 2373.83 L461.7 2375 L462.2 2375.95 L462.7 2376.74 L463.2 2377.38 L463.7 2377.91 L464.2 2378.34 L464.7 2378.7 L465.2 2378.99 L465.7 2379.23 L466.2 2379.43 L466.7 2379.59 L467.2 2379.72 L467.7 2379.83 L468.2 2379.92 L468.7 2380 L469.2 2380.06 L469.7 2380.11 L470.2 2380.16 L470.7 2380.19 L471.2 2380.22 L471.7 2380.25 L472.2 2380.27 L472.7 2380.29 L473.2 2380.31 L473.7 2380.32 L474.2 2380.33 L474.7 2380.34 L475.16 2380.35 L475.2 2378.09 L475.7 2351.19 L476.2 2324.29 L476.7 2297.39 L477.2 2270.49 L477.36 2261.99 L477.7 2274.14 L478.2 2291.91 L478.7 2309.67 L479.2 2327.44 L479.7 2345.2 L479.96 2354.37 L480.2 2356.78 L480.7 2361.07 L481.2 2364.58 L481.7 2367.46 L482.2 2369.82 L482.7 2371.75 L483.2 2373.33 L483.7 2374.62 L484.2 2375.68 L484.7 2376.55 L485.2 2377.27 L485.7 2377.85 L486.2 2378.33 L486.7 2378.72 L487.2 2379.05 L487.7 2379.31 L488.2 2379.53 L488.7 2379.71 L489.2 2379.86 L489.7 2379.98 L490.2 2380.08 L490.7 2380.16 L491.2 2380.23 L491.7 2380.29 L492.2 2380.34 L492.7 2380.38 L493.2 2380.41 L493.7 2380.44 L494.2 2380.46 L494.7 2380.48 L495.2 2380.5 L495.7 2380.51 L496.2 2380.53 L496.7 2380.54 L497.2 2380.55 L497.44 2380.55 L497.7 2366.19 L498.2 2338.56 L498.7 2310.93 L499.2 2283.3 L499.64 2258.99 L499.7 2261.18 L500.2 2279.43 L500.7 2297.67 L501.2 2315.91 L501.7 2334.16 L502.2 2352.4 L502.24 2353.86 L502.7 2358.36 L503.2 2362.4 L503.7 2365.71 L504.2 2368.42 L504.7 2370.63 L505.2 2372.45 L505.7 2373.94 L506.2 2375.16 L506.7 2376.16 L507.2 2376.97 L507.7 2377.64 L508.2 2378.19 L508.7 2378.64 L509.2 2379.01 L509.7 2379.32 L510.2 2379.57 L510.7 2379.77 L511.2 2379.94 L511.7 2380.08 L512.2 2380.19 L512.7 2380.29 L513.2 2380.36 L513.7 2380.43 L514.2 2380.48 L514.7 2380.52 L515.2 2380.56 L515.7 2380.59 L516.2 2380.62 L516.7 2380.64 L517.2 2380.66 L517.7 2380.67 L518.2 2380.69 L518.7 2380.7 L519.2 2380.71 L519.7 2380.72 L519.72 2380.72 L520.2 2354.55 L520.7 2327.18 L521.2 2299.81 L521.7 2272.44 L521.92 2260.29 L522.2 2270.34 L522.7 2288.41 L523.2 2306.49 L523.7 2324.56 L524.2 2342.64 L524.52 2354.27 L524.7 2356.1 L525.2 2360.58 L525.7 2364.24 L526.2 2367.25 L526.7 2369.7 L527.2 2371.72 L527.7 2373.37 L528.2 2374.72 L528.7 2375.83 L529.2 2376.73 L529.7 2377.48 L530.2 2378.09 L530.7 2378.59 L531.2 2379 L531.7 2379.33 L532.2 2379.61 L532.7 2379.83 L533.2 2380.02 L533.7 2380.17 L534.2 2380.3 L534.7 2380.4 L535.2 2380.49 L535.7 2380.56 L536.2 2380.62 L536.7 2380.67 L537.2 2380.71 L537.7 2380.74 L538.2 2380.77 L538.7 2380.79 L539.2 2380.81 L539.7 2380.83 L540.2 2380.84 L540.7 2380.86 L541.2 2380.87 L541.7 2380.88 L542 2380.88 L542.2 2370.68 L542.7 2344.66 L543.2 2318.64 L543.7 2292.62 L544.2 2266.6 L544.2 2266.39 L544.7 2283.44 L545.2 2300.62 L545.7 2317.8 L546.2 2334.99 L546.7 2352.17 L546.8 2355.74 L547.2 2359.44 L547.7 2363.34 L548.2 2366.54 L548.7 2369.15 L549.2 2371.3 L549.7 2373.05 L550.2 2374.49 L550.7 2375.67 L551.2 2376.63 L551.7 2377.42 L552.2 2378.07 L552.7 2378.6 L553.2 2379.04 L553.7 2379.4 L554.2 2379.69 L554.7 2379.93 L555.2 2380.13 L555.7 2380.29 L556.2 2380.42 L556.7 2380.53 L557.2 2380.63 L557.7 2380.7 L558.2 2380.76 L558.7 2380.81 L559.2 2380.86 L559.7 2380.89 L560.2 2380.92 L560.7 2380.95 L561.2 2380.97 L561.7 2380.99 L562.2 2381 L562.7 2381.02 L563.2 2381.03 L563.7 2381.04 L564.2 2381.05 L564.29 2381.05 L564.7 2360.6 L565.2 2335.91 L565.7 2311.21 L566.2 2286.52 L566.49 2272.39 L566.7 2279.37 L567.2 2295.68 L567.7 2311.99 L568.2 2328.29 L568.7 2344.6 L569.09 2357.19 L569.2 2358.26 L569.7 2362.4 L570.2 2365.8 L570.7 2368.58 L571.2 2370.86 L571.7 2372.72 L572.2 2374.25 L572.7 2375.5 L573.2 2376.52 L573.7 2377.36 L574.2 2378.05 L574.7 2378.62 L575.2 2379.08 L575.7 2379.46 L576.2 2379.77 L576.7 2380.02 L577.2 2380.23 L577.7 2380.41 L578.2 2380.55 L578.7 2380.67 L579.2 2380.76 L579.7 2380.84 L580.2 2380.91 L580.7 2380.96 L581.2 2381.01 L581.7 2381.04 L582.2 2381.08 L582.7 2381.1 L583.2 2381.13 L583.7 2381.14 L584.2 2381.16 L584.7 2381.17 L585.2 2381.19 L585.7 2381.2 L586.2 2381.21 L586.57 2381.21 L586.7 2374.23 L587.2 2347.77 L587.7 2321.31 L588.2 2294.85 L588.7 2268.39 L588.77 2264.79 L589.2 2279.89 L589.7 2297.36 L590.2 2314.83 L590.7 2332.3 L591.2 2349.78 L591.37 2355.65 L591.7 2358.84 L592.2 2362.91 L592.7 2366.24 L593.2 2368.97 L593.7 2371.21 L594.2 2373.04 L594.7 2374.54 L595.2 2375.76 L595.7 2376.77 L596.2 2377.6 L596.7 2378.27 L597.2 2378.83 L597.7 2379.28 L598.2 2379.65 L598.7 2379.96 L599.2 2380.21 L599.7 2380.42 L600.2 2380.59 L600.7 2380.72 L601.2 2380.84 L601.7 2380.93 L602.2 2381.01 L602.7 2381.08 L603.2 2381.13 L603.7 2381.18 L604.2 2381.21 L604.7 2381.24 L605.2 2381.27 L605.7 2381.29 L606.2 2381.31 L606.7 2381.33 L607.2 2381.34 L607.7 2381.35 L608.2 2381.36 L608.7 2381.37 L608.85 2381.37 L609.2 2329.9 L609.7 2256.35 L610.2 2182.81 L610.7 2109.27 L611.05 2057.79 L611.2 2072.35 L611.7 2120.9 L612.2 2169.45 L612.7 2218 L613.2 2266.54 L613.65 2310.23 L613.7 2311.64 L614.2 2324.3 L614.7 2334.66 L615.2 2343.14 L615.7 2350.09 L616.2 2355.78 L616.7 2360.44 L617.2 2364.25 L617.7 2367.37 L618.2 2369.93 L618.7 2372.02 L619.2 2373.74 L619.7 2375.15 L620.2 2376.3 L620.7 2377.24 L621.2 2378.01 L621.7 2378.65 L622.2 2379.17 L622.7 2379.59 L623.2 2379.94 L623.7 2380.23 L624.2 2380.46 L624.7 2380.66 L625.2 2380.82 L625.7 2380.95 L626.2 2381.05 L626.7 2381.14 L627.2 2381.22 L627.7 2381.28 L628.2 2381.33 L628.7 2381.37 L629.2 2381.41 L629.7 2381.43 L630.2 2381.46 L630.7 2381.48 L631.13 2381.5 L631.2 2378.22 L631.7 2354.13 L632.2 2330.03 L632.7 2305.93 L633.2 2281.84 L633.33 2275.47 L633.7 2287.19 L634.2 2303.11 L634.7 2319.03 L635.2 2334.95 L635.7 2350.86 L635.93 2358.25 L636.2 2360.62 L636.7 2364.43 L637.2 2367.55 L637.7 2370.1 L638.2 2372.19 L638.7 2373.9 L639.2 2375.3 L639.7 2376.45 L640.2 2377.39 L640.7 2378.16 L641.2 2378.8 L641.7 2379.32 L642.2 2379.74 L642.7 2380.09 L643.2 2380.37 L643.7 2380.61 L644.2 2380.8 L644.7 2380.96 L645.2 2381.09 L645.7 2381.2 L646.2 2381.29 L646.7 2381.36 L647.2 2381.42 L647.7 2381.47 L648.2 2381.51 L648.7 2381.55 L649.2 2381.58 L649.7 2381.6 L650.2 2381.62 L650.7 2381.64 L651.2 2381.66 L651.7 2381.67 L652.2 2381.68 L652.7 2381.69 L653.2 2381.7 L653.41 2381.7 L653.7 2339.01 L654.2 2264.37 L654.7 2189.73 L655.2 2115.09 L655.61 2053.29 L655.7 2061.77 L656.2 2111.04 L656.7 2160.31 L657.2 2209.58 L657.7 2258.85 L658.2 2308.12 L658.21 2309.5 L658.7 2322.27 L659.2 2333.06 L659.7 2341.89 L660.2 2349.12 L660.7 2355.05 L661.2 2359.89 L661.7 2363.87 L662.2 2367.12 L662.7 2369.78 L663.2 2371.96 L663.7 2373.75 L664.2 2375.21 L664.7 2376.41 L665.2 2377.39 L665.7 2378.2 L666.2 2378.86 L666.7 2379.4 L667.2 2379.84 L667.7 2380.2 L668.2 2380.5 L668.7 2380.75 L669.2 2380.95 L669.7 2381.11 L670.2 2381.25 L670.7 2381.36 L671.2 2381.45 L671.7 2381.53 L672.2 2381.59 L672.7 2381.65 L673.2 2381.69 L673.7 2381.73 L674.2 2381.76 L674.7 2381.78 L675.2 2381.8 L675.7 2381.82 L675.7 2381.63 L676.2 2357.8 L676.7 2333.98 L677.2 2310.15 L677.7 2286.31 L677.9 2276.97 L678.2 2286.55 L678.7 2302.29 L679.2 2318.03 L679.7 2333.77 L680.2 2349.52 L680.5 2358.83 L680.7 2360.64 L681.2 2364.51 L681.7 2367.67 L682.2 2370.26 L682.7 2372.38 L683.2 2374.11 L683.7 2375.54 L684.2 2376.7 L684.7 2377.66 L685.2 2378.44 L685.7 2379.08 L686.2 2379.61 L686.7 2380.04 L687.2 2380.39 L687.7 2380.68 L688.2 2380.92 L688.7 2381.12 L689.2 2381.28 L689.7 2381.41 L690.2 2381.52 L690.7 2381.61 L691.2 2381.68 L691.7 2381.74 L692.2 2381.79 L692.7 2381.84 L693.2 2381.87 L693.7 2381.9 L694.2 2381.93 L694.7 2381.95 L695.2 2381.97 L695.7 2381.98 L696.2 2381.99 L696.7 2382.01 L697.2 2382.02 L697.7 2382.02 L697.98 2382.03 L698.2 2370.66 L698.7 2345.06 L699.2 2319.47 L699.7 2293.87 L700.18 2269.39 L700.2 2270.14 L700.7 2287.04 L701.2 2303.95 L701.7 2320.85 L702.2 2337.75 L702.7 2354.66 L702.78 2357.3 L703.2 2361.15 L703.7 2364.95 L704.2 2368.06 L704.7 2370.61 L705.2 2372.69 L705.7 2374.4 L706.2 2375.8 L706.7 2376.95 L707.2 2377.89 L707.7 2378.66 L708.2 2379.29 L708.7 2379.81 L709.2 2380.23 L709.7 2380.58 L710.2 2380.87 L710.7 2381.1 L711.2 2381.29 L711.7 2381.45 L712.2 2381.58 L712.7 2381.69 L713.2 2381.78 L713.7 2381.85 L714.2 2381.91 L714.7 2381.96 L715.2 2382 L715.7 2382.04 L716.2 2382.07 L716.7 2382.09 L717.2 2382.11 L717.7 2382.13 L718.2 2382.15 L718.7 2382.16 L719.2 2382.17 L719.7 2382.18 L720.2 2382.19 L720.26 2382.19 L720.7 2359.63 L721.2 2334 L721.7 2308.36 L722.2 2282.72 L722.46 2269.39 L722.7 2277.52 L723.2 2294.45 L723.7 2311.38 L724.2 2328.31 L724.7 2345.23 L725.06 2357.42 L725.2 2358.78 L725.7 2363.04 L726.2 2366.52 L726.7 2369.38 L727.2 2371.72 L727.7 2373.63 L728.2 2375.2 L728.7 2376.49 L729.2 2377.54 L729.7 2378.4 L730.2 2379.11 L730.7 2379.69 L731.2 2380.16 L731.7 2380.55 L732.2 2380.87 L732.7 2381.14 L733.2 2381.35 L733.7 2381.53 L734.2 2381.67 L734.7 2381.79 L735.2 2381.89 L735.7 2381.98 L736.2 2382.04 L736.7 2382.1 L737.2 2382.14 L737.7 2382.18 L738.2 2382.22 L738.7 2382.24 L739.2 2382.27 L739.7 2382.29 L740.2 2382.3 L740.7 2382.32 L741.2 2382.33 L741.7 2382.34 L742.2 2382.35 L742.7 2382.36 L743.2 2382.36 L743.7 2382.37 L744.2 2382.38 L744.7 2382.38 L745.2 2382.39 L745.7 2382.39 L746.2 2382.4 L746.7 2382.4 L747.2 2382.41 L747.7 2382.41 L748.2 2382.42 L748.7 2382.42 L749.2 2382.42 L749.7 2382.43 L750.2 2382.43 L750.7 2382.44 L751.2 2382.44 L751.7 2382.44 L752.2 2382.45 L752.7 2382.45 L753.2 2382.46 L753.7 2382.46 L754.2 2382.46 L754.7 2382.47 L755.2 2382.47 L755.7 2382.47 L756.2 2382.48 L756.7 2382.48 L757.2 2382.48 L757.7 2382.49 L758.2 2382.49 L758.7 2382.5 L759.2 2382.5 L759.7 2382.5 L760.2 2382.51 L760.7 2382.51 L761.2 2382.51 L761.7 2382.52 L762.2 2382.52 L762.7 2382.52 L763.2 2382.53 L763.7 2382.53 L764.2 2382.54 L764.7 2382.54 L764.82 2382.54 L765.2 2348.27 L765.7 2302.69 L766.2 2257.11 L766.7 2211.53 L767.02 2182 L767.2 2192.59 L767.7 2222.68 L768.2 2252.77 L768.7 2282.85 L769.2 2312.94 L769.62 2338.45 L769.7 2339.77 L770.2 2347.54 L770.7 2353.89 L771.2 2359.1 L771.7 2363.36 L772.2 2366.85 L772.7 2369.71 L773.2 2372.05 L773.7 2373.96 L774.2 2375.53 L774.7 2376.82 L775.2 2377.87 L775.7 2378.74 L776.2 2379.44 L776.7 2380.02 L777.2 2380.5 L777.7 2380.89 L778.2 2381.21 L778.7 2381.47 L779.2 2381.69 L779.7 2381.87 L780.2 2382.01 L780.7 2382.13 L781.2 2382.23 L781.7 2382.31 L782.2 2382.38 L782.7 2382.44 L783.2 2382.48 L783.7 2382.52 L784.2 2382.55 L784.7 2382.58 L785.2 2382.6 L785.7 2382.62 L786.2 2382.64 L786.7 2382.65 L787.11 2382.66 L787.2 2369.33 L787.7 2298.4 L788.2 2227.48 L788.7 2156.55 L789.2 2085.62 L789.31 2070.58 L789.7 2107.48 L790.2 2154.31 L790.7 2201.13 L791.2 2247.95 L791.7 2294.78 L791.91 2314.07 L792.2 2321.69 L792.7 2332.76 L793.2 2341.82 L793.7 2349.25 L794.2 2355.32 L794.7 2360.3 L795.2 2364.37 L795.7 2367.71 L796.2 2370.44 L796.7 2372.68 L797.2 2374.52 L797.7 2376.02 L798.2 2377.25 L798.7 2378.25 L799.2 2379.08 L799.7 2379.76 L800.2 2380.31 L800.7 2380.77 L801.2 2381.14 L801.7 2381.45 L802.2 2381.7 L802.7 2381.9 L803.2 2382.07 L803.7 2382.21 L804.2 2382.33 L804.7 2382.42 L805.2 2382.5 L805.7 2382.56 L806.2 2382.62 L806.7 2382.66 L807.2 2382.7 L807.7 2382.73 L808.2 2382.76 L808.7 2382.78 L809.2 2382.8 L809.7 2382.81 L810.2 2382.83 L810.7 2382.84 L811.2 2382.85 L811.7 2382.86 L812.2 2382.87 L812.7 2382.87 L813.2 2382.88 L813.7 2382.89 L814.2 2382.89 L814.7 2382.9 L815.2 2382.9 L815.7 2382.91 L816.2 2382.91 L816.7 2382.92 L817.2 2382.92 L817.7 2382.93 L818.2 2382.93 L818.7 2382.93 L819.2 2382.94 L819.7 2382.94 L820.2 2382.95 L820.7 2382.95 L821.2 2382.95 L821.7 2382.96 L822.2 2382.96 L822.7 2382.96 L823.2 2382.97 L823.7 2382.97 L824.2 2382.98 L824.7 2382.98 L825.2 2382.98 L825.7 2382.99 L826.2 2382.99 L826.7 2382.99 L827.2 2383 L827.7 2383 L828.2 2383 L828.7 2383.01 L829.2 2383.01 L829.7 2383.02 L830.2 2383.02 L830.7 2383.02 L831.2 2383.03 L831.67 2383.03 L831.7 2381.65 L832.2 2358.59 L832.7 2335.54 L833.2 2312.49 L833.7 2289.44 L833.87 2281.6 L834.2 2291.65 L834.7 2306.87 L835.2 2322.09 L835.7 2337.31 L836.2 2352.53 L836.47 2360.75 L836.7 2362.71 L837.2 2366.4 L837.7 2369.43 L838.2 2371.91 L838.7 2373.94 L839.2 2375.6 L839.7 2376.96 L840.2 2378.07 L840.7 2378.99 L841.2 2379.74 L841.7 2380.35 L842.2 2380.85 L842.7 2381.26 L843.2 2381.6 L843.7 2381.88 L844.2 2382.11 L844.7 2382.3 L845.2 2382.45 L845.7 2382.58 L846.2 2382.68 L846.7 2382.77 L847.2 2382.84 L847.7 2382.9 L848.2 2382.95 L848.7 2382.99 L849.2 2383.02 L849.7 2383.05 L850.2 2383.07 L850.7 2383.09 L851.2 2383.11 L851.7 2383.13 L852.2 2383.14 L852.7 2383.15 L853.2 2383.16 L853.7 2383.17 L853.95 2383.17 L854.2 2382.53 L854.7 2381.24 L855.2 2379.95 L855.7 2378.66 L856.15 2377.49 L856.2 2377.57 L856.7 2378.44 L857.2 2379.3 L857.7 2380.16 L858.2 2381.02 L858.7 2381.88 L858.75 2381.97 L859.2 2382.18 L859.7 2382.37 L860.2 2382.53 L860.7 2382.67 L861.2 2382.77 L861.7 2382.86 L862.2 2382.94 L862.7 2383 L863.2 2383.05 L863.7 2383.09 L864.2 2383.13 L864.7 2383.16 L865.2 2383.18 L865.7 2383.2 L866.2 2383.22 L866.7 2383.23 L867.2 2383.25 L867.7 2383.26 L868.2 2383.27 L868.7 2383.28 L869.2 2383.29 L869.7 2383.29 L870.2 2383.3 L870.7 2383.31 L871.2 2383.31 L871.7 2383.32 L872.2 2383.32 L872.7 2383.33 L873.2 2383.33 L873.7 2383.34 L874.2 2383.34 L874.7 2383.34 L875.2 2383.35 L875.7 2383.35 L876.2 2383.36 L876.23 2383.36 L876.7 2360.95 L877.2 2336.92 L877.7 2312.88 L878.2 2288.85 L878.43 2277.6 L878.7 2286.04 L879.2 2301.91 L879.7 2317.78 L880.2 2333.65 L880.7 2349.52 L881.03 2360.12 L881.2 2361.62 L881.7 2365.57 L882.2 2368.8 L882.7 2371.45 L883.2 2373.62 L883.7 2375.4 L884.2 2376.86 L884.7 2378.05 L885.2 2379.03 L885.7 2379.83 L886.2 2380.48 L886.7 2381.02 L887.2 2381.46 L887.7 2381.82 L888.2 2382.12 L888.7 2382.36 L889.2 2382.56 L889.7 2382.73 L890.2 2382.86 L890.7 2382.98 L891.2 2383.07 L891.7 2383.14 L892.2 2383.21 L892.7 2383.26 L893.2 2383.3 L893.7 2383.34 L894.2 2383.37 L894.7 2383.39 L895.2 2383.42 L895.7 2383.43 L896.2 2383.45 L896.7 2383.46 L897.2 2383.47 L897.7 2383.48 L898.2 2383.49 L898.52 2383.5 L898.7 2373.37 L899.2 2345.85 L899.7 2318.32 L900.2 2290.8 L900.7 2263.27 L900.72 2262.39 L901.2 2279.99 L901.7 2298.16 L902.2 2316.34 L902.7 2334.51 L903.2 2352.69 L903.32 2356.9 L903.7 2360.7 L904.2 2364.85 L904.7 2368.24 L905.2 2371.02 L905.7 2373.3 L906.2 2375.17 L906.7 2376.7 L907.2 2377.95 L907.7 2378.97 L908.2 2379.81 L908.7 2380.5 L909.2 2381.07 L909.7 2381.53 L910.2 2381.91 L910.7 2382.22 L911.2 2382.48 L911.7 2382.69 L912.2 2382.86 L912.7 2383 L913.2 2383.12 L913.7 2383.21 L914.2 2383.29 L914.7 2383.36 L915.2 2383.41 L915.7 2383.46 L916.2 2383.5 L916.7 2383.53 L917.2 2383.55 L917.7 2383.58 L918.2 2383.6 L918.7 2383.61 L919.2 2383.63 L919.7 2383.64 L920.2 2383.65 L920.7 2383.66 L920.8 2383.66 L921.2 2365.28 L921.7 2342.43 L922.2 2319.57 L922.7 2296.71 L923 2283.09 L923.2 2289.19 L923.7 2304.28 L924.2 2319.38 L924.7 2334.47 L925.2 2349.57 L925.6 2361.58 L925.7 2362.47 L926.2 2366.32 L926.7 2369.48 L927.2 2372.07 L927.7 2374.19 L928.2 2375.92 L928.7 2377.34 L929.2 2378.5 L929.7 2379.46 L930.2 2380.24 L930.7 2380.88 L931.2 2381.41 L931.7 2381.84 L932.2 2382.19 L932.7 2382.48 L933.2 2382.72 L933.7 2382.91 L934.2 2383.07 L934.7 2383.2 L935.2 2383.31 L935.7 2383.4 L936.2 2383.48 L936.7 2383.54 L937.2 2383.59 L937.7 2383.63 L938.2 2383.67 L938.7 2383.7 L939.2 2383.72 L939.7 2383.74 L940.2 2383.76 L940.7 2383.78 L941.2 2383.79 L941.7 2383.8 L942.2 2383.81 L942.7 2383.82 L943.08 2383.83 L943.2 2378.25 L943.7 2355.02 L944.2 2331.78 L944.7 2308.55 L945.2 2285.31 L945.28 2281.59 L945.7 2294.48 L946.2 2309.83 L946.7 2325.17 L947.2 2340.51 L947.7 2355.86 L947.88 2361.38 L948.2 2364.09 L948.7 2367.68 L949.2 2370.62 L949.7 2373.03 L950.2 2375 L950.7 2376.62 L951.2 2377.94 L951.7 2379.03 L952.2 2379.92 L952.7 2380.64 L953.2 2381.24 L953.7 2381.73 L954.2 2382.13 L954.7 2382.46 L955.2 2382.73 L955.7 2382.95 L956.2 2383.14 L956.7 2383.29 L957.2 2383.41 L957.7 2383.51 L958.2 2383.59 L958.7 2383.66 L959.2 2383.72 L959.7 2383.77 L960.2 2383.81 L960.7 2383.84 L961.2 2383.87 L961.7 2383.89 L962.2 2383.91 L962.7 2383.93 L963.2 2383.95 L963.7 2383.96" fill="none" stroke="#7068b8" stroke-width="2.3" stroke-linejoin="round"/>
</g>
<rect x="6.5" y="2022.3" width="972.5" height="411.7" fill="none" stroke="#1f1b1c" stroke-width="3.4"/>
<text x="312.79" y="2062.7" font-family="Liberation Sans" font-size="41.3" fill="#0c0c0c" textLength="160.06" lengthAdjust="spacingAndGlyphs" style="font-kerning:none" xml:space="preserve" stroke="#fff" stroke-width="0.5" stroke-opacity="0.8">Isolate #5</text>
<text x="524.37" y="2062.7" font-family="Liberation Sans" font-size="41.3" fill="#0c0c0c" textLength="424.39" lengthAdjust="spacingAndGlyphs" style="font-kerning:none" xml:space="preserve" stroke="#fff" stroke-width="0.5" stroke-opacity="0.8">PCR result: CTX-M-1 group</text>
<text x="57.05" y="551" font-family="Liberation Sans" font-size="40.1" fill="#0c0c0c" textLength="185.36" lengthAdjust="spacingAndGlyphs" style="font-kerning:none" xml:space="preserve" stroke="#fff" stroke-width="0.5">SHV-156G:</text>
<text x="253.65" y="551" font-family="Liberation Sans" font-size="40.1" fill="#0c0c0c" textLength="224.64" lengthAdjust="spacingAndGlyphs" style="font-kerning:none" xml:space="preserve" stroke="#fff" stroke-width="0.5">G/ATTGTCG[</text>
<text x="477.95" y="551" font-family="Liberation Sans" font-size="40.1" font-weight="bold" fill="#e01e3a" textLength="21.98" lengthAdjust="spacingAndGlyphs" style="font-kerning:none" xml:space="preserve">C</text>
<text x="501.51" y="551" font-family="Liberation Sans" font-size="40.1" fill="#0c0c0c" textLength="1214.57" lengthAdjust="spacingAndGlyphs" style="font-kerning:none" xml:space="preserve" stroke="#fff" stroke-width="0.5">]CGATCTC/GGCGCAAAAAGGCAGTCAATG/CCTGCGGGGCCGCCGA</text>
<text x="57.08" y="603.2" font-family="Liberation Sans" font-size="40.1" fill="#0c0c0c" textLength="180.58" lengthAdjust="spacingAndGlyphs" style="font-kerning:none" xml:space="preserve" stroke="#fff" stroke-width="0.5">SHV-156D:</text>
<text x="248.96" y="603.2" font-family="Liberation Sans" font-size="40.1" fill="#0c0c0c" textLength="223.83" lengthAdjust="spacingAndGlyphs" style="font-kerning:none" xml:space="preserve" stroke="#fff" stroke-width="0.5">G/ATTGTCG[</text>
<text x="472.68" y="603.2" font-family="Liberation Sans" font-size="40.1" font-weight="bold" fill="#e01e3a" textLength="17.63" lengthAdjust="spacingAndGlyphs" style="font-kerning:none" xml:space="preserve">T</text>
<text x="490.91" y="603.2" font-family="Liberation Sans" font-size="40.1" fill="#0c0c0c" textLength="1213.17" lengthAdjust="spacingAndGlyphs" style="font-kerning:none" xml:space="preserve" stroke="#fff" stroke-width="0.5">]CGATCTC/GGCGCAAAAAGGCAGTCAATG/CCTGCGGGGCCGCCGA</text>
<text x="57.64" y="1216.4" font-family="Liberation Sans" font-size="40.1" fill="#0c0c0c" textLength="272.71" lengthAdjust="spacingAndGlyphs" style="font-kerning:none" xml:space="preserve" stroke="#fff" stroke-width="0.5">SHV-238G240E:</text>
<text x="341.45" y="1216.4" font-family="Liberation Sans" font-size="40.1" fill="#0c0c0c" textLength="55.42" lengthAdjust="spacingAndGlyphs" style="font-kerning:none" xml:space="preserve" stroke="#fff" stroke-width="0.5">CT[</text>
<text x="396.42" y="1216.4" font-family="Liberation Sans" font-size="40.1" font-weight="bold" fill="#e01e3a" textLength="29.97" lengthAdjust="spacingAndGlyphs" style="font-kerning:none" xml:space="preserve">G</text>
<text x="425.1" y="1216.4" font-family="Liberation Sans" font-size="40.1" fill="#0c0c0c" textLength="78.6" lengthAdjust="spacingAndGlyphs" style="font-kerning:none" xml:space="preserve" stroke="#fff" stroke-width="0.5">]GC[</text>
<text x="503.64" y="1216.4" font-family="Liberation Sans" font-size="40.1" font-weight="bold" fill="#e01e3a" textLength="29.51" lengthAdjust="spacingAndGlyphs" style="font-kerning:none" xml:space="preserve">G</text>
<text x="531.91" y="1216.4" font-family="Liberation Sans" font-size="40.1" fill="#0c0c0c" textLength="646.99" lengthAdjust="spacingAndGlyphs" style="font-kerning:none" xml:space="preserve" stroke="#fff" stroke-width="0.5">]A[G]CGGGGTGCGCGCGGGATTGTC</text>
<text x="57.67" y="1268.3" font-family="Liberation Sans" font-size="40.1" fill="#0c0c0c" textLength="263.1" lengthAdjust="spacingAndGlyphs" style="font-kerning:none" xml:space="preserve" stroke="#fff" stroke-width="0.5">SHV-238S240E:</text>
<text x="342.85" y="1268.3" font-family="Liberation Sans" font-size="40.1" fill="#0c0c0c" textLength="55.42" lengthAdjust="spacingAndGlyphs" style="font-kerning:none" xml:space="preserve" stroke="#fff" stroke-width="0.5">CT[</text>
<text x="398.49" y="1268.3" font-family="Liberation Sans" font-size="40.1" font-weight="bold" fill="#e01e3a" textLength="26.48" lengthAdjust="spacingAndGlyphs" style="font-kerning:none" xml:space="preserve">A</text>
<text x="425.1" y="1268.3" font-family="Liberation Sans" font-size="40.1" fill="#0c0c0c" textLength="78.6" lengthAdjust="spacingAndGlyphs" style="font-kerning:none" xml:space="preserve" stroke="#fff" stroke-width="0.5">]GC[</text>
<text x="503.22" y="1268.3" font-family="Liberation Sans" font-size="40.1" font-weight="bold" fill="#e01e3a" textLength="29.97" lengthAdjust="spacingAndGlyphs" style="font-kerning:none" xml:space="preserve">G</text>
<text x="531.91" y="1268.3" font-family="Liberation Sans" font-size="40.1" fill="#0c0c0c" textLength="692.72" lengthAdjust="spacingAndGlyphs" style="font-kerning:none" xml:space="preserve" stroke="#fff" stroke-width="0.5">]A[A/G]CGGGGTGCGCGCGGGATTGTC</text>
<text x="56.93" y="1882.9" font-family="Liberation Sans" font-size="40.1" fill="#0c0c0c" textLength="78.75" lengthAdjust="spacingAndGlyphs" style="font-kerning:none" xml:space="preserve" stroke="#fff" stroke-width="0.5">KPC:</text>
<text x="147.34" y="1882.9" font-family="Liberation Sans" font-size="40.1" fill="#0c0c0c" textLength="1207.4" lengthAdjust="spacingAndGlyphs" style="font-kerning:none" xml:space="preserve" stroke="#fff" stroke-width="0.5">CGCCTGGGATGGCGGAGTTCAGCTCCAGCTCCCAGCGGTCCAGACG</text>
<text x="57.73" y="2497.1" font-family="Liberation Sans" font-size="40.1" fill="#0c0c0c" textLength="78.75" lengthAdjust="spacingAndGlyphs" style="font-kerning:none" xml:space="preserve" stroke="#fff" stroke-width="0.5">KPC:</text>
<text x="146.74" y="2497.1" font-family="Liberation Sans" font-size="40.1" fill="#0c0c0c" textLength="1207.2" lengthAdjust="spacingAndGlyphs" style="font-kerning:none" xml:space="preserve" stroke="#fff" stroke-width="0.5">CGCCTGGGATGGCGGAGTTCAGCTCCAGCTCCCAGCGGTCCAGACG</text>
<text x="57.91" y="2549.6" font-family="Liberation Sans" font-size="40.1" fill="#0c0c0c" textLength="252.2" lengthAdjust="spacingAndGlyphs" style="font-kerning:none" xml:space="preserve" stroke="#fff" stroke-width="0.5">CTX-M-1 group:</text>
<text x="322.63" y="2549.6" font-family="Liberation Sans" font-size="40.1" fill="#0c0c0c" textLength="52.1" lengthAdjust="spacingAndGlyphs" style="font-kerning:none" xml:space="preserve" stroke="#fff" stroke-width="0.5">AC</text>
<text x="372.69" y="2549.6" font-family="Liberation Sans" font-size="40.1" font-weight="bold" fill="#e01e3a" textLength="65.33" lengthAdjust="spacingAndGlyphs" style="font-kerning:none" xml:space="preserve">G/T</text>
<text x="436.71" y="2549.6" font-family="Liberation Sans" font-size="40.1" fill="#0c0c0c" textLength="134.27" lengthAdjust="spacingAndGlyphs" style="font-kerning:none" xml:space="preserve" stroke="#fff" stroke-width="0.5">CTGCG</text>
<text x="567.75" y="2549.6" font-family="Liberation Sans" font-size="40.1" font-weight="bold" fill="#e01e3a" textLength="67.26" lengthAdjust="spacingAndGlyphs" style="font-kerning:none" xml:space="preserve">T/G</text>
<text x="632.43" y="2549.6" font-family="Liberation Sans" font-size="40.1" fill="#0c0c0c" textLength="657.67" lengthAdjust="spacingAndGlyphs" style="font-kerning:none" xml:space="preserve" stroke="#fff" stroke-width="0.5">AATCTGACGCTGGGTAAAGCATTGGG</text>
<text x="1286.96" y="2549.6" font-family="Liberation Sans" font-size="40.1" font-weight="bold" fill="#e01e3a" textLength="105.43" lengthAdjust="spacingAndGlyphs" style="font-kerning:none" xml:space="preserve">T/G/C</text>
<text x="1390.75" y="2549.6" font-family="Liberation Sans" font-size="40.1" fill="#0c0c0c" textLength="140.15" lengthAdjust="spacingAndGlyphs" style="font-kerning:none" xml:space="preserve" stroke="#fff" stroke-width="0.5">GACAG</text>
</svg></body></html>
